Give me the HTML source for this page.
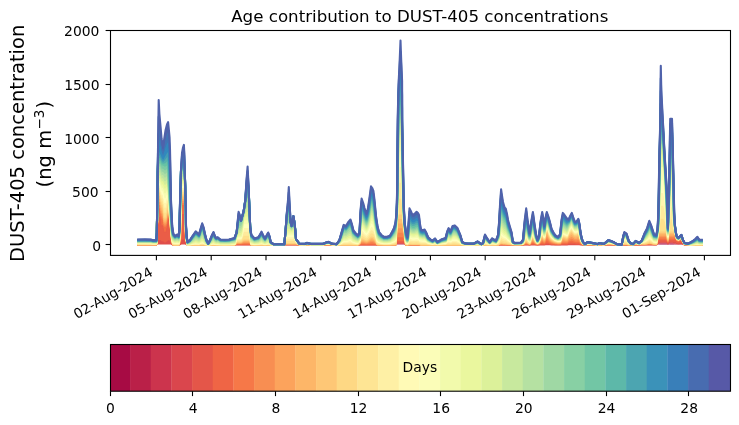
<!DOCTYPE html><html><head><meta charset="utf-8"><title>Age contribution to DUST-405 concentrations</title>
<style>html,body{margin:0;padding:0;background:#fff}svg{display:block}text{font-family:"DejaVu Sans","Liberation Sans",sans-serif;fill:#000}</style></head><body>
<svg width="739" height="425" viewBox="0 0 739 425">
<rect width="739" height="425" fill="#fff"/>
<g id="areas">
<polygon points="137.2,244.5 145,244.5 151,244.5 153,244.5 156.3,244.5 156.8,244.5 157.1,244.5 157.7,244.5 158.3,244.5 158.7,244.5 159.4,244.5 160.6,244.5 161.6,244.5 163.1,244.5 164.4,244.5 165.6,244.5 167,244.5 168.1,244.5 168.9,244.5 169.6,244.5 170,244.5 170.4,244.5 171,244.5 171.6,244.5 172.2,244.5 173.3,244.5 175,244.5 177.4,244.5 178.6,244.5 179.5,244.5 179.8,244.5 180.3,244.5 181,244.5 182,244.5 183,244.5 183.9,244.5 184.3,244.5 184.6,244.5 185.2,244.5 185.8,244.5 186,244.5 186.6,244.5 187.6,244.5 190,244.5 192.5,244.5 195.7,244.5 197.5,244.5 199,244.5 200.5,244.5 202.2,244.5 203.5,244.5 205,244.5 206.5,244.5 208.2,244.5 210,244.5 212,244.5 213.5,244.5 215,244.5 216.3,244.5 217.7,244.5 220.4,244.5 225,244.5 229,244.5 234.5,244.5 236.6,244.5 238.6,244.5 239.8,244.5 241,244.5 243.7,244.5 245.3,244.5 246.5,244.5 247.6,244.5 248.5,244.5 249.1,244.5 250.2,244.5 251.3,244.5 254.5,244.5 258.3,244.5 260,244.5 261.5,244.5 263,244.5 265,244.5 266.8,244.5 268.2,244.5 269.5,244.5 270.7,244.5 273.4,244.5 284.3,244.5 285.4,244.5 287,244.5 288,244.5 288.8,244.5 289.6,244.5 290.6,244.5 291.6,244.5 293.4,244.5 294.4,244.5 295.3,244.5 296,244.5 299.3,244.5 305,244.5 307,244.5 311,244.5 323,244.5 326,244.5 328.5,244.5 331.8,244.5 336.7,244.5 339.4,244.5 341.5,244.5 343.7,244.5 345.9,244.5 348.6,244.5 350.5,244.5 351.8,244.5 353.4,244.5 355.5,244.5 357.8,244.5 359.5,244.5 360.5,244.5 361.6,244.5 363.2,244.5 364.5,244.5 366.5,244.5 368,244.5 369.6,244.5 371,244.5 372.2,244.5 373.4,244.5 374.5,244.5 376,244.5 377.5,244.5 379,244.5 381.5,244.5 384,244.5 387,244.5 390,244.5 392,244.5 394,244.5 395.6,244.5 396.5,244.2 396.9,244.2 397.2,244.2 397.6,244.2 398.7,244.2 399.7,244.2 400.5,244.2 401.2,244.2 402.1,244.2 402.2,244.2 402.8,244.2 403.4,244.2 403.8,244.2 404.6,244.2 406,244.5 407.4,244.5 408.4,244.5 409.5,244.5 410.8,244.5 412,244.5 414,244.5 416.6,244.5 418,244.5 419,244.5 420,244.5 421,244.5 422.6,244.5 424.6,244.5 426,244.5 428.2,244.5 430.5,244.5 432.6,244.5 435,244.5 437.4,244.5 441.2,244.5 445.6,244.5 447.2,244.5 448.6,244.5 450.4,244.5 452.6,244.5 454.8,244.5 457.5,244.5 460.2,244.5 462.3,244.5 465,244.5 468.3,244.5 473.7,244.5 477.5,244.5 481.3,244.5 483,244.5 485,244.5 487.2,244.5 489.7,244.5 492.1,244.5 495.9,244.5 498.1,244.5 499.1,244.5 500,244.5 501.1,244.5 502.2,244.5 503,244.5 504.6,244.5 505.8,244.5 507,244.5 508,244.5 510,244.5 511.5,244.5 512.9,244.5 514.5,244.5 521,244.5 523,244.5 524.5,244.5 526.2,244.5 527.8,244.5 529.6,244.5 531.2,244.5 532.9,244.5 534.5,244.5 536,244.5 537.5,244.5 539,244.5 540.5,244.5 542.2,244.5 543.2,244.5 544.3,244.5 545.5,244.5 546.8,244.5 548.2,244.5 549.9,244.5 551.6,244.5 553.5,244.5 555.5,244.5 558,244.5 560.1,244.5 561.5,244.5 562.8,244.5 564.5,244.5 566.9,244.5 568.6,244.5 570.4,244.5 571.8,244.5 573.4,244.5 575,244.5 576.5,244.5 578.3,244.5 579.5,244.5 580.3,244.5 581.6,244.5 583,244.5 584.9,244.5 587.6,244.5 593,244.5 597.3,244.5 599.5,244.5 603.8,244.5 606,244.5 608.4,244.5 610.5,244.5 613.5,244.5 616.8,244.5 621.7,244.5 623.3,244.5 624.4,244.5 626.5,244.5 628.7,244.5 630.5,244.5 633,244.5 635.7,244.5 639,244.5 641.7,244.5 644.4,244.5 647.1,244.5 649.3,244.5 651.4,244.5 654.1,244.5 656.3,244.5 657.6,244.3 658.2,244.3 658.6,244.2 659.4,244.1 660.2,244 660.5,244 660.8,244 661.3,244 663.1,244 664.4,244 665.6,244 666.9,244 667.4,244.1 667.9,244.3 668.3,244.1 668.9,244 669.3,244.2 669.7,244 670,244 670.2,244 672,244 672.3,244 672.8,244 673.3,244 673.8,244.1 674.2,244.2 675,244.1 676.2,244.3 677,244.3 678.4,244.4 681.4,244.3 683,244.4 684.6,244.5 687.9,244.5 690.5,244.5 693.3,244.5 695.5,244.5 697.4,244.5 699.2,244.5 702.8,244.5 702.8,244.5 699.2,244.5 697.4,244.5 695.5,244.5 693.3,244.5 690.5,244.5 687.9,244.5 684.6,244.5 683,244.5 681.4,244.5 678.4,244.5 677,244.5 676.2,244.5 675,244.5 674.2,244.5 673.8,244.5 673.3,244.5 672.8,244.5 672.3,244.5 672,244.5 670.2,244.5 670,244.5 669.7,244.5 669.3,244.5 668.9,244.5 668.3,244.5 667.9,244.5 667.4,244.5 666.9,244.5 665.6,244.5 664.4,244.5 663.1,244.5 661.3,244.5 660.8,244.5 660.5,244.5 660.2,244.5 659.4,244.5 658.6,244.5 658.2,244.5 657.6,244.5 656.3,244.5 654.1,244.5 651.4,244.5 649.3,244.5 647.1,244.5 644.4,244.5 641.7,244.5 639,244.5 635.7,244.5 633,244.5 630.5,244.5 628.7,244.5 626.5,244.5 624.4,244.5 623.3,244.5 621.7,244.5 616.8,244.5 613.5,244.5 610.5,244.5 608.4,244.5 606,244.5 603.8,244.5 599.5,244.5 597.3,244.5 593,244.5 587.6,244.5 584.9,244.5 583,244.5 581.6,244.5 580.3,244.5 579.5,244.5 578.3,244.5 576.5,244.5 575,244.5 573.4,244.5 571.8,244.5 570.4,244.5 568.6,244.5 566.9,244.5 564.5,244.5 562.8,244.5 561.5,244.5 560.1,244.5 558,244.5 555.5,244.5 553.5,244.5 551.6,244.5 549.9,244.5 548.2,244.5 546.8,244.5 545.5,244.5 544.3,244.5 543.2,244.5 542.2,244.5 540.5,244.5 539,244.5 537.5,244.5 536,244.5 534.5,244.5 532.9,244.5 531.2,244.5 529.6,244.5 527.8,244.5 526.2,244.5 524.5,244.5 523,244.5 521,244.5 514.5,244.5 512.9,244.5 511.5,244.5 510,244.5 508,244.5 507,244.5 505.8,244.5 504.6,244.5 503,244.5 502.2,244.5 501.1,244.5 500,244.5 499.1,244.5 498.1,244.5 495.9,244.5 492.1,244.5 489.7,244.5 487.2,244.5 485,244.5 483,244.5 481.3,244.5 477.5,244.5 473.7,244.5 468.3,244.5 465,244.5 462.3,244.5 460.2,244.5 457.5,244.5 454.8,244.5 452.6,244.5 450.4,244.5 448.6,244.5 447.2,244.5 445.6,244.5 441.2,244.5 437.4,244.5 435,244.5 432.6,244.5 430.5,244.5 428.2,244.5 426,244.5 424.6,244.5 422.6,244.5 421,244.5 420,244.5 419,244.5 418,244.5 416.6,244.5 414,244.5 412,244.5 410.8,244.5 409.5,244.5 408.4,244.5 407.4,244.5 406,244.5 404.6,244.5 403.8,244.5 403.4,244.5 402.8,244.5 402.2,244.5 402.1,244.5 401.2,244.5 400.5,244.5 399.7,244.5 398.7,244.5 397.6,244.5 397.2,244.5 396.9,244.5 396.5,244.5 395.6,244.5 394,244.5 392,244.5 390,244.5 387,244.5 384,244.5 381.5,244.5 379,244.5 377.5,244.5 376,244.5 374.5,244.5 373.4,244.5 372.2,244.5 371,244.5 369.6,244.5 368,244.5 366.5,244.5 364.5,244.5 363.2,244.5 361.6,244.5 360.5,244.5 359.5,244.5 357.8,244.5 355.5,244.5 353.4,244.5 351.8,244.5 350.5,244.5 348.6,244.5 345.9,244.5 343.7,244.5 341.5,244.5 339.4,244.5 336.7,244.5 331.8,244.5 328.5,244.5 326,244.5 323,244.5 311,244.5 307,244.5 305,244.5 299.3,244.5 296,244.5 295.3,244.5 294.4,244.5 293.4,244.5 291.6,244.5 290.6,244.5 289.6,244.5 288.8,244.5 288,244.5 287,244.5 285.4,244.5 284.3,244.5 273.4,244.5 270.7,244.5 269.5,244.5 268.2,244.5 266.8,244.5 265,244.5 263,244.5 261.5,244.5 260,244.5 258.3,244.5 254.5,244.5 251.3,244.5 250.2,244.5 249.1,244.5 248.5,244.5 247.6,244.5 246.5,244.5 245.3,244.5 243.7,244.5 241,244.5 239.8,244.5 238.6,244.5 236.6,244.5 234.5,244.5 229,244.5 225,244.5 220.4,244.5 217.7,244.5 216.3,244.5 215,244.5 213.5,244.5 212,244.5 210,244.5 208.2,244.5 206.5,244.5 205,244.5 203.5,244.5 202.2,244.5 200.5,244.5 199,244.5 197.5,244.5 195.7,244.5 192.5,244.5 190,244.5 187.6,244.5 186.6,244.5 186,244.5 185.8,244.5 185.2,244.5 184.6,244.5 184.3,244.5 183.9,244.5 183,244.5 182,244.5 181,244.5 180.3,244.5 179.8,244.5 179.5,244.5 178.6,244.5 177.4,244.5 175,244.5 173.3,244.5 172.2,244.5 171.6,244.5 171,244.5 170.4,244.5 170,244.5 169.6,244.5 168.9,244.5 168.1,244.5 167,244.5 165.6,244.5 164.4,244.5 163.1,244.5 161.6,244.5 160.6,244.5 159.4,244.5 158.7,244.5 158.3,244.5 157.7,244.5 157.1,244.5 156.8,244.5 156.3,244.5 153,244.5 151,244.5 145,244.5 137.2,244.5" fill="#9e0142"/>
<polygon points="137.2,244.5 145,244.5 151,244.5 153,244.5 156.3,244.5 156.8,244.5 157.1,244.5 157.7,244.5 158.3,244.5 158.7,244.5 159.4,244.5 160.6,244.5 161.6,244.5 163.1,244.5 164.4,244.5 165.6,244.5 167,244.5 168.1,244.5 168.9,244.5 169.6,244.5 170,244.5 170.4,244.5 171,244.5 171.6,244.5 172.2,244.5 173.3,244.5 175,244.5 177.4,244.5 178.6,244.5 179.5,244.5 179.8,244.5 180.3,244.5 181,244.5 182,244.5 183,244.5 183.9,244.5 184.3,244.5 184.6,244.5 185.2,244.5 185.8,244.5 186,244.5 186.6,244.5 187.6,244.5 190,244.5 192.5,244.5 195.7,244.5 197.5,244.5 199,244.5 200.5,244.5 202.2,244.5 203.5,244.5 205,244.5 206.5,244.5 208.2,244.5 210,244.5 212,244.5 213.5,244.5 215,244.5 216.3,244.5 217.7,244.5 220.4,244.5 225,244.5 229,244.5 234.5,244.5 236.6,244.5 238.6,244.5 239.8,244.5 241,244.5 243.7,244.5 245.3,244.5 246.5,244.5 247.6,244.5 248.5,244.5 249.1,244.5 250.2,244.5 251.3,244.5 254.5,244.5 258.3,244.5 260,244.5 261.5,244.5 263,244.5 265,244.5 266.8,244.5 268.2,244.5 269.5,244.5 270.7,244.5 273.4,244.5 284.3,244.5 285.4,244.5 287,244.5 288,244.5 288.8,244.5 289.6,244.5 290.6,244.5 291.6,244.5 293.4,244.5 294.4,244.5 295.3,244.5 296,244.5 299.3,244.5 305,244.5 307,244.5 311,244.5 323,244.5 326,244.5 328.5,244.5 331.8,244.5 336.7,244.5 339.4,244.5 341.5,244.5 343.7,244.5 345.9,244.5 348.6,244.5 350.5,244.5 351.8,244.5 353.4,244.5 355.5,244.5 357.8,244.5 359.5,244.5 360.5,244.5 361.6,244.5 363.2,244.5 364.5,244.5 366.5,244.5 368,244.5 369.6,244.5 371,244.5 372.2,244.5 373.4,244.5 374.5,244.5 376,244.5 377.5,244.5 379,244.5 381.5,244.5 384,244.5 387,244.5 390,244.5 392,244.5 394,244.5 395.6,244.5 396.5,243.9 396.9,243.9 397.2,243.9 397.6,243.9 398.7,243.9 399.7,243.9 400.5,243.9 401.2,243.9 402.1,243.9 402.2,243.9 402.8,243.9 403.4,243.9 403.8,243.9 404.6,243.9 406,244.5 407.4,244.5 408.4,244.5 409.5,244.5 410.8,244.5 412,244.5 414,244.5 416.6,244.5 418,244.5 419,244.5 420,244.5 421,244.5 422.6,244.5 424.6,244.5 426,244.5 428.2,244.5 430.5,244.5 432.6,244.5 435,244.5 437.4,244.5 441.2,244.5 445.6,244.5 447.2,244.5 448.6,244.5 450.4,244.5 452.6,244.5 454.8,244.5 457.5,244.5 460.2,244.5 462.3,244.5 465,244.5 468.3,244.5 473.7,244.5 477.5,244.5 481.3,244.5 483,244.5 485,244.5 487.2,244.5 489.7,244.5 492.1,244.5 495.9,244.5 498.1,244.5 499.1,244.5 500,244.5 501.1,244.5 502.2,244.5 503,244.5 504.6,244.5 505.8,244.5 507,244.5 508,244.5 510,244.5 511.5,244.5 512.9,244.5 514.5,244.5 521,244.5 523,244.5 524.5,244.5 526.2,244.5 527.8,244.5 529.6,244.5 531.2,244.5 532.9,244.5 534.5,244.5 536,244.5 537.5,244.5 539,244.5 540.5,244.5 542.2,244.5 543.2,244.5 544.3,244.5 545.5,244.5 546.8,244.5 548.2,244.5 549.9,244.5 551.6,244.5 553.5,244.5 555.5,244.5 558,244.5 560.1,244.5 561.5,244.5 562.8,244.5 564.5,244.5 566.9,244.5 568.6,244.5 570.4,244.5 571.8,244.5 573.4,244.5 575,244.5 576.5,244.5 578.3,244.5 579.5,244.5 580.3,244.5 581.6,244.5 583,244.5 584.9,244.5 587.6,244.5 593,244.5 597.3,244.5 599.5,244.5 603.8,244.5 606,244.5 608.4,244.5 610.5,244.5 613.5,244.5 616.8,244.5 621.7,244.5 623.3,244.5 624.4,244.5 626.5,244.5 628.7,244.5 630.5,244.5 633,244.5 635.7,244.5 639,244.5 641.7,244.5 644.4,244.5 647.1,244.5 649.3,244.5 651.4,244.5 654.1,244.5 656.3,244.5 657.6,244.1 658.2,244 658.6,244 659.4,243.6 660.2,243.5 660.5,243.5 660.8,243.5 661.3,243.5 663.1,243.5 664.4,243.5 665.6,243.5 666.9,243.5 667.4,243.8 667.9,244.2 668.3,243.8 668.9,243.5 669.3,243.8 669.7,243.5 670,243.5 670.2,243.5 672,243.5 672.3,243.5 672.8,243.5 673.3,243.5 673.8,243.8 674.2,243.9 675,243.7 676.2,244.1 677,244.2 678.4,244.2 681.4,244.1 683,244.3 684.6,244.5 687.9,244.5 690.5,244.5 693.3,244.5 695.5,244.5 697.4,244.5 699.2,244.5 702.8,244.5 702.8,244.5 699.2,244.5 697.4,244.5 695.5,244.5 693.3,244.5 690.5,244.5 687.9,244.5 684.6,244.5 683,244.4 681.4,244.3 678.4,244.4 677,244.3 676.2,244.3 675,244.1 674.2,244.2 673.8,244.1 673.3,244 672.8,244 672.3,244 672,244 670.2,244 670,244 669.7,244 669.3,244.2 668.9,244 668.3,244.1 667.9,244.3 667.4,244.1 666.9,244 665.6,244 664.4,244 663.1,244 661.3,244 660.8,244 660.5,244 660.2,244 659.4,244.1 658.6,244.2 658.2,244.3 657.6,244.3 656.3,244.5 654.1,244.5 651.4,244.5 649.3,244.5 647.1,244.5 644.4,244.5 641.7,244.5 639,244.5 635.7,244.5 633,244.5 630.5,244.5 628.7,244.5 626.5,244.5 624.4,244.5 623.3,244.5 621.7,244.5 616.8,244.5 613.5,244.5 610.5,244.5 608.4,244.5 606,244.5 603.8,244.5 599.5,244.5 597.3,244.5 593,244.5 587.6,244.5 584.9,244.5 583,244.5 581.6,244.5 580.3,244.5 579.5,244.5 578.3,244.5 576.5,244.5 575,244.5 573.4,244.5 571.8,244.5 570.4,244.5 568.6,244.5 566.9,244.5 564.5,244.5 562.8,244.5 561.5,244.5 560.1,244.5 558,244.5 555.5,244.5 553.5,244.5 551.6,244.5 549.9,244.5 548.2,244.5 546.8,244.5 545.5,244.5 544.3,244.5 543.2,244.5 542.2,244.5 540.5,244.5 539,244.5 537.5,244.5 536,244.5 534.5,244.5 532.9,244.5 531.2,244.5 529.6,244.5 527.8,244.5 526.2,244.5 524.5,244.5 523,244.5 521,244.5 514.5,244.5 512.9,244.5 511.5,244.5 510,244.5 508,244.5 507,244.5 505.8,244.5 504.6,244.5 503,244.5 502.2,244.5 501.1,244.5 500,244.5 499.1,244.5 498.1,244.5 495.9,244.5 492.1,244.5 489.7,244.5 487.2,244.5 485,244.5 483,244.5 481.3,244.5 477.5,244.5 473.7,244.5 468.3,244.5 465,244.5 462.3,244.5 460.2,244.5 457.5,244.5 454.8,244.5 452.6,244.5 450.4,244.5 448.6,244.5 447.2,244.5 445.6,244.5 441.2,244.5 437.4,244.5 435,244.5 432.6,244.5 430.5,244.5 428.2,244.5 426,244.5 424.6,244.5 422.6,244.5 421,244.5 420,244.5 419,244.5 418,244.5 416.6,244.5 414,244.5 412,244.5 410.8,244.5 409.5,244.5 408.4,244.5 407.4,244.5 406,244.5 404.6,244.2 403.8,244.2 403.4,244.2 402.8,244.2 402.2,244.2 402.1,244.2 401.2,244.2 400.5,244.2 399.7,244.2 398.7,244.2 397.6,244.2 397.2,244.2 396.9,244.2 396.5,244.2 395.6,244.5 394,244.5 392,244.5 390,244.5 387,244.5 384,244.5 381.5,244.5 379,244.5 377.5,244.5 376,244.5 374.5,244.5 373.4,244.5 372.2,244.5 371,244.5 369.6,244.5 368,244.5 366.5,244.5 364.5,244.5 363.2,244.5 361.6,244.5 360.5,244.5 359.5,244.5 357.8,244.5 355.5,244.5 353.4,244.5 351.8,244.5 350.5,244.5 348.6,244.5 345.9,244.5 343.7,244.5 341.5,244.5 339.4,244.5 336.7,244.5 331.8,244.5 328.5,244.5 326,244.5 323,244.5 311,244.5 307,244.5 305,244.5 299.3,244.5 296,244.5 295.3,244.5 294.4,244.5 293.4,244.5 291.6,244.5 290.6,244.5 289.6,244.5 288.8,244.5 288,244.5 287,244.5 285.4,244.5 284.3,244.5 273.4,244.5 270.7,244.5 269.5,244.5 268.2,244.5 266.8,244.5 265,244.5 263,244.5 261.5,244.5 260,244.5 258.3,244.5 254.5,244.5 251.3,244.5 250.2,244.5 249.1,244.5 248.5,244.5 247.6,244.5 246.5,244.5 245.3,244.5 243.7,244.5 241,244.5 239.8,244.5 238.6,244.5 236.6,244.5 234.5,244.5 229,244.5 225,244.5 220.4,244.5 217.7,244.5 216.3,244.5 215,244.5 213.5,244.5 212,244.5 210,244.5 208.2,244.5 206.5,244.5 205,244.5 203.5,244.5 202.2,244.5 200.5,244.5 199,244.5 197.5,244.5 195.7,244.5 192.5,244.5 190,244.5 187.6,244.5 186.6,244.5 186,244.5 185.8,244.5 185.2,244.5 184.6,244.5 184.3,244.5 183.9,244.5 183,244.5 182,244.5 181,244.5 180.3,244.5 179.8,244.5 179.5,244.5 178.6,244.5 177.4,244.5 175,244.5 173.3,244.5 172.2,244.5 171.6,244.5 171,244.5 170.4,244.5 170,244.5 169.6,244.5 168.9,244.5 168.1,244.5 167,244.5 165.6,244.5 164.4,244.5 163.1,244.5 161.6,244.5 160.6,244.5 159.4,244.5 158.7,244.5 158.3,244.5 157.7,244.5 157.1,244.5 156.8,244.5 156.3,244.5 153,244.5 151,244.5 145,244.5 137.2,244.5" fill="#b01546"/>
<polygon points="137.2,244.5 145,244.5 151,244.5 153,244.5 156.3,244.5 156.8,244.5 157.1,244.5 157.7,244.5 158.3,244.5 158.7,244.5 159.4,244.5 160.6,244.5 161.6,244.5 163.1,244.5 164.4,244.5 165.6,244.5 167,244.5 168.1,244.5 168.9,244.5 169.6,244.5 170,244.5 170.4,244.5 171,244.5 171.6,244.5 172.2,244.5 173.3,244.5 175,244.5 177.4,244.5 178.6,244.5 179.5,244.5 179.8,244.5 180.3,244.5 181,244.5 182,244.5 183,244.5 183.9,244.5 184.3,244.5 184.6,244.5 185.2,244.5 185.8,244.5 186,244.5 186.6,244.5 187.6,244.5 190,244.5 192.5,244.5 195.7,244.5 197.5,244.5 199,244.5 200.5,244.5 202.2,244.5 203.5,244.5 205,244.5 206.5,244.5 208.2,244.5 210,244.5 212,244.5 213.5,244.5 215,244.5 216.3,244.5 217.7,244.5 220.4,244.5 225,244.5 229,244.5 234.5,244.5 236.6,244.5 238.6,244.5 239.8,244.5 241,244.5 243.7,244.5 245.3,244.5 246.5,244.5 247.6,244.5 248.5,244.5 249.1,244.5 250.2,244.5 251.3,244.5 254.5,244.5 258.3,244.5 260,244.5 261.5,244.5 263,244.5 265,244.5 266.8,244.5 268.2,244.5 269.5,244.5 270.7,244.5 273.4,244.5 284.3,244.5 285.4,244.5 287,244.5 288,244.5 288.8,244.5 289.6,244.5 290.6,244.5 291.6,244.5 293.4,244.5 294.4,244.5 295.3,244.5 296,244.5 299.3,244.5 305,244.5 307,244.5 311,244.5 323,244.5 326,244.5 328.5,244.5 331.8,244.5 336.7,244.5 339.4,244.5 341.5,244.5 343.7,244.5 345.9,244.5 348.6,244.5 350.5,244.5 351.8,244.5 353.4,244.5 355.5,244.5 357.8,244.5 359.5,244.5 360.5,244.5 361.6,244.5 363.2,244.5 364.5,244.5 366.5,244.5 368,244.5 369.6,244.5 371,244.5 372.2,244.5 373.4,244.5 374.5,244.5 376,244.5 377.5,244.5 379,244.5 381.5,244.5 384,244.5 387,244.5 390,244.5 392,244.5 394,244.5 395.6,244.5 396.5,243.6 396.9,243.6 397.2,243.6 397.6,243.6 398.7,243.6 399.7,243.6 400.5,243.6 401.2,243.6 402.1,243.6 402.2,243.6 402.8,243.6 403.4,243.6 403.8,243.6 404.6,243.6 406,244.5 407.4,244.5 408.4,244.5 409.5,244.5 410.8,244.5 412,244.5 414,244.5 416.6,244.5 418,244.5 419,244.5 420,244.5 421,244.5 422.6,244.5 424.6,244.5 426,244.5 428.2,244.5 430.5,244.5 432.6,244.5 435,244.5 437.4,244.5 441.2,244.5 445.6,244.5 447.2,244.5 448.6,244.5 450.4,244.5 452.6,244.5 454.8,244.5 457.5,244.5 460.2,244.5 462.3,244.5 465,244.5 468.3,244.5 473.7,244.5 477.5,244.5 481.3,244.5 483,244.5 485,244.5 487.2,244.5 489.7,244.5 492.1,244.5 495.9,244.5 498.1,244.5 499.1,244.5 500,244.5 501.1,244.5 502.2,244.5 503,244.5 504.6,244.5 505.8,244.5 507,244.5 508,244.5 510,244.5 511.5,244.5 512.9,244.5 514.5,244.5 521,244.5 523,244.5 524.5,244.5 526.2,244.5 527.8,244.5 529.6,244.5 531.2,244.5 532.9,244.5 534.5,244.5 536,244.5 537.5,244.5 539,244.5 540.5,244.5 542.2,244.5 543.2,244.5 544.3,244.5 545.5,244.5 546.8,244.5 548.2,244.5 549.9,244.5 551.6,244.5 553.5,244.5 555.5,244.5 558,244.5 560.1,244.5 561.5,244.5 562.8,244.5 564.5,244.5 566.9,244.5 568.6,244.5 570.4,244.5 571.8,244.5 573.4,244.5 575,244.5 576.5,244.5 578.3,244.5 579.5,244.5 580.3,244.5 581.6,244.5 583,244.5 584.9,244.5 587.6,244.5 593,244.5 597.3,244.5 599.5,244.5 603.8,244.5 606,244.5 608.4,244.5 610.5,244.5 613.5,244.5 616.8,244.5 621.7,244.5 623.3,244.5 624.4,244.5 626.5,244.5 628.7,244.5 630.5,244.5 633,244.5 635.7,244.5 639,244.5 641.7,244.5 644.4,244.5 647.1,244.5 649.3,244.5 651.4,244.5 654.1,244.5 656.3,244.5 657.6,243.9 658.2,243.8 658.6,243.7 659.4,243.2 660.2,242.9 660.5,242.9 660.8,242.9 661.3,242.9 663.1,242.9 664.4,242.9 665.6,242.9 666.9,243 667.4,243.4 667.9,244 668.3,243.4 668.9,242.9 669.3,243.5 669.7,242.9 670,242.9 670.2,242.9 672,242.9 672.3,242.9 672.8,242.9 673.3,243 673.8,243.4 674.2,243.6 675,243.3 676.2,243.8 677,244 678.4,244.1 681.4,243.9 683,244.2 684.6,244.5 687.9,244.5 690.5,244.5 693.3,244.5 695.5,244.5 697.4,244.5 699.2,244.5 702.8,244.5 702.8,244.5 699.2,244.5 697.4,244.5 695.5,244.5 693.3,244.5 690.5,244.5 687.9,244.5 684.6,244.5 683,244.3 681.4,244.1 678.4,244.2 677,244.2 676.2,244.1 675,243.7 674.2,243.9 673.8,243.8 673.3,243.5 672.8,243.5 672.3,243.5 672,243.5 670.2,243.5 670,243.5 669.7,243.5 669.3,243.8 668.9,243.5 668.3,243.8 667.9,244.2 667.4,243.8 666.9,243.5 665.6,243.5 664.4,243.5 663.1,243.5 661.3,243.5 660.8,243.5 660.5,243.5 660.2,243.5 659.4,243.6 658.6,244 658.2,244 657.6,244.1 656.3,244.5 654.1,244.5 651.4,244.5 649.3,244.5 647.1,244.5 644.4,244.5 641.7,244.5 639,244.5 635.7,244.5 633,244.5 630.5,244.5 628.7,244.5 626.5,244.5 624.4,244.5 623.3,244.5 621.7,244.5 616.8,244.5 613.5,244.5 610.5,244.5 608.4,244.5 606,244.5 603.8,244.5 599.5,244.5 597.3,244.5 593,244.5 587.6,244.5 584.9,244.5 583,244.5 581.6,244.5 580.3,244.5 579.5,244.5 578.3,244.5 576.5,244.5 575,244.5 573.4,244.5 571.8,244.5 570.4,244.5 568.6,244.5 566.9,244.5 564.5,244.5 562.8,244.5 561.5,244.5 560.1,244.5 558,244.5 555.5,244.5 553.5,244.5 551.6,244.5 549.9,244.5 548.2,244.5 546.8,244.5 545.5,244.5 544.3,244.5 543.2,244.5 542.2,244.5 540.5,244.5 539,244.5 537.5,244.5 536,244.5 534.5,244.5 532.9,244.5 531.2,244.5 529.6,244.5 527.8,244.5 526.2,244.5 524.5,244.5 523,244.5 521,244.5 514.5,244.5 512.9,244.5 511.5,244.5 510,244.5 508,244.5 507,244.5 505.8,244.5 504.6,244.5 503,244.5 502.2,244.5 501.1,244.5 500,244.5 499.1,244.5 498.1,244.5 495.9,244.5 492.1,244.5 489.7,244.5 487.2,244.5 485,244.5 483,244.5 481.3,244.5 477.5,244.5 473.7,244.5 468.3,244.5 465,244.5 462.3,244.5 460.2,244.5 457.5,244.5 454.8,244.5 452.6,244.5 450.4,244.5 448.6,244.5 447.2,244.5 445.6,244.5 441.2,244.5 437.4,244.5 435,244.5 432.6,244.5 430.5,244.5 428.2,244.5 426,244.5 424.6,244.5 422.6,244.5 421,244.5 420,244.5 419,244.5 418,244.5 416.6,244.5 414,244.5 412,244.5 410.8,244.5 409.5,244.5 408.4,244.5 407.4,244.5 406,244.5 404.6,243.9 403.8,243.9 403.4,243.9 402.8,243.9 402.2,243.9 402.1,243.9 401.2,243.9 400.5,243.9 399.7,243.9 398.7,243.9 397.6,243.9 397.2,243.9 396.9,243.9 396.5,243.9 395.6,244.5 394,244.5 392,244.5 390,244.5 387,244.5 384,244.5 381.5,244.5 379,244.5 377.5,244.5 376,244.5 374.5,244.5 373.4,244.5 372.2,244.5 371,244.5 369.6,244.5 368,244.5 366.5,244.5 364.5,244.5 363.2,244.5 361.6,244.5 360.5,244.5 359.5,244.5 357.8,244.5 355.5,244.5 353.4,244.5 351.8,244.5 350.5,244.5 348.6,244.5 345.9,244.5 343.7,244.5 341.5,244.5 339.4,244.5 336.7,244.5 331.8,244.5 328.5,244.5 326,244.5 323,244.5 311,244.5 307,244.5 305,244.5 299.3,244.5 296,244.5 295.3,244.5 294.4,244.5 293.4,244.5 291.6,244.5 290.6,244.5 289.6,244.5 288.8,244.5 288,244.5 287,244.5 285.4,244.5 284.3,244.5 273.4,244.5 270.7,244.5 269.5,244.5 268.2,244.5 266.8,244.5 265,244.5 263,244.5 261.5,244.5 260,244.5 258.3,244.5 254.5,244.5 251.3,244.5 250.2,244.5 249.1,244.5 248.5,244.5 247.6,244.5 246.5,244.5 245.3,244.5 243.7,244.5 241,244.5 239.8,244.5 238.6,244.5 236.6,244.5 234.5,244.5 229,244.5 225,244.5 220.4,244.5 217.7,244.5 216.3,244.5 215,244.5 213.5,244.5 212,244.5 210,244.5 208.2,244.5 206.5,244.5 205,244.5 203.5,244.5 202.2,244.5 200.5,244.5 199,244.5 197.5,244.5 195.7,244.5 192.5,244.5 190,244.5 187.6,244.5 186.6,244.5 186,244.5 185.8,244.5 185.2,244.5 184.6,244.5 184.3,244.5 183.9,244.5 183,244.5 182,244.5 181,244.5 180.3,244.5 179.8,244.5 179.5,244.5 178.6,244.5 177.4,244.5 175,244.5 173.3,244.5 172.2,244.5 171.6,244.5 171,244.5 170.4,244.5 170,244.5 169.6,244.5 168.9,244.5 168.1,244.5 167,244.5 165.6,244.5 164.4,244.5 163.1,244.5 161.6,244.5 160.6,244.5 159.4,244.5 158.7,244.5 158.3,244.5 157.7,244.5 157.1,244.5 156.8,244.5 156.3,244.5 153,244.5 151,244.5 145,244.5 137.2,244.5" fill="#c32a4b"/>
<polygon points="137.2,244.5 145,244.5 151,244.5 153,244.5 156.3,244.5 156.8,244.5 157.1,244.5 157.7,244.5 158.3,244.5 158.7,244.5 159.4,244.5 160.6,244.5 161.6,244.5 163.1,244.5 164.4,244.5 165.6,244.5 167,244.5 168.1,244.5 168.9,244.5 169.6,244.5 170,244.5 170.4,244.5 171,244.5 171.6,244.5 172.2,244.5 173.3,244.5 175,244.5 177.4,244.5 178.6,244.5 179.5,244.5 179.8,244.5 180.3,244.5 181,244.5 182,244.5 183,244.5 183.9,244.5 184.3,244.5 184.6,244.5 185.2,244.5 185.8,244.5 186,244.5 186.6,244.5 187.6,244.5 190,244.5 192.5,244.5 195.7,244.5 197.5,244.5 199,244.5 200.5,244.5 202.2,244.5 203.5,244.5 205,244.5 206.5,244.5 208.2,244.5 210,244.5 212,244.5 213.5,244.5 215,244.5 216.3,244.5 217.7,244.5 220.4,244.5 225,244.5 229,244.5 234.5,244.5 236.6,244.5 238.6,244.5 239.8,244.5 241,244.5 243.7,244.5 245.3,244.5 246.5,244.5 247.6,244.5 248.5,244.5 249.1,244.5 250.2,244.5 251.3,244.5 254.5,244.5 258.3,244.5 260,244.5 261.5,244.5 263,244.5 265,244.5 266.8,244.5 268.2,244.5 269.5,244.5 270.7,244.5 273.4,244.5 284.3,244.5 285.4,244.5 287,244.5 288,244.5 288.8,244.5 289.6,244.5 290.6,244.5 291.6,244.5 293.4,244.5 294.4,244.5 295.3,244.5 296,244.5 299.3,244.5 305,244.5 307,244.5 311,244.5 323,244.5 326,244.5 328.5,244.5 331.8,244.5 336.7,244.5 339.4,244.5 341.5,244.5 343.7,244.5 345.9,244.5 348.6,244.5 350.5,244.5 351.8,244.5 353.4,244.5 355.5,244.5 357.8,244.5 359.5,244.5 360.5,244.5 361.6,244.5 363.2,244.5 364.5,244.5 366.5,244.5 368,244.5 369.6,244.5 371,244.5 372.2,244.5 373.4,244.5 374.5,244.5 376,244.5 377.5,244.5 379,244.5 381.5,244.5 384,244.5 387,244.5 390,244.5 392,244.5 394,244.5 395.6,244.5 396.5,243.2 396.9,243.2 397.2,243.2 397.6,243.2 398.7,243.2 399.7,243.2 400.5,243.2 401.2,243.2 402.1,243.2 402.2,243.2 402.8,243.2 403.4,243.2 403.8,243.2 404.6,243.3 406,244.5 407.4,244.5 408.4,244.5 409.5,244.5 410.8,244.5 412,244.5 414,244.5 416.6,244.5 418,244.5 419,244.5 420,244.5 421,244.5 422.6,244.5 424.6,244.5 426,244.5 428.2,244.5 430.5,244.5 432.6,244.5 435,244.5 437.4,244.5 441.2,244.5 445.6,244.5 447.2,244.5 448.6,244.5 450.4,244.5 452.6,244.5 454.8,244.5 457.5,244.5 460.2,244.5 462.3,244.5 465,244.5 468.3,244.5 473.7,244.5 477.5,244.5 481.3,244.5 483,244.5 485,244.5 487.2,244.5 489.7,244.5 492.1,244.5 495.9,244.5 498.1,244.5 499.1,244.5 500,244.5 501.1,244.5 502.2,244.5 503,244.5 504.6,244.5 505.8,244.5 507,244.5 508,244.5 510,244.5 511.5,244.5 512.9,244.5 514.5,244.5 521,244.5 523,244.5 524.5,244.5 526.2,244.5 527.8,244.5 529.6,244.5 531.2,244.5 532.9,244.5 534.5,244.5 536,244.5 537.5,244.5 539,244.5 540.5,244.5 542.2,244.5 543.2,244.5 544.3,244.5 545.5,244.5 546.8,244.5 548.2,244.5 549.9,244.5 551.6,244.5 553.5,244.5 555.5,244.5 558,244.5 560.1,244.5 561.5,244.5 562.8,244.5 564.5,244.5 566.9,244.5 568.6,244.5 570.4,244.5 571.8,244.5 573.4,244.5 575,244.5 576.5,244.5 578.3,244.5 579.5,244.5 580.3,244.5 581.6,244.5 583,244.5 584.9,244.5 587.6,244.5 593,244.5 597.3,244.5 599.5,244.5 603.8,244.5 606,244.5 608.4,244.5 610.5,244.5 613.5,244.5 616.8,244.5 621.7,244.5 623.3,244.5 624.4,244.5 626.5,244.5 628.7,244.5 630.5,244.5 633,244.5 635.7,244.5 639,244.5 641.7,244.5 644.4,244.5 647.1,244.5 649.3,244.5 651.4,244.5 654.1,244.5 656.3,244.5 657.6,243.7 658.2,243.6 658.6,243.4 659.4,242.8 660.2,242.4 660.5,242.4 660.8,242.4 661.3,242.4 663.1,242.4 664.4,242.4 665.6,242.4 666.9,242.5 667.4,243.1 667.9,243.8 668.3,243.1 668.9,242.4 669.3,243.1 669.7,242.4 670,242.4 670.2,242.4 672,242.4 672.3,242.4 672.8,242.4 673.3,242.5 673.8,243 674.2,243.3 675,242.9 676.2,243.6 677,243.9 678.4,243.9 681.4,243.7 683,244.1 684.6,244.5 687.9,244.5 690.5,244.5 693.3,244.5 695.5,244.5 697.4,244.5 699.2,244.5 702.8,244.5 702.8,244.5 699.2,244.5 697.4,244.5 695.5,244.5 693.3,244.5 690.5,244.5 687.9,244.5 684.6,244.5 683,244.2 681.4,243.9 678.4,244.1 677,244 676.2,243.8 675,243.3 674.2,243.6 673.8,243.4 673.3,243 672.8,242.9 672.3,242.9 672,242.9 670.2,242.9 670,242.9 669.7,242.9 669.3,243.5 668.9,242.9 668.3,243.4 667.9,244 667.4,243.4 666.9,243 665.6,242.9 664.4,242.9 663.1,242.9 661.3,242.9 660.8,242.9 660.5,242.9 660.2,242.9 659.4,243.2 658.6,243.7 658.2,243.8 657.6,243.9 656.3,244.5 654.1,244.5 651.4,244.5 649.3,244.5 647.1,244.5 644.4,244.5 641.7,244.5 639,244.5 635.7,244.5 633,244.5 630.5,244.5 628.7,244.5 626.5,244.5 624.4,244.5 623.3,244.5 621.7,244.5 616.8,244.5 613.5,244.5 610.5,244.5 608.4,244.5 606,244.5 603.8,244.5 599.5,244.5 597.3,244.5 593,244.5 587.6,244.5 584.9,244.5 583,244.5 581.6,244.5 580.3,244.5 579.5,244.5 578.3,244.5 576.5,244.5 575,244.5 573.4,244.5 571.8,244.5 570.4,244.5 568.6,244.5 566.9,244.5 564.5,244.5 562.8,244.5 561.5,244.5 560.1,244.5 558,244.5 555.5,244.5 553.5,244.5 551.6,244.5 549.9,244.5 548.2,244.5 546.8,244.5 545.5,244.5 544.3,244.5 543.2,244.5 542.2,244.5 540.5,244.5 539,244.5 537.5,244.5 536,244.5 534.5,244.5 532.9,244.5 531.2,244.5 529.6,244.5 527.8,244.5 526.2,244.5 524.5,244.5 523,244.5 521,244.5 514.5,244.5 512.9,244.5 511.5,244.5 510,244.5 508,244.5 507,244.5 505.8,244.5 504.6,244.5 503,244.5 502.2,244.5 501.1,244.5 500,244.5 499.1,244.5 498.1,244.5 495.9,244.5 492.1,244.5 489.7,244.5 487.2,244.5 485,244.5 483,244.5 481.3,244.5 477.5,244.5 473.7,244.5 468.3,244.5 465,244.5 462.3,244.5 460.2,244.5 457.5,244.5 454.8,244.5 452.6,244.5 450.4,244.5 448.6,244.5 447.2,244.5 445.6,244.5 441.2,244.5 437.4,244.5 435,244.5 432.6,244.5 430.5,244.5 428.2,244.5 426,244.5 424.6,244.5 422.6,244.5 421,244.5 420,244.5 419,244.5 418,244.5 416.6,244.5 414,244.5 412,244.5 410.8,244.5 409.5,244.5 408.4,244.5 407.4,244.5 406,244.5 404.6,243.6 403.8,243.6 403.4,243.6 402.8,243.6 402.2,243.6 402.1,243.6 401.2,243.6 400.5,243.6 399.7,243.6 398.7,243.6 397.6,243.6 397.2,243.6 396.9,243.6 396.5,243.6 395.6,244.5 394,244.5 392,244.5 390,244.5 387,244.5 384,244.5 381.5,244.5 379,244.5 377.5,244.5 376,244.5 374.5,244.5 373.4,244.5 372.2,244.5 371,244.5 369.6,244.5 368,244.5 366.5,244.5 364.5,244.5 363.2,244.5 361.6,244.5 360.5,244.5 359.5,244.5 357.8,244.5 355.5,244.5 353.4,244.5 351.8,244.5 350.5,244.5 348.6,244.5 345.9,244.5 343.7,244.5 341.5,244.5 339.4,244.5 336.7,244.5 331.8,244.5 328.5,244.5 326,244.5 323,244.5 311,244.5 307,244.5 305,244.5 299.3,244.5 296,244.5 295.3,244.5 294.4,244.5 293.4,244.5 291.6,244.5 290.6,244.5 289.6,244.5 288.8,244.5 288,244.5 287,244.5 285.4,244.5 284.3,244.5 273.4,244.5 270.7,244.5 269.5,244.5 268.2,244.5 266.8,244.5 265,244.5 263,244.5 261.5,244.5 260,244.5 258.3,244.5 254.5,244.5 251.3,244.5 250.2,244.5 249.1,244.5 248.5,244.5 247.6,244.5 246.5,244.5 245.3,244.5 243.7,244.5 241,244.5 239.8,244.5 238.6,244.5 236.6,244.5 234.5,244.5 229,244.5 225,244.5 220.4,244.5 217.7,244.5 216.3,244.5 215,244.5 213.5,244.5 212,244.5 210,244.5 208.2,244.5 206.5,244.5 205,244.5 203.5,244.5 202.2,244.5 200.5,244.5 199,244.5 197.5,244.5 195.7,244.5 192.5,244.5 190,244.5 187.6,244.5 186.6,244.5 186,244.5 185.8,244.5 185.2,244.5 184.6,244.5 184.3,244.5 183.9,244.5 183,244.5 182,244.5 181,244.5 180.3,244.5 179.8,244.5 179.5,244.5 178.6,244.5 177.4,244.5 175,244.5 173.3,244.5 172.2,244.5 171.6,244.5 171,244.5 170.4,244.5 170,244.5 169.6,244.5 168.9,244.5 168.1,244.5 167,244.5 165.6,244.5 164.4,244.5 163.1,244.5 161.6,244.5 160.6,244.5 159.4,244.5 158.7,244.5 158.3,244.5 157.7,244.5 157.1,244.5 156.8,244.5 156.3,244.5 153,244.5 151,244.5 145,244.5 137.2,244.5" fill="#d53e4f"/>
<polygon points="137.2,244.5 145,244.5 151,244.5 153,244.5 156.3,244.5 156.8,243.2 157.1,241.4 157.7,240 158.3,240 158.7,240 159.4,240 160.6,240 161.6,241.3 163.1,241.3 164.4,242.4 165.6,242.4 167,241.3 168.1,240.5 168.9,239.9 169.6,240.8 170,241.3 170.4,241.8 171,242.6 171.6,243.4 172.2,244.2 173.3,244.5 175,244.5 177.4,244.5 178.6,244.5 179.5,244.4 179.8,244.3 180.3,244.1 181,239.4 182,239.4 183,239.4 183.9,239.4 184.3,239.4 184.6,239.4 185.2,239.4 185.8,242.9 186,243.7 186.6,244.2 187.6,244.5 190,244.5 192.5,244.5 195.7,244.5 197.5,244.5 199,244.5 200.5,244.5 202.2,244.5 203.5,244.5 205,244.5 206.5,244.5 208.2,244.5 210,244.5 212,244.5 213.5,244.5 215,244.5 216.3,244.5 217.7,244.5 220.4,244.5 225,244.5 229,244.5 234.5,244.5 236.6,244.4 238.6,244.4 239.8,244.4 241,244.4 243.7,244.5 245.3,244.5 246.5,244.5 247.6,244.5 248.5,244.5 249.1,244.5 250.2,244.5 251.3,244.5 254.5,244.5 258.3,244.5 260,244.5 261.5,244.5 263,244.5 265,244.5 266.8,244.5 268.2,244.5 269.5,244.5 270.7,244.5 273.4,244.5 284.3,244.5 285.4,244.5 287,244.5 288,244.5 288.8,244.5 289.6,244.5 290.6,244.5 291.6,244.5 293.4,244.5 294.4,244.5 295.3,244.5 296,244.5 299.3,244.5 305,244.5 307,244.5 311,244.5 323,244.5 326,244.5 328.5,244.5 331.8,244.5 336.7,244.5 339.4,244.5 341.5,244.5 343.7,244.5 345.9,244.5 348.6,244.5 350.5,244.5 351.8,244.5 353.4,244.5 355.5,244.5 357.8,244.5 359.5,244.5 360.5,244.5 361.6,244.5 363.2,244.5 364.5,244.5 366.5,244.5 368,244.5 369.6,244.5 371,244.5 372.2,244.5 373.4,244.5 374.5,244.5 376,244.5 377.5,244.5 379,244.5 381.5,244.5 384,244.5 387,244.5 390,244.5 392,244.5 394,244.5 395.6,244.5 396.5,242.7 396.9,242.7 397.2,242.7 397.6,242.7 398.7,242.7 399.7,242.7 400.5,242.7 401.2,242.7 402.1,242.7 402.2,242.7 402.8,242.7 403.4,242.7 403.8,242.7 404.6,242.8 406,244.5 407.4,244.5 408.4,244.5 409.5,244.5 410.8,244.5 412,244.5 414,244.5 416.6,244.5 418,244.5 419,244.5 420,244.5 421,244.5 422.6,244.5 424.6,244.5 426,244.5 428.2,244.5 430.5,244.5 432.6,244.5 435,244.5 437.4,244.5 441.2,244.5 445.6,244.5 447.2,244.5 448.6,244.5 450.4,244.5 452.6,244.5 454.8,244.5 457.5,244.5 460.2,244.5 462.3,244.5 465,244.5 468.3,244.5 473.7,244.5 477.5,244.5 481.3,244.5 483,244.5 485,244.5 487.2,244.5 489.7,244.5 492.1,244.5 495.9,244.5 498.1,244.5 499.1,244.5 500,244.5 501.1,244.5 502.2,244.5 503,244.5 504.6,244.5 505.8,244.5 507,244.5 508,244.5 510,244.5 511.5,244.5 512.9,244.5 514.5,244.5 521,244.5 523,244.5 524.5,244.5 526.2,244.5 527.8,244.5 529.6,244.5 531.2,244.4 532.9,244.4 534.5,244.4 536,244.5 537.5,244.5 539,244.5 540.5,244.4 542.2,244.3 543.2,244.4 544.3,244.4 545.5,244.2 546.8,244.2 548.2,244.2 549.9,244.3 551.6,244.4 553.5,244.4 555.5,244.4 558,244.4 560.1,244.5 561.5,244.4 562.8,244.4 564.5,244.4 566.9,244.4 568.6,244.2 570.4,244.2 571.8,244.2 573.4,244.2 575,244.3 576.5,244.3 578.3,244.3 579.5,244.3 580.3,244.4 581.6,244.4 583,244.5 584.9,244.5 587.6,244.5 593,244.5 597.3,244.5 599.5,244.5 603.8,244.5 606,244.5 608.4,244.5 610.5,244.5 613.5,244.5 616.8,244.5 621.7,244.5 623.3,244.5 624.4,244.5 626.5,244.5 628.7,244.5 630.5,244.5 633,244.5 635.7,244.5 639,244.5 641.7,244.5 644.4,244.5 647.1,244.4 649.3,244.4 651.4,244.4 654.1,244.5 656.3,244.5 657.6,243 658.2,242.9 658.6,242.7 659.4,242 660.2,241.7 660.5,241.7 660.8,241.7 661.3,241.7 663.1,241.7 664.4,241.7 665.6,241.7 666.9,241.8 667.4,242.3 667.9,243.5 668.3,242.3 668.9,241.7 669.3,242.4 669.7,241.7 670,241.7 670.2,241.7 672,241.7 672.3,241.7 672.8,241.7 673.3,241.8 673.8,242.3 674.2,242.6 675,241.5 676.2,242.8 677,243.3 678.4,243.4 681.4,242.9 683,243.8 684.6,244.5 687.9,244.5 690.5,244.5 693.3,244.5 695.5,244.5 697.4,244.5 699.2,244.5 702.8,244.5 702.8,244.5 699.2,244.5 697.4,244.5 695.5,244.5 693.3,244.5 690.5,244.5 687.9,244.5 684.6,244.5 683,244.1 681.4,243.7 678.4,243.9 677,243.9 676.2,243.6 675,242.9 674.2,243.3 673.8,243 673.3,242.5 672.8,242.4 672.3,242.4 672,242.4 670.2,242.4 670,242.4 669.7,242.4 669.3,243.1 668.9,242.4 668.3,243.1 667.9,243.8 667.4,243.1 666.9,242.5 665.6,242.4 664.4,242.4 663.1,242.4 661.3,242.4 660.8,242.4 660.5,242.4 660.2,242.4 659.4,242.8 658.6,243.4 658.2,243.6 657.6,243.7 656.3,244.5 654.1,244.5 651.4,244.5 649.3,244.5 647.1,244.5 644.4,244.5 641.7,244.5 639,244.5 635.7,244.5 633,244.5 630.5,244.5 628.7,244.5 626.5,244.5 624.4,244.5 623.3,244.5 621.7,244.5 616.8,244.5 613.5,244.5 610.5,244.5 608.4,244.5 606,244.5 603.8,244.5 599.5,244.5 597.3,244.5 593,244.5 587.6,244.5 584.9,244.5 583,244.5 581.6,244.5 580.3,244.5 579.5,244.5 578.3,244.5 576.5,244.5 575,244.5 573.4,244.5 571.8,244.5 570.4,244.5 568.6,244.5 566.9,244.5 564.5,244.5 562.8,244.5 561.5,244.5 560.1,244.5 558,244.5 555.5,244.5 553.5,244.5 551.6,244.5 549.9,244.5 548.2,244.5 546.8,244.5 545.5,244.5 544.3,244.5 543.2,244.5 542.2,244.5 540.5,244.5 539,244.5 537.5,244.5 536,244.5 534.5,244.5 532.9,244.5 531.2,244.5 529.6,244.5 527.8,244.5 526.2,244.5 524.5,244.5 523,244.5 521,244.5 514.5,244.5 512.9,244.5 511.5,244.5 510,244.5 508,244.5 507,244.5 505.8,244.5 504.6,244.5 503,244.5 502.2,244.5 501.1,244.5 500,244.5 499.1,244.5 498.1,244.5 495.9,244.5 492.1,244.5 489.7,244.5 487.2,244.5 485,244.5 483,244.5 481.3,244.5 477.5,244.5 473.7,244.5 468.3,244.5 465,244.5 462.3,244.5 460.2,244.5 457.5,244.5 454.8,244.5 452.6,244.5 450.4,244.5 448.6,244.5 447.2,244.5 445.6,244.5 441.2,244.5 437.4,244.5 435,244.5 432.6,244.5 430.5,244.5 428.2,244.5 426,244.5 424.6,244.5 422.6,244.5 421,244.5 420,244.5 419,244.5 418,244.5 416.6,244.5 414,244.5 412,244.5 410.8,244.5 409.5,244.5 408.4,244.5 407.4,244.5 406,244.5 404.6,243.3 403.8,243.2 403.4,243.2 402.8,243.2 402.2,243.2 402.1,243.2 401.2,243.2 400.5,243.2 399.7,243.2 398.7,243.2 397.6,243.2 397.2,243.2 396.9,243.2 396.5,243.2 395.6,244.5 394,244.5 392,244.5 390,244.5 387,244.5 384,244.5 381.5,244.5 379,244.5 377.5,244.5 376,244.5 374.5,244.5 373.4,244.5 372.2,244.5 371,244.5 369.6,244.5 368,244.5 366.5,244.5 364.5,244.5 363.2,244.5 361.6,244.5 360.5,244.5 359.5,244.5 357.8,244.5 355.5,244.5 353.4,244.5 351.8,244.5 350.5,244.5 348.6,244.5 345.9,244.5 343.7,244.5 341.5,244.5 339.4,244.5 336.7,244.5 331.8,244.5 328.5,244.5 326,244.5 323,244.5 311,244.5 307,244.5 305,244.5 299.3,244.5 296,244.5 295.3,244.5 294.4,244.5 293.4,244.5 291.6,244.5 290.6,244.5 289.6,244.5 288.8,244.5 288,244.5 287,244.5 285.4,244.5 284.3,244.5 273.4,244.5 270.7,244.5 269.5,244.5 268.2,244.5 266.8,244.5 265,244.5 263,244.5 261.5,244.5 260,244.5 258.3,244.5 254.5,244.5 251.3,244.5 250.2,244.5 249.1,244.5 248.5,244.5 247.6,244.5 246.5,244.5 245.3,244.5 243.7,244.5 241,244.5 239.8,244.5 238.6,244.5 236.6,244.5 234.5,244.5 229,244.5 225,244.5 220.4,244.5 217.7,244.5 216.3,244.5 215,244.5 213.5,244.5 212,244.5 210,244.5 208.2,244.5 206.5,244.5 205,244.5 203.5,244.5 202.2,244.5 200.5,244.5 199,244.5 197.5,244.5 195.7,244.5 192.5,244.5 190,244.5 187.6,244.5 186.6,244.5 186,244.5 185.8,244.5 185.2,244.5 184.6,244.5 184.3,244.5 183.9,244.5 183,244.5 182,244.5 181,244.5 180.3,244.5 179.8,244.5 179.5,244.5 178.6,244.5 177.4,244.5 175,244.5 173.3,244.5 172.2,244.5 171.6,244.5 171,244.5 170.4,244.5 170,244.5 169.6,244.5 168.9,244.5 168.1,244.5 167,244.5 165.6,244.5 164.4,244.5 163.1,244.5 161.6,244.5 160.6,244.5 159.4,244.5 158.7,244.5 158.3,244.5 157.7,244.5 157.1,244.5 156.8,244.5 156.3,244.5 153,244.5 151,244.5 145,244.5 137.2,244.5" fill="#df4e4b"/>
<polyline points="137.2,244.5 145,244.5 151,244.5 153,244.5 156.3,244.5 156.8,243.2 157.1,241.4 157.7,240 158.3,240 158.7,240 159.4,240 160.6,240 161.6,241.3 163.1,241.3 164.4,242.4 165.6,242.4 167,241.3 168.1,240.5 168.9,239.9 169.6,240.8 170,241.3 170.4,241.8 171,242.6 171.6,243.4 172.2,244.2 173.3,244.5 175,244.5 177.4,244.5 178.6,244.5 179.5,244.4 179.8,244.3 180.3,244.1 181,239.4 182,239.4 183,239.4 183.9,239.4 184.3,239.4 184.6,239.4 185.2,239.4 185.8,242.9 186,243.7 186.6,244.2 187.6,244.5 190,244.5 192.5,244.5 195.7,244.5 197.5,244.5 199,244.5 200.5,244.5 202.2,244.5 203.5,244.5 205,244.5 206.5,244.5 208.2,244.5 210,244.5 212,244.5 213.5,244.5 215,244.5 216.3,244.5 217.7,244.5 220.4,244.5 225,244.5 229,244.5 234.5,244.5 236.6,244.4 238.6,244.4 239.8,244.4 241,244.4 243.7,244.5 245.3,244.5 246.5,244.5 247.6,244.5 248.5,244.5 249.1,244.5 250.2,244.5 251.3,244.5 254.5,244.5 258.3,244.5 260,244.5 261.5,244.5 263,244.5 265,244.5 266.8,244.5 268.2,244.5 269.5,244.5 270.7,244.5 273.4,244.5 284.3,244.5 285.4,244.5 287,244.5 288,244.5 288.8,244.5 289.6,244.5 290.6,244.5 291.6,244.5 293.4,244.5 294.4,244.5 295.3,244.5 296,244.5 299.3,244.5 305,244.5 307,244.5 311,244.5 323,244.5 326,244.5 328.5,244.5 331.8,244.5 336.7,244.5 339.4,244.5 341.5,244.5 343.7,244.5 345.9,244.5 348.6,244.5 350.5,244.5 351.8,244.5 353.4,244.5 355.5,244.5 357.8,244.5 359.5,244.5 360.5,244.5 361.6,244.5 363.2,244.5 364.5,244.5 366.5,244.5 368,244.5 369.6,244.5 371,244.5 372.2,244.5 373.4,244.5 374.5,244.5 376,244.5 377.5,244.5 379,244.5 381.5,244.5 384,244.5 387,244.5 390,244.5 392,244.5 394,244.5 395.6,244.5 396.5,242.7 396.9,242.7 397.2,242.7 397.6,242.7 398.7,242.7 399.7,242.7 400.5,242.7 401.2,242.7 402.1,242.7 402.2,242.7 402.8,242.7 403.4,242.7 403.8,242.7 404.6,242.8 406,244.5 407.4,244.5 408.4,244.5 409.5,244.5 410.8,244.5 412,244.5 414,244.5 416.6,244.5 418,244.5 419,244.5 420,244.5 421,244.5 422.6,244.5 424.6,244.5 426,244.5 428.2,244.5 430.5,244.5 432.6,244.5 435,244.5 437.4,244.5 441.2,244.5 445.6,244.5 447.2,244.5 448.6,244.5 450.4,244.5 452.6,244.5 454.8,244.5 457.5,244.5 460.2,244.5 462.3,244.5 465,244.5 468.3,244.5 473.7,244.5 477.5,244.5 481.3,244.5 483,244.5 485,244.5 487.2,244.5 489.7,244.5 492.1,244.5 495.9,244.5 498.1,244.5 499.1,244.5 500,244.5 501.1,244.5 502.2,244.5 503,244.5 504.6,244.5 505.8,244.5 507,244.5 508,244.5 510,244.5 511.5,244.5 512.9,244.5 514.5,244.5 521,244.5 523,244.5 524.5,244.5 526.2,244.5 527.8,244.5 529.6,244.5 531.2,244.4 532.9,244.4 534.5,244.4 536,244.5 537.5,244.5 539,244.5 540.5,244.4 542.2,244.3 543.2,244.4 544.3,244.4 545.5,244.2 546.8,244.2 548.2,244.2 549.9,244.3 551.6,244.4 553.5,244.4 555.5,244.4 558,244.4 560.1,244.5 561.5,244.4 562.8,244.4 564.5,244.4 566.9,244.4 568.6,244.2 570.4,244.2 571.8,244.2 573.4,244.2 575,244.3 576.5,244.3 578.3,244.3 579.5,244.3 580.3,244.4 581.6,244.4 583,244.5 584.9,244.5 587.6,244.5 593,244.5 597.3,244.5 599.5,244.5 603.8,244.5 606,244.5 608.4,244.5 610.5,244.5 613.5,244.5 616.8,244.5 621.7,244.5 623.3,244.5 624.4,244.5 626.5,244.5 628.7,244.5 630.5,244.5 633,244.5 635.7,244.5 639,244.5 641.7,244.5 644.4,244.5 647.1,244.4 649.3,244.4 651.4,244.4 654.1,244.5 656.3,244.5 657.6,243 658.2,242.9 658.6,242.7 659.4,242 660.2,241.7 660.5,241.7 660.8,241.7 661.3,241.7 663.1,241.7 664.4,241.7 665.6,241.7 666.9,241.8 667.4,242.3 667.9,243.5 668.3,242.3 668.9,241.7 669.3,242.4 669.7,241.7 670,241.7 670.2,241.7 672,241.7 672.3,241.7 672.8,241.7 673.3,241.8 673.8,242.3 674.2,242.6 675,241.5 676.2,242.8 677,243.3 678.4,243.4 681.4,242.9 683,243.8 684.6,244.5 687.9,244.5 690.5,244.5 693.3,244.5 695.5,244.5 697.4,244.5 699.2,244.5 702.8,244.5" fill="none" stroke="#df4e4b" stroke-width="2.08" stroke-linejoin="round"/>
<polygon points="137.2,244.5 145,244.5 151,244.5 153,244.5 156.3,244.5 156.8,236.5 157.1,225.6 157.7,217.3 158.3,217.3 158.7,217.3 159.4,217.3 160.6,217.3 161.6,225.3 163.1,225.3 164.4,231.7 165.6,231.7 167,225.3 168.1,220.5 168.9,217 169.6,222.4 170,225.5 170.4,228.6 171,233.3 171.6,237.9 172.2,242.6 173.3,244.5 175,244.5 177.4,244.5 178.6,244.5 179.5,243.8 179.8,243.1 180.3,242.3 181,214.1 182,214.1 183,214.1 183.9,214.1 184.3,214.1 184.6,214.1 185.2,214.1 185.8,235 186,239.8 186.6,242.5 187.6,244.5 190,244.5 192.5,244.5 195.7,244.5 197.5,244.5 199,244.5 200.5,244.5 202.2,244.5 203.5,244.5 205,244.5 206.5,244.5 208.2,244.5 210,244.5 212,244.5 213.5,244.5 215,244.5 216.3,244.5 217.7,244.5 220.4,244.5 225,244.5 229,244.5 234.5,244.5 236.6,244.1 238.6,244.1 239.8,244.1 241,244.1 243.7,244.3 245.3,244.3 246.5,244.3 247.6,244.3 248.5,244.3 249.1,244.3 250.2,244.3 251.3,244.5 254.5,244.5 258.3,244.5 260,244.5 261.5,244.5 263,244.5 265,244.5 266.8,244.5 268.2,244.5 269.5,244.5 270.7,244.5 273.4,244.5 284.3,244.5 285.4,244.3 287,244.3 288,244.3 288.8,244.3 289.6,244.3 290.6,244.3 291.6,244.3 293.4,244.3 294.4,244.3 295.3,244.3 296,244.3 299.3,244.5 305,244.5 307,244.5 311,244.5 323,244.5 326,244.5 328.5,244.5 331.8,244.5 336.7,244.5 339.4,244.5 341.5,244.5 343.7,244.5 345.9,244.5 348.6,244.5 350.5,244.5 351.8,244.5 353.4,244.5 355.5,244.5 357.8,244.5 359.5,244.5 360.5,244.5 361.6,244.5 363.2,244.5 364.5,244.5 366.5,244.5 368,244.5 369.6,244.5 371,244.5 372.2,244.5 373.4,244.5 374.5,244.5 376,244.5 377.5,244.5 379,244.5 381.5,244.5 384,244.5 387,244.5 390,244.5 392,244.5 394,244.5 395.6,244.5 396.5,241 396.9,241 397.2,241 397.6,241 398.7,241 399.7,241 400.5,241 401.2,241 402.1,241 402.2,241 402.8,241 403.4,241 403.8,241 404.6,241 406,244.5 407.4,244.5 408.4,244.5 409.5,244.5 410.8,244.5 412,244.5 414,244.5 416.6,244.5 418,244.5 419,244.5 420,244.5 421,244.5 422.6,244.5 424.6,244.5 426,244.5 428.2,244.5 430.5,244.5 432.6,244.5 435,244.5 437.4,244.5 441.2,244.5 445.6,244.5 447.2,244.5 448.6,244.5 450.4,244.5 452.6,244.5 454.8,244.5 457.5,244.5 460.2,244.5 462.3,244.5 465,244.5 468.3,244.5 473.7,244.5 477.5,244.5 481.3,244.5 483,244.5 485,244.5 487.2,244.5 489.7,244.5 492.1,244.5 495.9,244.5 498.1,244.5 499.1,244.5 500,244.5 501.1,244.5 502.2,244.5 503,244.5 504.6,244.5 505.8,244.5 507,244.5 508,244.5 510,244.5 511.5,244.5 512.9,244.5 514.5,244.5 521,244.5 523,244.5 524.5,244.3 526.2,244.2 527.8,244.3 529.6,244.4 531.2,244 532.9,243.7 534.5,244 536,244.2 537.5,244.4 539,244.2 540.5,243.8 542.2,243.5 543.2,243.7 544.3,243.9 545.5,242.8 546.8,242.4 548.2,242.7 549.9,243.6 551.6,243.9 553.5,244 555.5,244.1 558,244.2 560.1,244.2 561.5,243.9 562.8,243.7 564.5,243.8 566.9,243.9 568.6,242.9 570.4,242.6 571.8,242.5 573.4,242.8 575,243.1 576.5,243.4 578.3,243.3 579.5,243.5 580.3,243.8 581.6,244.2 583,244.4 584.9,244.5 587.6,244.4 593,244.4 597.3,244.5 599.5,244.4 603.8,244.5 606,244.4 608.4,244.3 610.5,244.4 613.5,244.4 616.8,244.5 621.7,244.5 623.3,244.5 624.4,244.5 626.5,244.5 628.7,244.5 630.5,244.4 633,244.5 635.7,244.4 639,244.4 641.7,244.3 644.4,244.2 647.1,244.1 649.3,243.9 651.4,244.1 654.1,244.3 656.3,244.3 657.6,240.3 658.2,240.3 658.6,240.2 659.4,240.1 660.2,240 660.5,240 660.8,240 661.3,240 663.1,240 664.4,240 665.6,240 666.9,240 667.4,240 667.9,242.4 668.3,240 668.9,240 669.3,240.2 669.7,240 670,240 670.2,240 672,240 672.3,240 672.8,240 673.3,240 673.8,240.2 674.2,240.2 675,235.9 676.2,239.7 677,241 678.4,241.5 681.4,240 683,242.4 684.6,244.4 687.9,244.4 690.5,244.5 693.3,244.5 695.5,244.5 697.4,244.5 699.2,244.5 702.8,244.5 702.8,244.5 699.2,244.5 697.4,244.5 695.5,244.5 693.3,244.5 690.5,244.5 687.9,244.5 684.6,244.5 683,243.8 681.4,242.9 678.4,243.4 677,243.3 676.2,242.8 675,241.5 674.2,242.6 673.8,242.3 673.3,241.8 672.8,241.7 672.3,241.7 672,241.7 670.2,241.7 670,241.7 669.7,241.7 669.3,242.4 668.9,241.7 668.3,242.3 667.9,243.5 667.4,242.3 666.9,241.8 665.6,241.7 664.4,241.7 663.1,241.7 661.3,241.7 660.8,241.7 660.5,241.7 660.2,241.7 659.4,242 658.6,242.7 658.2,242.9 657.6,243 656.3,244.5 654.1,244.5 651.4,244.4 649.3,244.4 647.1,244.4 644.4,244.5 641.7,244.5 639,244.5 635.7,244.5 633,244.5 630.5,244.5 628.7,244.5 626.5,244.5 624.4,244.5 623.3,244.5 621.7,244.5 616.8,244.5 613.5,244.5 610.5,244.5 608.4,244.5 606,244.5 603.8,244.5 599.5,244.5 597.3,244.5 593,244.5 587.6,244.5 584.9,244.5 583,244.5 581.6,244.4 580.3,244.4 579.5,244.3 578.3,244.3 576.5,244.3 575,244.3 573.4,244.2 571.8,244.2 570.4,244.2 568.6,244.2 566.9,244.4 564.5,244.4 562.8,244.4 561.5,244.4 560.1,244.5 558,244.4 555.5,244.4 553.5,244.4 551.6,244.4 549.9,244.3 548.2,244.2 546.8,244.2 545.5,244.2 544.3,244.4 543.2,244.4 542.2,244.3 540.5,244.4 539,244.5 537.5,244.5 536,244.5 534.5,244.4 532.9,244.4 531.2,244.4 529.6,244.5 527.8,244.5 526.2,244.5 524.5,244.5 523,244.5 521,244.5 514.5,244.5 512.9,244.5 511.5,244.5 510,244.5 508,244.5 507,244.5 505.8,244.5 504.6,244.5 503,244.5 502.2,244.5 501.1,244.5 500,244.5 499.1,244.5 498.1,244.5 495.9,244.5 492.1,244.5 489.7,244.5 487.2,244.5 485,244.5 483,244.5 481.3,244.5 477.5,244.5 473.7,244.5 468.3,244.5 465,244.5 462.3,244.5 460.2,244.5 457.5,244.5 454.8,244.5 452.6,244.5 450.4,244.5 448.6,244.5 447.2,244.5 445.6,244.5 441.2,244.5 437.4,244.5 435,244.5 432.6,244.5 430.5,244.5 428.2,244.5 426,244.5 424.6,244.5 422.6,244.5 421,244.5 420,244.5 419,244.5 418,244.5 416.6,244.5 414,244.5 412,244.5 410.8,244.5 409.5,244.5 408.4,244.5 407.4,244.5 406,244.5 404.6,242.8 403.8,242.7 403.4,242.7 402.8,242.7 402.2,242.7 402.1,242.7 401.2,242.7 400.5,242.7 399.7,242.7 398.7,242.7 397.6,242.7 397.2,242.7 396.9,242.7 396.5,242.7 395.6,244.5 394,244.5 392,244.5 390,244.5 387,244.5 384,244.5 381.5,244.5 379,244.5 377.5,244.5 376,244.5 374.5,244.5 373.4,244.5 372.2,244.5 371,244.5 369.6,244.5 368,244.5 366.5,244.5 364.5,244.5 363.2,244.5 361.6,244.5 360.5,244.5 359.5,244.5 357.8,244.5 355.5,244.5 353.4,244.5 351.8,244.5 350.5,244.5 348.6,244.5 345.9,244.5 343.7,244.5 341.5,244.5 339.4,244.5 336.7,244.5 331.8,244.5 328.5,244.5 326,244.5 323,244.5 311,244.5 307,244.5 305,244.5 299.3,244.5 296,244.5 295.3,244.5 294.4,244.5 293.4,244.5 291.6,244.5 290.6,244.5 289.6,244.5 288.8,244.5 288,244.5 287,244.5 285.4,244.5 284.3,244.5 273.4,244.5 270.7,244.5 269.5,244.5 268.2,244.5 266.8,244.5 265,244.5 263,244.5 261.5,244.5 260,244.5 258.3,244.5 254.5,244.5 251.3,244.5 250.2,244.5 249.1,244.5 248.5,244.5 247.6,244.5 246.5,244.5 245.3,244.5 243.7,244.5 241,244.4 239.8,244.4 238.6,244.4 236.6,244.4 234.5,244.5 229,244.5 225,244.5 220.4,244.5 217.7,244.5 216.3,244.5 215,244.5 213.5,244.5 212,244.5 210,244.5 208.2,244.5 206.5,244.5 205,244.5 203.5,244.5 202.2,244.5 200.5,244.5 199,244.5 197.5,244.5 195.7,244.5 192.5,244.5 190,244.5 187.6,244.5 186.6,244.2 186,243.7 185.8,242.9 185.2,239.4 184.6,239.4 184.3,239.4 183.9,239.4 183,239.4 182,239.4 181,239.4 180.3,244.1 179.8,244.3 179.5,244.4 178.6,244.5 177.4,244.5 175,244.5 173.3,244.5 172.2,244.2 171.6,243.4 171,242.6 170.4,241.8 170,241.3 169.6,240.8 168.9,239.9 168.1,240.5 167,241.3 165.6,242.4 164.4,242.4 163.1,241.3 161.6,241.3 160.6,240 159.4,240 158.7,240 158.3,240 157.7,240 157.1,241.4 156.8,243.2 156.3,244.5 153,244.5 151,244.5 145,244.5 137.2,244.5" fill="#ea5d47"/>
<polyline points="137.2,244.5 145,244.5 151,244.5 153,244.5 156.3,244.5 156.8,236.5 157.1,225.6 157.7,217.3 158.3,217.3 158.7,217.3 159.4,217.3 160.6,217.3 161.6,225.3 163.1,225.3 164.4,231.7 165.6,231.7 167,225.3 168.1,220.5 168.9,217 169.6,222.4 170,225.5 170.4,228.6 171,233.3 171.6,237.9 172.2,242.6 173.3,244.5 175,244.5 177.4,244.5 178.6,244.5 179.5,243.8 179.8,243.1 180.3,242.3 181,214.1 182,214.1 183,214.1 183.9,214.1 184.3,214.1 184.6,214.1 185.2,214.1 185.8,235 186,239.8 186.6,242.5 187.6,244.5 190,244.5 192.5,244.5 195.7,244.5 197.5,244.5 199,244.5 200.5,244.5 202.2,244.5 203.5,244.5 205,244.5 206.5,244.5 208.2,244.5 210,244.5 212,244.5 213.5,244.5 215,244.5 216.3,244.5 217.7,244.5 220.4,244.5 225,244.5 229,244.5 234.5,244.5 236.6,244.1 238.6,244.1 239.8,244.1 241,244.1 243.7,244.3 245.3,244.3 246.5,244.3 247.6,244.3 248.5,244.3 249.1,244.3 250.2,244.3 251.3,244.5 254.5,244.5 258.3,244.5 260,244.5 261.5,244.5 263,244.5 265,244.5 266.8,244.5 268.2,244.5 269.5,244.5 270.7,244.5 273.4,244.5 284.3,244.5 285.4,244.3 287,244.3 288,244.3 288.8,244.3 289.6,244.3 290.6,244.3 291.6,244.3 293.4,244.3 294.4,244.3 295.3,244.3 296,244.3 299.3,244.5 305,244.5 307,244.5 311,244.5 323,244.5 326,244.5 328.5,244.5 331.8,244.5 336.7,244.5 339.4,244.5 341.5,244.5 343.7,244.5 345.9,244.5 348.6,244.5 350.5,244.5 351.8,244.5 353.4,244.5 355.5,244.5 357.8,244.5 359.5,244.5 360.5,244.5 361.6,244.5 363.2,244.5 364.5,244.5 366.5,244.5 368,244.5 369.6,244.5 371,244.5 372.2,244.5 373.4,244.5 374.5,244.5 376,244.5 377.5,244.5 379,244.5 381.5,244.5 384,244.5 387,244.5 390,244.5 392,244.5 394,244.5 395.6,244.5 396.5,241 396.9,241 397.2,241 397.6,241 398.7,241 399.7,241 400.5,241 401.2,241 402.1,241 402.2,241 402.8,241 403.4,241 403.8,241 404.6,241 406,244.5 407.4,244.5 408.4,244.5 409.5,244.5 410.8,244.5 412,244.5 414,244.5 416.6,244.5 418,244.5 419,244.5 420,244.5 421,244.5 422.6,244.5 424.6,244.5 426,244.5 428.2,244.5 430.5,244.5 432.6,244.5 435,244.5 437.4,244.5 441.2,244.5 445.6,244.5 447.2,244.5 448.6,244.5 450.4,244.5 452.6,244.5 454.8,244.5 457.5,244.5 460.2,244.5 462.3,244.5 465,244.5 468.3,244.5 473.7,244.5 477.5,244.5 481.3,244.5 483,244.5 485,244.5 487.2,244.5 489.7,244.5 492.1,244.5 495.9,244.5 498.1,244.5 499.1,244.5 500,244.5 501.1,244.5 502.2,244.5 503,244.5 504.6,244.5 505.8,244.5 507,244.5 508,244.5 510,244.5 511.5,244.5 512.9,244.5 514.5,244.5 521,244.5 523,244.5 524.5,244.3 526.2,244.2 527.8,244.3 529.6,244.4 531.2,244 532.9,243.7 534.5,244 536,244.2 537.5,244.4 539,244.2 540.5,243.8 542.2,243.5 543.2,243.7 544.3,243.9 545.5,242.8 546.8,242.4 548.2,242.7 549.9,243.6 551.6,243.9 553.5,244 555.5,244.1 558,244.2 560.1,244.2 561.5,243.9 562.8,243.7 564.5,243.8 566.9,243.9 568.6,242.9 570.4,242.6 571.8,242.5 573.4,242.8 575,243.1 576.5,243.4 578.3,243.3 579.5,243.5 580.3,243.8 581.6,244.2 583,244.4 584.9,244.5 587.6,244.4 593,244.4 597.3,244.5 599.5,244.4 603.8,244.5 606,244.4 608.4,244.3 610.5,244.4 613.5,244.4 616.8,244.5 621.7,244.5 623.3,244.5 624.4,244.5 626.5,244.5 628.7,244.5 630.5,244.4 633,244.5 635.7,244.4 639,244.4 641.7,244.3 644.4,244.2 647.1,244.1 649.3,243.9 651.4,244.1 654.1,244.3 656.3,244.3 657.6,240.3 658.2,240.3 658.6,240.2 659.4,240.1 660.2,240 660.5,240 660.8,240 661.3,240 663.1,240 664.4,240 665.6,240 666.9,240 667.4,240 667.9,242.4 668.3,240 668.9,240 669.3,240.2 669.7,240 670,240 670.2,240 672,240 672.3,240 672.8,240 673.3,240 673.8,240.2 674.2,240.2 675,235.9 676.2,239.7 677,241 678.4,241.5 681.4,240 683,242.4 684.6,244.4 687.9,244.4 690.5,244.5 693.3,244.5 695.5,244.5 697.4,244.5 699.2,244.5 702.8,244.5" fill="none" stroke="#ea5d47" stroke-width="2.08" stroke-linejoin="round"/>
<polygon points="137.2,244.5 145,244.4 151,244.5 153,244.5 156.3,244.5 156.8,234.4 157.1,220.6 157.7,208.3 158.3,208.3 158.7,208.3 159.4,208.3 160.6,208.3 161.6,218.5 163.1,218.5 164.4,227.1 165.6,227.1 167,219 168.1,213 168.9,209.6 169.6,216.4 170,220.3 170.4,224.2 171,230.2 171.6,236.1 172.2,242 173.3,244.5 175,244.5 177.4,244.5 178.6,244.5 179.5,243.2 179.8,241.7 180.3,240.1 181,205 182,205 183,205 183.9,205 184.3,205 184.6,205 185.2,205 185.8,231.7 186,238.2 186.6,241.7 187.6,244.5 190,244.5 192.5,244.5 195.7,244.5 197.5,244.5 199,244.5 200.5,244.5 202.2,244.5 203.5,244.5 205,244.5 206.5,244.5 208.2,244.5 210,244.5 212,244.5 213.5,244.5 215,244.5 216.3,244.5 217.7,244.5 220.4,244.5 225,244.5 229,244.5 234.5,244.5 236.6,243.7 238.6,243.7 239.8,243.7 241,243.7 243.7,243.6 245.3,243.6 246.5,243.6 247.6,243.6 248.5,243.6 249.1,243.6 250.2,243.6 251.3,244.5 254.5,244.5 258.3,244.5 260,244.5 261.5,244.5 263,244.5 265,244.5 266.8,244.5 268.2,244.5 269.5,244.5 270.7,244.5 273.4,244.5 284.3,244.5 285.4,244.1 287,244.1 288,244.1 288.8,244.1 289.6,244.1 290.6,244.1 291.6,244.1 293.4,244.1 294.4,244.1 295.3,244.1 296,244.1 299.3,244.5 305,244.5 307,244.4 311,244.5 323,244.5 326,244.4 328.5,244.4 331.8,244.5 336.7,244.5 339.4,244.5 341.5,244.5 343.7,244.5 345.9,244.5 348.6,244.5 350.5,244.5 351.8,244.5 353.4,244.5 355.5,244.5 357.8,244.5 359.5,244.3 360.5,243.9 361.6,243.7 363.2,243.8 364.5,243.9 366.5,244 368,243.9 369.6,243.7 371,243.5 372.2,243.5 373.4,243.6 374.5,243.7 376,244 377.5,244.5 379,244.5 381.5,244.5 384,244.5 387,244.5 390,244.5 392,244.5 394,244.5 395.6,244.4 396.5,238.6 396.9,238.1 397.2,237.7 397.6,237.3 398.7,237.3 399.7,237.3 400.5,237.3 401.2,237.3 402.1,237.3 402.2,237.3 402.8,237.3 403.4,237.9 403.8,238.6 404.6,239.3 406,244.5 407.4,244.5 408.4,244.5 409.5,244.4 410.8,244.4 412,244.4 414,244.4 416.6,244.4 418,244.4 419,244.4 420,244.4 421,244.5 422.6,244.5 424.6,244.5 426,244.5 428.2,244.5 430.5,244.5 432.6,244.5 435,244.5 437.4,244.5 441.2,244.5 445.6,244.5 447.2,244.5 448.6,244.5 450.4,244.5 452.6,244.5 454.8,244.5 457.5,244.5 460.2,244.5 462.3,244.5 465,244.5 468.3,244.5 473.7,244.5 477.5,244.5 481.3,244.5 483,244.5 485,244.5 487.2,244.5 489.7,244.5 492.1,244.5 495.9,244.5 498.1,244.5 499.1,244.4 500,244.3 501.1,244.2 502.2,244.3 503,244.3 504.6,244.3 505.8,244.3 507,244.4 508,244.4 510,244.4 511.5,244.4 512.9,244.4 514.5,244.5 521,244.5 523,244.4 524.5,244 526.2,243.6 527.8,244 529.6,244.2 531.2,243.2 532.9,242.6 534.5,243.3 536,243.9 537.5,244.2 539,243.9 540.5,242.9 542.2,242.1 543.2,242.6 544.3,243.1 545.5,241.1 546.8,240.3 548.2,240.9 549.9,242.5 551.6,243.2 553.5,243.5 555.5,243.7 558,243.8 560.1,243.9 561.5,243.1 562.8,242.7 564.5,242.8 566.9,243 568.6,241.4 570.4,240.9 571.8,240.6 573.4,241.2 575,241.7 576.5,242 578.3,241.8 579.5,242.3 580.3,243 581.6,243.8 583,244.3 584.9,244.5 587.6,244.3 593,244.4 597.3,244.5 599.5,244.4 603.8,244.4 606,244.3 608.4,244.1 610.5,244.2 613.5,244.3 616.8,244.5 621.7,244.5 623.3,244.4 624.4,244.4 626.5,244.4 628.7,244.5 630.5,244.4 633,244.5 635.7,244.2 639,244.4 641.7,244.1 644.4,244.1 647.1,243.9 649.3,243.6 651.4,243.8 654.1,244.1 656.3,244.1 657.6,239 658.2,238.7 658.6,238.5 659.4,238.5 660.2,238.5 660.5,238.5 660.8,238.5 661.3,238.5 663.1,238.5 664.4,238.5 665.6,238.5 666.9,238.5 667.4,238.5 667.9,241.6 668.3,238.5 668.9,238.5 669.3,238.5 669.7,238.5 670,238.5 670.2,238.5 672,238.5 672.3,238.5 672.8,238.5 673.3,238.5 673.8,238.5 674.2,238.5 675,233.7 676.2,238.5 677,240.1 678.4,240.7 681.4,238.9 683,241.9 684.6,244.3 687.9,244.4 690.5,244.5 693.3,244.5 695.5,244.5 697.4,244.5 699.2,244.5 702.8,244.5 702.8,244.5 699.2,244.5 697.4,244.5 695.5,244.5 693.3,244.5 690.5,244.5 687.9,244.4 684.6,244.4 683,242.4 681.4,240 678.4,241.5 677,241 676.2,239.7 675,235.9 674.2,240.2 673.8,240.2 673.3,240 672.8,240 672.3,240 672,240 670.2,240 670,240 669.7,240 669.3,240.2 668.9,240 668.3,240 667.9,242.4 667.4,240 666.9,240 665.6,240 664.4,240 663.1,240 661.3,240 660.8,240 660.5,240 660.2,240 659.4,240.1 658.6,240.2 658.2,240.3 657.6,240.3 656.3,244.3 654.1,244.3 651.4,244.1 649.3,243.9 647.1,244.1 644.4,244.2 641.7,244.3 639,244.4 635.7,244.4 633,244.5 630.5,244.4 628.7,244.5 626.5,244.5 624.4,244.5 623.3,244.5 621.7,244.5 616.8,244.5 613.5,244.4 610.5,244.4 608.4,244.3 606,244.4 603.8,244.5 599.5,244.4 597.3,244.5 593,244.4 587.6,244.4 584.9,244.5 583,244.4 581.6,244.2 580.3,243.8 579.5,243.5 578.3,243.3 576.5,243.4 575,243.1 573.4,242.8 571.8,242.5 570.4,242.6 568.6,242.9 566.9,243.9 564.5,243.8 562.8,243.7 561.5,243.9 560.1,244.2 558,244.2 555.5,244.1 553.5,244 551.6,243.9 549.9,243.6 548.2,242.7 546.8,242.4 545.5,242.8 544.3,243.9 543.2,243.7 542.2,243.5 540.5,243.8 539,244.2 537.5,244.4 536,244.2 534.5,244 532.9,243.7 531.2,244 529.6,244.4 527.8,244.3 526.2,244.2 524.5,244.3 523,244.5 521,244.5 514.5,244.5 512.9,244.5 511.5,244.5 510,244.5 508,244.5 507,244.5 505.8,244.5 504.6,244.5 503,244.5 502.2,244.5 501.1,244.5 500,244.5 499.1,244.5 498.1,244.5 495.9,244.5 492.1,244.5 489.7,244.5 487.2,244.5 485,244.5 483,244.5 481.3,244.5 477.5,244.5 473.7,244.5 468.3,244.5 465,244.5 462.3,244.5 460.2,244.5 457.5,244.5 454.8,244.5 452.6,244.5 450.4,244.5 448.6,244.5 447.2,244.5 445.6,244.5 441.2,244.5 437.4,244.5 435,244.5 432.6,244.5 430.5,244.5 428.2,244.5 426,244.5 424.6,244.5 422.6,244.5 421,244.5 420,244.5 419,244.5 418,244.5 416.6,244.5 414,244.5 412,244.5 410.8,244.5 409.5,244.5 408.4,244.5 407.4,244.5 406,244.5 404.6,241 403.8,241 403.4,241 402.8,241 402.2,241 402.1,241 401.2,241 400.5,241 399.7,241 398.7,241 397.6,241 397.2,241 396.9,241 396.5,241 395.6,244.5 394,244.5 392,244.5 390,244.5 387,244.5 384,244.5 381.5,244.5 379,244.5 377.5,244.5 376,244.5 374.5,244.5 373.4,244.5 372.2,244.5 371,244.5 369.6,244.5 368,244.5 366.5,244.5 364.5,244.5 363.2,244.5 361.6,244.5 360.5,244.5 359.5,244.5 357.8,244.5 355.5,244.5 353.4,244.5 351.8,244.5 350.5,244.5 348.6,244.5 345.9,244.5 343.7,244.5 341.5,244.5 339.4,244.5 336.7,244.5 331.8,244.5 328.5,244.5 326,244.5 323,244.5 311,244.5 307,244.5 305,244.5 299.3,244.5 296,244.3 295.3,244.3 294.4,244.3 293.4,244.3 291.6,244.3 290.6,244.3 289.6,244.3 288.8,244.3 288,244.3 287,244.3 285.4,244.3 284.3,244.5 273.4,244.5 270.7,244.5 269.5,244.5 268.2,244.5 266.8,244.5 265,244.5 263,244.5 261.5,244.5 260,244.5 258.3,244.5 254.5,244.5 251.3,244.5 250.2,244.3 249.1,244.3 248.5,244.3 247.6,244.3 246.5,244.3 245.3,244.3 243.7,244.3 241,244.1 239.8,244.1 238.6,244.1 236.6,244.1 234.5,244.5 229,244.5 225,244.5 220.4,244.5 217.7,244.5 216.3,244.5 215,244.5 213.5,244.5 212,244.5 210,244.5 208.2,244.5 206.5,244.5 205,244.5 203.5,244.5 202.2,244.5 200.5,244.5 199,244.5 197.5,244.5 195.7,244.5 192.5,244.5 190,244.5 187.6,244.5 186.6,242.5 186,239.8 185.8,235 185.2,214.1 184.6,214.1 184.3,214.1 183.9,214.1 183,214.1 182,214.1 181,214.1 180.3,242.3 179.8,243.1 179.5,243.8 178.6,244.5 177.4,244.5 175,244.5 173.3,244.5 172.2,242.6 171.6,237.9 171,233.3 170.4,228.6 170,225.5 169.6,222.4 168.9,217 168.1,220.5 167,225.3 165.6,231.7 164.4,231.7 163.1,225.3 161.6,225.3 160.6,217.3 159.4,217.3 158.7,217.3 158.3,217.3 157.7,217.3 157.1,225.6 156.8,236.5 156.3,244.5 153,244.5 151,244.5 145,244.5 137.2,244.5" fill="#f46d43"/>
<polyline points="137.2,244.5 145,244.4 151,244.5 153,244.5 156.3,244.5 156.8,234.4 157.1,220.6 157.7,208.3 158.3,208.3 158.7,208.3 159.4,208.3 160.6,208.3 161.6,218.5 163.1,218.5 164.4,227.1 165.6,227.1 167,219 168.1,213 168.9,209.6 169.6,216.4 170,220.3 170.4,224.2 171,230.2 171.6,236.1 172.2,242 173.3,244.5 175,244.5 177.4,244.5 178.6,244.5 179.5,243.2 179.8,241.7 180.3,240.1 181,205 182,205 183,205 183.9,205 184.3,205 184.6,205 185.2,205 185.8,231.7 186,238.2 186.6,241.7 187.6,244.5 190,244.5 192.5,244.5 195.7,244.5 197.5,244.5 199,244.5 200.5,244.5 202.2,244.5 203.5,244.5 205,244.5 206.5,244.5 208.2,244.5 210,244.5 212,244.5 213.5,244.5 215,244.5 216.3,244.5 217.7,244.5 220.4,244.5 225,244.5 229,244.5 234.5,244.5 236.6,243.7 238.6,243.7 239.8,243.7 241,243.7 243.7,243.6 245.3,243.6 246.5,243.6 247.6,243.6 248.5,243.6 249.1,243.6 250.2,243.6 251.3,244.5 254.5,244.5 258.3,244.5 260,244.5 261.5,244.5 263,244.5 265,244.5 266.8,244.5 268.2,244.5 269.5,244.5 270.7,244.5 273.4,244.5 284.3,244.5 285.4,244.1 287,244.1 288,244.1 288.8,244.1 289.6,244.1 290.6,244.1 291.6,244.1 293.4,244.1 294.4,244.1 295.3,244.1 296,244.1 299.3,244.5 305,244.5 307,244.4 311,244.5 323,244.5 326,244.4 328.5,244.4 331.8,244.5 336.7,244.5 339.4,244.5 341.5,244.5 343.7,244.5 345.9,244.5 348.6,244.5 350.5,244.5 351.8,244.5 353.4,244.5 355.5,244.5 357.8,244.5 359.5,244.3 360.5,243.9 361.6,243.7 363.2,243.8 364.5,243.9 366.5,244 368,243.9 369.6,243.7 371,243.5 372.2,243.5 373.4,243.6 374.5,243.7 376,244 377.5,244.5 379,244.5 381.5,244.5 384,244.5 387,244.5 390,244.5 392,244.5 394,244.5 395.6,244.4 396.5,238.6 396.9,238.1 397.2,237.7 397.6,237.3 398.7,237.3 399.7,237.3 400.5,237.3 401.2,237.3 402.1,237.3 402.2,237.3 402.8,237.3 403.4,237.9 403.8,238.6 404.6,239.3 406,244.5 407.4,244.5 408.4,244.5 409.5,244.4 410.8,244.4 412,244.4 414,244.4 416.6,244.4 418,244.4 419,244.4 420,244.4 421,244.5 422.6,244.5 424.6,244.5 426,244.5 428.2,244.5 430.5,244.5 432.6,244.5 435,244.5 437.4,244.5 441.2,244.5 445.6,244.5 447.2,244.5 448.6,244.5 450.4,244.5 452.6,244.5 454.8,244.5 457.5,244.5 460.2,244.5 462.3,244.5 465,244.5 468.3,244.5 473.7,244.5 477.5,244.5 481.3,244.5 483,244.5 485,244.5 487.2,244.5 489.7,244.5 492.1,244.5 495.9,244.5 498.1,244.5 499.1,244.4 500,244.3 501.1,244.2 502.2,244.3 503,244.3 504.6,244.3 505.8,244.3 507,244.4 508,244.4 510,244.4 511.5,244.4 512.9,244.4 514.5,244.5 521,244.5 523,244.4 524.5,244 526.2,243.6 527.8,244 529.6,244.2 531.2,243.2 532.9,242.6 534.5,243.3 536,243.9 537.5,244.2 539,243.9 540.5,242.9 542.2,242.1 543.2,242.6 544.3,243.1 545.5,241.1 546.8,240.3 548.2,240.9 549.9,242.5 551.6,243.2 553.5,243.5 555.5,243.7 558,243.8 560.1,243.9 561.5,243.1 562.8,242.7 564.5,242.8 566.9,243 568.6,241.4 570.4,240.9 571.8,240.6 573.4,241.2 575,241.7 576.5,242 578.3,241.8 579.5,242.3 580.3,243 581.6,243.8 583,244.3 584.9,244.5 587.6,244.3 593,244.4 597.3,244.5 599.5,244.4 603.8,244.4 606,244.3 608.4,244.1 610.5,244.2 613.5,244.3 616.8,244.5 621.7,244.5 623.3,244.4 624.4,244.4 626.5,244.4 628.7,244.5 630.5,244.4 633,244.5 635.7,244.2 639,244.4 641.7,244.1 644.4,244.1 647.1,243.9 649.3,243.6 651.4,243.8 654.1,244.1 656.3,244.1 657.6,239 658.2,238.7 658.6,238.5 659.4,238.5 660.2,238.5 660.5,238.5 660.8,238.5 661.3,238.5 663.1,238.5 664.4,238.5 665.6,238.5 666.9,238.5 667.4,238.5 667.9,241.6 668.3,238.5 668.9,238.5 669.3,238.5 669.7,238.5 670,238.5 670.2,238.5 672,238.5 672.3,238.5 672.8,238.5 673.3,238.5 673.8,238.5 674.2,238.5 675,233.7 676.2,238.5 677,240.1 678.4,240.7 681.4,238.9 683,241.9 684.6,244.3 687.9,244.4 690.5,244.5 693.3,244.5 695.5,244.5 697.4,244.5 699.2,244.5 702.8,244.5" fill="none" stroke="#f46d43" stroke-width="2.08" stroke-linejoin="round"/>
<polygon points="137.2,244.4 145,244.4 151,244.4 153,244.4 156.3,244.4 156.8,234.2 157.1,220.2 157.7,205.1 158.3,205.1 158.7,205.1 159.4,205.1 160.6,205.1 161.6,215.7 163.1,215.7 164.4,225.2 165.6,225.2 167,216.9 168.1,210.9 168.9,208.8 169.6,215.8 170,219.7 170.4,223.7 171,229.8 171.6,235.8 172.2,241.7 173.3,244.5 175,244.5 177.4,244.5 178.6,244.5 179.5,242.4 179.8,240.2 180.3,237.7 181,202.9 182,202.9 183,202.9 183.9,202.9 184.3,202.9 184.6,202.9 185.2,202.9 185.8,230.3 186,237.5 186.6,241.4 187.6,244.5 190,244.5 192.5,244.5 195.7,244.5 197.5,244.5 199,244.5 200.5,244.5 202.2,244.5 203.5,244.5 205,244.5 206.5,244.5 208.2,244.5 210,244.5 212,244.5 213.5,244.5 215,244.5 216.3,244.5 217.7,244.5 220.4,244.5 225,244.5 229,244.5 234.5,244.5 236.6,243.3 238.6,243.3 239.8,243.3 241,243.3 243.7,242.8 245.3,242.8 246.5,242.8 247.6,242.8 248.5,242.8 249.1,242.8 250.2,242.8 251.3,244.5 254.5,244.5 258.3,244.5 260,244.5 261.5,244.5 263,244.5 265,244.5 266.8,244.5 268.2,244.5 269.5,244.5 270.7,244.5 273.4,244.5 284.3,244.5 285.4,243.9 287,243.9 288,243.9 288.8,243.9 289.6,243.9 290.6,243.9 291.6,243.9 293.4,243.9 294.4,243.9 295.3,243.9 296,243.9 299.3,244.4 305,244.4 307,244.3 311,244.4 323,244.4 326,244.3 328.5,244.3 331.8,244.4 336.7,244.5 339.4,244.5 341.5,244.5 343.7,244.5 345.9,244.5 348.6,244.5 350.5,244.5 351.8,244.5 353.4,244.5 355.5,244.5 357.8,244.5 359.5,244 360.5,243.1 361.6,242.6 363.2,242.8 364.5,243 366.5,243.2 368,243 369.6,242.5 371,242.1 372.2,242.1 373.4,242.3 374.5,242.6 376,243.3 377.5,244.4 379,244.4 381.5,244.4 384,244.5 387,244.5 390,244.4 392,244.4 394,244.4 395.6,244.4 396.5,235.8 396.9,234.6 397.2,233.7 397.6,232.7 398.7,232.7 399.7,232.7 400.5,232.7 401.2,232.7 402.1,232.7 402.2,232.7 402.8,232.7 403.4,234.1 403.8,236 404.6,237.5 406,244.4 407.4,244.5 408.4,244.4 409.5,244.3 410.8,244.3 412,244.3 414,244.3 416.6,244.3 418,244.3 419,244.3 420,244.4 421,244.5 422.6,244.5 424.6,244.5 426,244.5 428.2,244.5 430.5,244.5 432.6,244.5 435,244.5 437.4,244.5 441.2,244.5 445.6,244.5 447.2,244.5 448.6,244.5 450.4,244.5 452.6,244.5 454.8,244.5 457.5,244.5 460.2,244.5 462.3,244.5 465,244.5 468.3,244.5 473.7,244.5 477.5,244.5 481.3,244.5 483,244.5 485,244.5 487.2,244.5 489.7,244.5 492.1,244.5 495.9,244.5 498.1,244.5 499.1,244.2 500,244 501.1,243.8 502.2,243.9 503,244 504.6,244.1 505.8,244.1 507,244.1 508,244.2 510,244.3 511.5,244.4 512.9,244.3 514.5,244.4 521,244.4 523,244.3 524.5,243.5 526.2,243 527.8,243.5 529.6,244 531.2,242.3 532.9,241.4 534.5,242.5 536,243.5 537.5,244 539,243.5 540.5,241.8 542.2,240.6 543.2,241.3 544.3,242.3 545.5,239.3 546.8,238.1 548.2,238.9 549.9,241.3 551.6,242.3 553.5,242.8 555.5,243.2 558,243.5 560.1,243.5 561.5,242.1 562.8,241.4 564.5,241.6 566.9,241.9 568.6,239.9 570.4,239.2 571.8,238.7 573.4,239.6 575,240.4 576.5,240.5 578.3,240 579.5,240.9 580.3,242.1 581.6,243.4 583,244.1 584.9,244.4 587.6,244.2 593,244.3 597.3,244.4 599.5,244.3 603.8,244.4 606,244.2 608.4,243.9 610.5,244 613.5,244.2 616.8,244.4 621.7,244.5 623.3,244.3 624.4,244.2 626.5,244.3 628.7,244.4 630.5,244.3 633,244.4 635.7,243.9 639,244.3 641.7,243.9 644.4,243.9 647.1,243.7 649.3,243.3 651.4,243.6 654.1,244 656.3,244 657.6,238.4 658.2,237.5 658.6,237.1 659.4,237.1 660.2,237.1 660.5,237.1 660.8,237.1 661.3,237.1 663.1,237.1 664.4,237.1 665.6,237.1 666.9,237.1 667.4,237.3 667.9,241 668.3,237.3 668.9,237.1 669.3,237.1 669.7,237.1 670,237.1 670.2,237.1 672,237.1 672.3,237.1 672.8,237.1 673.3,237.1 673.8,237.1 674.2,237.1 675,233 676.2,238.1 677,239.8 678.4,240.5 681.4,238.6 683,241.8 684.6,244.2 687.9,244.3 690.5,244.5 693.3,244.5 695.5,244.5 697.4,244.5 699.2,244.5 702.8,244.5 702.8,244.5 699.2,244.5 697.4,244.5 695.5,244.5 693.3,244.5 690.5,244.5 687.9,244.4 684.6,244.3 683,241.9 681.4,238.9 678.4,240.7 677,240.1 676.2,238.5 675,233.7 674.2,238.5 673.8,238.5 673.3,238.5 672.8,238.5 672.3,238.5 672,238.5 670.2,238.5 670,238.5 669.7,238.5 669.3,238.5 668.9,238.5 668.3,238.5 667.9,241.6 667.4,238.5 666.9,238.5 665.6,238.5 664.4,238.5 663.1,238.5 661.3,238.5 660.8,238.5 660.5,238.5 660.2,238.5 659.4,238.5 658.6,238.5 658.2,238.7 657.6,239 656.3,244.1 654.1,244.1 651.4,243.8 649.3,243.6 647.1,243.9 644.4,244.1 641.7,244.1 639,244.4 635.7,244.2 633,244.5 630.5,244.4 628.7,244.5 626.5,244.4 624.4,244.4 623.3,244.4 621.7,244.5 616.8,244.5 613.5,244.3 610.5,244.2 608.4,244.1 606,244.3 603.8,244.4 599.5,244.4 597.3,244.5 593,244.4 587.6,244.3 584.9,244.5 583,244.3 581.6,243.8 580.3,243 579.5,242.3 578.3,241.8 576.5,242 575,241.7 573.4,241.2 571.8,240.6 570.4,240.9 568.6,241.4 566.9,243 564.5,242.8 562.8,242.7 561.5,243.1 560.1,243.9 558,243.8 555.5,243.7 553.5,243.5 551.6,243.2 549.9,242.5 548.2,240.9 546.8,240.3 545.5,241.1 544.3,243.1 543.2,242.6 542.2,242.1 540.5,242.9 539,243.9 537.5,244.2 536,243.9 534.5,243.3 532.9,242.6 531.2,243.2 529.6,244.2 527.8,244 526.2,243.6 524.5,244 523,244.4 521,244.5 514.5,244.5 512.9,244.4 511.5,244.4 510,244.4 508,244.4 507,244.4 505.8,244.3 504.6,244.3 503,244.3 502.2,244.3 501.1,244.2 500,244.3 499.1,244.4 498.1,244.5 495.9,244.5 492.1,244.5 489.7,244.5 487.2,244.5 485,244.5 483,244.5 481.3,244.5 477.5,244.5 473.7,244.5 468.3,244.5 465,244.5 462.3,244.5 460.2,244.5 457.5,244.5 454.8,244.5 452.6,244.5 450.4,244.5 448.6,244.5 447.2,244.5 445.6,244.5 441.2,244.5 437.4,244.5 435,244.5 432.6,244.5 430.5,244.5 428.2,244.5 426,244.5 424.6,244.5 422.6,244.5 421,244.5 420,244.4 419,244.4 418,244.4 416.6,244.4 414,244.4 412,244.4 410.8,244.4 409.5,244.4 408.4,244.5 407.4,244.5 406,244.5 404.6,239.3 403.8,238.6 403.4,237.9 402.8,237.3 402.2,237.3 402.1,237.3 401.2,237.3 400.5,237.3 399.7,237.3 398.7,237.3 397.6,237.3 397.2,237.7 396.9,238.1 396.5,238.6 395.6,244.4 394,244.5 392,244.5 390,244.5 387,244.5 384,244.5 381.5,244.5 379,244.5 377.5,244.5 376,244 374.5,243.7 373.4,243.6 372.2,243.5 371,243.5 369.6,243.7 368,243.9 366.5,244 364.5,243.9 363.2,243.8 361.6,243.7 360.5,243.9 359.5,244.3 357.8,244.5 355.5,244.5 353.4,244.5 351.8,244.5 350.5,244.5 348.6,244.5 345.9,244.5 343.7,244.5 341.5,244.5 339.4,244.5 336.7,244.5 331.8,244.5 328.5,244.4 326,244.4 323,244.5 311,244.5 307,244.4 305,244.5 299.3,244.5 296,244.1 295.3,244.1 294.4,244.1 293.4,244.1 291.6,244.1 290.6,244.1 289.6,244.1 288.8,244.1 288,244.1 287,244.1 285.4,244.1 284.3,244.5 273.4,244.5 270.7,244.5 269.5,244.5 268.2,244.5 266.8,244.5 265,244.5 263,244.5 261.5,244.5 260,244.5 258.3,244.5 254.5,244.5 251.3,244.5 250.2,243.6 249.1,243.6 248.5,243.6 247.6,243.6 246.5,243.6 245.3,243.6 243.7,243.6 241,243.7 239.8,243.7 238.6,243.7 236.6,243.7 234.5,244.5 229,244.5 225,244.5 220.4,244.5 217.7,244.5 216.3,244.5 215,244.5 213.5,244.5 212,244.5 210,244.5 208.2,244.5 206.5,244.5 205,244.5 203.5,244.5 202.2,244.5 200.5,244.5 199,244.5 197.5,244.5 195.7,244.5 192.5,244.5 190,244.5 187.6,244.5 186.6,241.7 186,238.2 185.8,231.7 185.2,205 184.6,205 184.3,205 183.9,205 183,205 182,205 181,205 180.3,240.1 179.8,241.7 179.5,243.2 178.6,244.5 177.4,244.5 175,244.5 173.3,244.5 172.2,242 171.6,236.1 171,230.2 170.4,224.2 170,220.3 169.6,216.4 168.9,209.6 168.1,213 167,219 165.6,227.1 164.4,227.1 163.1,218.5 161.6,218.5 160.6,208.3 159.4,208.3 158.7,208.3 158.3,208.3 157.7,208.3 157.1,220.6 156.8,234.4 156.3,244.5 153,244.5 151,244.5 145,244.4 137.2,244.5" fill="#f7834d"/>
<polyline points="137.2,244.4 145,244.4 151,244.4 153,244.4 156.3,244.4 156.8,234.2 157.1,220.2 157.7,205.1 158.3,205.1 158.7,205.1 159.4,205.1 160.6,205.1 161.6,215.7 163.1,215.7 164.4,225.2 165.6,225.2 167,216.9 168.1,210.9 168.9,208.8 169.6,215.8 170,219.7 170.4,223.7 171,229.8 171.6,235.8 172.2,241.7 173.3,244.5 175,244.5 177.4,244.5 178.6,244.5 179.5,242.4 179.8,240.2 180.3,237.7 181,202.9 182,202.9 183,202.9 183.9,202.9 184.3,202.9 184.6,202.9 185.2,202.9 185.8,230.3 186,237.5 186.6,241.4 187.6,244.5 190,244.5 192.5,244.5 195.7,244.5 197.5,244.5 199,244.5 200.5,244.5 202.2,244.5 203.5,244.5 205,244.5 206.5,244.5 208.2,244.5 210,244.5 212,244.5 213.5,244.5 215,244.5 216.3,244.5 217.7,244.5 220.4,244.5 225,244.5 229,244.5 234.5,244.5 236.6,243.3 238.6,243.3 239.8,243.3 241,243.3 243.7,242.8 245.3,242.8 246.5,242.8 247.6,242.8 248.5,242.8 249.1,242.8 250.2,242.8 251.3,244.5 254.5,244.5 258.3,244.5 260,244.5 261.5,244.5 263,244.5 265,244.5 266.8,244.5 268.2,244.5 269.5,244.5 270.7,244.5 273.4,244.5 284.3,244.5 285.4,243.9 287,243.9 288,243.9 288.8,243.9 289.6,243.9 290.6,243.9 291.6,243.9 293.4,243.9 294.4,243.9 295.3,243.9 296,243.9 299.3,244.4 305,244.4 307,244.3 311,244.4 323,244.4 326,244.3 328.5,244.3 331.8,244.4 336.7,244.5 339.4,244.5 341.5,244.5 343.7,244.5 345.9,244.5 348.6,244.5 350.5,244.5 351.8,244.5 353.4,244.5 355.5,244.5 357.8,244.5 359.5,244 360.5,243.1 361.6,242.6 363.2,242.8 364.5,243 366.5,243.2 368,243 369.6,242.5 371,242.1 372.2,242.1 373.4,242.3 374.5,242.6 376,243.3 377.5,244.4 379,244.4 381.5,244.4 384,244.5 387,244.5 390,244.4 392,244.4 394,244.4 395.6,244.4 396.5,235.8 396.9,234.6 397.2,233.7 397.6,232.7 398.7,232.7 399.7,232.7 400.5,232.7 401.2,232.7 402.1,232.7 402.2,232.7 402.8,232.7 403.4,234.1 403.8,236 404.6,237.5 406,244.4 407.4,244.5 408.4,244.4 409.5,244.3 410.8,244.3 412,244.3 414,244.3 416.6,244.3 418,244.3 419,244.3 420,244.4 421,244.5 422.6,244.5 424.6,244.5 426,244.5 428.2,244.5 430.5,244.5 432.6,244.5 435,244.5 437.4,244.5 441.2,244.5 445.6,244.5 447.2,244.5 448.6,244.5 450.4,244.5 452.6,244.5 454.8,244.5 457.5,244.5 460.2,244.5 462.3,244.5 465,244.5 468.3,244.5 473.7,244.5 477.5,244.5 481.3,244.5 483,244.5 485,244.5 487.2,244.5 489.7,244.5 492.1,244.5 495.9,244.5 498.1,244.5 499.1,244.2 500,244 501.1,243.8 502.2,243.9 503,244 504.6,244.1 505.8,244.1 507,244.1 508,244.2 510,244.3 511.5,244.4 512.9,244.3 514.5,244.4 521,244.4 523,244.3 524.5,243.5 526.2,243 527.8,243.5 529.6,244 531.2,242.3 532.9,241.4 534.5,242.5 536,243.5 537.5,244 539,243.5 540.5,241.8 542.2,240.6 543.2,241.3 544.3,242.3 545.5,239.3 546.8,238.1 548.2,238.9 549.9,241.3 551.6,242.3 553.5,242.8 555.5,243.2 558,243.5 560.1,243.5 561.5,242.1 562.8,241.4 564.5,241.6 566.9,241.9 568.6,239.9 570.4,239.2 571.8,238.7 573.4,239.6 575,240.4 576.5,240.5 578.3,240 579.5,240.9 580.3,242.1 581.6,243.4 583,244.1 584.9,244.4 587.6,244.2 593,244.3 597.3,244.4 599.5,244.3 603.8,244.4 606,244.2 608.4,243.9 610.5,244 613.5,244.2 616.8,244.4 621.7,244.5 623.3,244.3 624.4,244.2 626.5,244.3 628.7,244.4 630.5,244.3 633,244.4 635.7,243.9 639,244.3 641.7,243.9 644.4,243.9 647.1,243.7 649.3,243.3 651.4,243.6 654.1,244 656.3,244 657.6,238.4 658.2,237.5 658.6,237.1 659.4,237.1 660.2,237.1 660.5,237.1 660.8,237.1 661.3,237.1 663.1,237.1 664.4,237.1 665.6,237.1 666.9,237.1 667.4,237.3 667.9,241 668.3,237.3 668.9,237.1 669.3,237.1 669.7,237.1 670,237.1 670.2,237.1 672,237.1 672.3,237.1 672.8,237.1 673.3,237.1 673.8,237.1 674.2,237.1 675,233 676.2,238.1 677,239.8 678.4,240.5 681.4,238.6 683,241.8 684.6,244.2 687.9,244.3 690.5,244.5 693.3,244.5 695.5,244.5 697.4,244.5 699.2,244.5 702.8,244.5" fill="none" stroke="#f7834d" stroke-width="2.08" stroke-linejoin="round"/>
<polygon points="137.2,244.3 145,244.3 151,244.3 153,244.3 156.3,244.3 156.8,234 157.1,219.8 157.7,202 158.3,202 158.7,202 159.4,202 160.6,202 161.6,212.9 163.1,212.9 164.4,223.3 165.6,223.3 167,214.8 168.1,208.8 168.9,208 169.6,215.1 170,219.1 170.4,223.2 171,229.4 171.6,235.4 172.2,241.5 173.3,244.5 175,244.5 177.4,244.5 178.6,244.5 179.5,241.7 179.8,238.7 180.3,235.3 181,200.8 182,200.8 183,200.8 183.9,200.8 184.3,200.8 184.6,200.8 185.2,200.8 185.8,228.9 186,236.8 186.6,241.1 187.6,244.5 190,244.5 192.5,244.5 195.7,244.5 197.5,244.5 199,244.5 200.5,244.5 202.2,244.5 203.5,244.5 205,244.5 206.5,244.5 208.2,244.5 210,244.5 212,244.5 213.5,244.5 215,244.5 216.3,244.5 217.7,244.5 220.4,244.5 225,244.5 229,244.5 234.5,244.5 236.6,242.8 238.6,242.8 239.8,242.8 241,242.8 243.7,242 245.3,242 246.5,242 247.6,242 248.5,242 249.1,242 250.2,242 251.3,244.5 254.5,244.5 258.3,244.5 260,244.5 261.5,244.5 263,244.5 265,244.5 266.8,244.5 268.2,244.5 269.5,244.5 270.7,244.5 273.4,244.5 284.3,244.5 285.4,243.7 287,243.7 288,243.7 288.8,243.7 289.6,243.7 290.6,243.7 291.6,243.7 293.4,243.7 294.4,243.7 295.3,243.7 296,243.7 299.3,244.4 305,244.4 307,244.3 311,244.4 323,244.4 326,244.2 328.5,244.1 331.8,244.4 336.7,244.4 339.4,244.5 341.5,244.5 343.7,244.5 345.9,244.5 348.6,244.5 350.5,244.5 351.8,244.5 353.4,244.5 355.5,244.5 357.8,244.5 359.5,243.7 360.5,242.3 361.6,241.4 363.2,241.7 364.5,242.1 366.5,242.5 368,242.1 369.6,241.3 371,240.6 372.2,240.8 373.4,241 374.5,241.5 376,242.6 377.5,244.3 379,244.4 381.5,244.4 384,244.4 387,244.4 390,244.4 392,244.4 394,244.3 395.6,244.3 396.5,233 396.9,231.2 397.2,229.8 397.6,228.2 398.7,228.2 399.7,228.2 400.5,228.2 401.2,228.2 402.1,228.2 402.2,228.2 402.8,228.2 403.4,230.4 403.8,233.3 404.6,235.7 406,244.4 407.4,244.4 408.4,244.3 409.5,244.2 410.8,244.2 412,244.2 414,244.2 416.6,244.2 418,244.2 419,244.2 420,244.3 421,244.5 422.6,244.5 424.6,244.5 426,244.5 428.2,244.5 430.5,244.5 432.6,244.5 435,244.5 437.4,244.5 441.2,244.5 445.6,244.5 447.2,244.5 448.6,244.5 450.4,244.5 452.6,244.5 454.8,244.5 457.5,244.5 460.2,244.5 462.3,244.5 465,244.5 468.3,244.5 473.7,244.5 477.5,244.5 481.3,244.5 483,244.5 485,244.5 487.2,244.5 489.7,244.5 492.1,244.5 495.9,244.5 498.1,244.5 499.1,244.1 500,243.8 501.1,243.5 502.2,243.6 503,243.7 504.6,243.8 505.8,243.8 507,243.9 508,244 510,244.2 511.5,244.3 512.9,244.3 514.5,244.3 521,244.3 523,244.2 524.5,243.1 526.2,242.3 527.8,243.1 529.6,243.8 531.2,241.5 532.9,240.1 534.5,241.7 536,243.1 537.5,243.7 539,243.1 540.5,240.7 542.2,239 543.2,240.1 544.3,241.4 545.5,237.5 546.8,235.9 548.2,237 549.9,240.2 551.6,241.5 553.5,242.2 555.5,242.8 558,243.1 560.1,243 561.5,241.1 562.8,240.1 564.5,240.4 566.9,240.9 568.6,238.4 570.4,237.4 571.8,236.7 573.4,238 575,239 576.5,239 578.3,238.3 579.5,239.6 580.3,241.2 581.6,242.9 583,244 584.9,244.4 587.6,244 593,244.2 597.3,244.4 599.5,244.2 603.8,244.4 606,244 608.4,243.6 610.5,243.8 613.5,244 616.8,244.4 621.7,244.5 623.3,244.2 624.4,244.1 626.5,244.1 628.7,244.4 630.5,244.2 633,244.4 635.7,243.7 639,244.2 641.7,243.7 644.4,243.8 647.1,243.5 649.3,243 651.4,243.3 654.1,243.9 656.3,243.9 657.6,237.8 658.2,236.4 658.6,235.7 659.4,235.7 660.2,235.7 660.5,235.7 660.8,235.7 661.3,235.7 663.1,235.7 664.4,235.7 665.6,235.7 666.9,235.7 667.4,236.1 667.9,240.5 668.3,236.1 668.9,235.7 669.3,235.7 669.7,235.7 670,235.7 670.2,235.7 672,235.7 672.3,235.7 672.8,235.7 673.3,235.7 673.8,235.7 674.2,235.7 675,232.4 676.2,237.7 677,239.5 678.4,240.2 681.4,238.2 683,241.6 684.6,244.1 687.9,244.3 690.5,244.5 693.3,244.5 695.5,244.5 697.4,244.5 699.2,244.5 702.8,244.5 702.8,244.5 699.2,244.5 697.4,244.5 695.5,244.5 693.3,244.5 690.5,244.5 687.9,244.3 684.6,244.2 683,241.8 681.4,238.6 678.4,240.5 677,239.8 676.2,238.1 675,233 674.2,237.1 673.8,237.1 673.3,237.1 672.8,237.1 672.3,237.1 672,237.1 670.2,237.1 670,237.1 669.7,237.1 669.3,237.1 668.9,237.1 668.3,237.3 667.9,241 667.4,237.3 666.9,237.1 665.6,237.1 664.4,237.1 663.1,237.1 661.3,237.1 660.8,237.1 660.5,237.1 660.2,237.1 659.4,237.1 658.6,237.1 658.2,237.5 657.6,238.4 656.3,244 654.1,244 651.4,243.6 649.3,243.3 647.1,243.7 644.4,243.9 641.7,243.9 639,244.3 635.7,243.9 633,244.4 630.5,244.3 628.7,244.4 626.5,244.3 624.4,244.2 623.3,244.3 621.7,244.5 616.8,244.4 613.5,244.2 610.5,244 608.4,243.9 606,244.2 603.8,244.4 599.5,244.3 597.3,244.4 593,244.3 587.6,244.2 584.9,244.4 583,244.1 581.6,243.4 580.3,242.1 579.5,240.9 578.3,240 576.5,240.5 575,240.4 573.4,239.6 571.8,238.7 570.4,239.2 568.6,239.9 566.9,241.9 564.5,241.6 562.8,241.4 561.5,242.1 560.1,243.5 558,243.5 555.5,243.2 553.5,242.8 551.6,242.3 549.9,241.3 548.2,238.9 546.8,238.1 545.5,239.3 544.3,242.3 543.2,241.3 542.2,240.6 540.5,241.8 539,243.5 537.5,244 536,243.5 534.5,242.5 532.9,241.4 531.2,242.3 529.6,244 527.8,243.5 526.2,243 524.5,243.5 523,244.3 521,244.4 514.5,244.4 512.9,244.3 511.5,244.4 510,244.3 508,244.2 507,244.1 505.8,244.1 504.6,244.1 503,244 502.2,243.9 501.1,243.8 500,244 499.1,244.2 498.1,244.5 495.9,244.5 492.1,244.5 489.7,244.5 487.2,244.5 485,244.5 483,244.5 481.3,244.5 477.5,244.5 473.7,244.5 468.3,244.5 465,244.5 462.3,244.5 460.2,244.5 457.5,244.5 454.8,244.5 452.6,244.5 450.4,244.5 448.6,244.5 447.2,244.5 445.6,244.5 441.2,244.5 437.4,244.5 435,244.5 432.6,244.5 430.5,244.5 428.2,244.5 426,244.5 424.6,244.5 422.6,244.5 421,244.5 420,244.4 419,244.3 418,244.3 416.6,244.3 414,244.3 412,244.3 410.8,244.3 409.5,244.3 408.4,244.4 407.4,244.5 406,244.4 404.6,237.5 403.8,236 403.4,234.1 402.8,232.7 402.2,232.7 402.1,232.7 401.2,232.7 400.5,232.7 399.7,232.7 398.7,232.7 397.6,232.7 397.2,233.7 396.9,234.6 396.5,235.8 395.6,244.4 394,244.4 392,244.4 390,244.4 387,244.5 384,244.5 381.5,244.4 379,244.4 377.5,244.4 376,243.3 374.5,242.6 373.4,242.3 372.2,242.1 371,242.1 369.6,242.5 368,243 366.5,243.2 364.5,243 363.2,242.8 361.6,242.6 360.5,243.1 359.5,244 357.8,244.5 355.5,244.5 353.4,244.5 351.8,244.5 350.5,244.5 348.6,244.5 345.9,244.5 343.7,244.5 341.5,244.5 339.4,244.5 336.7,244.5 331.8,244.4 328.5,244.3 326,244.3 323,244.4 311,244.4 307,244.3 305,244.4 299.3,244.4 296,243.9 295.3,243.9 294.4,243.9 293.4,243.9 291.6,243.9 290.6,243.9 289.6,243.9 288.8,243.9 288,243.9 287,243.9 285.4,243.9 284.3,244.5 273.4,244.5 270.7,244.5 269.5,244.5 268.2,244.5 266.8,244.5 265,244.5 263,244.5 261.5,244.5 260,244.5 258.3,244.5 254.5,244.5 251.3,244.5 250.2,242.8 249.1,242.8 248.5,242.8 247.6,242.8 246.5,242.8 245.3,242.8 243.7,242.8 241,243.3 239.8,243.3 238.6,243.3 236.6,243.3 234.5,244.5 229,244.5 225,244.5 220.4,244.5 217.7,244.5 216.3,244.5 215,244.5 213.5,244.5 212,244.5 210,244.5 208.2,244.5 206.5,244.5 205,244.5 203.5,244.5 202.2,244.5 200.5,244.5 199,244.5 197.5,244.5 195.7,244.5 192.5,244.5 190,244.5 187.6,244.5 186.6,241.4 186,237.5 185.8,230.3 185.2,202.9 184.6,202.9 184.3,202.9 183.9,202.9 183,202.9 182,202.9 181,202.9 180.3,237.7 179.8,240.2 179.5,242.4 178.6,244.5 177.4,244.5 175,244.5 173.3,244.5 172.2,241.7 171.6,235.8 171,229.8 170.4,223.7 170,219.7 169.6,215.8 168.9,208.8 168.1,210.9 167,216.9 165.6,225.2 164.4,225.2 163.1,215.7 161.6,215.7 160.6,205.1 159.4,205.1 158.7,205.1 158.3,205.1 157.7,205.1 157.1,220.2 156.8,234.2 156.3,244.4 153,244.4 151,244.4 145,244.4 137.2,244.4" fill="#fa9857"/>
<polyline points="137.2,244.3 145,244.3 151,244.3 153,244.3 156.3,244.3 156.8,234 157.1,219.8 157.7,202 158.3,202 158.7,202 159.4,202 160.6,202 161.6,212.9 163.1,212.9 164.4,223.3 165.6,223.3 167,214.8 168.1,208.8 168.9,208 169.6,215.1 170,219.1 170.4,223.2 171,229.4 171.6,235.4 172.2,241.5 173.3,244.5 175,244.5 177.4,244.5 178.6,244.5 179.5,241.7 179.8,238.7 180.3,235.3 181,200.8 182,200.8 183,200.8 183.9,200.8 184.3,200.8 184.6,200.8 185.2,200.8 185.8,228.9 186,236.8 186.6,241.1 187.6,244.5 190,244.5 192.5,244.5 195.7,244.5 197.5,244.5 199,244.5 200.5,244.5 202.2,244.5 203.5,244.5 205,244.5 206.5,244.5 208.2,244.5 210,244.5 212,244.5 213.5,244.5 215,244.5 216.3,244.5 217.7,244.5 220.4,244.5 225,244.5 229,244.5 234.5,244.5 236.6,242.8 238.6,242.8 239.8,242.8 241,242.8 243.7,242 245.3,242 246.5,242 247.6,242 248.5,242 249.1,242 250.2,242 251.3,244.5 254.5,244.5 258.3,244.5 260,244.5 261.5,244.5 263,244.5 265,244.5 266.8,244.5 268.2,244.5 269.5,244.5 270.7,244.5 273.4,244.5 284.3,244.5 285.4,243.7 287,243.7 288,243.7 288.8,243.7 289.6,243.7 290.6,243.7 291.6,243.7 293.4,243.7 294.4,243.7 295.3,243.7 296,243.7 299.3,244.4 305,244.4 307,244.3 311,244.4 323,244.4 326,244.2 328.5,244.1 331.8,244.4 336.7,244.4 339.4,244.5 341.5,244.5 343.7,244.5 345.9,244.5 348.6,244.5 350.5,244.5 351.8,244.5 353.4,244.5 355.5,244.5 357.8,244.5 359.5,243.7 360.5,242.3 361.6,241.4 363.2,241.7 364.5,242.1 366.5,242.5 368,242.1 369.6,241.3 371,240.6 372.2,240.8 373.4,241 374.5,241.5 376,242.6 377.5,244.3 379,244.4 381.5,244.4 384,244.4 387,244.4 390,244.4 392,244.4 394,244.3 395.6,244.3 396.5,233 396.9,231.2 397.2,229.8 397.6,228.2 398.7,228.2 399.7,228.2 400.5,228.2 401.2,228.2 402.1,228.2 402.2,228.2 402.8,228.2 403.4,230.4 403.8,233.3 404.6,235.7 406,244.4 407.4,244.4 408.4,244.3 409.5,244.2 410.8,244.2 412,244.2 414,244.2 416.6,244.2 418,244.2 419,244.2 420,244.3 421,244.5 422.6,244.5 424.6,244.5 426,244.5 428.2,244.5 430.5,244.5 432.6,244.5 435,244.5 437.4,244.5 441.2,244.5 445.6,244.5 447.2,244.5 448.6,244.5 450.4,244.5 452.6,244.5 454.8,244.5 457.5,244.5 460.2,244.5 462.3,244.5 465,244.5 468.3,244.5 473.7,244.5 477.5,244.5 481.3,244.5 483,244.5 485,244.5 487.2,244.5 489.7,244.5 492.1,244.5 495.9,244.5 498.1,244.5 499.1,244.1 500,243.8 501.1,243.5 502.2,243.6 503,243.7 504.6,243.8 505.8,243.8 507,243.9 508,244 510,244.2 511.5,244.3 512.9,244.3 514.5,244.3 521,244.3 523,244.2 524.5,243.1 526.2,242.3 527.8,243.1 529.6,243.8 531.2,241.5 532.9,240.1 534.5,241.7 536,243.1 537.5,243.7 539,243.1 540.5,240.7 542.2,239 543.2,240.1 544.3,241.4 545.5,237.5 546.8,235.9 548.2,237 549.9,240.2 551.6,241.5 553.5,242.2 555.5,242.8 558,243.1 560.1,243 561.5,241.1 562.8,240.1 564.5,240.4 566.9,240.9 568.6,238.4 570.4,237.4 571.8,236.7 573.4,238 575,239 576.5,239 578.3,238.3 579.5,239.6 580.3,241.2 581.6,242.9 583,244 584.9,244.4 587.6,244 593,244.2 597.3,244.4 599.5,244.2 603.8,244.4 606,244 608.4,243.6 610.5,243.8 613.5,244 616.8,244.4 621.7,244.5 623.3,244.2 624.4,244.1 626.5,244.1 628.7,244.4 630.5,244.2 633,244.4 635.7,243.7 639,244.2 641.7,243.7 644.4,243.8 647.1,243.5 649.3,243 651.4,243.3 654.1,243.9 656.3,243.9 657.6,237.8 658.2,236.4 658.6,235.7 659.4,235.7 660.2,235.7 660.5,235.7 660.8,235.7 661.3,235.7 663.1,235.7 664.4,235.7 665.6,235.7 666.9,235.7 667.4,236.1 667.9,240.5 668.3,236.1 668.9,235.7 669.3,235.7 669.7,235.7 670,235.7 670.2,235.7 672,235.7 672.3,235.7 672.8,235.7 673.3,235.7 673.8,235.7 674.2,235.7 675,232.4 676.2,237.7 677,239.5 678.4,240.2 681.4,238.2 683,241.6 684.6,244.1 687.9,244.3 690.5,244.5 693.3,244.5 695.5,244.5 697.4,244.5 699.2,244.5 702.8,244.5" fill="none" stroke="#fa9857" stroke-width="2.08" stroke-linejoin="round"/>
<polygon points="137.2,244.2 145,244.2 151,244.2 153,244.3 156.3,244.3 156.8,233.9 157.1,219.4 157.7,198.8 158.3,198.8 158.7,198.8 159.4,198.8 160.6,198.8 161.6,210.1 163.1,210.1 164.4,221.4 165.6,221.4 167,212.7 168.1,206.7 168.9,207.2 169.6,214.5 170,218.6 170.4,222.7 171,228.9 171.6,235.1 172.2,241.3 173.3,244.5 175,244.5 177.4,244.5 178.6,244.5 179.5,241 179.8,237.2 180.3,232.9 181,198.7 182,198.7 183,198.7 183.9,198.7 184.3,198.7 184.6,198.7 185.2,198.7 185.8,227.5 186,236.1 186.6,240.8 187.6,244.5 190,244.5 192.5,244.5 195.7,244.5 197.5,244.5 199,244.5 200.5,244.5 202.2,244.5 203.5,244.5 205,244.5 206.5,244.5 208.2,244.5 210,244.5 212,244.5 213.5,244.5 215,244.5 216.3,244.5 217.7,244.5 220.4,244.5 225,244.5 229,244.5 234.5,244.5 236.6,242.4 238.6,242.4 239.8,242.4 241,242.4 243.7,241.1 245.3,241.1 246.5,241.1 247.6,241.1 248.5,241.1 249.1,241.1 250.2,241.1 251.3,244.5 254.5,244.5 258.3,244.5 260,244.5 261.5,244.5 263,244.5 265,244.5 266.8,244.5 268.2,244.5 269.5,244.5 270.7,244.5 273.4,244.4 284.3,244.5 285.4,243.5 287,243.5 288,243.5 288.8,243.5 289.6,243.5 290.6,243.5 291.6,243.5 293.4,243.5 294.4,243.5 295.3,243.5 296,243.5 299.3,244.3 305,244.4 307,244.2 311,244.4 323,244.4 326,244.1 328.5,244 331.8,244.3 336.7,244.4 339.4,244.5 341.5,244.5 343.7,244.5 345.9,244.5 348.6,244.5 350.5,244.5 351.8,244.5 353.4,244.5 355.5,244.5 357.8,244.5 359.5,243.4 360.5,241.4 361.6,240.3 363.2,240.7 364.5,241.2 366.5,241.7 368,241.2 369.6,240.2 371,239.2 372.2,239.4 373.4,239.6 374.5,240.5 376,241.9 377.5,244.3 379,244.3 381.5,244.4 384,244.4 387,244.4 390,244.4 392,244.3 394,244.3 395.6,244.2 396.5,230.2 396.9,227.7 397.2,225.8 397.6,223.6 398.7,223.6 399.7,223.6 400.5,223.6 401.2,223.6 402.1,223.6 402.2,223.6 402.8,223.6 403.4,226.6 403.8,230.7 404.6,233.9 406,244.3 407.4,244.4 408.4,244.2 409.5,244 410.8,244.1 412,244.1 414,244.1 416.6,244.1 418,244.1 419,244.1 420,244.2 421,244.5 422.6,244.5 424.6,244.5 426,244.5 428.2,244.5 430.5,244.5 432.6,244.5 435,244.5 437.4,244.5 441.2,244.5 445.6,244.5 447.2,244.5 448.6,244.5 450.4,244.5 452.6,244.5 454.8,244.5 457.5,244.5 460.2,244.5 462.3,244.5 465,244.5 468.3,244.5 473.7,244.5 477.5,244.5 481.3,244.5 483,244.5 485,244.5 487.2,244.5 489.7,244.5 492.1,244.5 495.9,244.5 498.1,244.5 499.1,243.9 500,243.5 501.1,243.1 502.2,243.3 503,243.4 504.6,243.5 505.8,243.6 507,243.7 508,243.9 510,244 511.5,244.2 512.9,244.2 514.5,244.3 521,244.3 523,244.1 524.5,242.7 526.2,241.6 527.8,242.7 529.6,243.6 531.2,240.6 532.9,238.9 534.5,241 536,242.7 537.5,243.5 539,242.7 540.5,239.7 542.2,237.5 543.2,238.8 544.3,240.5 545.5,235.7 546.8,233.7 548.2,235 549.9,239 551.6,240.7 553.5,241.6 555.5,242.3 558,242.7 560.1,242.6 561.5,240.1 562.8,238.8 564.5,239.2 566.9,239.8 568.6,236.8 570.4,235.6 571.8,234.8 573.4,236.4 575,237.6 576.5,237.4 578.3,236.6 579.5,238.2 580.3,240.3 581.6,242.5 583,243.8 584.9,244.4 587.6,243.9 593,244.1 597.3,244.4 599.5,244.1 603.8,244.4 606,243.9 608.4,243.4 610.5,243.6 613.5,243.9 616.8,244.4 621.7,244.5 623.3,244.1 624.4,243.9 626.5,244 628.7,244.3 630.5,244.1 633,244.4 635.7,243.5 639,244.1 641.7,243.4 644.4,243.7 647.1,243.3 649.3,242.7 651.4,243.1 654.1,243.8 656.3,243.8 657.6,237.1 658.2,235.2 658.6,234.3 659.4,234.3 660.2,234.3 660.5,234.3 660.8,234.3 661.3,234.3 663.1,234.3 664.4,234.3 665.6,234.3 666.9,234.3 667.4,234.8 667.9,239.9 668.3,234.8 668.9,234.3 669.3,234.3 669.7,234.3 670,234.3 670.2,234.3 672,234.3 672.3,234.3 672.8,234.3 673.3,234.3 673.8,234.3 674.2,234.3 675,231.7 676.2,237.4 677,239.3 678.4,240 681.4,237.9 683,241.4 684.6,244.1 687.9,244.2 690.5,244.5 693.3,244.5 695.5,244.5 697.4,244.5 699.2,244.5 702.8,244.5 702.8,244.5 699.2,244.5 697.4,244.5 695.5,244.5 693.3,244.5 690.5,244.5 687.9,244.3 684.6,244.1 683,241.6 681.4,238.2 678.4,240.2 677,239.5 676.2,237.7 675,232.4 674.2,235.7 673.8,235.7 673.3,235.7 672.8,235.7 672.3,235.7 672,235.7 670.2,235.7 670,235.7 669.7,235.7 669.3,235.7 668.9,235.7 668.3,236.1 667.9,240.5 667.4,236.1 666.9,235.7 665.6,235.7 664.4,235.7 663.1,235.7 661.3,235.7 660.8,235.7 660.5,235.7 660.2,235.7 659.4,235.7 658.6,235.7 658.2,236.4 657.6,237.8 656.3,243.9 654.1,243.9 651.4,243.3 649.3,243 647.1,243.5 644.4,243.8 641.7,243.7 639,244.2 635.7,243.7 633,244.4 630.5,244.2 628.7,244.4 626.5,244.1 624.4,244.1 623.3,244.2 621.7,244.5 616.8,244.4 613.5,244 610.5,243.8 608.4,243.6 606,244 603.8,244.4 599.5,244.2 597.3,244.4 593,244.2 587.6,244 584.9,244.4 583,244 581.6,242.9 580.3,241.2 579.5,239.6 578.3,238.3 576.5,239 575,239 573.4,238 571.8,236.7 570.4,237.4 568.6,238.4 566.9,240.9 564.5,240.4 562.8,240.1 561.5,241.1 560.1,243 558,243.1 555.5,242.8 553.5,242.2 551.6,241.5 549.9,240.2 548.2,237 546.8,235.9 545.5,237.5 544.3,241.4 543.2,240.1 542.2,239 540.5,240.7 539,243.1 537.5,243.7 536,243.1 534.5,241.7 532.9,240.1 531.2,241.5 529.6,243.8 527.8,243.1 526.2,242.3 524.5,243.1 523,244.2 521,244.3 514.5,244.3 512.9,244.3 511.5,244.3 510,244.2 508,244 507,243.9 505.8,243.8 504.6,243.8 503,243.7 502.2,243.6 501.1,243.5 500,243.8 499.1,244.1 498.1,244.5 495.9,244.5 492.1,244.5 489.7,244.5 487.2,244.5 485,244.5 483,244.5 481.3,244.5 477.5,244.5 473.7,244.5 468.3,244.5 465,244.5 462.3,244.5 460.2,244.5 457.5,244.5 454.8,244.5 452.6,244.5 450.4,244.5 448.6,244.5 447.2,244.5 445.6,244.5 441.2,244.5 437.4,244.5 435,244.5 432.6,244.5 430.5,244.5 428.2,244.5 426,244.5 424.6,244.5 422.6,244.5 421,244.5 420,244.3 419,244.2 418,244.2 416.6,244.2 414,244.2 412,244.2 410.8,244.2 409.5,244.2 408.4,244.3 407.4,244.4 406,244.4 404.6,235.7 403.8,233.3 403.4,230.4 402.8,228.2 402.2,228.2 402.1,228.2 401.2,228.2 400.5,228.2 399.7,228.2 398.7,228.2 397.6,228.2 397.2,229.8 396.9,231.2 396.5,233 395.6,244.3 394,244.3 392,244.4 390,244.4 387,244.4 384,244.4 381.5,244.4 379,244.4 377.5,244.3 376,242.6 374.5,241.5 373.4,241 372.2,240.8 371,240.6 369.6,241.3 368,242.1 366.5,242.5 364.5,242.1 363.2,241.7 361.6,241.4 360.5,242.3 359.5,243.7 357.8,244.5 355.5,244.5 353.4,244.5 351.8,244.5 350.5,244.5 348.6,244.5 345.9,244.5 343.7,244.5 341.5,244.5 339.4,244.5 336.7,244.4 331.8,244.4 328.5,244.1 326,244.2 323,244.4 311,244.4 307,244.3 305,244.4 299.3,244.4 296,243.7 295.3,243.7 294.4,243.7 293.4,243.7 291.6,243.7 290.6,243.7 289.6,243.7 288.8,243.7 288,243.7 287,243.7 285.4,243.7 284.3,244.5 273.4,244.5 270.7,244.5 269.5,244.5 268.2,244.5 266.8,244.5 265,244.5 263,244.5 261.5,244.5 260,244.5 258.3,244.5 254.5,244.5 251.3,244.5 250.2,242 249.1,242 248.5,242 247.6,242 246.5,242 245.3,242 243.7,242 241,242.8 239.8,242.8 238.6,242.8 236.6,242.8 234.5,244.5 229,244.5 225,244.5 220.4,244.5 217.7,244.5 216.3,244.5 215,244.5 213.5,244.5 212,244.5 210,244.5 208.2,244.5 206.5,244.5 205,244.5 203.5,244.5 202.2,244.5 200.5,244.5 199,244.5 197.5,244.5 195.7,244.5 192.5,244.5 190,244.5 187.6,244.5 186.6,241.1 186,236.8 185.8,228.9 185.2,200.8 184.6,200.8 184.3,200.8 183.9,200.8 183,200.8 182,200.8 181,200.8 180.3,235.3 179.8,238.7 179.5,241.7 178.6,244.5 177.4,244.5 175,244.5 173.3,244.5 172.2,241.5 171.6,235.4 171,229.4 170.4,223.2 170,219.1 169.6,215.1 168.9,208 168.1,208.8 167,214.8 165.6,223.3 164.4,223.3 163.1,212.9 161.6,212.9 160.6,202 159.4,202 158.7,202 158.3,202 157.7,202 157.1,219.8 156.8,234 156.3,244.3 153,244.3 151,244.3 145,244.3 137.2,244.3" fill="#fdae61"/>
<polyline points="137.2,244.2 145,244.2 151,244.2 153,244.3 156.3,244.3 156.8,233.9 157.1,219.4 157.7,198.8 158.3,198.8 158.7,198.8 159.4,198.8 160.6,198.8 161.6,210.1 163.1,210.1 164.4,221.4 165.6,221.4 167,212.7 168.1,206.7 168.9,207.2 169.6,214.5 170,218.6 170.4,222.7 171,228.9 171.6,235.1 172.2,241.3 173.3,244.5 175,244.5 177.4,244.5 178.6,244.5 179.5,241 179.8,237.2 180.3,232.9 181,198.7 182,198.7 183,198.7 183.9,198.7 184.3,198.7 184.6,198.7 185.2,198.7 185.8,227.5 186,236.1 186.6,240.8 187.6,244.5 190,244.5 192.5,244.5 195.7,244.5 197.5,244.5 199,244.5 200.5,244.5 202.2,244.5 203.5,244.5 205,244.5 206.5,244.5 208.2,244.5 210,244.5 212,244.5 213.5,244.5 215,244.5 216.3,244.5 217.7,244.5 220.4,244.5 225,244.5 229,244.5 234.5,244.5 236.6,242.4 238.6,242.4 239.8,242.4 241,242.4 243.7,241.1 245.3,241.1 246.5,241.1 247.6,241.1 248.5,241.1 249.1,241.1 250.2,241.1 251.3,244.5 254.5,244.5 258.3,244.5 260,244.5 261.5,244.5 263,244.5 265,244.5 266.8,244.5 268.2,244.5 269.5,244.5 270.7,244.5 273.4,244.4 284.3,244.5 285.4,243.5 287,243.5 288,243.5 288.8,243.5 289.6,243.5 290.6,243.5 291.6,243.5 293.4,243.5 294.4,243.5 295.3,243.5 296,243.5 299.3,244.3 305,244.4 307,244.2 311,244.4 323,244.4 326,244.1 328.5,244 331.8,244.3 336.7,244.4 339.4,244.5 341.5,244.5 343.7,244.5 345.9,244.5 348.6,244.5 350.5,244.5 351.8,244.5 353.4,244.5 355.5,244.5 357.8,244.5 359.5,243.4 360.5,241.4 361.6,240.3 363.2,240.7 364.5,241.2 366.5,241.7 368,241.2 369.6,240.2 371,239.2 372.2,239.4 373.4,239.6 374.5,240.5 376,241.9 377.5,244.3 379,244.3 381.5,244.4 384,244.4 387,244.4 390,244.4 392,244.3 394,244.3 395.6,244.2 396.5,230.2 396.9,227.7 397.2,225.8 397.6,223.6 398.7,223.6 399.7,223.6 400.5,223.6 401.2,223.6 402.1,223.6 402.2,223.6 402.8,223.6 403.4,226.6 403.8,230.7 404.6,233.9 406,244.3 407.4,244.4 408.4,244.2 409.5,244 410.8,244.1 412,244.1 414,244.1 416.6,244.1 418,244.1 419,244.1 420,244.2 421,244.5 422.6,244.5 424.6,244.5 426,244.5 428.2,244.5 430.5,244.5 432.6,244.5 435,244.5 437.4,244.5 441.2,244.5 445.6,244.5 447.2,244.5 448.6,244.5 450.4,244.5 452.6,244.5 454.8,244.5 457.5,244.5 460.2,244.5 462.3,244.5 465,244.5 468.3,244.5 473.7,244.5 477.5,244.5 481.3,244.5 483,244.5 485,244.5 487.2,244.5 489.7,244.5 492.1,244.5 495.9,244.5 498.1,244.5 499.1,243.9 500,243.5 501.1,243.1 502.2,243.3 503,243.4 504.6,243.5 505.8,243.6 507,243.7 508,243.9 510,244 511.5,244.2 512.9,244.2 514.5,244.3 521,244.3 523,244.1 524.5,242.7 526.2,241.6 527.8,242.7 529.6,243.6 531.2,240.6 532.9,238.9 534.5,241 536,242.7 537.5,243.5 539,242.7 540.5,239.7 542.2,237.5 543.2,238.8 544.3,240.5 545.5,235.7 546.8,233.7 548.2,235 549.9,239 551.6,240.7 553.5,241.6 555.5,242.3 558,242.7 560.1,242.6 561.5,240.1 562.8,238.8 564.5,239.2 566.9,239.8 568.6,236.8 570.4,235.6 571.8,234.8 573.4,236.4 575,237.6 576.5,237.4 578.3,236.6 579.5,238.2 580.3,240.3 581.6,242.5 583,243.8 584.9,244.4 587.6,243.9 593,244.1 597.3,244.4 599.5,244.1 603.8,244.4 606,243.9 608.4,243.4 610.5,243.6 613.5,243.9 616.8,244.4 621.7,244.5 623.3,244.1 624.4,243.9 626.5,244 628.7,244.3 630.5,244.1 633,244.4 635.7,243.5 639,244.1 641.7,243.4 644.4,243.7 647.1,243.3 649.3,242.7 651.4,243.1 654.1,243.8 656.3,243.8 657.6,237.1 658.2,235.2 658.6,234.3 659.4,234.3 660.2,234.3 660.5,234.3 660.8,234.3 661.3,234.3 663.1,234.3 664.4,234.3 665.6,234.3 666.9,234.3 667.4,234.8 667.9,239.9 668.3,234.8 668.9,234.3 669.3,234.3 669.7,234.3 670,234.3 670.2,234.3 672,234.3 672.3,234.3 672.8,234.3 673.3,234.3 673.8,234.3 674.2,234.3 675,231.7 676.2,237.4 677,239.3 678.4,240 681.4,237.9 683,241.4 684.6,244.1 687.9,244.2 690.5,244.5 693.3,244.5 695.5,244.5 697.4,244.5 699.2,244.5 702.8,244.5" fill="none" stroke="#fdae61" stroke-width="2.08" stroke-linejoin="round"/>
<polygon points="137.2,244.2 145,244.2 151,244.2 153,244.2 156.3,244.2 156.8,233.7 157.1,219 157.7,195.7 158.3,195.7 158.7,195.7 159.4,195.7 160.6,195.7 161.6,207.3 163.1,207.3 164.4,219.4 165.6,219.4 167,210.6 168.1,204.6 168.9,206.5 169.6,213.8 170,218 170.4,222.2 171,228.5 171.6,234.8 172.2,241.1 173.3,244.5 175,244.5 177.4,244.5 178.6,244.5 179.5,240.3 179.8,235.7 180.3,230.5 181,196.6 182,196.6 183,196.6 183.9,196.6 184.3,196.6 184.6,196.6 185.2,196.6 185.8,226.1 186,235.4 186.6,240.5 187.6,244.5 190,244.5 192.5,244.5 195.7,244.5 197.5,244.5 199,244.5 200.5,244.5 202.2,244.5 203.5,244.5 205,244.5 206.5,244.5 208.2,244.5 210,244.5 212,244.5 213.5,244.5 215,244.5 216.3,244.5 217.7,244.5 220.4,244.5 225,244.5 229,244.5 234.5,244.5 236.6,241.9 238.6,241.9 239.8,241.9 241,241.9 243.7,240.3 245.3,240.3 246.5,240.3 247.6,240.3 248.5,240.3 249.1,240.3 250.2,240.3 251.3,244.5 254.5,244.5 258.3,244.5 260,244.5 261.5,244.5 263,244.5 265,244.5 266.8,244.5 268.2,244.5 269.5,244.5 270.7,244.5 273.4,244.4 284.3,244.5 285.4,243.2 287,243.2 288,243.2 288.8,243.2 289.6,243.2 290.6,243.2 291.6,243.2 293.4,243.2 294.4,243.2 295.3,243.2 296,243.2 299.3,244.3 305,244.4 307,244.1 311,244.4 323,244.4 326,244 328.5,243.8 331.8,244.3 336.7,244.4 339.4,244.5 341.5,244.5 343.7,244.5 345.9,244.5 348.6,244.5 350.5,244.5 351.8,244.5 353.4,244.5 355.5,244.5 357.8,244.5 359.5,243.1 360.5,240.6 361.6,239.2 363.2,239.7 364.5,240.3 366.5,241 368,240.3 369.6,239 371,237.8 372.2,238 373.4,238.3 374.5,239.4 376,241.2 377.5,244.2 379,244.3 381.5,244.3 384,244.4 387,244.4 390,244.4 392,244.3 394,244.2 395.6,244.1 396.5,227.5 396.9,224.2 397.2,221.8 397.6,219.1 398.7,219.1 399.7,219.1 400.5,219.1 401.2,219.1 402.1,219.1 402.2,219.1 402.8,219.1 403.4,222.8 403.8,228 404.6,232.1 406,244.3 407.4,244.4 408.4,244.2 409.5,243.9 410.8,243.9 412,244 414,244 416.6,244 418,244 419,244 420,244.2 421,244.5 422.6,244.5 424.6,244.5 426,244.5 428.2,244.5 430.5,244.5 432.6,244.5 435,244.5 437.4,244.5 441.2,244.5 445.6,244.5 447.2,244.5 448.6,244.5 450.4,244.5 452.6,244.5 454.8,244.5 457.5,244.5 460.2,244.5 462.3,244.5 465,244.5 468.3,244.5 473.7,244.5 477.5,244.5 481.3,244.5 483,244.5 485,244.5 487.2,244.5 489.7,244.5 492.1,244.5 495.9,244.5 498.1,244.5 499.1,243.7 500,243.2 501.1,242.7 502.2,242.9 503,243.1 504.6,243.3 505.8,243.3 507,243.5 508,243.7 510,243.9 511.5,244.1 512.9,244.1 514.5,244.2 521,244.2 523,244 524.5,242.2 526.2,240.9 527.8,242.2 529.6,243.3 531.2,239.7 532.9,237.6 534.5,240.2 536,242.3 537.5,243.3 539,242.3 540.5,238.6 542.2,236 543.2,237.5 544.3,239.6 545.5,233.9 546.8,231.4 548.2,233.1 549.9,237.8 551.6,239.9 553.5,241 555.5,241.8 558,242.3 560.1,242.2 561.5,239.1 562.8,237.6 564.5,238 566.9,238.7 568.6,235.3 570.4,233.8 571.8,232.9 573.4,234.7 575,236.2 576.5,235.9 578.3,234.9 579.5,236.8 580.3,239.4 581.6,242 583,243.7 584.9,244.4 587.6,243.8 593,244.1 597.3,244.4 599.5,244.1 603.8,244.3 606,243.8 608.4,243.2 610.5,243.4 613.5,243.8 616.8,244.4 621.7,244.5 623.3,244 624.4,243.8 626.5,243.9 628.7,244.3 630.5,244 633,244.4 635.7,243.3 639,244 641.7,243.2 644.4,243.5 647.1,243.1 649.3,242.4 651.4,242.9 654.1,243.6 656.3,243.7 657.6,236.5 658.2,234.1 658.6,232.9 659.4,232.9 660.2,232.9 660.5,232.9 660.8,232.9 661.3,232.9 663.1,232.9 664.4,232.9 665.6,232.9 666.9,232.9 667.4,233.6 667.9,239.3 668.3,233.6 668.9,232.9 669.3,232.9 669.7,232.9 670,232.9 670.2,232.9 672,232.9 672.3,232.9 672.8,232.9 673.3,232.9 673.8,232.9 674.2,232.9 675,231.1 676.2,237 677,239 678.4,239.8 681.4,237.6 683,241.3 684.6,244 687.9,244.2 690.5,244.5 693.3,244.5 695.5,244.5 697.4,244.5 699.2,244.5 702.8,244.5 702.8,244.5 699.2,244.5 697.4,244.5 695.5,244.5 693.3,244.5 690.5,244.5 687.9,244.2 684.6,244.1 683,241.4 681.4,237.9 678.4,240 677,239.3 676.2,237.4 675,231.7 674.2,234.3 673.8,234.3 673.3,234.3 672.8,234.3 672.3,234.3 672,234.3 670.2,234.3 670,234.3 669.7,234.3 669.3,234.3 668.9,234.3 668.3,234.8 667.9,239.9 667.4,234.8 666.9,234.3 665.6,234.3 664.4,234.3 663.1,234.3 661.3,234.3 660.8,234.3 660.5,234.3 660.2,234.3 659.4,234.3 658.6,234.3 658.2,235.2 657.6,237.1 656.3,243.8 654.1,243.8 651.4,243.1 649.3,242.7 647.1,243.3 644.4,243.7 641.7,243.4 639,244.1 635.7,243.5 633,244.4 630.5,244.1 628.7,244.3 626.5,244 624.4,243.9 623.3,244.1 621.7,244.5 616.8,244.4 613.5,243.9 610.5,243.6 608.4,243.4 606,243.9 603.8,244.4 599.5,244.1 597.3,244.4 593,244.1 587.6,243.9 584.9,244.4 583,243.8 581.6,242.5 580.3,240.3 579.5,238.2 578.3,236.6 576.5,237.4 575,237.6 573.4,236.4 571.8,234.8 570.4,235.6 568.6,236.8 566.9,239.8 564.5,239.2 562.8,238.8 561.5,240.1 560.1,242.6 558,242.7 555.5,242.3 553.5,241.6 551.6,240.7 549.9,239 548.2,235 546.8,233.7 545.5,235.7 544.3,240.5 543.2,238.8 542.2,237.5 540.5,239.7 539,242.7 537.5,243.5 536,242.7 534.5,241 532.9,238.9 531.2,240.6 529.6,243.6 527.8,242.7 526.2,241.6 524.5,242.7 523,244.1 521,244.3 514.5,244.3 512.9,244.2 511.5,244.2 510,244 508,243.9 507,243.7 505.8,243.6 504.6,243.5 503,243.4 502.2,243.3 501.1,243.1 500,243.5 499.1,243.9 498.1,244.5 495.9,244.5 492.1,244.5 489.7,244.5 487.2,244.5 485,244.5 483,244.5 481.3,244.5 477.5,244.5 473.7,244.5 468.3,244.5 465,244.5 462.3,244.5 460.2,244.5 457.5,244.5 454.8,244.5 452.6,244.5 450.4,244.5 448.6,244.5 447.2,244.5 445.6,244.5 441.2,244.5 437.4,244.5 435,244.5 432.6,244.5 430.5,244.5 428.2,244.5 426,244.5 424.6,244.5 422.6,244.5 421,244.5 420,244.2 419,244.1 418,244.1 416.6,244.1 414,244.1 412,244.1 410.8,244.1 409.5,244 408.4,244.2 407.4,244.4 406,244.3 404.6,233.9 403.8,230.7 403.4,226.6 402.8,223.6 402.2,223.6 402.1,223.6 401.2,223.6 400.5,223.6 399.7,223.6 398.7,223.6 397.6,223.6 397.2,225.8 396.9,227.7 396.5,230.2 395.6,244.2 394,244.3 392,244.3 390,244.4 387,244.4 384,244.4 381.5,244.4 379,244.3 377.5,244.3 376,241.9 374.5,240.5 373.4,239.6 372.2,239.4 371,239.2 369.6,240.2 368,241.2 366.5,241.7 364.5,241.2 363.2,240.7 361.6,240.3 360.5,241.4 359.5,243.4 357.8,244.5 355.5,244.5 353.4,244.5 351.8,244.5 350.5,244.5 348.6,244.5 345.9,244.5 343.7,244.5 341.5,244.5 339.4,244.5 336.7,244.4 331.8,244.3 328.5,244 326,244.1 323,244.4 311,244.4 307,244.2 305,244.4 299.3,244.3 296,243.5 295.3,243.5 294.4,243.5 293.4,243.5 291.6,243.5 290.6,243.5 289.6,243.5 288.8,243.5 288,243.5 287,243.5 285.4,243.5 284.3,244.5 273.4,244.4 270.7,244.5 269.5,244.5 268.2,244.5 266.8,244.5 265,244.5 263,244.5 261.5,244.5 260,244.5 258.3,244.5 254.5,244.5 251.3,244.5 250.2,241.1 249.1,241.1 248.5,241.1 247.6,241.1 246.5,241.1 245.3,241.1 243.7,241.1 241,242.4 239.8,242.4 238.6,242.4 236.6,242.4 234.5,244.5 229,244.5 225,244.5 220.4,244.5 217.7,244.5 216.3,244.5 215,244.5 213.5,244.5 212,244.5 210,244.5 208.2,244.5 206.5,244.5 205,244.5 203.5,244.5 202.2,244.5 200.5,244.5 199,244.5 197.5,244.5 195.7,244.5 192.5,244.5 190,244.5 187.6,244.5 186.6,240.8 186,236.1 185.8,227.5 185.2,198.7 184.6,198.7 184.3,198.7 183.9,198.7 183,198.7 182,198.7 181,198.7 180.3,232.9 179.8,237.2 179.5,241 178.6,244.5 177.4,244.5 175,244.5 173.3,244.5 172.2,241.3 171.6,235.1 171,228.9 170.4,222.7 170,218.6 169.6,214.5 168.9,207.2 168.1,206.7 167,212.7 165.6,221.4 164.4,221.4 163.1,210.1 161.6,210.1 160.6,198.8 159.4,198.8 158.7,198.8 158.3,198.8 157.7,198.8 157.1,219.4 156.8,233.9 156.3,244.3 153,244.3 151,244.2 145,244.2 137.2,244.2" fill="#fdbf6f"/>
<polyline points="137.2,244.2 145,244.2 151,244.2 153,244.2 156.3,244.2 156.8,233.7 157.1,219 157.7,195.7 158.3,195.7 158.7,195.7 159.4,195.7 160.6,195.7 161.6,207.3 163.1,207.3 164.4,219.4 165.6,219.4 167,210.6 168.1,204.6 168.9,206.5 169.6,213.8 170,218 170.4,222.2 171,228.5 171.6,234.8 172.2,241.1 173.3,244.5 175,244.5 177.4,244.5 178.6,244.5 179.5,240.3 179.8,235.7 180.3,230.5 181,196.6 182,196.6 183,196.6 183.9,196.6 184.3,196.6 184.6,196.6 185.2,196.6 185.8,226.1 186,235.4 186.6,240.5 187.6,244.5 190,244.5 192.5,244.5 195.7,244.5 197.5,244.5 199,244.5 200.5,244.5 202.2,244.5 203.5,244.5 205,244.5 206.5,244.5 208.2,244.5 210,244.5 212,244.5 213.5,244.5 215,244.5 216.3,244.5 217.7,244.5 220.4,244.5 225,244.5 229,244.5 234.5,244.5 236.6,241.9 238.6,241.9 239.8,241.9 241,241.9 243.7,240.3 245.3,240.3 246.5,240.3 247.6,240.3 248.5,240.3 249.1,240.3 250.2,240.3 251.3,244.5 254.5,244.5 258.3,244.5 260,244.5 261.5,244.5 263,244.5 265,244.5 266.8,244.5 268.2,244.5 269.5,244.5 270.7,244.5 273.4,244.4 284.3,244.5 285.4,243.2 287,243.2 288,243.2 288.8,243.2 289.6,243.2 290.6,243.2 291.6,243.2 293.4,243.2 294.4,243.2 295.3,243.2 296,243.2 299.3,244.3 305,244.4 307,244.1 311,244.4 323,244.4 326,244 328.5,243.8 331.8,244.3 336.7,244.4 339.4,244.5 341.5,244.5 343.7,244.5 345.9,244.5 348.6,244.5 350.5,244.5 351.8,244.5 353.4,244.5 355.5,244.5 357.8,244.5 359.5,243.1 360.5,240.6 361.6,239.2 363.2,239.7 364.5,240.3 366.5,241 368,240.3 369.6,239 371,237.8 372.2,238 373.4,238.3 374.5,239.4 376,241.2 377.5,244.2 379,244.3 381.5,244.3 384,244.4 387,244.4 390,244.4 392,244.3 394,244.2 395.6,244.1 396.5,227.5 396.9,224.2 397.2,221.8 397.6,219.1 398.7,219.1 399.7,219.1 400.5,219.1 401.2,219.1 402.1,219.1 402.2,219.1 402.8,219.1 403.4,222.8 403.8,228 404.6,232.1 406,244.3 407.4,244.4 408.4,244.2 409.5,243.9 410.8,243.9 412,244 414,244 416.6,244 418,244 419,244 420,244.2 421,244.5 422.6,244.5 424.6,244.5 426,244.5 428.2,244.5 430.5,244.5 432.6,244.5 435,244.5 437.4,244.5 441.2,244.5 445.6,244.5 447.2,244.5 448.6,244.5 450.4,244.5 452.6,244.5 454.8,244.5 457.5,244.5 460.2,244.5 462.3,244.5 465,244.5 468.3,244.5 473.7,244.5 477.5,244.5 481.3,244.5 483,244.5 485,244.5 487.2,244.5 489.7,244.5 492.1,244.5 495.9,244.5 498.1,244.5 499.1,243.7 500,243.2 501.1,242.7 502.2,242.9 503,243.1 504.6,243.3 505.8,243.3 507,243.5 508,243.7 510,243.9 511.5,244.1 512.9,244.1 514.5,244.2 521,244.2 523,244 524.5,242.2 526.2,240.9 527.8,242.2 529.6,243.3 531.2,239.7 532.9,237.6 534.5,240.2 536,242.3 537.5,243.3 539,242.3 540.5,238.6 542.2,236 543.2,237.5 544.3,239.6 545.5,233.9 546.8,231.4 548.2,233.1 549.9,237.8 551.6,239.9 553.5,241 555.5,241.8 558,242.3 560.1,242.2 561.5,239.1 562.8,237.6 564.5,238 566.9,238.7 568.6,235.3 570.4,233.8 571.8,232.9 573.4,234.7 575,236.2 576.5,235.9 578.3,234.9 579.5,236.8 580.3,239.4 581.6,242 583,243.7 584.9,244.4 587.6,243.8 593,244.1 597.3,244.4 599.5,244.1 603.8,244.3 606,243.8 608.4,243.2 610.5,243.4 613.5,243.8 616.8,244.4 621.7,244.5 623.3,244 624.4,243.8 626.5,243.9 628.7,244.3 630.5,244 633,244.4 635.7,243.3 639,244 641.7,243.2 644.4,243.5 647.1,243.1 649.3,242.4 651.4,242.9 654.1,243.6 656.3,243.7 657.6,236.5 658.2,234.1 658.6,232.9 659.4,232.9 660.2,232.9 660.5,232.9 660.8,232.9 661.3,232.9 663.1,232.9 664.4,232.9 665.6,232.9 666.9,232.9 667.4,233.6 667.9,239.3 668.3,233.6 668.9,232.9 669.3,232.9 669.7,232.9 670,232.9 670.2,232.9 672,232.9 672.3,232.9 672.8,232.9 673.3,232.9 673.8,232.9 674.2,232.9 675,231.1 676.2,237 677,239 678.4,239.8 681.4,237.6 683,241.3 684.6,244 687.9,244.2 690.5,244.5 693.3,244.5 695.5,244.5 697.4,244.5 699.2,244.5 702.8,244.5" fill="none" stroke="#fdbf6f" stroke-width="2.08" stroke-linejoin="round"/>
<polygon points="137.2,244.1 145,244.1 151,244.1 153,244.2 156.3,244.2 156.8,233.5 157.1,218.5 157.7,192.5 158.3,192.5 158.7,192.5 159.4,192.5 160.6,192.5 161.6,204.5 163.1,204.5 164.4,217.5 165.6,217.5 167,208.5 168.1,202.5 168.9,205.7 169.6,213.2 170,217.4 170.4,221.7 171,228.1 171.6,234.5 172.2,240.9 173.3,244.5 175,244.5 177.4,244.5 178.6,244.5 179.5,239.6 179.8,234.2 180.3,228.2 181,194.5 182,194.5 183,194.5 183.9,194.5 184.3,194.5 184.6,194.5 185.2,194.5 185.8,224.8 186,234.8 186.6,240.2 187.6,244.5 190,244.5 192.5,244.5 195.7,244.5 197.5,244.5 199,244.5 200.5,244.5 202.2,244.5 203.5,244.5 205,244.5 206.5,244.5 208.2,244.5 210,244.5 212,244.5 213.5,244.5 215,244.5 216.3,244.5 217.7,244.5 220.4,244.5 225,244.5 229,244.5 234.5,244.5 236.6,241.5 238.6,241.5 239.8,241.5 241,241.5 243.7,239.5 245.3,239.5 246.5,239.5 247.6,239.5 248.5,239.5 249.1,239.5 250.2,239.5 251.3,244.5 254.5,244.5 258.3,244.5 260,244.5 261.5,244.5 263,244.5 265,244.5 266.8,244.5 268.2,244.5 269.5,244.5 270.7,244.5 273.4,244.4 284.3,244.5 285.4,243 287,243 288,243 288.8,243 289.6,243 290.6,243 291.6,243 293.4,243 294.4,243 295.3,243 296,243 299.3,244.2 305,244.3 307,244 311,244.3 323,244.3 326,243.9 328.5,243.7 331.8,244.2 336.7,244.4 339.4,244.5 341.5,244.5 343.7,244.5 345.9,244.5 348.6,244.5 350.5,244.5 351.8,244.5 353.4,244.5 355.5,244.5 357.8,244.5 359.5,242.8 360.5,239.8 361.6,238.1 363.2,238.7 364.5,239.4 366.5,240.2 368,239.4 369.6,237.8 371,236.4 372.2,236.6 373.4,237 374.5,238.3 376,240.5 377.5,244.1 379,244.2 381.5,244.3 384,244.3 387,244.3 390,244.3 392,244.2 394,244.2 395.6,244.1 396.5,224.7 396.9,220.8 397.2,217.9 397.6,214.5 398.7,214.5 399.7,214.5 400.5,214.5 401.2,214.5 402.1,214.5 402.2,214.5 402.8,214.5 403.4,219.1 403.8,225.3 404.6,230.4 406,244.2 407.4,244.3 408.4,244.1 409.5,243.8 410.8,243.8 412,243.9 414,243.9 416.6,243.8 418,243.9 419,243.9 420,244.1 421,244.5 422.6,244.5 424.6,244.5 426,244.5 428.2,244.5 430.5,244.5 432.6,244.5 435,244.5 437.4,244.5 441.2,244.5 445.6,244.5 447.2,244.5 448.6,244.5 450.4,244.5 452.6,244.5 454.8,244.5 457.5,244.5 460.2,244.5 462.3,244.5 465,244.5 468.3,244.5 473.7,244.5 477.5,244.5 481.3,244.5 483,244.5 485,244.5 487.2,244.5 489.7,244.5 492.1,244.5 495.9,244.5 498.1,244.5 499.1,243.6 500,242.9 501.1,242.3 502.2,242.6 503,242.8 504.6,243 505.8,243.1 507,243.3 508,243.5 510,243.8 511.5,244 512.9,244 514.5,244.2 521,244.1 523,243.9 524.5,241.8 526.2,240.2 527.8,241.8 529.6,243.1 531.2,238.9 532.9,236.4 534.5,239.4 536,241.9 537.5,243.1 539,241.9 540.5,237.5 542.2,234.4 543.2,236.3 544.3,238.8 545.5,232 546.8,229.2 548.2,231.1 549.9,236.6 551.6,239.1 553.5,240.3 555.5,241.3 558,241.9 560.1,241.8 561.5,238.1 562.8,236.3 564.5,236.8 566.9,237.7 568.6,233.8 570.4,232 571.8,230.9 573.4,233.1 575,234.8 576.5,234.4 578.3,233.2 579.5,235.5 580.3,238.5 581.6,241.6 583,243.6 584.9,244.4 587.6,243.6 593,244 597.3,244.4 599.5,244 603.8,244.3 606,243.7 608.4,242.9 610.5,243.2 613.5,243.6 616.8,244.4 621.7,244.5 623.3,243.9 624.4,243.6 626.5,243.7 628.7,244.2 630.5,243.9 633,244.3 635.7,243.1 639,243.9 641.7,242.9 644.4,243.4 647.1,242.9 649.3,242.1 651.4,242.7 654.1,243.5 656.3,243.6 657.6,235.8 658.2,232.9 658.6,231.5 659.4,231.5 660.2,231.5 660.5,231.5 660.8,231.5 661.3,231.5 663.1,231.5 664.4,231.5 665.6,231.5 666.9,231.5 667.4,232.4 667.9,238.7 668.3,232.4 668.9,231.5 669.3,231.5 669.7,231.5 670,231.5 670.2,231.5 672,231.5 672.3,231.5 672.8,231.5 673.3,231.5 673.8,231.5 674.2,231.5 675,230.4 676.2,236.6 677,238.7 678.4,239.6 681.4,237.2 683,241.1 684.6,243.9 687.9,244.1 690.5,244.5 693.3,244.5 695.5,244.5 697.4,244.5 699.2,244.5 702.8,244.5 702.8,244.5 699.2,244.5 697.4,244.5 695.5,244.5 693.3,244.5 690.5,244.5 687.9,244.2 684.6,244 683,241.3 681.4,237.6 678.4,239.8 677,239 676.2,237 675,231.1 674.2,232.9 673.8,232.9 673.3,232.9 672.8,232.9 672.3,232.9 672,232.9 670.2,232.9 670,232.9 669.7,232.9 669.3,232.9 668.9,232.9 668.3,233.6 667.9,239.3 667.4,233.6 666.9,232.9 665.6,232.9 664.4,232.9 663.1,232.9 661.3,232.9 660.8,232.9 660.5,232.9 660.2,232.9 659.4,232.9 658.6,232.9 658.2,234.1 657.6,236.5 656.3,243.7 654.1,243.6 651.4,242.9 649.3,242.4 647.1,243.1 644.4,243.5 641.7,243.2 639,244 635.7,243.3 633,244.4 630.5,244 628.7,244.3 626.5,243.9 624.4,243.8 623.3,244 621.7,244.5 616.8,244.4 613.5,243.8 610.5,243.4 608.4,243.2 606,243.8 603.8,244.3 599.5,244.1 597.3,244.4 593,244.1 587.6,243.8 584.9,244.4 583,243.7 581.6,242 580.3,239.4 579.5,236.8 578.3,234.9 576.5,235.9 575,236.2 573.4,234.7 571.8,232.9 570.4,233.8 568.6,235.3 566.9,238.7 564.5,238 562.8,237.6 561.5,239.1 560.1,242.2 558,242.3 555.5,241.8 553.5,241 551.6,239.9 549.9,237.8 548.2,233.1 546.8,231.4 545.5,233.9 544.3,239.6 543.2,237.5 542.2,236 540.5,238.6 539,242.3 537.5,243.3 536,242.3 534.5,240.2 532.9,237.6 531.2,239.7 529.6,243.3 527.8,242.2 526.2,240.9 524.5,242.2 523,244 521,244.2 514.5,244.2 512.9,244.1 511.5,244.1 510,243.9 508,243.7 507,243.5 505.8,243.3 504.6,243.3 503,243.1 502.2,242.9 501.1,242.7 500,243.2 499.1,243.7 498.1,244.5 495.9,244.5 492.1,244.5 489.7,244.5 487.2,244.5 485,244.5 483,244.5 481.3,244.5 477.5,244.5 473.7,244.5 468.3,244.5 465,244.5 462.3,244.5 460.2,244.5 457.5,244.5 454.8,244.5 452.6,244.5 450.4,244.5 448.6,244.5 447.2,244.5 445.6,244.5 441.2,244.5 437.4,244.5 435,244.5 432.6,244.5 430.5,244.5 428.2,244.5 426,244.5 424.6,244.5 422.6,244.5 421,244.5 420,244.2 419,244 418,244 416.6,244 414,244 412,244 410.8,243.9 409.5,243.9 408.4,244.2 407.4,244.4 406,244.3 404.6,232.1 403.8,228 403.4,222.8 402.8,219.1 402.2,219.1 402.1,219.1 401.2,219.1 400.5,219.1 399.7,219.1 398.7,219.1 397.6,219.1 397.2,221.8 396.9,224.2 396.5,227.5 395.6,244.1 394,244.2 392,244.3 390,244.4 387,244.4 384,244.4 381.5,244.3 379,244.3 377.5,244.2 376,241.2 374.5,239.4 373.4,238.3 372.2,238 371,237.8 369.6,239 368,240.3 366.5,241 364.5,240.3 363.2,239.7 361.6,239.2 360.5,240.6 359.5,243.1 357.8,244.5 355.5,244.5 353.4,244.5 351.8,244.5 350.5,244.5 348.6,244.5 345.9,244.5 343.7,244.5 341.5,244.5 339.4,244.5 336.7,244.4 331.8,244.3 328.5,243.8 326,244 323,244.4 311,244.4 307,244.1 305,244.4 299.3,244.3 296,243.2 295.3,243.2 294.4,243.2 293.4,243.2 291.6,243.2 290.6,243.2 289.6,243.2 288.8,243.2 288,243.2 287,243.2 285.4,243.2 284.3,244.5 273.4,244.4 270.7,244.5 269.5,244.5 268.2,244.5 266.8,244.5 265,244.5 263,244.5 261.5,244.5 260,244.5 258.3,244.5 254.5,244.5 251.3,244.5 250.2,240.3 249.1,240.3 248.5,240.3 247.6,240.3 246.5,240.3 245.3,240.3 243.7,240.3 241,241.9 239.8,241.9 238.6,241.9 236.6,241.9 234.5,244.5 229,244.5 225,244.5 220.4,244.5 217.7,244.5 216.3,244.5 215,244.5 213.5,244.5 212,244.5 210,244.5 208.2,244.5 206.5,244.5 205,244.5 203.5,244.5 202.2,244.5 200.5,244.5 199,244.5 197.5,244.5 195.7,244.5 192.5,244.5 190,244.5 187.6,244.5 186.6,240.5 186,235.4 185.8,226.1 185.2,196.6 184.6,196.6 184.3,196.6 183.9,196.6 183,196.6 182,196.6 181,196.6 180.3,230.5 179.8,235.7 179.5,240.3 178.6,244.5 177.4,244.5 175,244.5 173.3,244.5 172.2,241.1 171.6,234.8 171,228.5 170.4,222.2 170,218 169.6,213.8 168.9,206.5 168.1,204.6 167,210.6 165.6,219.4 164.4,219.4 163.1,207.3 161.6,207.3 160.6,195.7 159.4,195.7 158.7,195.7 158.3,195.7 157.7,195.7 157.1,219 156.8,233.7 156.3,244.2 153,244.2 151,244.2 145,244.2 137.2,244.2" fill="#fecf7d"/>
<polyline points="137.2,244.1 145,244.1 151,244.1 153,244.2 156.3,244.2 156.8,233.5 157.1,218.5 157.7,192.5 158.3,192.5 158.7,192.5 159.4,192.5 160.6,192.5 161.6,204.5 163.1,204.5 164.4,217.5 165.6,217.5 167,208.5 168.1,202.5 168.9,205.7 169.6,213.2 170,217.4 170.4,221.7 171,228.1 171.6,234.5 172.2,240.9 173.3,244.5 175,244.5 177.4,244.5 178.6,244.5 179.5,239.6 179.8,234.2 180.3,228.2 181,194.5 182,194.5 183,194.5 183.9,194.5 184.3,194.5 184.6,194.5 185.2,194.5 185.8,224.8 186,234.8 186.6,240.2 187.6,244.5 190,244.5 192.5,244.5 195.7,244.5 197.5,244.5 199,244.5 200.5,244.5 202.2,244.5 203.5,244.5 205,244.5 206.5,244.5 208.2,244.5 210,244.5 212,244.5 213.5,244.5 215,244.5 216.3,244.5 217.7,244.5 220.4,244.5 225,244.5 229,244.5 234.5,244.5 236.6,241.5 238.6,241.5 239.8,241.5 241,241.5 243.7,239.5 245.3,239.5 246.5,239.5 247.6,239.5 248.5,239.5 249.1,239.5 250.2,239.5 251.3,244.5 254.5,244.5 258.3,244.5 260,244.5 261.5,244.5 263,244.5 265,244.5 266.8,244.5 268.2,244.5 269.5,244.5 270.7,244.5 273.4,244.4 284.3,244.5 285.4,243 287,243 288,243 288.8,243 289.6,243 290.6,243 291.6,243 293.4,243 294.4,243 295.3,243 296,243 299.3,244.2 305,244.3 307,244 311,244.3 323,244.3 326,243.9 328.5,243.7 331.8,244.2 336.7,244.4 339.4,244.5 341.5,244.5 343.7,244.5 345.9,244.5 348.6,244.5 350.5,244.5 351.8,244.5 353.4,244.5 355.5,244.5 357.8,244.5 359.5,242.8 360.5,239.8 361.6,238.1 363.2,238.7 364.5,239.4 366.5,240.2 368,239.4 369.6,237.8 371,236.4 372.2,236.6 373.4,237 374.5,238.3 376,240.5 377.5,244.1 379,244.2 381.5,244.3 384,244.3 387,244.3 390,244.3 392,244.2 394,244.2 395.6,244.1 396.5,224.7 396.9,220.8 397.2,217.9 397.6,214.5 398.7,214.5 399.7,214.5 400.5,214.5 401.2,214.5 402.1,214.5 402.2,214.5 402.8,214.5 403.4,219.1 403.8,225.3 404.6,230.4 406,244.2 407.4,244.3 408.4,244.1 409.5,243.8 410.8,243.8 412,243.9 414,243.9 416.6,243.8 418,243.9 419,243.9 420,244.1 421,244.5 422.6,244.5 424.6,244.5 426,244.5 428.2,244.5 430.5,244.5 432.6,244.5 435,244.5 437.4,244.5 441.2,244.5 445.6,244.5 447.2,244.5 448.6,244.5 450.4,244.5 452.6,244.5 454.8,244.5 457.5,244.5 460.2,244.5 462.3,244.5 465,244.5 468.3,244.5 473.7,244.5 477.5,244.5 481.3,244.5 483,244.5 485,244.5 487.2,244.5 489.7,244.5 492.1,244.5 495.9,244.5 498.1,244.5 499.1,243.6 500,242.9 501.1,242.3 502.2,242.6 503,242.8 504.6,243 505.8,243.1 507,243.3 508,243.5 510,243.8 511.5,244 512.9,244 514.5,244.2 521,244.1 523,243.9 524.5,241.8 526.2,240.2 527.8,241.8 529.6,243.1 531.2,238.9 532.9,236.4 534.5,239.4 536,241.9 537.5,243.1 539,241.9 540.5,237.5 542.2,234.4 543.2,236.3 544.3,238.8 545.5,232 546.8,229.2 548.2,231.1 549.9,236.6 551.6,239.1 553.5,240.3 555.5,241.3 558,241.9 560.1,241.8 561.5,238.1 562.8,236.3 564.5,236.8 566.9,237.7 568.6,233.8 570.4,232 571.8,230.9 573.4,233.1 575,234.8 576.5,234.4 578.3,233.2 579.5,235.5 580.3,238.5 581.6,241.6 583,243.6 584.9,244.4 587.6,243.6 593,244 597.3,244.4 599.5,244 603.8,244.3 606,243.7 608.4,242.9 610.5,243.2 613.5,243.6 616.8,244.4 621.7,244.5 623.3,243.9 624.4,243.6 626.5,243.7 628.7,244.2 630.5,243.9 633,244.3 635.7,243.1 639,243.9 641.7,242.9 644.4,243.4 647.1,242.9 649.3,242.1 651.4,242.7 654.1,243.5 656.3,243.6 657.6,235.8 658.2,232.9 658.6,231.5 659.4,231.5 660.2,231.5 660.5,231.5 660.8,231.5 661.3,231.5 663.1,231.5 664.4,231.5 665.6,231.5 666.9,231.5 667.4,232.4 667.9,238.7 668.3,232.4 668.9,231.5 669.3,231.5 669.7,231.5 670,231.5 670.2,231.5 672,231.5 672.3,231.5 672.8,231.5 673.3,231.5 673.8,231.5 674.2,231.5 675,230.4 676.2,236.6 677,238.7 678.4,239.6 681.4,237.2 683,241.1 684.6,243.9 687.9,244.1 690.5,244.5 693.3,244.5 695.5,244.5 697.4,244.5 699.2,244.5 702.8,244.5" fill="none" stroke="#fecf7d" stroke-width="2.08" stroke-linejoin="round"/>
<polygon points="137.2,243.8 145,243.8 151,243.8 153,243.9 156.3,243.9 156.8,233.4 157.1,218.2 157.7,190.2 158.3,190.2 158.7,190.2 159.4,190.2 160.6,190.2 161.6,201.2 163.1,201.2 164.4,212.7 165.6,212.7 167,204.8 168.1,199.5 168.9,204.3 169.6,212 170,216.4 170.4,220.8 171,227.4 171.6,233.9 172.2,240.5 173.3,243.9 175,244.1 177.4,244 178.6,244.1 179.5,238.7 179.8,232.4 180.3,225.4 181,192.3 182,192.3 183,192.3 183.9,192.3 184.3,192.3 184.6,192.3 185.2,193.5 185.8,223.8 186,234.3 186.6,240 187.6,244.4 190,244.4 192.5,244.2 195.7,244.1 197.5,244.2 199,244.2 200.5,244 202.2,243.9 203.5,244 205,244.2 206.5,244.4 208.2,244.5 210,244.4 212,244.2 213.5,244.1 215,244.3 216.3,244.3 217.7,244.3 220.4,244.3 225,244.4 229,244.3 234.5,244.3 236.6,240.5 238.6,240.5 239.8,240.5 241,240.5 243.7,235.7 245.3,235.7 246.5,235.7 247.6,235.7 248.5,235.7 249.1,235.7 250.2,237.6 251.3,244.2 254.5,244.3 258.3,244.3 260,244.2 261.5,244.1 263,244.2 265,244.3 266.8,244.2 268.2,244.1 269.5,244.2 270.7,244.4 273.4,244.4 284.3,244.4 285.4,241.4 287,241.1 288,241.1 288.8,241.1 289.6,241.1 290.6,241.1 291.6,241.1 293.4,241.1 294.4,241.1 295.3,241.1 296,242.4 299.3,244.2 305,244.3 307,243.9 311,244.3 323,244.3 326,243.8 328.5,243.6 331.8,244.2 336.7,244.4 339.4,244.3 341.5,243.9 343.7,243.6 345.9,243.6 348.6,243.4 350.5,243.3 351.8,243.5 353.4,243.8 355.5,244 357.8,244.1 359.5,242.2 360.5,237.9 361.6,235.5 363.2,236.4 364.5,237.4 366.5,238.6 368,237.4 369.6,235.2 371,233.2 372.2,233.5 373.4,234.1 374.5,235.8 376,238.9 377.5,243.3 379,243.7 381.5,243.9 384,244 387,244 390,243.9 392,243.7 394,243.4 395.6,243 396.5,224 396.9,220 397.2,216.7 397.6,211.7 398.7,198.7 399.7,198.7 400.5,198.7 401.2,198.7 402.1,203.9 402.2,204.7 402.8,210.2 403.4,217.8 403.8,224.3 404.6,229.9 406,243.7 407.4,244 408.4,243.2 409.5,242.1 410.8,242.3 412,242.5 414,242.5 416.6,242.3 418,242.4 419,242.5 420,243.1 421,243.4 422.6,243.5 424.6,243.5 426,243.6 428.2,244 430.5,244.1 432.6,244.2 435,244.1 437.4,244.3 441.2,244.2 445.6,244 447.2,243.6 448.6,243.4 450.4,243.6 452.6,243.3 454.8,243.2 457.5,243.4 460.2,243.8 462.3,244.3 465,244.4 468.3,244.4 473.7,244.4 477.5,244.3 481.3,244.5 483,244.4 485,243.8 487.2,244.1 489.7,244.3 492.1,244.1 495.9,244.2 498.1,243.8 499.1,242.6 500,241.2 501.1,239.9 502.2,240.5 503,241 504.6,241.4 505.8,241.5 507,242 508,242.5 510,243 511.5,243.5 512.9,243.8 514.5,244.1 521,244.1 523,243.7 524.5,240.9 526.2,238.7 527.8,240.9 529.6,242.7 531.2,238.2 532.9,235.3 534.5,238.7 536,241.5 537.5,243 539,241.6 540.5,236.8 542.2,233.4 543.2,235.4 544.3,238.2 545.5,231.4 546.8,228.4 548.2,230.4 549.9,235.6 551.6,238.4 553.5,239.8 555.5,241 558,241.6 560.1,241.5 561.5,237.4 562.8,235.4 564.5,236 566.9,236.9 568.6,232.8 570.4,230.9 571.8,229.7 573.4,232.1 575,234 576.5,233.6 578.3,232.3 579.5,234.8 580.3,238 581.6,241.4 583,243.4 584.9,244.3 587.6,243.5 593,243.9 597.3,244.3 599.5,243.9 603.8,244.3 606,243.5 608.4,242.7 610.5,243 613.5,243.5 616.8,244.3 621.7,244.5 623.3,243 624.4,242.4 626.5,242.7 628.7,243.8 630.5,243.9 633,244.3 635.7,242.9 639,243.8 641.7,242.7 644.4,242.8 647.1,242 649.3,240.9 651.4,241.7 654.1,243 656.3,243.1 657.6,235.4 658.2,232.4 658.6,230.4 659.4,226.7 660.2,218.9 660.5,218.7 660.8,218.7 661.3,218.7 663.1,218.7 664.4,221 665.6,223.9 666.9,230 667.4,231 667.9,238 668.3,231 668.9,229 669.3,226.7 669.7,224.3 670,222 670.2,220.4 672,219 672.3,220.1 672.8,223.2 673.3,226.9 673.8,229.4 674.2,230.5 675,230.1 676.2,236.4 677,238.6 678.4,239.4 681.4,237.1 683,241.1 684.6,243.8 687.9,244.1 690.5,244.4 693.3,244.4 695.5,244.3 697.4,244.2 699.2,244.3 702.8,244.3 702.8,244.5 699.2,244.5 697.4,244.5 695.5,244.5 693.3,244.5 690.5,244.5 687.9,244.1 684.6,243.9 683,241.1 681.4,237.2 678.4,239.6 677,238.7 676.2,236.6 675,230.4 674.2,231.5 673.8,231.5 673.3,231.5 672.8,231.5 672.3,231.5 672,231.5 670.2,231.5 670,231.5 669.7,231.5 669.3,231.5 668.9,231.5 668.3,232.4 667.9,238.7 667.4,232.4 666.9,231.5 665.6,231.5 664.4,231.5 663.1,231.5 661.3,231.5 660.8,231.5 660.5,231.5 660.2,231.5 659.4,231.5 658.6,231.5 658.2,232.9 657.6,235.8 656.3,243.6 654.1,243.5 651.4,242.7 649.3,242.1 647.1,242.9 644.4,243.4 641.7,242.9 639,243.9 635.7,243.1 633,244.3 630.5,243.9 628.7,244.2 626.5,243.7 624.4,243.6 623.3,243.9 621.7,244.5 616.8,244.4 613.5,243.6 610.5,243.2 608.4,242.9 606,243.7 603.8,244.3 599.5,244 597.3,244.4 593,244 587.6,243.6 584.9,244.4 583,243.6 581.6,241.6 580.3,238.5 579.5,235.5 578.3,233.2 576.5,234.4 575,234.8 573.4,233.1 571.8,230.9 570.4,232 568.6,233.8 566.9,237.7 564.5,236.8 562.8,236.3 561.5,238.1 560.1,241.8 558,241.9 555.5,241.3 553.5,240.3 551.6,239.1 549.9,236.6 548.2,231.1 546.8,229.2 545.5,232 544.3,238.8 543.2,236.3 542.2,234.4 540.5,237.5 539,241.9 537.5,243.1 536,241.9 534.5,239.4 532.9,236.4 531.2,238.9 529.6,243.1 527.8,241.8 526.2,240.2 524.5,241.8 523,243.9 521,244.1 514.5,244.2 512.9,244 511.5,244 510,243.8 508,243.5 507,243.3 505.8,243.1 504.6,243 503,242.8 502.2,242.6 501.1,242.3 500,242.9 499.1,243.6 498.1,244.5 495.9,244.5 492.1,244.5 489.7,244.5 487.2,244.5 485,244.5 483,244.5 481.3,244.5 477.5,244.5 473.7,244.5 468.3,244.5 465,244.5 462.3,244.5 460.2,244.5 457.5,244.5 454.8,244.5 452.6,244.5 450.4,244.5 448.6,244.5 447.2,244.5 445.6,244.5 441.2,244.5 437.4,244.5 435,244.5 432.6,244.5 430.5,244.5 428.2,244.5 426,244.5 424.6,244.5 422.6,244.5 421,244.5 420,244.1 419,243.9 418,243.9 416.6,243.8 414,243.9 412,243.9 410.8,243.8 409.5,243.8 408.4,244.1 407.4,244.3 406,244.2 404.6,230.4 403.8,225.3 403.4,219.1 402.8,214.5 402.2,214.5 402.1,214.5 401.2,214.5 400.5,214.5 399.7,214.5 398.7,214.5 397.6,214.5 397.2,217.9 396.9,220.8 396.5,224.7 395.6,244.1 394,244.2 392,244.2 390,244.3 387,244.3 384,244.3 381.5,244.3 379,244.2 377.5,244.1 376,240.5 374.5,238.3 373.4,237 372.2,236.6 371,236.4 369.6,237.8 368,239.4 366.5,240.2 364.5,239.4 363.2,238.7 361.6,238.1 360.5,239.8 359.5,242.8 357.8,244.5 355.5,244.5 353.4,244.5 351.8,244.5 350.5,244.5 348.6,244.5 345.9,244.5 343.7,244.5 341.5,244.5 339.4,244.5 336.7,244.4 331.8,244.2 328.5,243.7 326,243.9 323,244.3 311,244.3 307,244 305,244.3 299.3,244.2 296,243 295.3,243 294.4,243 293.4,243 291.6,243 290.6,243 289.6,243 288.8,243 288,243 287,243 285.4,243 284.3,244.5 273.4,244.4 270.7,244.5 269.5,244.5 268.2,244.5 266.8,244.5 265,244.5 263,244.5 261.5,244.5 260,244.5 258.3,244.5 254.5,244.5 251.3,244.5 250.2,239.5 249.1,239.5 248.5,239.5 247.6,239.5 246.5,239.5 245.3,239.5 243.7,239.5 241,241.5 239.8,241.5 238.6,241.5 236.6,241.5 234.5,244.5 229,244.5 225,244.5 220.4,244.5 217.7,244.5 216.3,244.5 215,244.5 213.5,244.5 212,244.5 210,244.5 208.2,244.5 206.5,244.5 205,244.5 203.5,244.5 202.2,244.5 200.5,244.5 199,244.5 197.5,244.5 195.7,244.5 192.5,244.5 190,244.5 187.6,244.5 186.6,240.2 186,234.8 185.8,224.8 185.2,194.5 184.6,194.5 184.3,194.5 183.9,194.5 183,194.5 182,194.5 181,194.5 180.3,228.2 179.8,234.2 179.5,239.6 178.6,244.5 177.4,244.5 175,244.5 173.3,244.5 172.2,240.9 171.6,234.5 171,228.1 170.4,221.7 170,217.4 169.6,213.2 168.9,205.7 168.1,202.5 167,208.5 165.6,217.5 164.4,217.5 163.1,204.5 161.6,204.5 160.6,192.5 159.4,192.5 158.7,192.5 158.3,192.5 157.7,192.5 157.1,218.5 156.8,233.5 156.3,244.2 153,244.2 151,244.1 145,244.1 137.2,244.1" fill="#fee08b"/>
<polyline points="137.2,243.8 145,243.8 151,243.8 153,243.9 156.3,243.9 156.8,233.4 157.1,218.2 157.7,190.2 158.3,190.2 158.7,190.2 159.4,190.2 160.6,190.2 161.6,201.2 163.1,201.2 164.4,212.7 165.6,212.7 167,204.8 168.1,199.5 168.9,204.3 169.6,212 170,216.4 170.4,220.8 171,227.4 171.6,233.9 172.2,240.5 173.3,243.9 175,244.1 177.4,244 178.6,244.1 179.5,238.7 179.8,232.4 180.3,225.4 181,192.3 182,192.3 183,192.3 183.9,192.3 184.3,192.3 184.6,192.3 185.2,193.5 185.8,223.8 186,234.3 186.6,240 187.6,244.4 190,244.4 192.5,244.2 195.7,244.1 197.5,244.2 199,244.2 200.5,244 202.2,243.9 203.5,244 205,244.2 206.5,244.4 208.2,244.5 210,244.4 212,244.2 213.5,244.1 215,244.3 216.3,244.3 217.7,244.3 220.4,244.3 225,244.4 229,244.3 234.5,244.3 236.6,240.5 238.6,240.5 239.8,240.5 241,240.5 243.7,235.7 245.3,235.7 246.5,235.7 247.6,235.7 248.5,235.7 249.1,235.7 250.2,237.6 251.3,244.2 254.5,244.3 258.3,244.3 260,244.2 261.5,244.1 263,244.2 265,244.3 266.8,244.2 268.2,244.1 269.5,244.2 270.7,244.4 273.4,244.4 284.3,244.4 285.4,241.4 287,241.1 288,241.1 288.8,241.1 289.6,241.1 290.6,241.1 291.6,241.1 293.4,241.1 294.4,241.1 295.3,241.1 296,242.4 299.3,244.2 305,244.3 307,243.9 311,244.3 323,244.3 326,243.8 328.5,243.6 331.8,244.2 336.7,244.4 339.4,244.3 341.5,243.9 343.7,243.6 345.9,243.6 348.6,243.4 350.5,243.3 351.8,243.5 353.4,243.8 355.5,244 357.8,244.1 359.5,242.2 360.5,237.9 361.6,235.5 363.2,236.4 364.5,237.4 366.5,238.6 368,237.4 369.6,235.2 371,233.2 372.2,233.5 373.4,234.1 374.5,235.8 376,238.9 377.5,243.3 379,243.7 381.5,243.9 384,244 387,244 390,243.9 392,243.7 394,243.4 395.6,243 396.5,224 396.9,220 397.2,216.7 397.6,211.7 398.7,198.7 399.7,198.7 400.5,198.7 401.2,198.7 402.1,203.9 402.2,204.7 402.8,210.2 403.4,217.8 403.8,224.3 404.6,229.9 406,243.7 407.4,244 408.4,243.2 409.5,242.1 410.8,242.3 412,242.5 414,242.5 416.6,242.3 418,242.4 419,242.5 420,243.1 421,243.4 422.6,243.5 424.6,243.5 426,243.6 428.2,244 430.5,244.1 432.6,244.2 435,244.1 437.4,244.3 441.2,244.2 445.6,244 447.2,243.6 448.6,243.4 450.4,243.6 452.6,243.3 454.8,243.2 457.5,243.4 460.2,243.8 462.3,244.3 465,244.4 468.3,244.4 473.7,244.4 477.5,244.3 481.3,244.5 483,244.4 485,243.8 487.2,244.1 489.7,244.3 492.1,244.1 495.9,244.2 498.1,243.8 499.1,242.6 500,241.2 501.1,239.9 502.2,240.5 503,241 504.6,241.4 505.8,241.5 507,242 508,242.5 510,243 511.5,243.5 512.9,243.8 514.5,244.1 521,244.1 523,243.7 524.5,240.9 526.2,238.7 527.8,240.9 529.6,242.7 531.2,238.2 532.9,235.3 534.5,238.7 536,241.5 537.5,243 539,241.6 540.5,236.8 542.2,233.4 543.2,235.4 544.3,238.2 545.5,231.4 546.8,228.4 548.2,230.4 549.9,235.6 551.6,238.4 553.5,239.8 555.5,241 558,241.6 560.1,241.5 561.5,237.4 562.8,235.4 564.5,236 566.9,236.9 568.6,232.8 570.4,230.9 571.8,229.7 573.4,232.1 575,234 576.5,233.6 578.3,232.3 579.5,234.8 580.3,238 581.6,241.4 583,243.4 584.9,244.3 587.6,243.5 593,243.9 597.3,244.3 599.5,243.9 603.8,244.3 606,243.5 608.4,242.7 610.5,243 613.5,243.5 616.8,244.3 621.7,244.5 623.3,243 624.4,242.4 626.5,242.7 628.7,243.8 630.5,243.9 633,244.3 635.7,242.9 639,243.8 641.7,242.7 644.4,242.8 647.1,242 649.3,240.9 651.4,241.7 654.1,243 656.3,243.1 657.6,235.4 658.2,232.4 658.6,230.4 659.4,226.7 660.2,218.9 660.5,218.7 660.8,218.7 661.3,218.7 663.1,218.7 664.4,221 665.6,223.9 666.9,230 667.4,231 667.9,238 668.3,231 668.9,229 669.3,226.7 669.7,224.3 670,222 670.2,220.4 672,219 672.3,220.1 672.8,223.2 673.3,226.9 673.8,229.4 674.2,230.5 675,230.1 676.2,236.4 677,238.6 678.4,239.4 681.4,237.1 683,241.1 684.6,243.8 687.9,244.1 690.5,244.4 693.3,244.4 695.5,244.3 697.4,244.2 699.2,244.3 702.8,244.3" fill="none" stroke="#fee08b" stroke-width="2.08" stroke-linejoin="round"/>
<polygon points="137.2,243.5 145,243.5 151,243.6 153,243.7 156.3,243.7 156.8,233.2 157.1,217.9 157.7,187.8 158.3,187.8 158.7,187.8 159.4,187.8 160.6,187.8 161.6,197.8 163.1,197.8 164.4,207.8 165.6,207.8 167,201.2 168.1,196.5 168.9,203 169.6,210.9 170,215.3 170.4,219.9 171,226.6 171.6,233.4 172.2,240.2 173.3,243.4 175,243.7 177.4,243.5 178.6,243.7 179.5,237.9 179.8,230.7 180.3,222.7 181,190.2 182,190.2 183,190.2 183.9,190.2 184.3,190.2 184.6,190.2 185.2,192.5 185.8,222.8 186,233.8 186.6,239.8 187.6,244.3 190,244.2 192.5,244 195.7,243.7 197.5,243.8 199,243.9 200.5,243.6 202.2,243.2 203.5,243.4 205,243.9 206.5,244.2 208.2,244.4 210,244.2 212,243.9 213.5,243.8 215,244 216.3,244.1 217.7,244.1 220.4,244.2 225,244.2 229,244.2 234.5,244.1 236.6,239.5 238.6,239.5 239.8,239.5 241,239.5 243.7,231.8 245.3,231.8 246.5,231.8 247.6,231.8 248.5,231.8 249.1,231.8 250.2,235.7 251.3,243.8 254.5,244.1 258.3,244 260,243.8 261.5,243.6 263,243.9 265,244.1 266.8,243.9 268.2,243.7 269.5,243.9 270.7,244.3 273.4,244.4 284.3,244.4 285.4,239.7 287,239.2 288,239.2 288.8,239.2 289.6,239.2 290.6,239.2 291.6,239.2 293.4,239.2 294.4,239.2 295.3,239.2 296,241.8 299.3,244.1 305,244.3 307,243.8 311,244.3 323,244.3 326,243.7 328.5,243.4 331.8,244.1 336.7,244.3 339.4,244.1 341.5,243.4 343.7,242.7 345.9,242.8 348.6,242.4 350.5,242.2 351.8,242.6 353.4,243.2 355.5,243.4 357.8,243.6 359.5,241.5 360.5,236.1 361.6,233 363.2,234.1 364.5,235.4 366.5,236.9 368,235.4 369.6,232.6 371,230 372.2,230.4 373.4,231.1 374.5,233.4 376,237.4 377.5,242.4 379,243.1 381.5,243.4 384,243.6 387,243.6 390,243.5 392,243.1 394,242.6 395.6,241.9 396.5,223.2 396.9,219.2 397.2,215.6 397.6,209 398.7,182.8 399.7,182.8 400.5,182.8 401.2,182.8 402.1,193.3 402.2,194.9 402.8,205.9 403.4,216.5 403.8,223.3 404.6,229.4 406,243.1 407.4,243.7 408.4,242.3 409.5,240.4 410.8,240.7 412,241 414,241.1 416.6,240.8 418,240.9 419,241.2 420,242.2 421,242.4 422.6,242.5 424.6,242.4 426,242.8 428.2,243.5 430.5,243.8 432.6,244 435,243.6 437.4,244.2 441.2,243.8 445.6,243.6 447.2,242.8 448.6,242.3 450.4,242.8 452.6,242 454.8,242 457.5,242.3 460.2,243.2 462.3,244.2 465,244.3 468.3,244.4 473.7,244.4 477.5,244.1 481.3,244.4 483,244.3 485,243.1 487.2,243.6 489.7,244.2 492.1,243.6 495.9,244 498.1,243.1 499.1,241.6 500,239.5 501.1,237.5 502.2,238.5 503,239.1 504.6,239.8 505.8,240 507,240.6 508,241.4 510,242.3 511.5,242.9 512.9,243.7 514.5,244 521,244 523,243.5 524.5,240 526.2,237.3 527.8,240 529.6,242.2 531.2,237.4 532.9,234.3 534.5,238.1 536,241.2 537.5,242.8 539,241.3 540.5,236.1 542.2,232.4 543.2,234.6 544.3,237.6 545.5,230.7 546.8,227.6 548.2,229.7 549.9,234.7 551.6,237.8 553.5,239.3 555.5,240.6 558,241.2 560.1,241.2 561.5,236.7 562.8,234.5 564.5,235.2 566.9,236.2 568.6,231.8 570.4,229.8 571.8,228.5 573.4,231.1 575,233.1 576.5,232.8 578.3,231.5 579.5,234.1 580.3,237.6 581.6,241.2 583,243.3 584.9,244.3 587.6,243.4 593,243.8 597.3,244.3 599.5,243.8 603.8,244.2 606,243.4 608.4,242.5 610.5,242.8 613.5,243.4 616.8,244.3 621.7,244.5 623.3,242.2 624.4,241.2 626.5,241.6 628.7,243.5 630.5,243.8 633,244.3 635.7,242.7 639,243.8 641.7,242.6 644.4,242.2 647.1,241.1 649.3,239.6 651.4,240.7 654.1,242.5 656.3,242.6 657.6,234.9 658.2,231.9 658.6,229.3 659.4,221.9 660.2,206.2 660.5,205.8 660.8,205.8 661.3,205.8 663.1,205.8 664.4,210.4 665.6,216.3 666.9,228.4 667.4,229.6 667.9,237.3 668.3,229.6 668.9,226.4 669.3,221.9 669.7,217.2 670,212.5 670.2,209.4 672,206.5 672.3,208.7 672.8,215 673.3,222.2 673.8,227.3 674.2,229.4 675,229.8 676.2,236.3 677,238.5 678.4,239.3 681.4,236.9 683,241 684.6,243.8 687.9,244.1 690.5,244.4 693.3,244.2 695.5,244.1 697.4,244 699.2,244.2 702.8,244.2 702.8,244.3 699.2,244.3 697.4,244.2 695.5,244.3 693.3,244.4 690.5,244.4 687.9,244.1 684.6,243.8 683,241.1 681.4,237.1 678.4,239.4 677,238.6 676.2,236.4 675,230.1 674.2,230.5 673.8,229.4 673.3,226.9 672.8,223.2 672.3,220.1 672,219 670.2,220.4 670,222 669.7,224.3 669.3,226.7 668.9,229 668.3,231 667.9,238 667.4,231 666.9,230 665.6,223.9 664.4,221 663.1,218.7 661.3,218.7 660.8,218.7 660.5,218.7 660.2,218.9 659.4,226.7 658.6,230.4 658.2,232.4 657.6,235.4 656.3,243.1 654.1,243 651.4,241.7 649.3,240.9 647.1,242 644.4,242.8 641.7,242.7 639,243.8 635.7,242.9 633,244.3 630.5,243.9 628.7,243.8 626.5,242.7 624.4,242.4 623.3,243 621.7,244.5 616.8,244.3 613.5,243.5 610.5,243 608.4,242.7 606,243.5 603.8,244.3 599.5,243.9 597.3,244.3 593,243.9 587.6,243.5 584.9,244.3 583,243.4 581.6,241.4 580.3,238 579.5,234.8 578.3,232.3 576.5,233.6 575,234 573.4,232.1 571.8,229.7 570.4,230.9 568.6,232.8 566.9,236.9 564.5,236 562.8,235.4 561.5,237.4 560.1,241.5 558,241.6 555.5,241 553.5,239.8 551.6,238.4 549.9,235.6 548.2,230.4 546.8,228.4 545.5,231.4 544.3,238.2 543.2,235.4 542.2,233.4 540.5,236.8 539,241.6 537.5,243 536,241.5 534.5,238.7 532.9,235.3 531.2,238.2 529.6,242.7 527.8,240.9 526.2,238.7 524.5,240.9 523,243.7 521,244.1 514.5,244.1 512.9,243.8 511.5,243.5 510,243 508,242.5 507,242 505.8,241.5 504.6,241.4 503,241 502.2,240.5 501.1,239.9 500,241.2 499.1,242.6 498.1,243.8 495.9,244.2 492.1,244.1 489.7,244.3 487.2,244.1 485,243.8 483,244.4 481.3,244.5 477.5,244.3 473.7,244.4 468.3,244.4 465,244.4 462.3,244.3 460.2,243.8 457.5,243.4 454.8,243.2 452.6,243.3 450.4,243.6 448.6,243.4 447.2,243.6 445.6,244 441.2,244.2 437.4,244.3 435,244.1 432.6,244.2 430.5,244.1 428.2,244 426,243.6 424.6,243.5 422.6,243.5 421,243.4 420,243.1 419,242.5 418,242.4 416.6,242.3 414,242.5 412,242.5 410.8,242.3 409.5,242.1 408.4,243.2 407.4,244 406,243.7 404.6,229.9 403.8,224.3 403.4,217.8 402.8,210.2 402.2,204.7 402.1,203.9 401.2,198.7 400.5,198.7 399.7,198.7 398.7,198.7 397.6,211.7 397.2,216.7 396.9,220 396.5,224 395.6,243 394,243.4 392,243.7 390,243.9 387,244 384,244 381.5,243.9 379,243.7 377.5,243.3 376,238.9 374.5,235.8 373.4,234.1 372.2,233.5 371,233.2 369.6,235.2 368,237.4 366.5,238.6 364.5,237.4 363.2,236.4 361.6,235.5 360.5,237.9 359.5,242.2 357.8,244.1 355.5,244 353.4,243.8 351.8,243.5 350.5,243.3 348.6,243.4 345.9,243.6 343.7,243.6 341.5,243.9 339.4,244.3 336.7,244.4 331.8,244.2 328.5,243.6 326,243.8 323,244.3 311,244.3 307,243.9 305,244.3 299.3,244.2 296,242.4 295.3,241.1 294.4,241.1 293.4,241.1 291.6,241.1 290.6,241.1 289.6,241.1 288.8,241.1 288,241.1 287,241.1 285.4,241.4 284.3,244.4 273.4,244.4 270.7,244.4 269.5,244.2 268.2,244.1 266.8,244.2 265,244.3 263,244.2 261.5,244.1 260,244.2 258.3,244.3 254.5,244.3 251.3,244.2 250.2,237.6 249.1,235.7 248.5,235.7 247.6,235.7 246.5,235.7 245.3,235.7 243.7,235.7 241,240.5 239.8,240.5 238.6,240.5 236.6,240.5 234.5,244.3 229,244.3 225,244.4 220.4,244.3 217.7,244.3 216.3,244.3 215,244.3 213.5,244.1 212,244.2 210,244.4 208.2,244.5 206.5,244.4 205,244.2 203.5,244 202.2,243.9 200.5,244 199,244.2 197.5,244.2 195.7,244.1 192.5,244.2 190,244.4 187.6,244.4 186.6,240 186,234.3 185.8,223.8 185.2,193.5 184.6,192.3 184.3,192.3 183.9,192.3 183,192.3 182,192.3 181,192.3 180.3,225.4 179.8,232.4 179.5,238.7 178.6,244.1 177.4,244 175,244.1 173.3,243.9 172.2,240.5 171.6,233.9 171,227.4 170.4,220.8 170,216.4 169.6,212 168.9,204.3 168.1,199.5 167,204.8 165.6,212.7 164.4,212.7 163.1,201.2 161.6,201.2 160.6,190.2 159.4,190.2 158.7,190.2 158.3,190.2 157.7,190.2 157.1,218.2 156.8,233.4 156.3,243.9 153,243.9 151,243.8 145,243.8 137.2,243.8" fill="#feea9c"/>
<polyline points="137.2,243.5 145,243.5 151,243.6 153,243.7 156.3,243.7 156.8,233.2 157.1,217.9 157.7,187.8 158.3,187.8 158.7,187.8 159.4,187.8 160.6,187.8 161.6,197.8 163.1,197.8 164.4,207.8 165.6,207.8 167,201.2 168.1,196.5 168.9,203 169.6,210.9 170,215.3 170.4,219.9 171,226.6 171.6,233.4 172.2,240.2 173.3,243.4 175,243.7 177.4,243.5 178.6,243.7 179.5,237.9 179.8,230.7 180.3,222.7 181,190.2 182,190.2 183,190.2 183.9,190.2 184.3,190.2 184.6,190.2 185.2,192.5 185.8,222.8 186,233.8 186.6,239.8 187.6,244.3 190,244.2 192.5,244 195.7,243.7 197.5,243.8 199,243.9 200.5,243.6 202.2,243.2 203.5,243.4 205,243.9 206.5,244.2 208.2,244.4 210,244.2 212,243.9 213.5,243.8 215,244 216.3,244.1 217.7,244.1 220.4,244.2 225,244.2 229,244.2 234.5,244.1 236.6,239.5 238.6,239.5 239.8,239.5 241,239.5 243.7,231.8 245.3,231.8 246.5,231.8 247.6,231.8 248.5,231.8 249.1,231.8 250.2,235.7 251.3,243.8 254.5,244.1 258.3,244 260,243.8 261.5,243.6 263,243.9 265,244.1 266.8,243.9 268.2,243.7 269.5,243.9 270.7,244.3 273.4,244.4 284.3,244.4 285.4,239.7 287,239.2 288,239.2 288.8,239.2 289.6,239.2 290.6,239.2 291.6,239.2 293.4,239.2 294.4,239.2 295.3,239.2 296,241.8 299.3,244.1 305,244.3 307,243.8 311,244.3 323,244.3 326,243.7 328.5,243.4 331.8,244.1 336.7,244.3 339.4,244.1 341.5,243.4 343.7,242.7 345.9,242.8 348.6,242.4 350.5,242.2 351.8,242.6 353.4,243.2 355.5,243.4 357.8,243.6 359.5,241.5 360.5,236.1 361.6,233 363.2,234.1 364.5,235.4 366.5,236.9 368,235.4 369.6,232.6 371,230 372.2,230.4 373.4,231.1 374.5,233.4 376,237.4 377.5,242.4 379,243.1 381.5,243.4 384,243.6 387,243.6 390,243.5 392,243.1 394,242.6 395.6,241.9 396.5,223.2 396.9,219.2 397.2,215.6 397.6,209 398.7,182.8 399.7,182.8 400.5,182.8 401.2,182.8 402.1,193.3 402.2,194.9 402.8,205.9 403.4,216.5 403.8,223.3 404.6,229.4 406,243.1 407.4,243.7 408.4,242.3 409.5,240.4 410.8,240.7 412,241 414,241.1 416.6,240.8 418,240.9 419,241.2 420,242.2 421,242.4 422.6,242.5 424.6,242.4 426,242.8 428.2,243.5 430.5,243.8 432.6,244 435,243.6 437.4,244.2 441.2,243.8 445.6,243.6 447.2,242.8 448.6,242.3 450.4,242.8 452.6,242 454.8,242 457.5,242.3 460.2,243.2 462.3,244.2 465,244.3 468.3,244.4 473.7,244.4 477.5,244.1 481.3,244.4 483,244.3 485,243.1 487.2,243.6 489.7,244.2 492.1,243.6 495.9,244 498.1,243.1 499.1,241.6 500,239.5 501.1,237.5 502.2,238.5 503,239.1 504.6,239.8 505.8,240 507,240.6 508,241.4 510,242.3 511.5,242.9 512.9,243.7 514.5,244 521,244 523,243.5 524.5,240 526.2,237.3 527.8,240 529.6,242.2 531.2,237.4 532.9,234.3 534.5,238.1 536,241.2 537.5,242.8 539,241.3 540.5,236.1 542.2,232.4 543.2,234.6 544.3,237.6 545.5,230.7 546.8,227.6 548.2,229.7 549.9,234.7 551.6,237.8 553.5,239.3 555.5,240.6 558,241.2 560.1,241.2 561.5,236.7 562.8,234.5 564.5,235.2 566.9,236.2 568.6,231.8 570.4,229.8 571.8,228.5 573.4,231.1 575,233.1 576.5,232.8 578.3,231.5 579.5,234.1 580.3,237.6 581.6,241.2 583,243.3 584.9,244.3 587.6,243.4 593,243.8 597.3,244.3 599.5,243.8 603.8,244.2 606,243.4 608.4,242.5 610.5,242.8 613.5,243.4 616.8,244.3 621.7,244.5 623.3,242.2 624.4,241.2 626.5,241.6 628.7,243.5 630.5,243.8 633,244.3 635.7,242.7 639,243.8 641.7,242.6 644.4,242.2 647.1,241.1 649.3,239.6 651.4,240.7 654.1,242.5 656.3,242.6 657.6,234.9 658.2,231.9 658.6,229.3 659.4,221.9 660.2,206.2 660.5,205.8 660.8,205.8 661.3,205.8 663.1,205.8 664.4,210.4 665.6,216.3 666.9,228.4 667.4,229.6 667.9,237.3 668.3,229.6 668.9,226.4 669.3,221.9 669.7,217.2 670,212.5 670.2,209.4 672,206.5 672.3,208.7 672.8,215 673.3,222.2 673.8,227.3 674.2,229.4 675,229.8 676.2,236.3 677,238.5 678.4,239.3 681.4,236.9 683,241 684.6,243.8 687.9,244.1 690.5,244.4 693.3,244.2 695.5,244.1 697.4,244 699.2,244.2 702.8,244.2" fill="none" stroke="#feea9c" stroke-width="2.08" stroke-linejoin="round"/>
<polygon points="137.2,243.2 145,243.2 151,243.3 153,243.4 156.3,243.4 156.8,233.1 157.1,217.7 157.7,185.5 158.3,185.5 158.7,185.5 159.4,185.5 160.6,185.5 161.6,194.5 163.1,194.5 164.4,203 165.6,203 167,197.5 168.1,193.5 168.9,201.6 169.6,209.7 170,214.3 170.4,218.9 171,225.9 171.6,232.8 172.2,239.8 173.3,242.8 175,243.2 177.4,243 178.6,243.2 179.5,237.1 179.8,229 180.3,220 181,188 182,188 183,188 183.9,188 184.3,188 184.6,188 185.2,191.5 185.8,221.8 186,233.3 186.6,239.6 187.6,244.3 190,244.1 192.5,243.7 195.7,243.3 197.5,243.5 199,243.6 200.5,243.1 202.2,242.6 203.5,242.9 205,243.6 206.5,244.1 208.2,244.4 210,244.1 212,243.6 213.5,243.4 215,243.8 216.3,243.9 217.7,243.9 220.4,244.1 225,244.1 229,244.1 234.5,243.9 236.6,238.5 238.6,238.5 239.8,238.5 241,238.5 243.7,228 245.3,228 246.5,228 247.6,228 248.5,228 249.1,228 250.2,233.8 251.3,243.5 254.5,243.9 258.3,243.8 260,243.5 261.5,243.2 263,243.6 265,243.9 266.8,243.6 268.2,243.3 269.5,243.7 270.7,244.2 273.4,244.4 284.3,244.4 285.4,238.1 287,237.2 288,237.2 288.8,237.2 289.6,237.2 290.6,237.2 291.6,237.2 293.4,237.2 294.4,237.2 295.3,237.2 296,241.2 299.3,244.1 305,244.2 307,243.7 311,244.2 323,244.2 326,243.6 328.5,243.3 331.8,244.1 336.7,244.3 339.4,243.9 341.5,242.8 343.7,241.8 345.9,241.9 348.6,241.3 350.5,241 351.8,241.6 353.4,242.5 355.5,242.9 357.8,243.2 359.5,240.8 360.5,234.2 361.6,230.5 363.2,231.8 364.5,233.4 366.5,235.2 368,233.4 369.6,230 371,226.8 372.2,227.3 373.4,228.2 374.5,230.9 376,235.8 377.5,241.5 379,242.5 381.5,243 384,243.3 387,243.3 390,243.1 392,242.5 394,241.9 395.6,240.9 396.5,222.5 396.9,218.4 397.2,214.5 397.6,206.2 398.7,167 399.7,167 400.5,167 401.2,167 402.1,182.7 402.2,185.1 402.8,201.5 403.4,215.2 403.8,222.3 404.6,228.9 406,242.5 407.4,243.3 408.4,241.4 409.5,238.7 410.8,239.1 412,239.6 414,239.7 416.6,239.3 418,239.5 419,239.8 420,241.2 421,241.3 422.6,241.5 424.6,241.4 426,241.9 428.2,243 430.5,243.4 432.6,243.7 435,243.2 437.4,244 441.2,243.4 445.6,243.1 447.2,241.9 448.6,241.2 450.4,241.9 452.6,240.8 454.8,240.7 457.5,241.2 460.2,242.5 462.3,244 465,244.2 468.3,244.3 473.7,244.3 477.5,243.8 481.3,244.4 483,244.2 485,242.4 487.2,243.2 489.7,244 492.1,243.2 495.9,243.7 498.1,242.4 499.1,240.6 500,237.8 501.1,235.1 502.2,236.4 503,237.3 504.6,238.2 505.8,238.4 507,239.3 508,240.3 510,241.5 511.5,242.4 512.9,243.6 514.5,243.9 521,243.9 523,243.3 524.5,239.1 526.2,235.8 527.8,239.1 529.6,241.7 531.2,236.7 532.9,233.3 534.5,237.4 536,240.9 537.5,242.7 539,241.1 540.5,235.4 542.2,231.3 543.2,233.8 544.3,237 545.5,230.1 546.8,226.8 548.2,229 549.9,233.8 551.6,237.1 553.5,238.8 555.5,240.2 558,240.9 560.1,240.9 561.5,236 562.8,233.6 564.5,234.3 566.9,235.5 568.6,230.9 570.4,228.7 571.8,227.3 573.4,230.1 575,232.2 576.5,232.1 578.3,230.6 579.5,233.4 580.3,237.1 581.6,240.9 583,243.2 584.9,244.3 587.6,243.2 593,243.8 597.3,244.3 599.5,243.8 603.8,244.2 606,243.3 608.4,242.2 610.5,242.7 613.5,243.2 616.8,244.3 621.7,244.5 623.3,241.3 624.4,240 626.5,240.5 628.7,243.1 630.5,243.7 633,244.3 635.7,242.5 639,243.7 641.7,242.4 644.4,241.6 647.1,240.2 649.3,238.3 651.4,239.7 654.1,241.9 656.3,242.1 657.6,234.5 658.2,231.5 658.6,228.2 659.4,217.1 660.2,193.6 660.5,193 660.8,193 661.3,193 663.1,193 664.4,199.9 665.6,208.8 666.9,226.9 667.4,228.1 667.9,236.7 668.3,228.1 668.9,223.9 669.3,217.1 669.7,210 670,203 670.2,198.3 672,194 672.3,197.3 672.8,206.7 673.3,217.6 673.8,225.1 674.2,228.4 675,229.5 676.2,236.1 677,238.3 678.4,239.2 681.4,236.7 683,240.9 684.6,243.7 687.9,244 690.5,244.3 693.3,244.1 695.5,243.9 697.4,243.7 699.2,244 702.8,244 702.8,244.2 699.2,244.2 697.4,244 695.5,244.1 693.3,244.2 690.5,244.4 687.9,244.1 684.6,243.8 683,241 681.4,236.9 678.4,239.3 677,238.5 676.2,236.3 675,229.8 674.2,229.4 673.8,227.3 673.3,222.2 672.8,215 672.3,208.7 672,206.5 670.2,209.4 670,212.5 669.7,217.2 669.3,221.9 668.9,226.4 668.3,229.6 667.9,237.3 667.4,229.6 666.9,228.4 665.6,216.3 664.4,210.4 663.1,205.8 661.3,205.8 660.8,205.8 660.5,205.8 660.2,206.2 659.4,221.9 658.6,229.3 658.2,231.9 657.6,234.9 656.3,242.6 654.1,242.5 651.4,240.7 649.3,239.6 647.1,241.1 644.4,242.2 641.7,242.6 639,243.8 635.7,242.7 633,244.3 630.5,243.8 628.7,243.5 626.5,241.6 624.4,241.2 623.3,242.2 621.7,244.5 616.8,244.3 613.5,243.4 610.5,242.8 608.4,242.5 606,243.4 603.8,244.2 599.5,243.8 597.3,244.3 593,243.8 587.6,243.4 584.9,244.3 583,243.3 581.6,241.2 580.3,237.6 579.5,234.1 578.3,231.5 576.5,232.8 575,233.1 573.4,231.1 571.8,228.5 570.4,229.8 568.6,231.8 566.9,236.2 564.5,235.2 562.8,234.5 561.5,236.7 560.1,241.2 558,241.2 555.5,240.6 553.5,239.3 551.6,237.8 549.9,234.7 548.2,229.7 546.8,227.6 545.5,230.7 544.3,237.6 543.2,234.6 542.2,232.4 540.5,236.1 539,241.3 537.5,242.8 536,241.2 534.5,238.1 532.9,234.3 531.2,237.4 529.6,242.2 527.8,240 526.2,237.3 524.5,240 523,243.5 521,244 514.5,244 512.9,243.7 511.5,242.9 510,242.3 508,241.4 507,240.6 505.8,240 504.6,239.8 503,239.1 502.2,238.5 501.1,237.5 500,239.5 499.1,241.6 498.1,243.1 495.9,244 492.1,243.6 489.7,244.2 487.2,243.6 485,243.1 483,244.3 481.3,244.4 477.5,244.1 473.7,244.4 468.3,244.4 465,244.3 462.3,244.2 460.2,243.2 457.5,242.3 454.8,242 452.6,242 450.4,242.8 448.6,242.3 447.2,242.8 445.6,243.6 441.2,243.8 437.4,244.2 435,243.6 432.6,244 430.5,243.8 428.2,243.5 426,242.8 424.6,242.4 422.6,242.5 421,242.4 420,242.2 419,241.2 418,240.9 416.6,240.8 414,241.1 412,241 410.8,240.7 409.5,240.4 408.4,242.3 407.4,243.7 406,243.1 404.6,229.4 403.8,223.3 403.4,216.5 402.8,205.9 402.2,194.9 402.1,193.3 401.2,182.8 400.5,182.8 399.7,182.8 398.7,182.8 397.6,209 397.2,215.6 396.9,219.2 396.5,223.2 395.6,241.9 394,242.6 392,243.1 390,243.5 387,243.6 384,243.6 381.5,243.4 379,243.1 377.5,242.4 376,237.4 374.5,233.4 373.4,231.1 372.2,230.4 371,230 369.6,232.6 368,235.4 366.5,236.9 364.5,235.4 363.2,234.1 361.6,233 360.5,236.1 359.5,241.5 357.8,243.6 355.5,243.4 353.4,243.2 351.8,242.6 350.5,242.2 348.6,242.4 345.9,242.8 343.7,242.7 341.5,243.4 339.4,244.1 336.7,244.3 331.8,244.1 328.5,243.4 326,243.7 323,244.3 311,244.3 307,243.8 305,244.3 299.3,244.1 296,241.8 295.3,239.2 294.4,239.2 293.4,239.2 291.6,239.2 290.6,239.2 289.6,239.2 288.8,239.2 288,239.2 287,239.2 285.4,239.7 284.3,244.4 273.4,244.4 270.7,244.3 269.5,243.9 268.2,243.7 266.8,243.9 265,244.1 263,243.9 261.5,243.6 260,243.8 258.3,244 254.5,244.1 251.3,243.8 250.2,235.7 249.1,231.8 248.5,231.8 247.6,231.8 246.5,231.8 245.3,231.8 243.7,231.8 241,239.5 239.8,239.5 238.6,239.5 236.6,239.5 234.5,244.1 229,244.2 225,244.2 220.4,244.2 217.7,244.1 216.3,244.1 215,244 213.5,243.8 212,243.9 210,244.2 208.2,244.4 206.5,244.2 205,243.9 203.5,243.4 202.2,243.2 200.5,243.6 199,243.9 197.5,243.8 195.7,243.7 192.5,244 190,244.2 187.6,244.3 186.6,239.8 186,233.8 185.8,222.8 185.2,192.5 184.6,190.2 184.3,190.2 183.9,190.2 183,190.2 182,190.2 181,190.2 180.3,222.7 179.8,230.7 179.5,237.9 178.6,243.7 177.4,243.5 175,243.7 173.3,243.4 172.2,240.2 171.6,233.4 171,226.6 170.4,219.9 170,215.3 169.6,210.9 168.9,203 168.1,196.5 167,201.2 165.6,207.8 164.4,207.8 163.1,197.8 161.6,197.8 160.6,187.8 159.4,187.8 158.7,187.8 158.3,187.8 157.7,187.8 157.1,217.9 156.8,233.2 156.3,243.7 153,243.7 151,243.6 145,243.5 137.2,243.5" fill="#fff5ae"/>
<polyline points="137.2,243.2 145,243.2 151,243.3 153,243.4 156.3,243.4 156.8,233.1 157.1,217.7 157.7,185.5 158.3,185.5 158.7,185.5 159.4,185.5 160.6,185.5 161.6,194.5 163.1,194.5 164.4,203 165.6,203 167,197.5 168.1,193.5 168.9,201.6 169.6,209.7 170,214.3 170.4,218.9 171,225.9 171.6,232.8 172.2,239.8 173.3,242.8 175,243.2 177.4,243 178.6,243.2 179.5,237.1 179.8,229 180.3,220 181,188 182,188 183,188 183.9,188 184.3,188 184.6,188 185.2,191.5 185.8,221.8 186,233.3 186.6,239.6 187.6,244.3 190,244.1 192.5,243.7 195.7,243.3 197.5,243.5 199,243.6 200.5,243.1 202.2,242.6 203.5,242.9 205,243.6 206.5,244.1 208.2,244.4 210,244.1 212,243.6 213.5,243.4 215,243.8 216.3,243.9 217.7,243.9 220.4,244.1 225,244.1 229,244.1 234.5,243.9 236.6,238.5 238.6,238.5 239.8,238.5 241,238.5 243.7,228 245.3,228 246.5,228 247.6,228 248.5,228 249.1,228 250.2,233.8 251.3,243.5 254.5,243.9 258.3,243.8 260,243.5 261.5,243.2 263,243.6 265,243.9 266.8,243.6 268.2,243.3 269.5,243.7 270.7,244.2 273.4,244.4 284.3,244.4 285.4,238.1 287,237.2 288,237.2 288.8,237.2 289.6,237.2 290.6,237.2 291.6,237.2 293.4,237.2 294.4,237.2 295.3,237.2 296,241.2 299.3,244.1 305,244.2 307,243.7 311,244.2 323,244.2 326,243.6 328.5,243.3 331.8,244.1 336.7,244.3 339.4,243.9 341.5,242.8 343.7,241.8 345.9,241.9 348.6,241.3 350.5,241 351.8,241.6 353.4,242.5 355.5,242.9 357.8,243.2 359.5,240.8 360.5,234.2 361.6,230.5 363.2,231.8 364.5,233.4 366.5,235.2 368,233.4 369.6,230 371,226.8 372.2,227.3 373.4,228.2 374.5,230.9 376,235.8 377.5,241.5 379,242.5 381.5,243 384,243.3 387,243.3 390,243.1 392,242.5 394,241.9 395.6,240.9 396.5,222.5 396.9,218.4 397.2,214.5 397.6,206.2 398.7,167 399.7,167 400.5,167 401.2,167 402.1,182.7 402.2,185.1 402.8,201.5 403.4,215.2 403.8,222.3 404.6,228.9 406,242.5 407.4,243.3 408.4,241.4 409.5,238.7 410.8,239.1 412,239.6 414,239.7 416.6,239.3 418,239.5 419,239.8 420,241.2 421,241.3 422.6,241.5 424.6,241.4 426,241.9 428.2,243 430.5,243.4 432.6,243.7 435,243.2 437.4,244 441.2,243.4 445.6,243.1 447.2,241.9 448.6,241.2 450.4,241.9 452.6,240.8 454.8,240.7 457.5,241.2 460.2,242.5 462.3,244 465,244.2 468.3,244.3 473.7,244.3 477.5,243.8 481.3,244.4 483,244.2 485,242.4 487.2,243.2 489.7,244 492.1,243.2 495.9,243.7 498.1,242.4 499.1,240.6 500,237.8 501.1,235.1 502.2,236.4 503,237.3 504.6,238.2 505.8,238.4 507,239.3 508,240.3 510,241.5 511.5,242.4 512.9,243.6 514.5,243.9 521,243.9 523,243.3 524.5,239.1 526.2,235.8 527.8,239.1 529.6,241.7 531.2,236.7 532.9,233.3 534.5,237.4 536,240.9 537.5,242.7 539,241.1 540.5,235.4 542.2,231.3 543.2,233.8 544.3,237 545.5,230.1 546.8,226.8 548.2,229 549.9,233.8 551.6,237.1 553.5,238.8 555.5,240.2 558,240.9 560.1,240.9 561.5,236 562.8,233.6 564.5,234.3 566.9,235.5 568.6,230.9 570.4,228.7 571.8,227.3 573.4,230.1 575,232.2 576.5,232.1 578.3,230.6 579.5,233.4 580.3,237.1 581.6,240.9 583,243.2 584.9,244.3 587.6,243.2 593,243.8 597.3,244.3 599.5,243.8 603.8,244.2 606,243.3 608.4,242.2 610.5,242.7 613.5,243.2 616.8,244.3 621.7,244.5 623.3,241.3 624.4,240 626.5,240.5 628.7,243.1 630.5,243.7 633,244.3 635.7,242.5 639,243.7 641.7,242.4 644.4,241.6 647.1,240.2 649.3,238.3 651.4,239.7 654.1,241.9 656.3,242.1 657.6,234.5 658.2,231.5 658.6,228.2 659.4,217.1 660.2,193.6 660.5,193 660.8,193 661.3,193 663.1,193 664.4,199.9 665.6,208.8 666.9,226.9 667.4,228.1 667.9,236.7 668.3,228.1 668.9,223.9 669.3,217.1 669.7,210 670,203 670.2,198.3 672,194 672.3,197.3 672.8,206.7 673.3,217.6 673.8,225.1 674.2,228.4 675,229.5 676.2,236.1 677,238.3 678.4,239.2 681.4,236.7 683,240.9 684.6,243.7 687.9,244 690.5,244.3 693.3,244.1 695.5,243.9 697.4,243.7 699.2,244 702.8,244" fill="none" stroke="#fff5ae" stroke-width="2.08" stroke-linejoin="round"/>
<polygon points="137.2,243 145,242.9 151,243 153,243.2 156.3,243.2 156.8,233 157.1,217.4 157.7,183.2 158.3,183.2 158.7,183.2 159.4,183.2 160.6,183.2 161.6,191.2 163.1,191.2 164.4,198.2 165.6,198.2 167,193.8 168.1,190.5 168.9,200.2 169.6,208.5 170,213.3 170.4,218 171,225.2 171.6,232.3 172.2,239.4 173.3,242.3 175,242.8 177.4,242.5 178.6,242.8 179.5,236.2 179.8,227.2 180.3,217.2 181,185.8 182,185.8 183,185.8 183.9,185.8 184.3,185.8 184.6,185.8 185.2,190.5 185.8,220.8 186,232.8 186.6,239.4 187.6,244.2 190,244 192.5,243.5 195.7,242.9 197.5,243.1 199,243.3 200.5,242.6 202.2,242 203.5,242.4 205,243.2 206.5,244 208.2,244.4 210,244 212,243.4 213.5,243 215,243.5 216.3,243.7 217.7,243.6 220.4,243.9 225,243.9 229,243.9 234.5,243.7 236.6,237.5 238.6,237.5 239.8,237.5 241,237.5 243.7,224.2 245.3,224.2 246.5,224.2 247.6,224.2 248.5,224.2 249.1,224.2 250.2,231.9 251.3,243.2 254.5,243.7 258.3,243.5 260,243.2 261.5,242.8 263,243.2 265,243.7 266.8,243.2 268.2,242.9 269.5,243.4 270.7,244.2 273.4,244.3 284.3,244.4 285.4,236.5 287,235.3 288,235.3 288.8,235.3 289.6,235.3 290.6,235.3 291.6,235.3 293.4,235.3 294.4,235.3 295.3,235.3 296,240.6 299.3,244.1 305,244.2 307,243.7 311,244.2 323,244.2 326,243.5 328.5,243.2 331.8,244.1 336.7,244.3 339.4,243.7 341.5,242.3 343.7,240.8 345.9,241 348.6,240.2 350.5,239.8 351.8,240.6 353.4,241.8 355.5,242.4 357.8,242.8 359.5,240.2 360.5,232.4 361.6,227.9 363.2,229.6 364.5,231.4 366.5,233.5 368,231.4 369.6,227.4 371,223.6 372.2,224.2 373.4,225.2 374.5,228.5 376,234.2 377.5,240.7 379,241.9 381.5,242.5 384,242.9 387,242.9 390,242.7 392,241.9 394,241.1 395.6,239.8 396.5,221.7 396.9,217.6 397.2,213.4 397.6,203.5 398.7,151.2 399.7,151.2 400.5,151.2 401.2,151.2 402.1,172.1 402.2,175.3 402.8,197.2 403.4,213.9 403.8,221.3 404.6,228.4 406,241.9 407.4,242.9 408.4,240.5 409.5,237 410.8,237.6 412,238.2 414,238.3 416.6,237.7 418,238 419,238.4 420,240.3 421,240.3 422.6,240.5 424.6,240.3 426,241 428.2,242.5 430.5,243 432.6,243.4 435,242.8 437.4,243.8 441.2,243.1 445.6,242.7 447.2,241 448.6,240.1 450.4,241 452.6,239.6 454.8,239.4 457.5,240.1 460.2,241.9 462.3,243.8 465,244.2 468.3,244.2 473.7,244.2 477.5,243.6 481.3,244.4 483,244.1 485,241.7 487.2,242.8 489.7,243.8 492.1,242.8 495.9,243.4 498.1,241.7 499.1,239.6 500,236.1 501.1,232.7 502.2,234.4 503,235.4 504.6,236.6 505.8,236.9 507,238 508,239.3 510,240.8 511.5,241.8 512.9,243.5 514.5,243.9 521,243.8 523,243.1 524.5,238.2 526.2,234.4 527.8,238.2 529.6,241.3 531.2,236 532.9,232.3 534.5,236.8 536,240.5 537.5,242.5 539,240.8 540.5,234.7 542.2,230.3 543.2,232.9 544.3,236.4 545.5,229.4 546.8,226 548.2,228.3 549.9,232.8 551.6,236.5 553.5,238.4 555.5,239.8 558,240.6 560.1,240.6 561.5,235.4 562.8,232.7 564.5,233.5 566.9,234.7 568.6,229.9 570.4,227.6 571.8,226.1 573.4,229 575,231.4 576.5,231.3 578.3,229.8 579.5,232.7 580.3,236.6 581.6,240.7 583,243 584.9,244.3 587.6,243.1 593,243.7 597.3,244.3 599.5,243.7 603.8,244.2 606,243.2 608.4,242 610.5,242.5 613.5,243.1 616.8,244.3 621.7,244.5 623.3,240.5 624.4,238.8 626.5,239.5 628.7,242.7 630.5,243.7 633,244.3 635.7,242.3 639,243.6 641.7,242.2 644.4,241.1 647.1,239.4 649.3,237.1 651.4,238.7 654.1,241.4 656.3,241.6 657.6,234 658.2,231 658.6,227.1 659.4,212.3 660.2,180.9 660.5,180.2 660.8,180.2 661.3,180.2 663.1,180.2 664.4,189.3 665.6,201.2 666.9,225.3 667.4,226.7 667.9,236 668.3,226.7 668.9,221.4 669.3,212.3 669.7,202.9 670,193.5 670.2,187.2 672,181.5 672.3,186 672.8,198.5 673.3,212.9 673.8,223 674.2,227.3 675,229.1 676.2,235.9 677,238.2 678.4,239.1 681.4,236.6 683,240.8 684.6,243.6 687.9,244 690.5,244.2 693.3,244 695.5,243.7 697.4,243.5 699.2,243.8 702.8,243.9 702.8,244 699.2,244 697.4,243.7 695.5,243.9 693.3,244.1 690.5,244.3 687.9,244 684.6,243.7 683,240.9 681.4,236.7 678.4,239.2 677,238.3 676.2,236.1 675,229.5 674.2,228.4 673.8,225.1 673.3,217.6 672.8,206.7 672.3,197.3 672,194 670.2,198.3 670,203 669.7,210 669.3,217.1 668.9,223.9 668.3,228.1 667.9,236.7 667.4,228.1 666.9,226.9 665.6,208.8 664.4,199.9 663.1,193 661.3,193 660.8,193 660.5,193 660.2,193.6 659.4,217.1 658.6,228.2 658.2,231.5 657.6,234.5 656.3,242.1 654.1,241.9 651.4,239.7 649.3,238.3 647.1,240.2 644.4,241.6 641.7,242.4 639,243.7 635.7,242.5 633,244.3 630.5,243.7 628.7,243.1 626.5,240.5 624.4,240 623.3,241.3 621.7,244.5 616.8,244.3 613.5,243.2 610.5,242.7 608.4,242.2 606,243.3 603.8,244.2 599.5,243.8 597.3,244.3 593,243.8 587.6,243.2 584.9,244.3 583,243.2 581.6,240.9 580.3,237.1 579.5,233.4 578.3,230.6 576.5,232.1 575,232.2 573.4,230.1 571.8,227.3 570.4,228.7 568.6,230.9 566.9,235.5 564.5,234.3 562.8,233.6 561.5,236 560.1,240.9 558,240.9 555.5,240.2 553.5,238.8 551.6,237.1 549.9,233.8 548.2,229 546.8,226.8 545.5,230.1 544.3,237 543.2,233.8 542.2,231.3 540.5,235.4 539,241.1 537.5,242.7 536,240.9 534.5,237.4 532.9,233.3 531.2,236.7 529.6,241.7 527.8,239.1 526.2,235.8 524.5,239.1 523,243.3 521,243.9 514.5,243.9 512.9,243.6 511.5,242.4 510,241.5 508,240.3 507,239.3 505.8,238.4 504.6,238.2 503,237.3 502.2,236.4 501.1,235.1 500,237.8 499.1,240.6 498.1,242.4 495.9,243.7 492.1,243.2 489.7,244 487.2,243.2 485,242.4 483,244.2 481.3,244.4 477.5,243.8 473.7,244.3 468.3,244.3 465,244.2 462.3,244 460.2,242.5 457.5,241.2 454.8,240.7 452.6,240.8 450.4,241.9 448.6,241.2 447.2,241.9 445.6,243.1 441.2,243.4 437.4,244 435,243.2 432.6,243.7 430.5,243.4 428.2,243 426,241.9 424.6,241.4 422.6,241.5 421,241.3 420,241.2 419,239.8 418,239.5 416.6,239.3 414,239.7 412,239.6 410.8,239.1 409.5,238.7 408.4,241.4 407.4,243.3 406,242.5 404.6,228.9 403.8,222.3 403.4,215.2 402.8,201.5 402.2,185.1 402.1,182.7 401.2,167 400.5,167 399.7,167 398.7,167 397.6,206.2 397.2,214.5 396.9,218.4 396.5,222.5 395.6,240.9 394,241.9 392,242.5 390,243.1 387,243.3 384,243.3 381.5,243 379,242.5 377.5,241.5 376,235.8 374.5,230.9 373.4,228.2 372.2,227.3 371,226.8 369.6,230 368,233.4 366.5,235.2 364.5,233.4 363.2,231.8 361.6,230.5 360.5,234.2 359.5,240.8 357.8,243.2 355.5,242.9 353.4,242.5 351.8,241.6 350.5,241 348.6,241.3 345.9,241.9 343.7,241.8 341.5,242.8 339.4,243.9 336.7,244.3 331.8,244.1 328.5,243.3 326,243.6 323,244.2 311,244.2 307,243.7 305,244.2 299.3,244.1 296,241.2 295.3,237.2 294.4,237.2 293.4,237.2 291.6,237.2 290.6,237.2 289.6,237.2 288.8,237.2 288,237.2 287,237.2 285.4,238.1 284.3,244.4 273.4,244.4 270.7,244.2 269.5,243.7 268.2,243.3 266.8,243.6 265,243.9 263,243.6 261.5,243.2 260,243.5 258.3,243.8 254.5,243.9 251.3,243.5 250.2,233.8 249.1,228 248.5,228 247.6,228 246.5,228 245.3,228 243.7,228 241,238.5 239.8,238.5 238.6,238.5 236.6,238.5 234.5,243.9 229,244.1 225,244.1 220.4,244.1 217.7,243.9 216.3,243.9 215,243.8 213.5,243.4 212,243.6 210,244.1 208.2,244.4 206.5,244.1 205,243.6 203.5,242.9 202.2,242.6 200.5,243.1 199,243.6 197.5,243.5 195.7,243.3 192.5,243.7 190,244.1 187.6,244.3 186.6,239.6 186,233.3 185.8,221.8 185.2,191.5 184.6,188 184.3,188 183.9,188 183,188 182,188 181,188 180.3,220 179.8,229 179.5,237.1 178.6,243.2 177.4,243 175,243.2 173.3,242.8 172.2,239.8 171.6,232.8 171,225.9 170.4,218.9 170,214.3 169.6,209.7 168.9,201.6 168.1,193.5 167,197.5 165.6,203 164.4,203 163.1,194.5 161.6,194.5 160.6,185.5 159.4,185.5 158.7,185.5 158.3,185.5 157.7,185.5 157.1,217.7 156.8,233.1 156.3,243.4 153,243.4 151,243.3 145,243.2 137.2,243.2" fill="#ffffbf"/>
<polyline points="137.2,243 145,242.9 151,243 153,243.2 156.3,243.2 156.8,233 157.1,217.4 157.7,183.2 158.3,183.2 158.7,183.2 159.4,183.2 160.6,183.2 161.6,191.2 163.1,191.2 164.4,198.2 165.6,198.2 167,193.8 168.1,190.5 168.9,200.2 169.6,208.5 170,213.3 170.4,218 171,225.2 171.6,232.3 172.2,239.4 173.3,242.3 175,242.8 177.4,242.5 178.6,242.8 179.5,236.2 179.8,227.2 180.3,217.2 181,185.8 182,185.8 183,185.8 183.9,185.8 184.3,185.8 184.6,185.8 185.2,190.5 185.8,220.8 186,232.8 186.6,239.4 187.6,244.2 190,244 192.5,243.5 195.7,242.9 197.5,243.1 199,243.3 200.5,242.6 202.2,242 203.5,242.4 205,243.2 206.5,244 208.2,244.4 210,244 212,243.4 213.5,243 215,243.5 216.3,243.7 217.7,243.6 220.4,243.9 225,243.9 229,243.9 234.5,243.7 236.6,237.5 238.6,237.5 239.8,237.5 241,237.5 243.7,224.2 245.3,224.2 246.5,224.2 247.6,224.2 248.5,224.2 249.1,224.2 250.2,231.9 251.3,243.2 254.5,243.7 258.3,243.5 260,243.2 261.5,242.8 263,243.2 265,243.7 266.8,243.2 268.2,242.9 269.5,243.4 270.7,244.2 273.4,244.3 284.3,244.4 285.4,236.5 287,235.3 288,235.3 288.8,235.3 289.6,235.3 290.6,235.3 291.6,235.3 293.4,235.3 294.4,235.3 295.3,235.3 296,240.6 299.3,244.1 305,244.2 307,243.7 311,244.2 323,244.2 326,243.5 328.5,243.2 331.8,244.1 336.7,244.3 339.4,243.7 341.5,242.3 343.7,240.8 345.9,241 348.6,240.2 350.5,239.8 351.8,240.6 353.4,241.8 355.5,242.4 357.8,242.8 359.5,240.2 360.5,232.4 361.6,227.9 363.2,229.6 364.5,231.4 366.5,233.5 368,231.4 369.6,227.4 371,223.6 372.2,224.2 373.4,225.2 374.5,228.5 376,234.2 377.5,240.7 379,241.9 381.5,242.5 384,242.9 387,242.9 390,242.7 392,241.9 394,241.1 395.6,239.8 396.5,221.7 396.9,217.6 397.2,213.4 397.6,203.5 398.7,151.2 399.7,151.2 400.5,151.2 401.2,151.2 402.1,172.1 402.2,175.3 402.8,197.2 403.4,213.9 403.8,221.3 404.6,228.4 406,241.9 407.4,242.9 408.4,240.5 409.5,237 410.8,237.6 412,238.2 414,238.3 416.6,237.7 418,238 419,238.4 420,240.3 421,240.3 422.6,240.5 424.6,240.3 426,241 428.2,242.5 430.5,243 432.6,243.4 435,242.8 437.4,243.8 441.2,243.1 445.6,242.7 447.2,241 448.6,240.1 450.4,241 452.6,239.6 454.8,239.4 457.5,240.1 460.2,241.9 462.3,243.8 465,244.2 468.3,244.2 473.7,244.2 477.5,243.6 481.3,244.4 483,244.1 485,241.7 487.2,242.8 489.7,243.8 492.1,242.8 495.9,243.4 498.1,241.7 499.1,239.6 500,236.1 501.1,232.7 502.2,234.4 503,235.4 504.6,236.6 505.8,236.9 507,238 508,239.3 510,240.8 511.5,241.8 512.9,243.5 514.5,243.9 521,243.8 523,243.1 524.5,238.2 526.2,234.4 527.8,238.2 529.6,241.3 531.2,236 532.9,232.3 534.5,236.8 536,240.5 537.5,242.5 539,240.8 540.5,234.7 542.2,230.3 543.2,232.9 544.3,236.4 545.5,229.4 546.8,226 548.2,228.3 549.9,232.8 551.6,236.5 553.5,238.4 555.5,239.8 558,240.6 560.1,240.6 561.5,235.4 562.8,232.7 564.5,233.5 566.9,234.7 568.6,229.9 570.4,227.6 571.8,226.1 573.4,229 575,231.4 576.5,231.3 578.3,229.8 579.5,232.7 580.3,236.6 581.6,240.7 583,243 584.9,244.3 587.6,243.1 593,243.7 597.3,244.3 599.5,243.7 603.8,244.2 606,243.2 608.4,242 610.5,242.5 613.5,243.1 616.8,244.3 621.7,244.5 623.3,240.5 624.4,238.8 626.5,239.5 628.7,242.7 630.5,243.7 633,244.3 635.7,242.3 639,243.6 641.7,242.2 644.4,241.1 647.1,239.4 649.3,237.1 651.4,238.7 654.1,241.4 656.3,241.6 657.6,234 658.2,231 658.6,227.1 659.4,212.3 660.2,180.9 660.5,180.2 660.8,180.2 661.3,180.2 663.1,180.2 664.4,189.3 665.6,201.2 666.9,225.3 667.4,226.7 667.9,236 668.3,226.7 668.9,221.4 669.3,212.3 669.7,202.9 670,193.5 670.2,187.2 672,181.5 672.3,186 672.8,198.5 673.3,212.9 673.8,223 674.2,227.3 675,229.1 676.2,235.9 677,238.2 678.4,239.1 681.4,236.6 683,240.8 684.6,243.6 687.9,244 690.5,244.2 693.3,244 695.5,243.7 697.4,243.5 699.2,243.8 702.8,243.9" fill="none" stroke="#ffffbf" stroke-width="2.08" stroke-linejoin="round"/>
<polygon points="137.2,242.7 145,242.6 151,242.7 153,242.9 156.3,242.9 156.8,232.9 157.1,217.1 157.7,180.8 158.3,180.8 158.7,180.8 159.4,180.8 160.6,180.8 161.6,187.8 163.1,187.8 164.4,193.3 165.6,193.3 167,190.2 168.1,187.5 168.9,198.9 169.6,207.4 170,212.2 170.4,217.1 171,224.4 171.6,231.8 172.2,239.1 173.3,241.8 175,242.4 177.4,242 178.6,242.4 179.5,235.4 179.8,225.5 180.3,214.5 181,183.7 182,183.7 183,183.7 183.9,183.7 184.3,183.7 184.6,183.7 185.2,189.6 185.8,219.8 186,232.3 186.6,239.2 187.6,244.1 190,243.8 192.5,243.2 195.7,242.5 197.5,242.8 199,243 200.5,242.2 202.2,241.3 203.5,241.9 205,242.9 206.5,243.8 208.2,244.4 210,243.8 212,243.1 213.5,242.6 215,243.3 216.3,243.5 217.7,243.4 220.4,243.8 225,243.8 229,243.8 234.5,243.5 236.6,236.5 238.6,236.5 239.8,236.5 241,236.5 243.7,220.3 245.3,220.3 246.5,220.3 247.6,220.3 248.5,220.3 249.1,220.3 250.2,230 251.3,242.8 254.5,243.5 258.3,243.3 260,242.8 261.5,242.4 263,242.9 265,243.5 266.8,242.9 268.2,242.5 269.5,243.1 270.7,244.1 273.4,244.3 284.3,244.4 285.4,234.8 287,233.4 288,233.4 288.8,233.4 289.6,233.4 290.6,233.4 291.6,233.4 293.4,233.4 294.4,233.4 295.3,233.4 296,239.9 299.3,244 305,244.2 307,243.6 311,244.2 323,244.2 326,243.4 328.5,243 331.8,244 336.7,244.3 339.4,243.4 341.5,241.7 343.7,239.9 345.9,240.2 348.6,239.2 350.5,238.7 351.8,239.7 353.4,241.2 355.5,241.8 357.8,242.3 359.5,239.5 360.5,230.5 361.6,225.4 363.2,227.3 364.5,229.4 366.5,231.8 368,229.4 369.6,224.8 371,220.4 372.2,221.1 373.4,222.3 374.5,226 376,232.7 377.5,239.8 379,241.3 381.5,242.1 384,242.5 387,242.5 390,242.2 392,241.3 394,240.3 395.6,238.8 396.5,221 396.9,216.8 397.2,212.3 397.6,200.7 398.7,135.3 399.7,135.3 400.5,135.3 401.2,135.3 402.1,161.6 402.2,165.5 402.8,192.9 403.4,212.7 403.8,220.4 404.6,227.9 406,241.3 407.4,242.6 408.4,239.6 409.5,235.4 410.8,236 412,236.8 414,236.9 416.6,236.2 418,236.5 419,237 420,239.3 421,239.2 422.6,239.5 424.6,239.3 426,240.1 428.2,242 430.5,242.7 432.6,243.1 435,242.4 437.4,243.6 441.2,242.8 445.6,242.2 447.2,240.1 448.6,239 450.4,240.1 452.6,238.3 454.8,238.1 457.5,239 460.2,241.2 462.3,243.6 465,244.1 468.3,244.2 473.7,244.2 477.5,243.4 481.3,244.4 483,244 485,241 487.2,242.4 489.7,243.6 492.1,242.4 495.9,243.1 498.1,241 499.1,238.6 500,234.4 501.1,230.4 502.2,232.3 503,233.6 504.6,235 505.8,235.3 507,236.7 508,238.2 510,240 511.5,241.3 512.9,243.3 514.5,243.8 521,243.7 523,242.9 524.5,237.3 526.2,232.9 527.8,237.3 529.6,240.8 531.2,235.3 532.9,231.2 534.5,236.1 536,240.2 537.5,242.4 539,240.5 540.5,234 542.2,229.3 543.2,232.1 544.3,235.8 545.5,228.7 546.8,225.2 548.2,227.5 549.9,231.9 551.6,235.8 553.5,237.9 555.5,239.5 558,240.3 560.1,240.3 561.5,234.7 562.8,231.8 564.5,232.7 566.9,234 568.6,229 570.4,226.5 571.8,224.9 573.4,228 575,230.5 576.5,230.5 578.3,228.9 579.5,232.1 580.3,236.2 581.6,240.5 583,242.9 584.9,244.3 587.6,243 593,243.6 597.3,244.3 599.5,243.6 603.8,244.1 606,243.1 608.4,241.8 610.5,242.3 613.5,243 616.8,244.3 621.7,244.5 623.3,239.6 624.4,237.6 626.5,238.4 628.7,242.3 630.5,243.6 633,244.2 635.7,242.2 639,243.5 641.7,242 644.4,240.5 647.1,238.5 649.3,235.8 651.4,237.7 654.1,240.9 656.3,241.1 657.6,233.6 658.2,230.5 658.6,226 659.4,207.5 660.2,168.3 660.5,167.3 660.8,167.3 661.3,167.3 663.1,167.3 664.4,178.8 665.6,193.6 666.9,223.8 667.4,225.2 667.9,235.3 668.3,225.2 668.9,218.8 669.3,207.5 669.7,195.7 670,184 670.2,176.1 672,169 672.3,174.6 672.8,190.2 673.3,208.3 673.8,220.9 674.2,226.3 675,228.8 676.2,235.8 677,238.1 678.4,239 681.4,236.4 683,240.8 684.6,243.5 687.9,243.9 690.5,244.1 693.3,243.8 695.5,243.6 697.4,243.2 699.2,243.7 702.8,243.7 702.8,243.9 699.2,243.8 697.4,243.5 695.5,243.7 693.3,244 690.5,244.2 687.9,244 684.6,243.6 683,240.8 681.4,236.6 678.4,239.1 677,238.2 676.2,235.9 675,229.1 674.2,227.3 673.8,223 673.3,212.9 672.8,198.5 672.3,186 672,181.5 670.2,187.2 670,193.5 669.7,202.9 669.3,212.3 668.9,221.4 668.3,226.7 667.9,236 667.4,226.7 666.9,225.3 665.6,201.2 664.4,189.3 663.1,180.2 661.3,180.2 660.8,180.2 660.5,180.2 660.2,180.9 659.4,212.3 658.6,227.1 658.2,231 657.6,234 656.3,241.6 654.1,241.4 651.4,238.7 649.3,237.1 647.1,239.4 644.4,241.1 641.7,242.2 639,243.6 635.7,242.3 633,244.3 630.5,243.7 628.7,242.7 626.5,239.5 624.4,238.8 623.3,240.5 621.7,244.5 616.8,244.3 613.5,243.1 610.5,242.5 608.4,242 606,243.2 603.8,244.2 599.5,243.7 597.3,244.3 593,243.7 587.6,243.1 584.9,244.3 583,243 581.6,240.7 580.3,236.6 579.5,232.7 578.3,229.8 576.5,231.3 575,231.4 573.4,229 571.8,226.1 570.4,227.6 568.6,229.9 566.9,234.7 564.5,233.5 562.8,232.7 561.5,235.4 560.1,240.6 558,240.6 555.5,239.8 553.5,238.4 551.6,236.5 549.9,232.8 548.2,228.3 546.8,226 545.5,229.4 544.3,236.4 543.2,232.9 542.2,230.3 540.5,234.7 539,240.8 537.5,242.5 536,240.5 534.5,236.8 532.9,232.3 531.2,236 529.6,241.3 527.8,238.2 526.2,234.4 524.5,238.2 523,243.1 521,243.8 514.5,243.9 512.9,243.5 511.5,241.8 510,240.8 508,239.3 507,238 505.8,236.9 504.6,236.6 503,235.4 502.2,234.4 501.1,232.7 500,236.1 499.1,239.6 498.1,241.7 495.9,243.4 492.1,242.8 489.7,243.8 487.2,242.8 485,241.7 483,244.1 481.3,244.4 477.5,243.6 473.7,244.2 468.3,244.2 465,244.2 462.3,243.8 460.2,241.9 457.5,240.1 454.8,239.4 452.6,239.6 450.4,241 448.6,240.1 447.2,241 445.6,242.7 441.2,243.1 437.4,243.8 435,242.8 432.6,243.4 430.5,243 428.2,242.5 426,241 424.6,240.3 422.6,240.5 421,240.3 420,240.3 419,238.4 418,238 416.6,237.7 414,238.3 412,238.2 410.8,237.6 409.5,237 408.4,240.5 407.4,242.9 406,241.9 404.6,228.4 403.8,221.3 403.4,213.9 402.8,197.2 402.2,175.3 402.1,172.1 401.2,151.2 400.5,151.2 399.7,151.2 398.7,151.2 397.6,203.5 397.2,213.4 396.9,217.6 396.5,221.7 395.6,239.8 394,241.1 392,241.9 390,242.7 387,242.9 384,242.9 381.5,242.5 379,241.9 377.5,240.7 376,234.2 374.5,228.5 373.4,225.2 372.2,224.2 371,223.6 369.6,227.4 368,231.4 366.5,233.5 364.5,231.4 363.2,229.6 361.6,227.9 360.5,232.4 359.5,240.2 357.8,242.8 355.5,242.4 353.4,241.8 351.8,240.6 350.5,239.8 348.6,240.2 345.9,241 343.7,240.8 341.5,242.3 339.4,243.7 336.7,244.3 331.8,244.1 328.5,243.2 326,243.5 323,244.2 311,244.2 307,243.7 305,244.2 299.3,244.1 296,240.6 295.3,235.3 294.4,235.3 293.4,235.3 291.6,235.3 290.6,235.3 289.6,235.3 288.8,235.3 288,235.3 287,235.3 285.4,236.5 284.3,244.4 273.4,244.3 270.7,244.2 269.5,243.4 268.2,242.9 266.8,243.2 265,243.7 263,243.2 261.5,242.8 260,243.2 258.3,243.5 254.5,243.7 251.3,243.2 250.2,231.9 249.1,224.2 248.5,224.2 247.6,224.2 246.5,224.2 245.3,224.2 243.7,224.2 241,237.5 239.8,237.5 238.6,237.5 236.6,237.5 234.5,243.7 229,243.9 225,243.9 220.4,243.9 217.7,243.6 216.3,243.7 215,243.5 213.5,243 212,243.4 210,244 208.2,244.4 206.5,244 205,243.2 203.5,242.4 202.2,242 200.5,242.6 199,243.3 197.5,243.1 195.7,242.9 192.5,243.5 190,244 187.6,244.2 186.6,239.4 186,232.8 185.8,220.8 185.2,190.5 184.6,185.8 184.3,185.8 183.9,185.8 183,185.8 182,185.8 181,185.8 180.3,217.2 179.8,227.2 179.5,236.2 178.6,242.8 177.4,242.5 175,242.8 173.3,242.3 172.2,239.4 171.6,232.3 171,225.2 170.4,218 170,213.3 169.6,208.5 168.9,200.2 168.1,190.5 167,193.8 165.6,198.2 164.4,198.2 163.1,191.2 161.6,191.2 160.6,183.2 159.4,183.2 158.7,183.2 158.3,183.2 157.7,183.2 157.1,217.4 156.8,233 156.3,243.2 153,243.2 151,243 145,242.9 137.2,243" fill="#f7fcb2"/>
<polyline points="137.2,242.7 145,242.6 151,242.7 153,242.9 156.3,242.9 156.8,232.9 157.1,217.1 157.7,180.8 158.3,180.8 158.7,180.8 159.4,180.8 160.6,180.8 161.6,187.8 163.1,187.8 164.4,193.3 165.6,193.3 167,190.2 168.1,187.5 168.9,198.9 169.6,207.4 170,212.2 170.4,217.1 171,224.4 171.6,231.8 172.2,239.1 173.3,241.8 175,242.4 177.4,242 178.6,242.4 179.5,235.4 179.8,225.5 180.3,214.5 181,183.7 182,183.7 183,183.7 183.9,183.7 184.3,183.7 184.6,183.7 185.2,189.6 185.8,219.8 186,232.3 186.6,239.2 187.6,244.1 190,243.8 192.5,243.2 195.7,242.5 197.5,242.8 199,243 200.5,242.2 202.2,241.3 203.5,241.9 205,242.9 206.5,243.8 208.2,244.4 210,243.8 212,243.1 213.5,242.6 215,243.3 216.3,243.5 217.7,243.4 220.4,243.8 225,243.8 229,243.8 234.5,243.5 236.6,236.5 238.6,236.5 239.8,236.5 241,236.5 243.7,220.3 245.3,220.3 246.5,220.3 247.6,220.3 248.5,220.3 249.1,220.3 250.2,230 251.3,242.8 254.5,243.5 258.3,243.3 260,242.8 261.5,242.4 263,242.9 265,243.5 266.8,242.9 268.2,242.5 269.5,243.1 270.7,244.1 273.4,244.3 284.3,244.4 285.4,234.8 287,233.4 288,233.4 288.8,233.4 289.6,233.4 290.6,233.4 291.6,233.4 293.4,233.4 294.4,233.4 295.3,233.4 296,239.9 299.3,244 305,244.2 307,243.6 311,244.2 323,244.2 326,243.4 328.5,243 331.8,244 336.7,244.3 339.4,243.4 341.5,241.7 343.7,239.9 345.9,240.2 348.6,239.2 350.5,238.7 351.8,239.7 353.4,241.2 355.5,241.8 357.8,242.3 359.5,239.5 360.5,230.5 361.6,225.4 363.2,227.3 364.5,229.4 366.5,231.8 368,229.4 369.6,224.8 371,220.4 372.2,221.1 373.4,222.3 374.5,226 376,232.7 377.5,239.8 379,241.3 381.5,242.1 384,242.5 387,242.5 390,242.2 392,241.3 394,240.3 395.6,238.8 396.5,221 396.9,216.8 397.2,212.3 397.6,200.7 398.7,135.3 399.7,135.3 400.5,135.3 401.2,135.3 402.1,161.6 402.2,165.5 402.8,192.9 403.4,212.7 403.8,220.4 404.6,227.9 406,241.3 407.4,242.6 408.4,239.6 409.5,235.4 410.8,236 412,236.8 414,236.9 416.6,236.2 418,236.5 419,237 420,239.3 421,239.2 422.6,239.5 424.6,239.3 426,240.1 428.2,242 430.5,242.7 432.6,243.1 435,242.4 437.4,243.6 441.2,242.8 445.6,242.2 447.2,240.1 448.6,239 450.4,240.1 452.6,238.3 454.8,238.1 457.5,239 460.2,241.2 462.3,243.6 465,244.1 468.3,244.2 473.7,244.2 477.5,243.4 481.3,244.4 483,244 485,241 487.2,242.4 489.7,243.6 492.1,242.4 495.9,243.1 498.1,241 499.1,238.6 500,234.4 501.1,230.4 502.2,232.3 503,233.6 504.6,235 505.8,235.3 507,236.7 508,238.2 510,240 511.5,241.3 512.9,243.3 514.5,243.8 521,243.7 523,242.9 524.5,237.3 526.2,232.9 527.8,237.3 529.6,240.8 531.2,235.3 532.9,231.2 534.5,236.1 536,240.2 537.5,242.4 539,240.5 540.5,234 542.2,229.3 543.2,232.1 544.3,235.8 545.5,228.7 546.8,225.2 548.2,227.5 549.9,231.9 551.6,235.8 553.5,237.9 555.5,239.5 558,240.3 560.1,240.3 561.5,234.7 562.8,231.8 564.5,232.7 566.9,234 568.6,229 570.4,226.5 571.8,224.9 573.4,228 575,230.5 576.5,230.5 578.3,228.9 579.5,232.1 580.3,236.2 581.6,240.5 583,242.9 584.9,244.3 587.6,243 593,243.6 597.3,244.3 599.5,243.6 603.8,244.1 606,243.1 608.4,241.8 610.5,242.3 613.5,243 616.8,244.3 621.7,244.5 623.3,239.6 624.4,237.6 626.5,238.4 628.7,242.3 630.5,243.6 633,244.2 635.7,242.2 639,243.5 641.7,242 644.4,240.5 647.1,238.5 649.3,235.8 651.4,237.7 654.1,240.9 656.3,241.1 657.6,233.6 658.2,230.5 658.6,226 659.4,207.5 660.2,168.3 660.5,167.3 660.8,167.3 661.3,167.3 663.1,167.3 664.4,178.8 665.6,193.6 666.9,223.8 667.4,225.2 667.9,235.3 668.3,225.2 668.9,218.8 669.3,207.5 669.7,195.7 670,184 670.2,176.1 672,169 672.3,174.6 672.8,190.2 673.3,208.3 673.8,220.9 674.2,226.3 675,228.8 676.2,235.8 677,238.1 678.4,239 681.4,236.4 683,240.8 684.6,243.5 687.9,243.9 690.5,244.1 693.3,243.8 695.5,243.6 697.4,243.2 699.2,243.7 702.8,243.7" fill="none" stroke="#f7fcb2" stroke-width="2.08" stroke-linejoin="round"/>
<polygon points="137.2,242.4 145,242.4 151,242.4 153,242.7 156.3,242.7 156.8,232.8 157.1,216.8 157.7,178.5 158.3,178.5 158.7,178.5 159.4,178.5 160.6,178.5 161.6,184.5 163.1,184.5 164.4,188.5 165.6,188.5 167,186.5 168.1,184.5 168.9,197.5 169.6,206.2 170,211.2 170.4,216.2 171,223.7 171.6,231.2 172.2,238.7 173.3,241.2 175,241.9 177.4,241.5 178.6,241.9 179.5,234.6 179.8,223.8 180.3,211.8 181,181.5 182,181.5 183,181.5 183.9,181.5 184.3,181.5 184.6,181.5 185.2,188.6 185.8,218.8 186,231.8 186.6,239 187.6,244.1 190,243.7 192.5,243 195.7,242.1 197.5,242.4 199,242.7 200.5,241.7 202.2,240.7 203.5,241.3 205,242.6 206.5,243.7 208.2,244.3 210,243.7 212,242.8 213.5,242.2 215,243 216.3,243.3 217.7,243.2 220.4,243.6 225,243.7 229,243.6 234.5,243.3 236.6,235.5 238.6,235.5 239.8,235.5 241,235.5 243.7,216.5 245.3,216.5 246.5,216.5 247.6,216.5 248.5,216.5 249.1,216.5 250.2,228.1 251.3,242.5 254.5,243.3 258.3,243.1 260,242.5 261.5,241.9 263,242.6 265,243.3 266.8,242.6 268.2,242.1 269.5,242.8 270.7,244 273.4,244.3 284.3,244.4 285.4,233.2 287,231.5 288,231.5 288.8,231.5 289.6,231.5 290.6,231.5 291.6,231.5 293.4,231.5 294.4,231.5 295.3,231.5 296,239.3 299.3,244 305,244.1 307,243.5 311,244.1 323,244.1 326,243.3 328.5,242.9 331.8,244 336.7,244.3 339.4,243.2 341.5,241.1 343.7,239 345.9,239.3 348.6,238.1 350.5,237.5 351.8,238.7 353.4,240.5 355.5,241.3 357.8,241.9 359.5,238.9 360.5,228.7 361.6,222.9 363.2,225 364.5,227.3 366.5,230.2 368,227.3 369.6,222.2 371,217.2 372.2,217.9 373.4,219.4 374.5,223.6 376,231.1 377.5,238.9 379,240.8 381.5,241.7 384,242.2 387,242.2 390,241.8 392,240.8 394,239.6 395.6,237.8 396.5,220.2 396.9,216 397.2,211.1 397.6,198 398.7,119.5 399.7,119.5 400.5,119.5 401.2,119.5 402.1,151 402.2,155.7 402.8,188.6 403.4,211.4 403.8,219.4 404.6,227.4 406,240.8 407.4,242.2 408.4,238.7 409.5,233.7 410.8,234.4 412,235.3 414,235.5 416.6,234.7 418,235.1 419,235.7 420,238.3 421,238.2 422.6,238.5 424.6,238.2 426,239.2 428.2,241.5 430.5,242.3 432.6,242.9 435,241.9 437.4,243.4 441.2,242.4 445.6,241.7 447.2,239.3 448.6,237.9 450.4,239.3 452.6,237.1 454.8,236.9 457.5,237.9 460.2,240.5 462.3,243.4 465,244 468.3,244.1 473.7,244.1 477.5,243.2 481.3,244.3 483,243.9 485,240.3 487.2,241.9 489.7,243.4 492.1,241.9 495.9,242.9 498.1,240.3 499.1,237.6 500,232.7 501.1,228 502.2,230.2 503,231.8 504.6,233.4 505.8,233.8 507,235.3 508,237.2 510,239.2 511.5,240.8 512.9,243.2 514.5,243.7 521,243.6 523,242.7 524.5,236.4 526.2,231.5 527.8,236.4 529.6,240.4 531.2,234.6 532.9,230.2 534.5,235.5 536,239.9 537.5,242.2 539,240.2 540.5,233.2 542.2,228.2 543.2,231.2 544.3,235.2 545.5,228.1 546.8,224.3 548.2,226.8 549.9,230.9 551.6,235.2 553.5,237.4 555.5,239.1 558,240 560.1,240 561.5,234 562.8,230.9 564.5,231.8 566.9,233.2 568.6,228 570.4,225.4 571.8,223.6 573.4,227 575,229.7 576.5,229.8 578.3,228.1 579.5,231.4 580.3,235.7 581.6,240.3 583,242.7 584.9,244.2 587.6,242.9 593,243.5 597.3,244.2 599.5,243.5 603.8,244.1 606,242.9 608.4,241.6 610.5,242.1 613.5,242.9 616.8,244.2 621.7,244.5 623.3,238.8 624.4,236.4 626.5,237.3 628.7,242 630.5,243.5 633,244.2 635.7,242 639,243.4 641.7,241.8 644.4,239.9 647.1,237.6 649.3,234.5 651.4,236.7 654.1,240.3 656.3,240.6 657.6,233.2 658.2,230 658.6,224.9 659.4,202.7 660.2,155.7 660.5,154.5 660.8,154.5 661.3,154.5 663.1,154.5 664.4,168.2 665.6,186 666.9,222.2 667.4,223.8 667.9,234.6 668.3,223.8 668.9,216.3 669.3,202.7 669.7,188.6 670,174.5 670.2,165.1 672,156.5 672.3,163.2 672.8,182 673.3,203.6 673.8,218.8 674.2,225.2 675,228.5 676.2,235.6 677,238 678.4,238.9 681.4,236.3 683,240.7 684.6,243.4 687.9,243.9 690.5,244.1 693.3,243.7 695.5,243.4 697.4,243 699.2,243.5 702.8,243.6 702.8,243.7 699.2,243.7 697.4,243.2 695.5,243.6 693.3,243.8 690.5,244.1 687.9,243.9 684.6,243.5 683,240.8 681.4,236.4 678.4,239 677,238.1 676.2,235.8 675,228.8 674.2,226.3 673.8,220.9 673.3,208.3 672.8,190.2 672.3,174.6 672,169 670.2,176.1 670,184 669.7,195.7 669.3,207.5 668.9,218.8 668.3,225.2 667.9,235.3 667.4,225.2 666.9,223.8 665.6,193.6 664.4,178.8 663.1,167.3 661.3,167.3 660.8,167.3 660.5,167.3 660.2,168.3 659.4,207.5 658.6,226 658.2,230.5 657.6,233.6 656.3,241.1 654.1,240.9 651.4,237.7 649.3,235.8 647.1,238.5 644.4,240.5 641.7,242 639,243.5 635.7,242.2 633,244.2 630.5,243.6 628.7,242.3 626.5,238.4 624.4,237.6 623.3,239.6 621.7,244.5 616.8,244.3 613.5,243 610.5,242.3 608.4,241.8 606,243.1 603.8,244.1 599.5,243.6 597.3,244.3 593,243.6 587.6,243 584.9,244.3 583,242.9 581.6,240.5 580.3,236.2 579.5,232.1 578.3,228.9 576.5,230.5 575,230.5 573.4,228 571.8,224.9 570.4,226.5 568.6,229 566.9,234 564.5,232.7 562.8,231.8 561.5,234.7 560.1,240.3 558,240.3 555.5,239.5 553.5,237.9 551.6,235.8 549.9,231.9 548.2,227.5 546.8,225.2 545.5,228.7 544.3,235.8 543.2,232.1 542.2,229.3 540.5,234 539,240.5 537.5,242.4 536,240.2 534.5,236.1 532.9,231.2 531.2,235.3 529.6,240.8 527.8,237.3 526.2,232.9 524.5,237.3 523,242.9 521,243.7 514.5,243.8 512.9,243.3 511.5,241.3 510,240 508,238.2 507,236.7 505.8,235.3 504.6,235 503,233.6 502.2,232.3 501.1,230.4 500,234.4 499.1,238.6 498.1,241 495.9,243.1 492.1,242.4 489.7,243.6 487.2,242.4 485,241 483,244 481.3,244.4 477.5,243.4 473.7,244.2 468.3,244.2 465,244.1 462.3,243.6 460.2,241.2 457.5,239 454.8,238.1 452.6,238.3 450.4,240.1 448.6,239 447.2,240.1 445.6,242.2 441.2,242.8 437.4,243.6 435,242.4 432.6,243.1 430.5,242.7 428.2,242 426,240.1 424.6,239.3 422.6,239.5 421,239.2 420,239.3 419,237 418,236.5 416.6,236.2 414,236.9 412,236.8 410.8,236 409.5,235.4 408.4,239.6 407.4,242.6 406,241.3 404.6,227.9 403.8,220.4 403.4,212.7 402.8,192.9 402.2,165.5 402.1,161.6 401.2,135.3 400.5,135.3 399.7,135.3 398.7,135.3 397.6,200.7 397.2,212.3 396.9,216.8 396.5,221 395.6,238.8 394,240.3 392,241.3 390,242.2 387,242.5 384,242.5 381.5,242.1 379,241.3 377.5,239.8 376,232.7 374.5,226 373.4,222.3 372.2,221.1 371,220.4 369.6,224.8 368,229.4 366.5,231.8 364.5,229.4 363.2,227.3 361.6,225.4 360.5,230.5 359.5,239.5 357.8,242.3 355.5,241.8 353.4,241.2 351.8,239.7 350.5,238.7 348.6,239.2 345.9,240.2 343.7,239.9 341.5,241.7 339.4,243.4 336.7,244.3 331.8,244 328.5,243 326,243.4 323,244.2 311,244.2 307,243.6 305,244.2 299.3,244 296,239.9 295.3,233.4 294.4,233.4 293.4,233.4 291.6,233.4 290.6,233.4 289.6,233.4 288.8,233.4 288,233.4 287,233.4 285.4,234.8 284.3,244.4 273.4,244.3 270.7,244.1 269.5,243.1 268.2,242.5 266.8,242.9 265,243.5 263,242.9 261.5,242.4 260,242.8 258.3,243.3 254.5,243.5 251.3,242.8 250.2,230 249.1,220.3 248.5,220.3 247.6,220.3 246.5,220.3 245.3,220.3 243.7,220.3 241,236.5 239.8,236.5 238.6,236.5 236.6,236.5 234.5,243.5 229,243.8 225,243.8 220.4,243.8 217.7,243.4 216.3,243.5 215,243.3 213.5,242.6 212,243.1 210,243.8 208.2,244.4 206.5,243.8 205,242.9 203.5,241.9 202.2,241.3 200.5,242.2 199,243 197.5,242.8 195.7,242.5 192.5,243.2 190,243.8 187.6,244.1 186.6,239.2 186,232.3 185.8,219.8 185.2,189.6 184.6,183.7 184.3,183.7 183.9,183.7 183,183.7 182,183.7 181,183.7 180.3,214.5 179.8,225.5 179.5,235.4 178.6,242.4 177.4,242 175,242.4 173.3,241.8 172.2,239.1 171.6,231.8 171,224.4 170.4,217.1 170,212.2 169.6,207.4 168.9,198.9 168.1,187.5 167,190.2 165.6,193.3 164.4,193.3 163.1,187.8 161.6,187.8 160.6,180.8 159.4,180.8 158.7,180.8 158.3,180.8 157.7,180.8 157.1,217.1 156.8,232.9 156.3,242.9 153,242.9 151,242.7 145,242.6 137.2,242.7" fill="#eef8a5"/>
<polyline points="137.2,242.4 145,242.4 151,242.4 153,242.7 156.3,242.7 156.8,232.8 157.1,216.8 157.7,178.5 158.3,178.5 158.7,178.5 159.4,178.5 160.6,178.5 161.6,184.5 163.1,184.5 164.4,188.5 165.6,188.5 167,186.5 168.1,184.5 168.9,197.5 169.6,206.2 170,211.2 170.4,216.2 171,223.7 171.6,231.2 172.2,238.7 173.3,241.2 175,241.9 177.4,241.5 178.6,241.9 179.5,234.6 179.8,223.8 180.3,211.8 181,181.5 182,181.5 183,181.5 183.9,181.5 184.3,181.5 184.6,181.5 185.2,188.6 185.8,218.8 186,231.8 186.6,239 187.6,244.1 190,243.7 192.5,243 195.7,242.1 197.5,242.4 199,242.7 200.5,241.7 202.2,240.7 203.5,241.3 205,242.6 206.5,243.7 208.2,244.3 210,243.7 212,242.8 213.5,242.2 215,243 216.3,243.3 217.7,243.2 220.4,243.6 225,243.7 229,243.6 234.5,243.3 236.6,235.5 238.6,235.5 239.8,235.5 241,235.5 243.7,216.5 245.3,216.5 246.5,216.5 247.6,216.5 248.5,216.5 249.1,216.5 250.2,228.1 251.3,242.5 254.5,243.3 258.3,243.1 260,242.5 261.5,241.9 263,242.6 265,243.3 266.8,242.6 268.2,242.1 269.5,242.8 270.7,244 273.4,244.3 284.3,244.4 285.4,233.2 287,231.5 288,231.5 288.8,231.5 289.6,231.5 290.6,231.5 291.6,231.5 293.4,231.5 294.4,231.5 295.3,231.5 296,239.3 299.3,244 305,244.1 307,243.5 311,244.1 323,244.1 326,243.3 328.5,242.9 331.8,244 336.7,244.3 339.4,243.2 341.5,241.1 343.7,239 345.9,239.3 348.6,238.1 350.5,237.5 351.8,238.7 353.4,240.5 355.5,241.3 357.8,241.9 359.5,238.9 360.5,228.7 361.6,222.9 363.2,225 364.5,227.3 366.5,230.2 368,227.3 369.6,222.2 371,217.2 372.2,217.9 373.4,219.4 374.5,223.6 376,231.1 377.5,238.9 379,240.8 381.5,241.7 384,242.2 387,242.2 390,241.8 392,240.8 394,239.6 395.6,237.8 396.5,220.2 396.9,216 397.2,211.1 397.6,198 398.7,119.5 399.7,119.5 400.5,119.5 401.2,119.5 402.1,151 402.2,155.7 402.8,188.6 403.4,211.4 403.8,219.4 404.6,227.4 406,240.8 407.4,242.2 408.4,238.7 409.5,233.7 410.8,234.4 412,235.3 414,235.5 416.6,234.7 418,235.1 419,235.7 420,238.3 421,238.2 422.6,238.5 424.6,238.2 426,239.2 428.2,241.5 430.5,242.3 432.6,242.9 435,241.9 437.4,243.4 441.2,242.4 445.6,241.7 447.2,239.3 448.6,237.9 450.4,239.3 452.6,237.1 454.8,236.9 457.5,237.9 460.2,240.5 462.3,243.4 465,244 468.3,244.1 473.7,244.1 477.5,243.2 481.3,244.3 483,243.9 485,240.3 487.2,241.9 489.7,243.4 492.1,241.9 495.9,242.9 498.1,240.3 499.1,237.6 500,232.7 501.1,228 502.2,230.2 503,231.8 504.6,233.4 505.8,233.8 507,235.3 508,237.2 510,239.2 511.5,240.8 512.9,243.2 514.5,243.7 521,243.6 523,242.7 524.5,236.4 526.2,231.5 527.8,236.4 529.6,240.4 531.2,234.6 532.9,230.2 534.5,235.5 536,239.9 537.5,242.2 539,240.2 540.5,233.2 542.2,228.2 543.2,231.2 544.3,235.2 545.5,228.1 546.8,224.3 548.2,226.8 549.9,230.9 551.6,235.2 553.5,237.4 555.5,239.1 558,240 560.1,240 561.5,234 562.8,230.9 564.5,231.8 566.9,233.2 568.6,228 570.4,225.4 571.8,223.6 573.4,227 575,229.7 576.5,229.8 578.3,228.1 579.5,231.4 580.3,235.7 581.6,240.3 583,242.7 584.9,244.2 587.6,242.9 593,243.5 597.3,244.2 599.5,243.5 603.8,244.1 606,242.9 608.4,241.6 610.5,242.1 613.5,242.9 616.8,244.2 621.7,244.5 623.3,238.8 624.4,236.4 626.5,237.3 628.7,242 630.5,243.5 633,244.2 635.7,242 639,243.4 641.7,241.8 644.4,239.9 647.1,237.6 649.3,234.5 651.4,236.7 654.1,240.3 656.3,240.6 657.6,233.2 658.2,230 658.6,224.9 659.4,202.7 660.2,155.7 660.5,154.5 660.8,154.5 661.3,154.5 663.1,154.5 664.4,168.2 665.6,186 666.9,222.2 667.4,223.8 667.9,234.6 668.3,223.8 668.9,216.3 669.3,202.7 669.7,188.6 670,174.5 670.2,165.1 672,156.5 672.3,163.2 672.8,182 673.3,203.6 673.8,218.8 674.2,225.2 675,228.5 676.2,235.6 677,238 678.4,238.9 681.4,236.3 683,240.7 684.6,243.4 687.9,243.9 690.5,244.1 693.3,243.7 695.5,243.4 697.4,243 699.2,243.5 702.8,243.6" fill="none" stroke="#eef8a5" stroke-width="2.08" stroke-linejoin="round"/>
<polygon points="137.2,242.2 145,242.1 151,242.2 153,242.5 156.3,242.5 156.8,232.7 157.1,216.6 157.7,177.3 158.3,175.5 158.7,175.5 159.4,175.5 160.6,175.5 161.6,181.3 163.1,181.3 164.4,184.8 165.6,184.8 167,183 168.1,181.2 168.9,195.4 169.6,204.4 170,209.5 170.4,214.7 171,222.4 171.6,230.1 172.2,237.8 173.3,240.3 175,241.3 177.4,240.7 178.6,241.3 179.5,234.1 179.8,222.7 180.3,210 181,179.8 182,179 183,179 183.9,179 184.3,179 184.6,179.3 185.2,188.2 185.8,217.8 186,231.3 186.6,238.8 187.6,243.8 190,243.3 192.5,242.1 195.7,240.9 197.5,241.3 199,241.8 200.5,240.2 202.2,238.6 203.5,239.7 205,241.6 206.5,243.3 208.2,244.3 210,243.3 212,241.9 213.5,241 215,242.2 216.3,242.7 217.7,242.5 220.4,243.1 225,243.2 229,243.1 234.5,242.7 236.6,235 238.6,233 239.8,233 241,233.1 243.7,215.7 245.3,213.9 246.5,211.8 247.6,211.8 248.5,211.8 249.1,213.9 250.2,227.9 251.3,241.6 254.5,242.7 258.3,242.4 260,241.6 261.5,240.7 263,241.7 265,242.7 266.8,241.7 268.2,241 269.5,242 270.7,243.8 273.4,244.3 284.3,244.4 285.4,233.1 287,228.7 288,228.7 288.8,228.7 289.6,228.7 290.6,230 291.6,230.6 293.4,229 294.4,230 295.3,231.3 296,239.3 299.3,243.9 305,244.1 307,243.4 311,244.1 323,244.1 326,243.2 328.5,242.8 331.8,243.9 336.7,244.2 339.4,242.9 341.5,240.2 343.7,237.4 345.9,237.8 348.6,236.2 350.5,235.5 351.8,237 353.4,239.4 355.5,240.3 357.8,241.1 359.5,238.3 360.5,227.2 361.6,220.9 363.2,223.2 364.5,225.8 366.5,228.8 368,225.8 369.6,220.1 371,214.7 372.2,215.5 373.4,217 374.5,221.7 376,229.9 377.5,237.6 379,239.8 381.5,240.9 384,241.6 387,241.6 390,241.2 392,239.8 394,238.3 395.6,236.1 396.5,219.5 396.9,215 397.2,209.4 397.6,193.4 398.7,115.4 399.7,114.5 400.5,114.5 401.2,114.5 402.1,147.9 402.2,152.6 402.8,185.3 403.4,209.6 403.8,218.1 404.6,226.9 406,240.2 407.4,241.9 408.4,237.8 409.5,232.2 410.8,233.1 412,234.1 414,234.2 416.6,233.3 418,233.7 419,234.4 420,237.5 421,237.5 422.6,237.9 424.6,237.5 426,238.7 428.2,241.1 430.5,242.1 432.6,242.7 435,241.7 437.4,243.3 441.2,242.2 445.6,241.4 447.2,238.5 448.6,236.9 450.4,238.5 452.6,236 454.8,235.7 457.5,236.9 460.2,239.9 462.3,243.3 465,243.9 468.3,244.1 473.7,244.1 477.5,243 481.3,244.3 483,243.8 485,239.8 487.2,241.6 489.7,243.3 492.1,241.6 495.9,242.7 498.1,239.8 499.1,236.3 500,230.3 501.1,224.7 502.2,227.4 503,229.2 504.6,231.2 505.8,231.6 507,233.5 508,235.7 510,238.2 511.5,240 512.9,243.1 514.5,243.6 521,243.5 523,242.5 524.5,235.4 526.2,229.9 527.8,235.4 529.6,239.9 531.2,233.6 532.9,228.8 534.5,234.6 536,239.4 537.5,242.1 539,239.9 540.5,232.4 542.2,227 543.2,230.2 544.3,234.5 545.5,227.3 546.8,223.4 548.2,226 549.9,230.2 551.6,234.7 553.5,237 555.5,238.8 558,239.8 560.1,239.5 561.5,232.8 562.8,229.4 564.5,230.4 566.9,232 568.6,227.2 570.4,224.4 571.8,222.6 573.4,226.2 575,228.9 576.5,229 578.3,227.2 579.5,230.7 580.3,235.3 581.6,240 583,242.7 584.9,244.2 587.6,242.8 593,243.5 597.3,244.2 599.5,243.5 603.8,244.1 606,242.9 608.4,241.4 610.5,242 613.5,242.8 616.8,244.2 621.7,244.5 623.3,238.6 624.4,236.1 626.5,237.1 628.7,241.9 630.5,243.5 633,244.2 635.7,241.9 639,243.4 641.7,241.7 644.4,239.3 647.1,236.7 649.3,233.2 651.4,235.7 654.1,239.8 656.3,240.1 657.6,232.7 658.2,229 658.6,223.4 659.4,198.3 660.2,153 660.5,150.5 660.8,148.7 661.3,148.7 663.1,151.2 664.4,166.6 665.6,184.6 666.9,219.6 667.4,222.7 667.9,234.1 668.3,222.7 668.9,214 669.3,200.3 669.7,185.3 670,171.1 670.2,161.2 672,153.2 672.3,160.3 672.8,179.3 673.3,200.5 673.8,217.3 674.2,224.1 675,228.3 676.2,235.5 677,237.9 678.4,238.8 681.4,236.1 683,240.6 684.6,243.4 687.9,243.8 690.5,243.9 693.3,243.4 695.5,243 697.4,242.4 699.2,243.1 702.8,243.2 702.8,243.6 699.2,243.5 697.4,243 695.5,243.4 693.3,243.7 690.5,244.1 687.9,243.9 684.6,243.4 683,240.7 681.4,236.3 678.4,238.9 677,238 676.2,235.6 675,228.5 674.2,225.2 673.8,218.8 673.3,203.6 672.8,182 672.3,163.2 672,156.5 670.2,165.1 670,174.5 669.7,188.6 669.3,202.7 668.9,216.3 668.3,223.8 667.9,234.6 667.4,223.8 666.9,222.2 665.6,186 664.4,168.2 663.1,154.5 661.3,154.5 660.8,154.5 660.5,154.5 660.2,155.7 659.4,202.7 658.6,224.9 658.2,230 657.6,233.2 656.3,240.6 654.1,240.3 651.4,236.7 649.3,234.5 647.1,237.6 644.4,239.9 641.7,241.8 639,243.4 635.7,242 633,244.2 630.5,243.5 628.7,242 626.5,237.3 624.4,236.4 623.3,238.8 621.7,244.5 616.8,244.2 613.5,242.9 610.5,242.1 608.4,241.6 606,242.9 603.8,244.1 599.5,243.5 597.3,244.2 593,243.5 587.6,242.9 584.9,244.2 583,242.7 581.6,240.3 580.3,235.7 579.5,231.4 578.3,228.1 576.5,229.8 575,229.7 573.4,227 571.8,223.6 570.4,225.4 568.6,228 566.9,233.2 564.5,231.8 562.8,230.9 561.5,234 560.1,240 558,240 555.5,239.1 553.5,237.4 551.6,235.2 549.9,230.9 548.2,226.8 546.8,224.3 545.5,228.1 544.3,235.2 543.2,231.2 542.2,228.2 540.5,233.2 539,240.2 537.5,242.2 536,239.9 534.5,235.5 532.9,230.2 531.2,234.6 529.6,240.4 527.8,236.4 526.2,231.5 524.5,236.4 523,242.7 521,243.6 514.5,243.7 512.9,243.2 511.5,240.8 510,239.2 508,237.2 507,235.3 505.8,233.8 504.6,233.4 503,231.8 502.2,230.2 501.1,228 500,232.7 499.1,237.6 498.1,240.3 495.9,242.9 492.1,241.9 489.7,243.4 487.2,241.9 485,240.3 483,243.9 481.3,244.3 477.5,243.2 473.7,244.1 468.3,244.1 465,244 462.3,243.4 460.2,240.5 457.5,237.9 454.8,236.9 452.6,237.1 450.4,239.3 448.6,237.9 447.2,239.3 445.6,241.7 441.2,242.4 437.4,243.4 435,241.9 432.6,242.9 430.5,242.3 428.2,241.5 426,239.2 424.6,238.2 422.6,238.5 421,238.2 420,238.3 419,235.7 418,235.1 416.6,234.7 414,235.5 412,235.3 410.8,234.4 409.5,233.7 408.4,238.7 407.4,242.2 406,240.8 404.6,227.4 403.8,219.4 403.4,211.4 402.8,188.6 402.2,155.7 402.1,151 401.2,119.5 400.5,119.5 399.7,119.5 398.7,119.5 397.6,198 397.2,211.1 396.9,216 396.5,220.2 395.6,237.8 394,239.6 392,240.8 390,241.8 387,242.2 384,242.2 381.5,241.7 379,240.8 377.5,238.9 376,231.1 374.5,223.6 373.4,219.4 372.2,217.9 371,217.2 369.6,222.2 368,227.3 366.5,230.2 364.5,227.3 363.2,225 361.6,222.9 360.5,228.7 359.5,238.9 357.8,241.9 355.5,241.3 353.4,240.5 351.8,238.7 350.5,237.5 348.6,238.1 345.9,239.3 343.7,239 341.5,241.1 339.4,243.2 336.7,244.3 331.8,244 328.5,242.9 326,243.3 323,244.1 311,244.1 307,243.5 305,244.1 299.3,244 296,239.3 295.3,231.5 294.4,231.5 293.4,231.5 291.6,231.5 290.6,231.5 289.6,231.5 288.8,231.5 288,231.5 287,231.5 285.4,233.2 284.3,244.4 273.4,244.3 270.7,244 269.5,242.8 268.2,242.1 266.8,242.6 265,243.3 263,242.6 261.5,241.9 260,242.5 258.3,243.1 254.5,243.3 251.3,242.5 250.2,228.1 249.1,216.5 248.5,216.5 247.6,216.5 246.5,216.5 245.3,216.5 243.7,216.5 241,235.5 239.8,235.5 238.6,235.5 236.6,235.5 234.5,243.3 229,243.6 225,243.7 220.4,243.6 217.7,243.2 216.3,243.3 215,243 213.5,242.2 212,242.8 210,243.7 208.2,244.3 206.5,243.7 205,242.6 203.5,241.3 202.2,240.7 200.5,241.7 199,242.7 197.5,242.4 195.7,242.1 192.5,243 190,243.7 187.6,244.1 186.6,239 186,231.8 185.8,218.8 185.2,188.6 184.6,181.5 184.3,181.5 183.9,181.5 183,181.5 182,181.5 181,181.5 180.3,211.8 179.8,223.8 179.5,234.6 178.6,241.9 177.4,241.5 175,241.9 173.3,241.2 172.2,238.7 171.6,231.2 171,223.7 170.4,216.2 170,211.2 169.6,206.2 168.9,197.5 168.1,184.5 167,186.5 165.6,188.5 164.4,188.5 163.1,184.5 161.6,184.5 160.6,178.5 159.4,178.5 158.7,178.5 158.3,178.5 157.7,178.5 157.1,216.8 156.8,232.8 156.3,242.7 153,242.7 151,242.4 145,242.4 137.2,242.4" fill="#e6f598"/>
<polyline points="137.2,242.2 145,242.1 151,242.2 153,242.5 156.3,242.5 156.8,232.7 157.1,216.6 157.7,177.3 158.3,175.5 158.7,175.5 159.4,175.5 160.6,175.5 161.6,181.3 163.1,181.3 164.4,184.8 165.6,184.8 167,183 168.1,181.2 168.9,195.4 169.6,204.4 170,209.5 170.4,214.7 171,222.4 171.6,230.1 172.2,237.8 173.3,240.3 175,241.3 177.4,240.7 178.6,241.3 179.5,234.1 179.8,222.7 180.3,210 181,179.8 182,179 183,179 183.9,179 184.3,179 184.6,179.3 185.2,188.2 185.8,217.8 186,231.3 186.6,238.8 187.6,243.8 190,243.3 192.5,242.1 195.7,240.9 197.5,241.3 199,241.8 200.5,240.2 202.2,238.6 203.5,239.7 205,241.6 206.5,243.3 208.2,244.3 210,243.3 212,241.9 213.5,241 215,242.2 216.3,242.7 217.7,242.5 220.4,243.1 225,243.2 229,243.1 234.5,242.7 236.6,235 238.6,233 239.8,233 241,233.1 243.7,215.7 245.3,213.9 246.5,211.8 247.6,211.8 248.5,211.8 249.1,213.9 250.2,227.9 251.3,241.6 254.5,242.7 258.3,242.4 260,241.6 261.5,240.7 263,241.7 265,242.7 266.8,241.7 268.2,241 269.5,242 270.7,243.8 273.4,244.3 284.3,244.4 285.4,233.1 287,228.7 288,228.7 288.8,228.7 289.6,228.7 290.6,230 291.6,230.6 293.4,229 294.4,230 295.3,231.3 296,239.3 299.3,243.9 305,244.1 307,243.4 311,244.1 323,244.1 326,243.2 328.5,242.8 331.8,243.9 336.7,244.2 339.4,242.9 341.5,240.2 343.7,237.4 345.9,237.8 348.6,236.2 350.5,235.5 351.8,237 353.4,239.4 355.5,240.3 357.8,241.1 359.5,238.3 360.5,227.2 361.6,220.9 363.2,223.2 364.5,225.8 366.5,228.8 368,225.8 369.6,220.1 371,214.7 372.2,215.5 373.4,217 374.5,221.7 376,229.9 377.5,237.6 379,239.8 381.5,240.9 384,241.6 387,241.6 390,241.2 392,239.8 394,238.3 395.6,236.1 396.5,219.5 396.9,215 397.2,209.4 397.6,193.4 398.7,115.4 399.7,114.5 400.5,114.5 401.2,114.5 402.1,147.9 402.2,152.6 402.8,185.3 403.4,209.6 403.8,218.1 404.6,226.9 406,240.2 407.4,241.9 408.4,237.8 409.5,232.2 410.8,233.1 412,234.1 414,234.2 416.6,233.3 418,233.7 419,234.4 420,237.5 421,237.5 422.6,237.9 424.6,237.5 426,238.7 428.2,241.1 430.5,242.1 432.6,242.7 435,241.7 437.4,243.3 441.2,242.2 445.6,241.4 447.2,238.5 448.6,236.9 450.4,238.5 452.6,236 454.8,235.7 457.5,236.9 460.2,239.9 462.3,243.3 465,243.9 468.3,244.1 473.7,244.1 477.5,243 481.3,244.3 483,243.8 485,239.8 487.2,241.6 489.7,243.3 492.1,241.6 495.9,242.7 498.1,239.8 499.1,236.3 500,230.3 501.1,224.7 502.2,227.4 503,229.2 504.6,231.2 505.8,231.6 507,233.5 508,235.7 510,238.2 511.5,240 512.9,243.1 514.5,243.6 521,243.5 523,242.5 524.5,235.4 526.2,229.9 527.8,235.4 529.6,239.9 531.2,233.6 532.9,228.8 534.5,234.6 536,239.4 537.5,242.1 539,239.9 540.5,232.4 542.2,227 543.2,230.2 544.3,234.5 545.5,227.3 546.8,223.4 548.2,226 549.9,230.2 551.6,234.7 553.5,237 555.5,238.8 558,239.8 560.1,239.5 561.5,232.8 562.8,229.4 564.5,230.4 566.9,232 568.6,227.2 570.4,224.4 571.8,222.6 573.4,226.2 575,228.9 576.5,229 578.3,227.2 579.5,230.7 580.3,235.3 581.6,240 583,242.7 584.9,244.2 587.6,242.8 593,243.5 597.3,244.2 599.5,243.5 603.8,244.1 606,242.9 608.4,241.4 610.5,242 613.5,242.8 616.8,244.2 621.7,244.5 623.3,238.6 624.4,236.1 626.5,237.1 628.7,241.9 630.5,243.5 633,244.2 635.7,241.9 639,243.4 641.7,241.7 644.4,239.3 647.1,236.7 649.3,233.2 651.4,235.7 654.1,239.8 656.3,240.1 657.6,232.7 658.2,229 658.6,223.4 659.4,198.3 660.2,153 660.5,150.5 660.8,148.7 661.3,148.7 663.1,151.2 664.4,166.6 665.6,184.6 666.9,219.6 667.4,222.7 667.9,234.1 668.3,222.7 668.9,214 669.3,200.3 669.7,185.3 670,171.1 670.2,161.2 672,153.2 672.3,160.3 672.8,179.3 673.3,200.5 673.8,217.3 674.2,224.1 675,228.3 676.2,235.5 677,237.9 678.4,238.8 681.4,236.1 683,240.6 684.6,243.4 687.9,243.8 690.5,243.9 693.3,243.4 695.5,243 697.4,242.4 699.2,243.1 702.8,243.2" fill="none" stroke="#e6f598" stroke-width="2.08" stroke-linejoin="round"/>
<polygon points="137.2,241.9 145,241.8 151,242 153,242.3 156.3,242.3 156.8,232.6 157.1,216.4 157.7,176.2 158.3,172.5 158.7,172.5 159.4,172.5 160.6,172.5 161.6,178.2 163.1,178.2 164.4,181.2 165.6,181.2 167,179.5 168.1,177.8 168.9,193.4 169.6,202.6 170,207.9 170.4,213.2 171,221.1 171.6,229 172.2,236.9 173.3,239.5 175,240.6 177.4,239.9 178.6,240.6 179.5,233.5 179.8,221.5 180.3,208.2 181,178.2 182,176.5 183,176.5 183.9,176.5 184.3,176.5 184.6,177.2 185.2,187.8 185.8,216.8 186,230.8 186.6,238.6 187.6,243.6 190,242.8 192.5,241.3 195.7,239.6 197.5,240.2 199,240.8 200.5,238.7 202.2,236.6 203.5,238 205,240.6 206.5,242.8 208.2,244.2 210,242.8 212,241 213.5,239.8 215,241.4 216.3,242.1 217.7,241.8 220.4,242.6 225,242.7 229,242.6 234.5,242 236.6,234.6 238.6,230.5 239.8,230.5 241,230.7 243.7,214.8 245.3,211.3 246.5,207.2 247.6,207.2 248.5,207.2 249.1,211.3 250.2,227.8 251.3,240.7 254.5,242.1 258.3,241.7 260,240.6 261.5,239.6 263,240.8 265,242.1 266.8,240.8 268.2,239.9 269.5,241.2 270.7,243.5 273.4,244.3 284.3,244.4 285.4,233.1 287,225.8 288,225.8 288.8,225.8 289.6,225.8 290.6,228.5 291.6,229.8 293.4,226.5 294.4,228.5 295.3,231.1 296,239.3 299.3,243.9 305,244.1 307,243.4 311,244.1 323,244.1 326,243.2 328.5,242.7 331.8,243.9 336.7,244.2 339.4,242.5 341.5,239.2 343.7,235.8 345.9,236.3 348.6,234.3 350.5,233.4 351.8,235.3 353.4,238.2 355.5,239.4 357.8,240.4 359.5,237.8 360.5,225.7 361.6,218.9 363.2,221.4 364.5,224.2 366.5,227.5 368,224.2 369.6,218.1 371,212.2 372.2,213 373.4,214.7 374.5,219.7 376,228.6 377.5,236.2 379,238.9 381.5,240.2 384,241 387,241 390,240.5 392,238.9 394,237.1 395.6,234.4 396.5,218.8 396.9,213.9 397.2,207.7 397.6,188.7 398.7,111.2 399.7,109.5 400.5,109.5 401.2,109.5 402.1,144.7 402.2,149.5 402.8,182.1 403.4,207.9 403.8,216.9 404.6,226.4 406,239.7 407.4,241.6 408.4,237 409.5,230.7 410.8,231.7 412,232.8 414,233 416.6,232 418,232.4 419,233.2 420,236.6 421,236.8 422.6,237.2 424.6,236.9 426,238.1 428.2,240.8 430.5,241.8 432.6,242.5 435,241.4 437.4,243.2 441.2,241.9 445.6,241.1 447.2,237.6 448.6,235.9 450.4,237.6 452.6,234.8 454.8,234.5 457.5,235.9 460.2,239.3 462.3,243.2 465,243.9 468.3,244 473.7,244 477.5,242.9 481.3,244.3 483,243.7 485,239.4 487.2,241.3 489.7,243.2 492.1,241.3 495.9,242.5 498.1,239.4 499.1,234.9 500,227.9 501.1,221.4 502.2,224.6 503,226.7 504.6,229 505.8,229.5 507,231.7 508,234.2 510,237.2 511.5,239.2 512.9,242.9 514.5,243.5 521,243.4 523,242.3 524.5,234.4 526.2,228.3 527.8,234.4 529.6,239.4 531.2,232.7 532.9,227.4 534.5,233.7 536,239 537.5,241.9 539,239.6 540.5,231.5 542.2,225.8 543.2,229.2 544.3,233.8 545.5,226.5 546.8,222.4 548.2,225.1 549.9,229.4 551.6,234.2 553.5,236.6 555.5,238.5 558,239.5 560.1,239 561.5,231.6 562.8,227.9 564.5,229 566.9,230.7 568.6,226.4 570.4,223.5 571.8,221.6 573.4,225.3 575,228.2 576.5,228.2 578.3,226.3 579.5,229.9 580.3,234.8 581.6,239.8 583,242.6 584.9,244.2 587.6,242.7 593,243.4 597.3,244.2 599.5,243.4 603.8,244.1 606,242.8 608.4,241.3 610.5,241.8 613.5,242.7 616.8,244.2 621.7,244.5 623.3,238.3 624.4,235.8 626.5,236.8 628.7,241.8 630.5,243.5 633,244.2 635.7,241.8 639,243.4 641.7,241.6 644.4,238.7 647.1,235.8 649.3,231.9 651.4,234.7 654.1,239.3 656.3,239.6 657.6,232.3 658.2,228 658.6,221.8 659.4,193.9 660.2,150.3 660.5,146.4 660.8,142.8 661.3,142.8 663.1,147.9 664.4,164.9 665.6,183.2 666.9,217.1 667.4,221.5 667.9,233.5 668.3,221.5 668.9,211.7 669.3,198 669.7,182.1 670,167.8 670.2,157.4 672,149.8 672.3,157.5 672.8,176.5 673.3,197.5 673.8,215.8 674.2,223 675,228.1 676.2,235.3 677,237.8 678.4,238.7 681.4,236 683,240.6 684.6,243.4 687.9,243.8 690.5,243.7 693.3,243.2 695.5,242.5 697.4,241.9 699.2,242.8 702.8,242.9 702.8,243.2 699.2,243.1 697.4,242.4 695.5,243 693.3,243.4 690.5,243.9 687.9,243.8 684.6,243.4 683,240.6 681.4,236.1 678.4,238.8 677,237.9 676.2,235.5 675,228.3 674.2,224.1 673.8,217.3 673.3,200.5 672.8,179.3 672.3,160.3 672,153.2 670.2,161.2 670,171.1 669.7,185.3 669.3,200.3 668.9,214 668.3,222.7 667.9,234.1 667.4,222.7 666.9,219.6 665.6,184.6 664.4,166.6 663.1,151.2 661.3,148.7 660.8,148.7 660.5,150.5 660.2,153 659.4,198.3 658.6,223.4 658.2,229 657.6,232.7 656.3,240.1 654.1,239.8 651.4,235.7 649.3,233.2 647.1,236.7 644.4,239.3 641.7,241.7 639,243.4 635.7,241.9 633,244.2 630.5,243.5 628.7,241.9 626.5,237.1 624.4,236.1 623.3,238.6 621.7,244.5 616.8,244.2 613.5,242.8 610.5,242 608.4,241.4 606,242.9 603.8,244.1 599.5,243.5 597.3,244.2 593,243.5 587.6,242.8 584.9,244.2 583,242.7 581.6,240 580.3,235.3 579.5,230.7 578.3,227.2 576.5,229 575,228.9 573.4,226.2 571.8,222.6 570.4,224.4 568.6,227.2 566.9,232 564.5,230.4 562.8,229.4 561.5,232.8 560.1,239.5 558,239.8 555.5,238.8 553.5,237 551.6,234.7 549.9,230.2 548.2,226 546.8,223.4 545.5,227.3 544.3,234.5 543.2,230.2 542.2,227 540.5,232.4 539,239.9 537.5,242.1 536,239.4 534.5,234.6 532.9,228.8 531.2,233.6 529.6,239.9 527.8,235.4 526.2,229.9 524.5,235.4 523,242.5 521,243.5 514.5,243.6 512.9,243.1 511.5,240 510,238.2 508,235.7 507,233.5 505.8,231.6 504.6,231.2 503,229.2 502.2,227.4 501.1,224.7 500,230.3 499.1,236.3 498.1,239.8 495.9,242.7 492.1,241.6 489.7,243.3 487.2,241.6 485,239.8 483,243.8 481.3,244.3 477.5,243 473.7,244.1 468.3,244.1 465,243.9 462.3,243.3 460.2,239.9 457.5,236.9 454.8,235.7 452.6,236 450.4,238.5 448.6,236.9 447.2,238.5 445.6,241.4 441.2,242.2 437.4,243.3 435,241.7 432.6,242.7 430.5,242.1 428.2,241.1 426,238.7 424.6,237.5 422.6,237.9 421,237.5 420,237.5 419,234.4 418,233.7 416.6,233.3 414,234.2 412,234.1 410.8,233.1 409.5,232.2 408.4,237.8 407.4,241.9 406,240.2 404.6,226.9 403.8,218.1 403.4,209.6 402.8,185.3 402.2,152.6 402.1,147.9 401.2,114.5 400.5,114.5 399.7,114.5 398.7,115.4 397.6,193.4 397.2,209.4 396.9,215 396.5,219.5 395.6,236.1 394,238.3 392,239.8 390,241.2 387,241.6 384,241.6 381.5,240.9 379,239.8 377.5,237.6 376,229.9 374.5,221.7 373.4,217 372.2,215.5 371,214.7 369.6,220.1 368,225.8 366.5,228.8 364.5,225.8 363.2,223.2 361.6,220.9 360.5,227.2 359.5,238.3 357.8,241.1 355.5,240.3 353.4,239.4 351.8,237 350.5,235.5 348.6,236.2 345.9,237.8 343.7,237.4 341.5,240.2 339.4,242.9 336.7,244.2 331.8,243.9 328.5,242.8 326,243.2 323,244.1 311,244.1 307,243.4 305,244.1 299.3,243.9 296,239.3 295.3,231.3 294.4,230 293.4,229 291.6,230.6 290.6,230 289.6,228.7 288.8,228.7 288,228.7 287,228.7 285.4,233.1 284.3,244.4 273.4,244.3 270.7,243.8 269.5,242 268.2,241 266.8,241.7 265,242.7 263,241.7 261.5,240.7 260,241.6 258.3,242.4 254.5,242.7 251.3,241.6 250.2,227.9 249.1,213.9 248.5,211.8 247.6,211.8 246.5,211.8 245.3,213.9 243.7,215.7 241,233.1 239.8,233 238.6,233 236.6,235 234.5,242.7 229,243.1 225,243.2 220.4,243.1 217.7,242.5 216.3,242.7 215,242.2 213.5,241 212,241.9 210,243.3 208.2,244.3 206.5,243.3 205,241.6 203.5,239.7 202.2,238.6 200.5,240.2 199,241.8 197.5,241.3 195.7,240.9 192.5,242.1 190,243.3 187.6,243.8 186.6,238.8 186,231.3 185.8,217.8 185.2,188.2 184.6,179.3 184.3,179 183.9,179 183,179 182,179 181,179.8 180.3,210 179.8,222.7 179.5,234.1 178.6,241.3 177.4,240.7 175,241.3 173.3,240.3 172.2,237.8 171.6,230.1 171,222.4 170.4,214.7 170,209.5 169.6,204.4 168.9,195.4 168.1,181.2 167,183 165.6,184.8 164.4,184.8 163.1,181.3 161.6,181.3 160.6,175.5 159.4,175.5 158.7,175.5 158.3,175.5 157.7,177.3 157.1,216.6 156.8,232.7 156.3,242.5 153,242.5 151,242.2 145,242.1 137.2,242.2" fill="#d2ed9c"/>
<polyline points="137.2,241.9 145,241.8 151,242 153,242.3 156.3,242.3 156.8,232.6 157.1,216.4 157.7,176.2 158.3,172.5 158.7,172.5 159.4,172.5 160.6,172.5 161.6,178.2 163.1,178.2 164.4,181.2 165.6,181.2 167,179.5 168.1,177.8 168.9,193.4 169.6,202.6 170,207.9 170.4,213.2 171,221.1 171.6,229 172.2,236.9 173.3,239.5 175,240.6 177.4,239.9 178.6,240.6 179.5,233.5 179.8,221.5 180.3,208.2 181,178.2 182,176.5 183,176.5 183.9,176.5 184.3,176.5 184.6,177.2 185.2,187.8 185.8,216.8 186,230.8 186.6,238.6 187.6,243.6 190,242.8 192.5,241.3 195.7,239.6 197.5,240.2 199,240.8 200.5,238.7 202.2,236.6 203.5,238 205,240.6 206.5,242.8 208.2,244.2 210,242.8 212,241 213.5,239.8 215,241.4 216.3,242.1 217.7,241.8 220.4,242.6 225,242.7 229,242.6 234.5,242 236.6,234.6 238.6,230.5 239.8,230.5 241,230.7 243.7,214.8 245.3,211.3 246.5,207.2 247.6,207.2 248.5,207.2 249.1,211.3 250.2,227.8 251.3,240.7 254.5,242.1 258.3,241.7 260,240.6 261.5,239.6 263,240.8 265,242.1 266.8,240.8 268.2,239.9 269.5,241.2 270.7,243.5 273.4,244.3 284.3,244.4 285.4,233.1 287,225.8 288,225.8 288.8,225.8 289.6,225.8 290.6,228.5 291.6,229.8 293.4,226.5 294.4,228.5 295.3,231.1 296,239.3 299.3,243.9 305,244.1 307,243.4 311,244.1 323,244.1 326,243.2 328.5,242.7 331.8,243.9 336.7,244.2 339.4,242.5 341.5,239.2 343.7,235.8 345.9,236.3 348.6,234.3 350.5,233.4 351.8,235.3 353.4,238.2 355.5,239.4 357.8,240.4 359.5,237.8 360.5,225.7 361.6,218.9 363.2,221.4 364.5,224.2 366.5,227.5 368,224.2 369.6,218.1 371,212.2 372.2,213 373.4,214.7 374.5,219.7 376,228.6 377.5,236.2 379,238.9 381.5,240.2 384,241 387,241 390,240.5 392,238.9 394,237.1 395.6,234.4 396.5,218.8 396.9,213.9 397.2,207.7 397.6,188.7 398.7,111.2 399.7,109.5 400.5,109.5 401.2,109.5 402.1,144.7 402.2,149.5 402.8,182.1 403.4,207.9 403.8,216.9 404.6,226.4 406,239.7 407.4,241.6 408.4,237 409.5,230.7 410.8,231.7 412,232.8 414,233 416.6,232 418,232.4 419,233.2 420,236.6 421,236.8 422.6,237.2 424.6,236.9 426,238.1 428.2,240.8 430.5,241.8 432.6,242.5 435,241.4 437.4,243.2 441.2,241.9 445.6,241.1 447.2,237.6 448.6,235.9 450.4,237.6 452.6,234.8 454.8,234.5 457.5,235.9 460.2,239.3 462.3,243.2 465,243.9 468.3,244 473.7,244 477.5,242.9 481.3,244.3 483,243.7 485,239.4 487.2,241.3 489.7,243.2 492.1,241.3 495.9,242.5 498.1,239.4 499.1,234.9 500,227.9 501.1,221.4 502.2,224.6 503,226.7 504.6,229 505.8,229.5 507,231.7 508,234.2 510,237.2 511.5,239.2 512.9,242.9 514.5,243.5 521,243.4 523,242.3 524.5,234.4 526.2,228.3 527.8,234.4 529.6,239.4 531.2,232.7 532.9,227.4 534.5,233.7 536,239 537.5,241.9 539,239.6 540.5,231.5 542.2,225.8 543.2,229.2 544.3,233.8 545.5,226.5 546.8,222.4 548.2,225.1 549.9,229.4 551.6,234.2 553.5,236.6 555.5,238.5 558,239.5 560.1,239 561.5,231.6 562.8,227.9 564.5,229 566.9,230.7 568.6,226.4 570.4,223.5 571.8,221.6 573.4,225.3 575,228.2 576.5,228.2 578.3,226.3 579.5,229.9 580.3,234.8 581.6,239.8 583,242.6 584.9,244.2 587.6,242.7 593,243.4 597.3,244.2 599.5,243.4 603.8,244.1 606,242.8 608.4,241.3 610.5,241.8 613.5,242.7 616.8,244.2 621.7,244.5 623.3,238.3 624.4,235.8 626.5,236.8 628.7,241.8 630.5,243.5 633,244.2 635.7,241.8 639,243.4 641.7,241.6 644.4,238.7 647.1,235.8 649.3,231.9 651.4,234.7 654.1,239.3 656.3,239.6 657.6,232.3 658.2,228 658.6,221.8 659.4,193.9 660.2,150.3 660.5,146.4 660.8,142.8 661.3,142.8 663.1,147.9 664.4,164.9 665.6,183.2 666.9,217.1 667.4,221.5 667.9,233.5 668.3,221.5 668.9,211.7 669.3,198 669.7,182.1 670,167.8 670.2,157.4 672,149.8 672.3,157.5 672.8,176.5 673.3,197.5 673.8,215.8 674.2,223 675,228.1 676.2,235.3 677,237.8 678.4,238.7 681.4,236 683,240.6 684.6,243.4 687.9,243.8 690.5,243.7 693.3,243.2 695.5,242.5 697.4,241.9 699.2,242.8 702.8,242.9" fill="none" stroke="#d2ed9c" stroke-width="2.08" stroke-linejoin="round"/>
<polygon points="137.2,241.7 145,241.6 151,241.7 153,242 156.3,242 156.8,232.5 157.1,216.2 157.7,175 158.3,169.5 158.7,169.5 159.4,169.5 160.6,169.5 161.6,175 163.1,175 164.4,177.5 165.6,177.5 167,176 168.1,174.5 168.9,191.3 169.6,200.8 170,206.2 170.4,211.7 171,219.8 171.6,227.9 172.2,236.1 173.3,238.6 175,240 177.4,239.2 178.6,240 179.5,232.9 179.8,220.3 180.3,206.4 181,176.5 182,174 183,174 183.9,174 184.3,174 184.6,175 185.2,187.4 185.8,215.9 186,230.4 186.6,238.3 187.6,243.3 190,242.4 192.5,240.5 195.7,238.3 197.5,239.1 199,239.8 200.5,237.2 202.2,234.5 203.5,236.3 205,239.6 206.5,242.4 208.2,244.1 210,242.4 212,240 213.5,238.6 215,240.6 216.3,241.4 217.7,241.1 220.4,242.2 225,242.3 229,242.2 234.5,241.4 236.6,234.1 238.6,228 239.8,228 241,228.3 243.7,214 245.3,208.7 246.5,202.5 247.6,202.5 248.5,202.5 249.1,208.7 250.2,227.7 251.3,239.7 254.5,241.6 258.3,241 260,239.7 261.5,238.4 263,239.9 265,241.6 266.8,239.9 268.2,238.7 269.5,240.4 270.7,243.3 273.4,244.2 284.3,244.4 285.4,233 287,223 288,223 288.8,223 289.6,223 290.6,227 291.6,228.9 293.4,224 294.4,227 295.3,230.9 296,239.2 299.3,243.9 305,244.1 307,243.3 311,244.1 323,244.1 326,243.1 328.5,242.6 331.8,243.9 336.7,244.2 339.4,242.1 341.5,238.2 343.7,234.2 345.9,234.8 348.6,232.5 350.5,231.4 351.8,233.6 353.4,237 355.5,238.5 357.8,239.6 359.5,237.3 360.5,224.3 361.6,216.9 363.2,219.6 364.5,222.6 366.5,226.2 368,222.6 369.6,216 371,209.6 372.2,210.6 373.4,212.4 374.5,217.8 376,227.4 377.5,234.8 379,237.9 381.5,239.5 384,240.5 387,240.5 390,239.8 392,237.9 394,235.8 395.6,232.7 396.5,218.1 396.9,212.9 397.2,206 397.6,184.1 398.7,107.1 399.7,104.5 400.5,104.5 401.2,104.5 402.1,141.6 402.2,146.4 402.8,178.8 403.4,206.1 403.8,215.7 404.6,226 406,239.2 407.4,241.3 408.4,236.2 409.5,229.2 410.8,230.3 412,231.5 414,231.7 416.6,230.6 418,231.1 419,232 420,235.8 421,236.1 422.6,236.5 424.6,236.2 426,237.5 428.2,240.5 430.5,241.6 432.6,242.3 435,241.1 437.4,243.1 441.2,241.7 445.6,240.8 447.2,236.8 448.6,234.9 450.4,236.8 452.6,233.7 454.8,233.3 457.5,234.9 460.2,238.7 462.3,243.1 465,243.8 468.3,244 473.7,244 477.5,242.7 481.3,244.3 483,243.6 485,238.9 487.2,241 489.7,243.1 492.1,241 495.9,242.3 498.1,238.9 499.1,233.5 500,225.5 501.1,218.1 502.2,221.7 503,224.1 504.6,226.7 505.8,227.4 507,229.9 508,232.7 510,236.1 511.5,238.5 512.9,242.8 514.5,243.5 521,243.3 523,242.1 524.5,233.5 526.2,226.8 527.8,233.5 529.6,238.9 531.2,231.7 532.9,226 534.5,232.8 536,238.5 537.5,241.7 539,239.3 540.5,230.7 542.2,224.5 543.2,228.2 544.3,233.1 545.5,225.7 546.8,221.4 548.2,224.3 549.9,228.7 551.6,233.7 553.5,236.2 555.5,238.2 558,239.2 560.1,238.5 561.5,230.4 562.8,226.3 564.5,227.5 566.9,229.4 568.6,225.6 570.4,222.6 571.8,220.6 573.4,224.5 575,227.5 576.5,227.4 578.3,225.4 579.5,229.2 580.3,234.3 581.6,239.6 583,242.5 584.9,244.2 587.6,242.6 593,243.4 597.3,244.2 599.5,243.4 603.8,244.1 606,242.7 608.4,241.1 610.5,241.7 613.5,242.6 616.8,244.2 621.7,244.5 623.3,238.1 624.4,235.5 626.5,236.5 628.7,241.7 630.5,243.4 633,244.2 635.7,241.7 639,243.3 641.7,241.5 644.4,238.1 647.1,234.9 649.3,230.6 651.4,233.7 654.1,238.7 656.3,239.1 657.6,231.8 658.2,227.1 658.6,220.3 659.4,189.5 660.2,147.6 660.5,142.4 660.8,137 661.3,137 663.1,144.6 664.4,163.3 665.6,181.8 666.9,214.5 667.4,220.3 667.9,232.9 668.3,220.3 668.9,209.4 669.3,195.7 669.7,178.8 670,164.4 670.2,153.6 672,146.5 672.3,154.6 672.8,173.8 673.3,194.4 673.8,214.4 674.2,221.9 675,227.9 676.2,235.2 677,237.7 678.4,238.7 681.4,235.9 683,240.5 684.6,243.3 687.9,243.8 690.5,243.6 693.3,242.9 695.5,242.1 697.4,241.3 699.2,242.4 702.8,242.5 702.8,242.9 699.2,242.8 697.4,241.9 695.5,242.5 693.3,243.2 690.5,243.7 687.9,243.8 684.6,243.4 683,240.6 681.4,236 678.4,238.7 677,237.8 676.2,235.3 675,228.1 674.2,223 673.8,215.8 673.3,197.5 672.8,176.5 672.3,157.5 672,149.8 670.2,157.4 670,167.8 669.7,182.1 669.3,198 668.9,211.7 668.3,221.5 667.9,233.5 667.4,221.5 666.9,217.1 665.6,183.2 664.4,164.9 663.1,147.9 661.3,142.8 660.8,142.8 660.5,146.4 660.2,150.3 659.4,193.9 658.6,221.8 658.2,228 657.6,232.3 656.3,239.6 654.1,239.3 651.4,234.7 649.3,231.9 647.1,235.8 644.4,238.7 641.7,241.6 639,243.4 635.7,241.8 633,244.2 630.5,243.5 628.7,241.8 626.5,236.8 624.4,235.8 623.3,238.3 621.7,244.5 616.8,244.2 613.5,242.7 610.5,241.8 608.4,241.3 606,242.8 603.8,244.1 599.5,243.4 597.3,244.2 593,243.4 587.6,242.7 584.9,244.2 583,242.6 581.6,239.8 580.3,234.8 579.5,229.9 578.3,226.3 576.5,228.2 575,228.2 573.4,225.3 571.8,221.6 570.4,223.5 568.6,226.4 566.9,230.7 564.5,229 562.8,227.9 561.5,231.6 560.1,239 558,239.5 555.5,238.5 553.5,236.6 551.6,234.2 549.9,229.4 548.2,225.1 546.8,222.4 545.5,226.5 544.3,233.8 543.2,229.2 542.2,225.8 540.5,231.5 539,239.6 537.5,241.9 536,239 534.5,233.7 532.9,227.4 531.2,232.7 529.6,239.4 527.8,234.4 526.2,228.3 524.5,234.4 523,242.3 521,243.4 514.5,243.5 512.9,242.9 511.5,239.2 510,237.2 508,234.2 507,231.7 505.8,229.5 504.6,229 503,226.7 502.2,224.6 501.1,221.4 500,227.9 499.1,234.9 498.1,239.4 495.9,242.5 492.1,241.3 489.7,243.2 487.2,241.3 485,239.4 483,243.7 481.3,244.3 477.5,242.9 473.7,244 468.3,244 465,243.9 462.3,243.2 460.2,239.3 457.5,235.9 454.8,234.5 452.6,234.8 450.4,237.6 448.6,235.9 447.2,237.6 445.6,241.1 441.2,241.9 437.4,243.2 435,241.4 432.6,242.5 430.5,241.8 428.2,240.8 426,238.1 424.6,236.9 422.6,237.2 421,236.8 420,236.6 419,233.2 418,232.4 416.6,232 414,233 412,232.8 410.8,231.7 409.5,230.7 408.4,237 407.4,241.6 406,239.7 404.6,226.4 403.8,216.9 403.4,207.9 402.8,182.1 402.2,149.5 402.1,144.7 401.2,109.5 400.5,109.5 399.7,109.5 398.7,111.2 397.6,188.7 397.2,207.7 396.9,213.9 396.5,218.8 395.6,234.4 394,237.1 392,238.9 390,240.5 387,241 384,241 381.5,240.2 379,238.9 377.5,236.2 376,228.6 374.5,219.7 373.4,214.7 372.2,213 371,212.2 369.6,218.1 368,224.2 366.5,227.5 364.5,224.2 363.2,221.4 361.6,218.9 360.5,225.7 359.5,237.8 357.8,240.4 355.5,239.4 353.4,238.2 351.8,235.3 350.5,233.4 348.6,234.3 345.9,236.3 343.7,235.8 341.5,239.2 339.4,242.5 336.7,244.2 331.8,243.9 328.5,242.7 326,243.2 323,244.1 311,244.1 307,243.4 305,244.1 299.3,243.9 296,239.3 295.3,231.1 294.4,228.5 293.4,226.5 291.6,229.8 290.6,228.5 289.6,225.8 288.8,225.8 288,225.8 287,225.8 285.4,233.1 284.3,244.4 273.4,244.3 270.7,243.5 269.5,241.2 268.2,239.9 266.8,240.8 265,242.1 263,240.8 261.5,239.6 260,240.6 258.3,241.7 254.5,242.1 251.3,240.7 250.2,227.8 249.1,211.3 248.5,207.2 247.6,207.2 246.5,207.2 245.3,211.3 243.7,214.8 241,230.7 239.8,230.5 238.6,230.5 236.6,234.6 234.5,242 229,242.6 225,242.7 220.4,242.6 217.7,241.8 216.3,242.1 215,241.4 213.5,239.8 212,241 210,242.8 208.2,244.2 206.5,242.8 205,240.6 203.5,238 202.2,236.6 200.5,238.7 199,240.8 197.5,240.2 195.7,239.6 192.5,241.3 190,242.8 187.6,243.6 186.6,238.6 186,230.8 185.8,216.8 185.2,187.8 184.6,177.2 184.3,176.5 183.9,176.5 183,176.5 182,176.5 181,178.2 180.3,208.2 179.8,221.5 179.5,233.5 178.6,240.6 177.4,239.9 175,240.6 173.3,239.5 172.2,236.9 171.6,229 171,221.1 170.4,213.2 170,207.9 169.6,202.6 168.9,193.4 168.1,177.8 167,179.5 165.6,181.2 164.4,181.2 163.1,178.2 161.6,178.2 160.6,172.5 159.4,172.5 158.7,172.5 158.3,172.5 157.7,176.2 157.1,216.4 156.8,232.6 156.3,242.3 153,242.3 151,242 145,241.8 137.2,241.9" fill="#bfe5a0"/>
<polyline points="137.2,241.7 145,241.6 151,241.7 153,242 156.3,242 156.8,232.5 157.1,216.2 157.7,175 158.3,169.5 158.7,169.5 159.4,169.5 160.6,169.5 161.6,175 163.1,175 164.4,177.5 165.6,177.5 167,176 168.1,174.5 168.9,191.3 169.6,200.8 170,206.2 170.4,211.7 171,219.8 171.6,227.9 172.2,236.1 173.3,238.6 175,240 177.4,239.2 178.6,240 179.5,232.9 179.8,220.3 180.3,206.4 181,176.5 182,174 183,174 183.9,174 184.3,174 184.6,175 185.2,187.4 185.8,215.9 186,230.4 186.6,238.3 187.6,243.3 190,242.4 192.5,240.5 195.7,238.3 197.5,239.1 199,239.8 200.5,237.2 202.2,234.5 203.5,236.3 205,239.6 206.5,242.4 208.2,244.1 210,242.4 212,240 213.5,238.6 215,240.6 216.3,241.4 217.7,241.1 220.4,242.2 225,242.3 229,242.2 234.5,241.4 236.6,234.1 238.6,228 239.8,228 241,228.3 243.7,214 245.3,208.7 246.5,202.5 247.6,202.5 248.5,202.5 249.1,208.7 250.2,227.7 251.3,239.7 254.5,241.6 258.3,241 260,239.7 261.5,238.4 263,239.9 265,241.6 266.8,239.9 268.2,238.7 269.5,240.4 270.7,243.3 273.4,244.2 284.3,244.4 285.4,233 287,223 288,223 288.8,223 289.6,223 290.6,227 291.6,228.9 293.4,224 294.4,227 295.3,230.9 296,239.2 299.3,243.9 305,244.1 307,243.3 311,244.1 323,244.1 326,243.1 328.5,242.6 331.8,243.9 336.7,244.2 339.4,242.1 341.5,238.2 343.7,234.2 345.9,234.8 348.6,232.5 350.5,231.4 351.8,233.6 353.4,237 355.5,238.5 357.8,239.6 359.5,237.3 360.5,224.3 361.6,216.9 363.2,219.6 364.5,222.6 366.5,226.2 368,222.6 369.6,216 371,209.6 372.2,210.6 373.4,212.4 374.5,217.8 376,227.4 377.5,234.8 379,237.9 381.5,239.5 384,240.5 387,240.5 390,239.8 392,237.9 394,235.8 395.6,232.7 396.5,218.1 396.9,212.9 397.2,206 397.6,184.1 398.7,107.1 399.7,104.5 400.5,104.5 401.2,104.5 402.1,141.6 402.2,146.4 402.8,178.8 403.4,206.1 403.8,215.7 404.6,226 406,239.2 407.4,241.3 408.4,236.2 409.5,229.2 410.8,230.3 412,231.5 414,231.7 416.6,230.6 418,231.1 419,232 420,235.8 421,236.1 422.6,236.5 424.6,236.2 426,237.5 428.2,240.5 430.5,241.6 432.6,242.3 435,241.1 437.4,243.1 441.2,241.7 445.6,240.8 447.2,236.8 448.6,234.9 450.4,236.8 452.6,233.7 454.8,233.3 457.5,234.9 460.2,238.7 462.3,243.1 465,243.8 468.3,244 473.7,244 477.5,242.7 481.3,244.3 483,243.6 485,238.9 487.2,241 489.7,243.1 492.1,241 495.9,242.3 498.1,238.9 499.1,233.5 500,225.5 501.1,218.1 502.2,221.7 503,224.1 504.6,226.7 505.8,227.4 507,229.9 508,232.7 510,236.1 511.5,238.5 512.9,242.8 514.5,243.5 521,243.3 523,242.1 524.5,233.5 526.2,226.8 527.8,233.5 529.6,238.9 531.2,231.7 532.9,226 534.5,232.8 536,238.5 537.5,241.7 539,239.3 540.5,230.7 542.2,224.5 543.2,228.2 544.3,233.1 545.5,225.7 546.8,221.4 548.2,224.3 549.9,228.7 551.6,233.7 553.5,236.2 555.5,238.2 558,239.2 560.1,238.5 561.5,230.4 562.8,226.3 564.5,227.5 566.9,229.4 568.6,225.6 570.4,222.6 571.8,220.6 573.4,224.5 575,227.5 576.5,227.4 578.3,225.4 579.5,229.2 580.3,234.3 581.6,239.6 583,242.5 584.9,244.2 587.6,242.6 593,243.4 597.3,244.2 599.5,243.4 603.8,244.1 606,242.7 608.4,241.1 610.5,241.7 613.5,242.6 616.8,244.2 621.7,244.5 623.3,238.1 624.4,235.5 626.5,236.5 628.7,241.7 630.5,243.4 633,244.2 635.7,241.7 639,243.3 641.7,241.5 644.4,238.1 647.1,234.9 649.3,230.6 651.4,233.7 654.1,238.7 656.3,239.1 657.6,231.8 658.2,227.1 658.6,220.3 659.4,189.5 660.2,147.6 660.5,142.4 660.8,137 661.3,137 663.1,144.6 664.4,163.3 665.6,181.8 666.9,214.5 667.4,220.3 667.9,232.9 668.3,220.3 668.9,209.4 669.3,195.7 669.7,178.8 670,164.4 670.2,153.6 672,146.5 672.3,154.6 672.8,173.8 673.3,194.4 673.8,214.4 674.2,221.9 675,227.9 676.2,235.2 677,237.7 678.4,238.7 681.4,235.9 683,240.5 684.6,243.3 687.9,243.8 690.5,243.6 693.3,242.9 695.5,242.1 697.4,241.3 699.2,242.4 702.8,242.5" fill="none" stroke="#bfe5a0" stroke-width="2.08" stroke-linejoin="round"/>
<polygon points="137.2,241.4 145,241.3 151,241.5 153,241.8 156.3,241.8 156.8,232.4 157.1,216 157.7,173.8 158.3,166.5 158.7,166.5 159.4,166.5 160.6,166.5 161.6,171.8 163.1,171.8 164.4,173.8 165.6,173.8 167,172.5 168.1,171.2 168.9,189.3 169.6,199 170,204.5 170.4,210.1 171,218.4 171.6,226.8 172.2,235.2 173.3,237.8 175,239.3 177.4,238.4 178.6,239.3 179.5,232.4 179.8,219.2 180.3,204.5 181,174.8 182,171.5 183,171.5 183.9,171.5 184.3,171.5 184.6,172.9 185.2,187 185.8,214.9 186,229.9 186.6,238.1 187.6,243.1 190,241.9 192.5,239.7 195.7,237.1 197.5,238 199,238.9 200.5,235.7 202.2,232.5 203.5,234.6 205,238.6 206.5,241.9 208.2,244 210,241.9 212,239.1 213.5,237.4 215,239.9 216.3,240.8 217.7,240.4 220.4,241.7 225,241.8 229,241.7 234.5,240.8 236.6,233.7 238.6,225.5 239.8,225.5 241,225.9 243.7,213.1 245.3,206.1 246.5,197.8 247.6,197.8 248.5,197.8 249.1,206.1 250.2,227.6 251.3,238.8 254.5,241 258.3,240.4 260,238.8 261.5,237.2 263,239.1 265,241 266.8,239.1 268.2,237.6 269.5,239.6 270.7,243.1 273.4,244.2 284.3,244.4 285.4,232.9 287,220.2 288,220.2 288.8,220.2 289.6,220.2 290.6,225.5 291.6,228.1 293.4,221.5 294.4,225.5 295.3,230.7 296,239.2 299.3,243.8 305,244.1 307,243.3 311,244.1 323,244.1 326,243 328.5,242.5 331.8,243.8 336.7,244.2 339.4,241.8 341.5,237.2 343.7,232.6 345.9,233.3 348.6,230.6 350.5,229.3 351.8,231.9 353.4,235.9 355.5,237.5 357.8,238.9 359.5,236.8 360.5,222.8 361.6,214.9 363.2,217.8 364.5,221 366.5,224.9 368,221 369.6,213.9 371,207.1 372.2,208.2 373.4,210.1 374.5,215.9 376,226.2 377.5,233.4 379,237 381.5,238.8 384,239.9 387,239.9 390,239.2 392,237 394,234.6 395.6,231 396.5,217.4 396.9,211.8 397.2,204.3 397.6,179.5 398.7,103 399.7,99.5 400.5,99.5 401.2,99.5 402.1,138.5 402.2,143.4 402.8,175.6 403.4,204.4 403.8,214.5 404.6,225.5 406,238.7 407.4,241 408.4,235.4 409.5,227.7 410.8,228.9 412,230.3 414,230.5 416.6,229.2 418,229.8 419,230.7 420,234.9 421,235.4 422.6,235.9 424.6,235.5 426,236.9 428.2,240.1 430.5,241.3 432.6,242.1 435,240.8 437.4,243 441.2,241.5 445.6,240.5 447.2,236 448.6,233.9 450.4,236 452.6,232.5 454.8,232.1 457.5,233.9 460.2,238.1 462.3,242.9 465,243.8 468.3,243.9 473.7,243.9 477.5,242.6 481.3,244.3 483,243.6 485,238.4 487.2,240.7 489.7,242.9 492.1,240.7 495.9,242.1 498.1,238.4 499.1,232.1 500,223.2 501.1,214.7 502.2,218.9 503,221.6 504.6,224.5 505.8,225.2 507,228 508,231.3 510,235.1 511.5,237.8 512.9,242.7 514.5,243.4 521,243.2 523,241.8 524.5,232.5 526.2,225.2 527.8,232.5 529.6,238.4 531.2,230.7 532.9,224.6 534.5,231.9 536,238.1 537.5,241.6 539,238.9 540.5,229.8 542.2,223.3 543.2,227.2 544.3,232.4 545.5,224.9 546.8,220.4 548.2,223.4 549.9,227.9 551.6,233.1 553.5,235.8 555.5,237.9 558,239 560.1,238 561.5,229.2 562.8,224.8 564.5,226.1 566.9,228.2 568.6,224.8 570.4,221.7 571.8,219.6 573.4,223.7 575,226.8 576.5,226.6 578.3,224.5 579.5,228.5 580.3,233.8 581.6,239.4 583,242.4 584.9,244.2 587.6,242.5 593,243.3 597.3,244.2 599.5,243.3 603.8,244 606,242.6 608.4,241 610.5,241.6 613.5,242.5 616.8,244.2 621.7,244.5 623.3,237.9 624.4,235.2 626.5,236.2 628.7,241.6 630.5,243.4 633,244.2 635.7,241.6 639,243.3 641.7,241.4 644.4,237.5 647.1,234 649.3,229.3 651.4,232.7 654.1,238.2 656.3,238.5 657.6,231.4 658.2,226.1 658.6,218.7 659.4,185.2 660.2,144.9 660.5,138.4 660.8,131.2 661.3,131.2 663.1,141.4 664.4,161.7 665.6,180.4 666.9,211.9 667.4,219.2 667.9,232.4 668.3,219.2 668.9,207.1 669.3,193.3 669.7,175.5 670,161.1 670.2,149.8 672,143.2 672.3,151.7 672.8,171.1 673.3,191.3 673.8,212.9 674.2,220.8 675,227.6 676.2,235.1 677,237.6 678.4,238.6 681.4,235.8 683,240.5 684.6,243.3 687.9,243.8 690.5,243.4 693.3,242.6 695.5,241.7 697.4,240.8 699.2,242.1 702.8,242.2 702.8,242.5 699.2,242.4 697.4,241.3 695.5,242.1 693.3,242.9 690.5,243.6 687.9,243.8 684.6,243.3 683,240.5 681.4,235.9 678.4,238.7 677,237.7 676.2,235.2 675,227.9 674.2,221.9 673.8,214.4 673.3,194.4 672.8,173.8 672.3,154.6 672,146.5 670.2,153.6 670,164.4 669.7,178.8 669.3,195.7 668.9,209.4 668.3,220.3 667.9,232.9 667.4,220.3 666.9,214.5 665.6,181.8 664.4,163.3 663.1,144.6 661.3,137 660.8,137 660.5,142.4 660.2,147.6 659.4,189.5 658.6,220.3 658.2,227.1 657.6,231.8 656.3,239.1 654.1,238.7 651.4,233.7 649.3,230.6 647.1,234.9 644.4,238.1 641.7,241.5 639,243.3 635.7,241.7 633,244.2 630.5,243.4 628.7,241.7 626.5,236.5 624.4,235.5 623.3,238.1 621.7,244.5 616.8,244.2 613.5,242.6 610.5,241.7 608.4,241.1 606,242.7 603.8,244.1 599.5,243.4 597.3,244.2 593,243.4 587.6,242.6 584.9,244.2 583,242.5 581.6,239.6 580.3,234.3 579.5,229.2 578.3,225.4 576.5,227.4 575,227.5 573.4,224.5 571.8,220.6 570.4,222.6 568.6,225.6 566.9,229.4 564.5,227.5 562.8,226.3 561.5,230.4 560.1,238.5 558,239.2 555.5,238.2 553.5,236.2 551.6,233.7 549.9,228.7 548.2,224.3 546.8,221.4 545.5,225.7 544.3,233.1 543.2,228.2 542.2,224.5 540.5,230.7 539,239.3 537.5,241.7 536,238.5 534.5,232.8 532.9,226 531.2,231.7 529.6,238.9 527.8,233.5 526.2,226.8 524.5,233.5 523,242.1 521,243.3 514.5,243.5 512.9,242.8 511.5,238.5 510,236.1 508,232.7 507,229.9 505.8,227.4 504.6,226.7 503,224.1 502.2,221.7 501.1,218.1 500,225.5 499.1,233.5 498.1,238.9 495.9,242.3 492.1,241 489.7,243.1 487.2,241 485,238.9 483,243.6 481.3,244.3 477.5,242.7 473.7,244 468.3,244 465,243.8 462.3,243.1 460.2,238.7 457.5,234.9 454.8,233.3 452.6,233.7 450.4,236.8 448.6,234.9 447.2,236.8 445.6,240.8 441.2,241.7 437.4,243.1 435,241.1 432.6,242.3 430.5,241.6 428.2,240.5 426,237.5 424.6,236.2 422.6,236.5 421,236.1 420,235.8 419,232 418,231.1 416.6,230.6 414,231.7 412,231.5 410.8,230.3 409.5,229.2 408.4,236.2 407.4,241.3 406,239.2 404.6,226 403.8,215.7 403.4,206.1 402.8,178.8 402.2,146.4 402.1,141.6 401.2,104.5 400.5,104.5 399.7,104.5 398.7,107.1 397.6,184.1 397.2,206 396.9,212.9 396.5,218.1 395.6,232.7 394,235.8 392,237.9 390,239.8 387,240.5 384,240.5 381.5,239.5 379,237.9 377.5,234.8 376,227.4 374.5,217.8 373.4,212.4 372.2,210.6 371,209.6 369.6,216 368,222.6 366.5,226.2 364.5,222.6 363.2,219.6 361.6,216.9 360.5,224.3 359.5,237.3 357.8,239.6 355.5,238.5 353.4,237 351.8,233.6 350.5,231.4 348.6,232.5 345.9,234.8 343.7,234.2 341.5,238.2 339.4,242.1 336.7,244.2 331.8,243.9 328.5,242.6 326,243.1 323,244.1 311,244.1 307,243.3 305,244.1 299.3,243.9 296,239.2 295.3,230.9 294.4,227 293.4,224 291.6,228.9 290.6,227 289.6,223 288.8,223 288,223 287,223 285.4,233 284.3,244.4 273.4,244.2 270.7,243.3 269.5,240.4 268.2,238.7 266.8,239.9 265,241.6 263,239.9 261.5,238.4 260,239.7 258.3,241 254.5,241.6 251.3,239.7 250.2,227.7 249.1,208.7 248.5,202.5 247.6,202.5 246.5,202.5 245.3,208.7 243.7,214 241,228.3 239.8,228 238.6,228 236.6,234.1 234.5,241.4 229,242.2 225,242.3 220.4,242.2 217.7,241.1 216.3,241.4 215,240.6 213.5,238.6 212,240 210,242.4 208.2,244.1 206.5,242.4 205,239.6 203.5,236.3 202.2,234.5 200.5,237.2 199,239.8 197.5,239.1 195.7,238.3 192.5,240.5 190,242.4 187.6,243.3 186.6,238.3 186,230.4 185.8,215.9 185.2,187.4 184.6,175 184.3,174 183.9,174 183,174 182,174 181,176.5 180.3,206.4 179.8,220.3 179.5,232.9 178.6,240 177.4,239.2 175,240 173.3,238.6 172.2,236.1 171.6,227.9 171,219.8 170.4,211.7 170,206.2 169.6,200.8 168.9,191.3 168.1,174.5 167,176 165.6,177.5 164.4,177.5 163.1,175 161.6,175 160.6,169.5 159.4,169.5 158.7,169.5 158.3,169.5 157.7,175 157.1,216.2 156.8,232.5 156.3,242 153,242 151,241.7 145,241.6 137.2,241.7" fill="#abdda4"/>
<polyline points="137.2,241.4 145,241.3 151,241.5 153,241.8 156.3,241.8 156.8,232.4 157.1,216 157.7,173.8 158.3,166.5 158.7,166.5 159.4,166.5 160.6,166.5 161.6,171.8 163.1,171.8 164.4,173.8 165.6,173.8 167,172.5 168.1,171.2 168.9,189.3 169.6,199 170,204.5 170.4,210.1 171,218.4 171.6,226.8 172.2,235.2 173.3,237.8 175,239.3 177.4,238.4 178.6,239.3 179.5,232.4 179.8,219.2 180.3,204.5 181,174.8 182,171.5 183,171.5 183.9,171.5 184.3,171.5 184.6,172.9 185.2,187 185.8,214.9 186,229.9 186.6,238.1 187.6,243.1 190,241.9 192.5,239.7 195.7,237.1 197.5,238 199,238.9 200.5,235.7 202.2,232.5 203.5,234.6 205,238.6 206.5,241.9 208.2,244 210,241.9 212,239.1 213.5,237.4 215,239.9 216.3,240.8 217.7,240.4 220.4,241.7 225,241.8 229,241.7 234.5,240.8 236.6,233.7 238.6,225.5 239.8,225.5 241,225.9 243.7,213.1 245.3,206.1 246.5,197.8 247.6,197.8 248.5,197.8 249.1,206.1 250.2,227.6 251.3,238.8 254.5,241 258.3,240.4 260,238.8 261.5,237.2 263,239.1 265,241 266.8,239.1 268.2,237.6 269.5,239.6 270.7,243.1 273.4,244.2 284.3,244.4 285.4,232.9 287,220.2 288,220.2 288.8,220.2 289.6,220.2 290.6,225.5 291.6,228.1 293.4,221.5 294.4,225.5 295.3,230.7 296,239.2 299.3,243.8 305,244.1 307,243.3 311,244.1 323,244.1 326,243 328.5,242.5 331.8,243.8 336.7,244.2 339.4,241.8 341.5,237.2 343.7,232.6 345.9,233.3 348.6,230.6 350.5,229.3 351.8,231.9 353.4,235.9 355.5,237.5 357.8,238.9 359.5,236.8 360.5,222.8 361.6,214.9 363.2,217.8 364.5,221 366.5,224.9 368,221 369.6,213.9 371,207.1 372.2,208.2 373.4,210.1 374.5,215.9 376,226.2 377.5,233.4 379,237 381.5,238.8 384,239.9 387,239.9 390,239.2 392,237 394,234.6 395.6,231 396.5,217.4 396.9,211.8 397.2,204.3 397.6,179.5 398.7,103 399.7,99.5 400.5,99.5 401.2,99.5 402.1,138.5 402.2,143.4 402.8,175.6 403.4,204.4 403.8,214.5 404.6,225.5 406,238.7 407.4,241 408.4,235.4 409.5,227.7 410.8,228.9 412,230.3 414,230.5 416.6,229.2 418,229.8 419,230.7 420,234.9 421,235.4 422.6,235.9 424.6,235.5 426,236.9 428.2,240.1 430.5,241.3 432.6,242.1 435,240.8 437.4,243 441.2,241.5 445.6,240.5 447.2,236 448.6,233.9 450.4,236 452.6,232.5 454.8,232.1 457.5,233.9 460.2,238.1 462.3,242.9 465,243.8 468.3,243.9 473.7,243.9 477.5,242.6 481.3,244.3 483,243.6 485,238.4 487.2,240.7 489.7,242.9 492.1,240.7 495.9,242.1 498.1,238.4 499.1,232.1 500,223.2 501.1,214.7 502.2,218.9 503,221.6 504.6,224.5 505.8,225.2 507,228 508,231.3 510,235.1 511.5,237.8 512.9,242.7 514.5,243.4 521,243.2 523,241.8 524.5,232.5 526.2,225.2 527.8,232.5 529.6,238.4 531.2,230.7 532.9,224.6 534.5,231.9 536,238.1 537.5,241.6 539,238.9 540.5,229.8 542.2,223.3 543.2,227.2 544.3,232.4 545.5,224.9 546.8,220.4 548.2,223.4 549.9,227.9 551.6,233.1 553.5,235.8 555.5,237.9 558,239 560.1,238 561.5,229.2 562.8,224.8 564.5,226.1 566.9,228.2 568.6,224.8 570.4,221.7 571.8,219.6 573.4,223.7 575,226.8 576.5,226.6 578.3,224.5 579.5,228.5 580.3,233.8 581.6,239.4 583,242.4 584.9,244.2 587.6,242.5 593,243.3 597.3,244.2 599.5,243.3 603.8,244 606,242.6 608.4,241 610.5,241.6 613.5,242.5 616.8,244.2 621.7,244.5 623.3,237.9 624.4,235.2 626.5,236.2 628.7,241.6 630.5,243.4 633,244.2 635.7,241.6 639,243.3 641.7,241.4 644.4,237.5 647.1,234 649.3,229.3 651.4,232.7 654.1,238.2 656.3,238.5 657.6,231.4 658.2,226.1 658.6,218.7 659.4,185.2 660.2,144.9 660.5,138.4 660.8,131.2 661.3,131.2 663.1,141.4 664.4,161.7 665.6,180.4 666.9,211.9 667.4,219.2 667.9,232.4 668.3,219.2 668.9,207.1 669.3,193.3 669.7,175.5 670,161.1 670.2,149.8 672,143.2 672.3,151.7 672.8,171.1 673.3,191.3 673.8,212.9 674.2,220.8 675,227.6 676.2,235.1 677,237.6 678.4,238.6 681.4,235.8 683,240.5 684.6,243.3 687.9,243.8 690.5,243.4 693.3,242.6 695.5,241.7 697.4,240.8 699.2,242.1 702.8,242.2" fill="none" stroke="#abdda4" stroke-width="2.08" stroke-linejoin="round"/>
<polygon points="137.2,241.2 145,241.1 151,241.2 153,241.6 156.3,241.6 156.8,232.3 157.1,215.8 157.7,172.7 158.3,163.5 158.7,163.5 159.4,163.5 160.6,163.5 161.6,168.7 163.1,168.7 164.4,170.2 165.6,170.2 167,169 168.1,167.8 168.9,187.2 169.6,197.2 170,202.9 170.4,208.6 171,217.1 171.6,225.7 172.2,234.3 173.3,236.9 175,238.6 177.4,237.6 178.6,238.6 179.5,231.8 179.8,218.1 180.3,202.7 181,173.2 182,169 183,169 183.9,169 184.3,169 184.6,170.7 185.2,186.6 185.8,213.9 186,229.4 186.6,237.9 187.6,242.8 190,241.5 192.5,238.9 195.7,235.8 197.5,236.9 199,237.9 200.5,234.2 202.2,230.4 203.5,232.9 205,237.5 206.5,241.5 208.2,243.9 210,241.5 212,238.2 213.5,236.2 215,239.1 216.3,240.2 217.7,239.7 220.4,241.2 225,241.4 229,241.2 234.5,240.1 236.6,233.2 238.6,223 239.8,223 241,223.5 243.7,212.3 245.3,203.5 246.5,193.2 247.6,193.2 248.5,193.2 249.1,203.5 250.2,227.5 251.3,237.9 254.5,240.4 258.3,239.7 260,237.8 261.5,236 263,238.2 265,240.4 266.8,238.2 268.2,236.5 269.5,238.8 270.7,242.8 273.4,244.2 284.3,244.3 285.4,232.8 287,217.3 288,217.3 288.8,217.3 289.6,217.3 290.6,224 291.6,227.2 293.4,219.1 294.4,224 295.3,230.5 296,239.1 299.3,243.8 305,244 307,243.2 311,244 323,244 326,243 328.5,242.4 331.8,243.8 336.7,244.2 339.4,241.4 341.5,236.2 343.7,231 345.9,231.8 348.6,228.7 350.5,227.3 351.8,230.3 353.4,234.7 355.5,236.6 357.8,238.1 359.5,236.3 360.5,221.4 361.6,212.9 363.2,216 364.5,219.4 366.5,223.6 368,219.4 369.6,211.9 371,204.6 372.2,205.7 373.4,207.8 374.5,213.9 376,224.9 377.5,232 379,236.1 381.5,238.1 384,239.3 387,239.3 390,238.5 392,236.1 394,233.4 395.6,229.3 396.5,216.6 396.9,210.8 397.2,202.6 397.6,174.9 398.7,98.8 399.7,94.5 400.5,94.5 401.2,94.5 402.1,135.4 402.2,140.3 402.8,172.3 403.4,202.6 403.8,213.3 404.6,225 406,238.1 407.4,240.7 408.4,234.6 409.5,226.1 410.8,227.5 412,229 414,229.2 416.6,227.9 418,228.5 419,229.5 420,234.1 421,234.7 422.6,235.2 424.6,234.8 426,236.3 428.2,239.8 430.5,241.1 432.6,242 435,240.5 437.4,242.9 441.2,241.2 445.6,240.2 447.2,235.2 448.6,232.9 450.4,235.2 452.6,231.4 454.8,231 457.5,232.9 460.2,237.5 462.3,242.8 465,243.7 468.3,243.9 473.7,243.9 477.5,242.4 481.3,244.2 483,243.5 485,237.9 487.2,240.4 489.7,242.8 492.1,240.4 495.9,241.9 498.1,237.9 499.1,230.8 500,220.8 501.1,211.4 502.2,216 503,219 504.6,222.3 505.8,223.1 507,226.2 508,229.8 510,234 511.5,237 512.9,242.6 514.5,243.3 521,243.2 523,241.6 524.5,231.5 526.2,223.6 527.8,231.5 529.6,237.9 531.2,229.7 532.9,223.2 534.5,231 536,237.6 537.5,241.4 539,238.6 540.5,228.9 542.2,222 543.2,226.2 544.3,231.7 545.5,224.1 546.8,219.5 548.2,222.6 549.9,227.2 551.6,232.6 553.5,235.4 555.5,237.6 558,238.8 560.1,237.4 561.5,228 562.8,223.3 564.5,224.7 566.9,226.9 568.6,224 570.4,220.8 571.8,218.6 573.4,222.8 575,226.1 576.5,225.8 578.3,223.6 579.5,227.8 580.3,233.3 581.6,239.1 583,242.3 584.9,244.2 587.6,242.5 593,243.3 597.3,244.2 599.5,243.3 603.8,244 606,242.5 608.4,240.8 610.5,241.5 613.5,242.5 616.8,244.2 621.7,244.5 623.3,237.7 624.4,234.9 626.5,236 628.7,241.5 630.5,243.3 633,244.2 635.7,241.5 639,243.3 641.7,241.3 644.4,236.9 647.1,233.1 649.3,228 651.4,231.6 654.1,237.6 656.3,238 657.6,230.9 658.2,225.1 658.6,217.1 659.4,180.8 660.2,142.2 660.5,134.3 660.8,125.3 661.3,125.3 663.1,138.1 664.4,160.1 665.6,178.9 666.9,209.3 667.4,218.1 667.9,231.8 668.3,218.1 668.9,204.8 669.3,191 669.7,172.3 670,157.7 670.2,145.9 672,139.8 672.3,148.9 672.8,168.3 673.3,188.3 673.8,211.4 674.2,219.6 675,227.4 676.2,235 677,237.5 678.4,238.5 681.4,235.7 683,240.4 684.6,243.3 687.9,243.8 690.5,243.3 693.3,242.3 695.5,241.3 697.4,240.2 699.2,241.7 702.8,241.9 702.8,242.2 699.2,242.1 697.4,240.8 695.5,241.7 693.3,242.6 690.5,243.4 687.9,243.8 684.6,243.3 683,240.5 681.4,235.8 678.4,238.6 677,237.6 676.2,235.1 675,227.6 674.2,220.8 673.8,212.9 673.3,191.3 672.8,171.1 672.3,151.7 672,143.2 670.2,149.8 670,161.1 669.7,175.5 669.3,193.3 668.9,207.1 668.3,219.2 667.9,232.4 667.4,219.2 666.9,211.9 665.6,180.4 664.4,161.7 663.1,141.4 661.3,131.2 660.8,131.2 660.5,138.4 660.2,144.9 659.4,185.2 658.6,218.7 658.2,226.1 657.6,231.4 656.3,238.5 654.1,238.2 651.4,232.7 649.3,229.3 647.1,234 644.4,237.5 641.7,241.4 639,243.3 635.7,241.6 633,244.2 630.5,243.4 628.7,241.6 626.5,236.2 624.4,235.2 623.3,237.9 621.7,244.5 616.8,244.2 613.5,242.5 610.5,241.6 608.4,241 606,242.6 603.8,244 599.5,243.3 597.3,244.2 593,243.3 587.6,242.5 584.9,244.2 583,242.4 581.6,239.4 580.3,233.8 579.5,228.5 578.3,224.5 576.5,226.6 575,226.8 573.4,223.7 571.8,219.6 570.4,221.7 568.6,224.8 566.9,228.2 564.5,226.1 562.8,224.8 561.5,229.2 560.1,238 558,239 555.5,237.9 553.5,235.8 551.6,233.1 549.9,227.9 548.2,223.4 546.8,220.4 545.5,224.9 544.3,232.4 543.2,227.2 542.2,223.3 540.5,229.8 539,238.9 537.5,241.6 536,238.1 534.5,231.9 532.9,224.6 531.2,230.7 529.6,238.4 527.8,232.5 526.2,225.2 524.5,232.5 523,241.8 521,243.2 514.5,243.4 512.9,242.7 511.5,237.8 510,235.1 508,231.3 507,228 505.8,225.2 504.6,224.5 503,221.6 502.2,218.9 501.1,214.7 500,223.2 499.1,232.1 498.1,238.4 495.9,242.1 492.1,240.7 489.7,242.9 487.2,240.7 485,238.4 483,243.6 481.3,244.3 477.5,242.6 473.7,243.9 468.3,243.9 465,243.8 462.3,242.9 460.2,238.1 457.5,233.9 454.8,232.1 452.6,232.5 450.4,236 448.6,233.9 447.2,236 445.6,240.5 441.2,241.5 437.4,243 435,240.8 432.6,242.1 430.5,241.3 428.2,240.1 426,236.9 424.6,235.5 422.6,235.9 421,235.4 420,234.9 419,230.7 418,229.8 416.6,229.2 414,230.5 412,230.3 410.8,228.9 409.5,227.7 408.4,235.4 407.4,241 406,238.7 404.6,225.5 403.8,214.5 403.4,204.4 402.8,175.6 402.2,143.4 402.1,138.5 401.2,99.5 400.5,99.5 399.7,99.5 398.7,103 397.6,179.5 397.2,204.3 396.9,211.8 396.5,217.4 395.6,231 394,234.6 392,237 390,239.2 387,239.9 384,239.9 381.5,238.8 379,237 377.5,233.4 376,226.2 374.5,215.9 373.4,210.1 372.2,208.2 371,207.1 369.6,213.9 368,221 366.5,224.9 364.5,221 363.2,217.8 361.6,214.9 360.5,222.8 359.5,236.8 357.8,238.9 355.5,237.5 353.4,235.9 351.8,231.9 350.5,229.3 348.6,230.6 345.9,233.3 343.7,232.6 341.5,237.2 339.4,241.8 336.7,244.2 331.8,243.8 328.5,242.5 326,243 323,244.1 311,244.1 307,243.3 305,244.1 299.3,243.8 296,239.2 295.3,230.7 294.4,225.5 293.4,221.5 291.6,228.1 290.6,225.5 289.6,220.2 288.8,220.2 288,220.2 287,220.2 285.4,232.9 284.3,244.4 273.4,244.2 270.7,243.1 269.5,239.6 268.2,237.6 266.8,239.1 265,241 263,239.1 261.5,237.2 260,238.8 258.3,240.4 254.5,241 251.3,238.8 250.2,227.6 249.1,206.1 248.5,197.8 247.6,197.8 246.5,197.8 245.3,206.1 243.7,213.1 241,225.9 239.8,225.5 238.6,225.5 236.6,233.7 234.5,240.8 229,241.7 225,241.8 220.4,241.7 217.7,240.4 216.3,240.8 215,239.9 213.5,237.4 212,239.1 210,241.9 208.2,244 206.5,241.9 205,238.6 203.5,234.6 202.2,232.5 200.5,235.7 199,238.9 197.5,238 195.7,237.1 192.5,239.7 190,241.9 187.6,243.1 186.6,238.1 186,229.9 185.8,214.9 185.2,187 184.6,172.9 184.3,171.5 183.9,171.5 183,171.5 182,171.5 181,174.8 180.3,204.5 179.8,219.2 179.5,232.4 178.6,239.3 177.4,238.4 175,239.3 173.3,237.8 172.2,235.2 171.6,226.8 171,218.4 170.4,210.1 170,204.5 169.6,199 168.9,189.3 168.1,171.2 167,172.5 165.6,173.8 164.4,173.8 163.1,171.8 161.6,171.8 160.6,166.5 159.4,166.5 158.7,166.5 158.3,166.5 157.7,173.8 157.1,216 156.8,232.4 156.3,241.8 153,241.8 151,241.5 145,241.3 137.2,241.4" fill="#94d4a4"/>
<polyline points="137.2,241.2 145,241.1 151,241.2 153,241.6 156.3,241.6 156.8,232.3 157.1,215.8 157.7,172.7 158.3,163.5 158.7,163.5 159.4,163.5 160.6,163.5 161.6,168.7 163.1,168.7 164.4,170.2 165.6,170.2 167,169 168.1,167.8 168.9,187.2 169.6,197.2 170,202.9 170.4,208.6 171,217.1 171.6,225.7 172.2,234.3 173.3,236.9 175,238.6 177.4,237.6 178.6,238.6 179.5,231.8 179.8,218.1 180.3,202.7 181,173.2 182,169 183,169 183.9,169 184.3,169 184.6,170.7 185.2,186.6 185.8,213.9 186,229.4 186.6,237.9 187.6,242.8 190,241.5 192.5,238.9 195.7,235.8 197.5,236.9 199,237.9 200.5,234.2 202.2,230.4 203.5,232.9 205,237.5 206.5,241.5 208.2,243.9 210,241.5 212,238.2 213.5,236.2 215,239.1 216.3,240.2 217.7,239.7 220.4,241.2 225,241.4 229,241.2 234.5,240.1 236.6,233.2 238.6,223 239.8,223 241,223.5 243.7,212.3 245.3,203.5 246.5,193.2 247.6,193.2 248.5,193.2 249.1,203.5 250.2,227.5 251.3,237.9 254.5,240.4 258.3,239.7 260,237.8 261.5,236 263,238.2 265,240.4 266.8,238.2 268.2,236.5 269.5,238.8 270.7,242.8 273.4,244.2 284.3,244.3 285.4,232.8 287,217.3 288,217.3 288.8,217.3 289.6,217.3 290.6,224 291.6,227.2 293.4,219.1 294.4,224 295.3,230.5 296,239.1 299.3,243.8 305,244 307,243.2 311,244 323,244 326,243 328.5,242.4 331.8,243.8 336.7,244.2 339.4,241.4 341.5,236.2 343.7,231 345.9,231.8 348.6,228.7 350.5,227.3 351.8,230.3 353.4,234.7 355.5,236.6 357.8,238.1 359.5,236.3 360.5,221.4 361.6,212.9 363.2,216 364.5,219.4 366.5,223.6 368,219.4 369.6,211.9 371,204.6 372.2,205.7 373.4,207.8 374.5,213.9 376,224.9 377.5,232 379,236.1 381.5,238.1 384,239.3 387,239.3 390,238.5 392,236.1 394,233.4 395.6,229.3 396.5,216.6 396.9,210.8 397.2,202.6 397.6,174.9 398.7,98.8 399.7,94.5 400.5,94.5 401.2,94.5 402.1,135.4 402.2,140.3 402.8,172.3 403.4,202.6 403.8,213.3 404.6,225 406,238.1 407.4,240.7 408.4,234.6 409.5,226.1 410.8,227.5 412,229 414,229.2 416.6,227.9 418,228.5 419,229.5 420,234.1 421,234.7 422.6,235.2 424.6,234.8 426,236.3 428.2,239.8 430.5,241.1 432.6,242 435,240.5 437.4,242.9 441.2,241.2 445.6,240.2 447.2,235.2 448.6,232.9 450.4,235.2 452.6,231.4 454.8,231 457.5,232.9 460.2,237.5 462.3,242.8 465,243.7 468.3,243.9 473.7,243.9 477.5,242.4 481.3,244.2 483,243.5 485,237.9 487.2,240.4 489.7,242.8 492.1,240.4 495.9,241.9 498.1,237.9 499.1,230.8 500,220.8 501.1,211.4 502.2,216 503,219 504.6,222.3 505.8,223.1 507,226.2 508,229.8 510,234 511.5,237 512.9,242.6 514.5,243.3 521,243.2 523,241.6 524.5,231.5 526.2,223.6 527.8,231.5 529.6,237.9 531.2,229.7 532.9,223.2 534.5,231 536,237.6 537.5,241.4 539,238.6 540.5,228.9 542.2,222 543.2,226.2 544.3,231.7 545.5,224.1 546.8,219.5 548.2,222.6 549.9,227.2 551.6,232.6 553.5,235.4 555.5,237.6 558,238.8 560.1,237.4 561.5,228 562.8,223.3 564.5,224.7 566.9,226.9 568.6,224 570.4,220.8 571.8,218.6 573.4,222.8 575,226.1 576.5,225.8 578.3,223.6 579.5,227.8 580.3,233.3 581.6,239.1 583,242.3 584.9,244.2 587.6,242.5 593,243.3 597.3,244.2 599.5,243.3 603.8,244 606,242.5 608.4,240.8 610.5,241.5 613.5,242.5 616.8,244.2 621.7,244.5 623.3,237.7 624.4,234.9 626.5,236 628.7,241.5 630.5,243.3 633,244.2 635.7,241.5 639,243.3 641.7,241.3 644.4,236.9 647.1,233.1 649.3,228 651.4,231.6 654.1,237.6 656.3,238 657.6,230.9 658.2,225.1 658.6,217.1 659.4,180.8 660.2,142.2 660.5,134.3 660.8,125.3 661.3,125.3 663.1,138.1 664.4,160.1 665.6,178.9 666.9,209.3 667.4,218.1 667.9,231.8 668.3,218.1 668.9,204.8 669.3,191 669.7,172.3 670,157.7 670.2,145.9 672,139.8 672.3,148.9 672.8,168.3 673.3,188.3 673.8,211.4 674.2,219.6 675,227.4 676.2,235 677,237.5 678.4,238.5 681.4,235.7 683,240.4 684.6,243.3 687.9,243.8 690.5,243.3 693.3,242.3 695.5,241.3 697.4,240.2 699.2,241.7 702.8,241.9" fill="none" stroke="#94d4a4" stroke-width="2.08" stroke-linejoin="round"/>
<polygon points="137.2,240.9 145,240.8 151,241 153,241.4 156.3,241.4 156.8,232.2 157.1,215.6 157.7,171.5 158.3,160.5 158.7,160.5 159.4,160.5 160.6,160.5 161.6,165.5 163.1,165.5 164.4,166.5 165.6,166.5 167,165.5 168.1,164.5 168.9,185.2 169.6,195.4 170,201.2 170.4,207.1 171,215.8 171.6,224.6 172.2,233.4 173.3,236 175,238 177.4,236.8 178.6,238 179.5,231.3 179.8,216.9 180.3,200.9 181,171.5 182,166.5 183,166.5 183.9,166.5 184.3,166.5 184.6,168.6 185.2,186.2 185.8,212.9 186,228.9 186.6,237.7 187.6,242.6 190,241.1 192.5,238 195.7,234.5 197.5,235.8 199,237 200.5,232.7 202.2,228.4 203.5,231.2 205,236.5 206.5,241.1 208.2,243.8 210,241.1 212,237.3 213.5,235 215,238.3 216.3,239.6 217.7,239 220.4,240.7 225,240.9 229,240.7 234.5,239.5 236.6,232.7 238.6,220.5 239.8,220.5 241,221.1 243.7,211.5 245.3,200.9 246.5,188.5 247.6,188.5 248.5,188.5 249.1,200.9 250.2,227.3 251.3,237 254.5,239.9 258.3,239 260,236.9 261.5,234.8 263,237.3 265,239.9 266.8,237.3 268.2,235.4 269.5,238 270.7,242.6 273.4,244.2 284.3,244.3 285.4,232.7 287,214.5 288,214.5 288.8,214.5 289.6,214.5 290.6,222.4 291.6,226.4 293.4,216.6 294.4,222.4 295.3,230.3 296,239.1 299.3,243.8 305,244 307,243.1 311,244 323,244 326,242.9 328.5,242.3 331.8,243.8 336.7,244.2 339.4,241 341.5,235.3 343.7,229.4 345.9,230.3 348.6,226.9 350.5,225.2 351.8,228.6 353.4,233.6 355.5,235.6 357.8,237.3 359.5,235.7 360.5,219.9 361.6,210.9 363.2,214.2 364.5,217.9 366.5,222.2 368,217.9 369.6,209.8 371,202.1 372.2,203.3 373.4,205.4 374.5,212 376,223.7 377.5,230.6 379,235.1 381.5,237.4 384,238.7 387,238.7 390,237.8 392,235.1 394,232.1 395.6,227.6 396.5,215.9 396.9,209.7 397.2,200.9 397.6,170.3 398.7,94.7 399.7,89.5 400.5,89.5 401.2,89.5 402.1,132.3 402.2,137.2 402.8,169 403.4,200.9 403.8,212 404.6,224.6 406,237.6 407.4,240.4 408.4,233.8 409.5,224.6 410.8,226.1 412,227.7 414,227.9 416.6,226.5 418,227.2 419,228.3 420,233.2 421,234 422.6,234.6 424.6,234.1 426,235.8 428.2,239.5 430.5,240.9 432.6,241.8 435,240.2 437.4,242.8 441.2,241 445.6,239.9 447.2,234.4 448.6,231.9 450.4,234.4 452.6,230.3 454.8,229.8 457.5,231.9 460.2,236.9 462.3,242.7 465,243.6 468.3,243.9 473.7,243.9 477.5,242.3 481.3,244.2 483,243.4 485,237.4 487.2,240.1 489.7,242.7 492.1,240.1 495.9,241.7 498.1,237.4 499.1,229.4 500,218.4 501.1,208.1 502.2,213.2 503,216.4 504.6,220.1 505.8,220.9 507,224.4 508,228.3 510,232.9 511.5,236.2 512.9,242.4 514.5,243.2 521,243.1 523,241.4 524.5,230.6 526.2,222.1 527.8,230.6 529.6,237.4 531.2,228.8 532.9,221.8 534.5,230.2 536,237.2 537.5,241.2 539,238.3 540.5,228.1 542.2,220.8 543.2,225.2 544.3,231 545.5,223.3 546.8,218.5 548.2,221.7 549.9,226.4 551.6,232.1 553.5,235 555.5,237.3 558,238.5 560.1,236.9 561.5,226.9 562.8,221.7 564.5,223.3 566.9,225.6 568.6,223.2 570.4,219.8 571.8,217.6 573.4,222 575,225.4 576.5,224.9 578.3,222.7 579.5,227.1 580.3,232.9 581.6,238.9 583,242.2 584.9,244.2 587.6,242.4 593,243.2 597.3,244.2 599.5,243.2 603.8,244 606,242.5 608.4,240.7 610.5,241.4 613.5,242.4 616.8,244.2 621.7,244.5 623.3,237.5 624.4,234.6 626.5,235.7 628.7,241.4 630.5,243.3 633,244.2 635.7,241.4 639,243.2 641.7,241.2 644.4,236.2 647.1,232.2 649.3,226.7 651.4,230.6 654.1,237.1 656.3,237.5 657.6,230.5 658.2,224.1 658.6,215.6 659.4,176.4 660.2,139.5 660.5,130.3 660.8,119.5 661.3,119.5 663.1,134.8 664.4,158.4 665.6,177.5 666.9,206.8 667.4,216.9 667.9,231.3 668.3,216.9 668.9,202.5 669.3,188.6 669.7,169 670,154.3 670.2,142.1 672,136.5 672.3,146 672.8,165.6 673.3,185.2 673.8,210 674.2,218.5 675,227.2 676.2,234.8 677,237.4 678.4,238.4 681.4,235.6 683,240.4 684.6,243.2 687.9,243.7 690.5,243.1 693.3,242 695.5,240.9 697.4,239.6 699.2,241.3 702.8,241.5 702.8,241.9 699.2,241.7 697.4,240.2 695.5,241.3 693.3,242.3 690.5,243.3 687.9,243.8 684.6,243.3 683,240.4 681.4,235.7 678.4,238.5 677,237.5 676.2,235 675,227.4 674.2,219.6 673.8,211.4 673.3,188.3 672.8,168.3 672.3,148.9 672,139.8 670.2,145.9 670,157.7 669.7,172.3 669.3,191 668.9,204.8 668.3,218.1 667.9,231.8 667.4,218.1 666.9,209.3 665.6,178.9 664.4,160.1 663.1,138.1 661.3,125.3 660.8,125.3 660.5,134.3 660.2,142.2 659.4,180.8 658.6,217.1 658.2,225.1 657.6,230.9 656.3,238 654.1,237.6 651.4,231.6 649.3,228 647.1,233.1 644.4,236.9 641.7,241.3 639,243.3 635.7,241.5 633,244.2 630.5,243.3 628.7,241.5 626.5,236 624.4,234.9 623.3,237.7 621.7,244.5 616.8,244.2 613.5,242.5 610.5,241.5 608.4,240.8 606,242.5 603.8,244 599.5,243.3 597.3,244.2 593,243.3 587.6,242.5 584.9,244.2 583,242.3 581.6,239.1 580.3,233.3 579.5,227.8 578.3,223.6 576.5,225.8 575,226.1 573.4,222.8 571.8,218.6 570.4,220.8 568.6,224 566.9,226.9 564.5,224.7 562.8,223.3 561.5,228 560.1,237.4 558,238.8 555.5,237.6 553.5,235.4 551.6,232.6 549.9,227.2 548.2,222.6 546.8,219.5 545.5,224.1 544.3,231.7 543.2,226.2 542.2,222 540.5,228.9 539,238.6 537.5,241.4 536,237.6 534.5,231 532.9,223.2 531.2,229.7 529.6,237.9 527.8,231.5 526.2,223.6 524.5,231.5 523,241.6 521,243.2 514.5,243.3 512.9,242.6 511.5,237 510,234 508,229.8 507,226.2 505.8,223.1 504.6,222.3 503,219 502.2,216 501.1,211.4 500,220.8 499.1,230.8 498.1,237.9 495.9,241.9 492.1,240.4 489.7,242.8 487.2,240.4 485,237.9 483,243.5 481.3,244.2 477.5,242.4 473.7,243.9 468.3,243.9 465,243.7 462.3,242.8 460.2,237.5 457.5,232.9 454.8,231 452.6,231.4 450.4,235.2 448.6,232.9 447.2,235.2 445.6,240.2 441.2,241.2 437.4,242.9 435,240.5 432.6,242 430.5,241.1 428.2,239.8 426,236.3 424.6,234.8 422.6,235.2 421,234.7 420,234.1 419,229.5 418,228.5 416.6,227.9 414,229.2 412,229 410.8,227.5 409.5,226.1 408.4,234.6 407.4,240.7 406,238.1 404.6,225 403.8,213.3 403.4,202.6 402.8,172.3 402.2,140.3 402.1,135.4 401.2,94.5 400.5,94.5 399.7,94.5 398.7,98.8 397.6,174.9 397.2,202.6 396.9,210.8 396.5,216.6 395.6,229.3 394,233.4 392,236.1 390,238.5 387,239.3 384,239.3 381.5,238.1 379,236.1 377.5,232 376,224.9 374.5,213.9 373.4,207.8 372.2,205.7 371,204.6 369.6,211.9 368,219.4 366.5,223.6 364.5,219.4 363.2,216 361.6,212.9 360.5,221.4 359.5,236.3 357.8,238.1 355.5,236.6 353.4,234.7 351.8,230.3 350.5,227.3 348.6,228.7 345.9,231.8 343.7,231 341.5,236.2 339.4,241.4 336.7,244.2 331.8,243.8 328.5,242.4 326,243 323,244 311,244 307,243.2 305,244 299.3,243.8 296,239.1 295.3,230.5 294.4,224 293.4,219.1 291.6,227.2 290.6,224 289.6,217.3 288.8,217.3 288,217.3 287,217.3 285.4,232.8 284.3,244.3 273.4,244.2 270.7,242.8 269.5,238.8 268.2,236.5 266.8,238.2 265,240.4 263,238.2 261.5,236 260,237.8 258.3,239.7 254.5,240.4 251.3,237.9 250.2,227.5 249.1,203.5 248.5,193.2 247.6,193.2 246.5,193.2 245.3,203.5 243.7,212.3 241,223.5 239.8,223 238.6,223 236.6,233.2 234.5,240.1 229,241.2 225,241.4 220.4,241.2 217.7,239.7 216.3,240.2 215,239.1 213.5,236.2 212,238.2 210,241.5 208.2,243.9 206.5,241.5 205,237.5 203.5,232.9 202.2,230.4 200.5,234.2 199,237.9 197.5,236.9 195.7,235.8 192.5,238.9 190,241.5 187.6,242.8 186.6,237.9 186,229.4 185.8,213.9 185.2,186.6 184.6,170.7 184.3,169 183.9,169 183,169 182,169 181,173.2 180.3,202.7 179.8,218.1 179.5,231.8 178.6,238.6 177.4,237.6 175,238.6 173.3,236.9 172.2,234.3 171.6,225.7 171,217.1 170.4,208.6 170,202.9 169.6,197.2 168.9,187.2 168.1,167.8 167,169 165.6,170.2 164.4,170.2 163.1,168.7 161.6,168.7 160.6,163.5 159.4,163.5 158.7,163.5 158.3,163.5 157.7,172.7 157.1,215.8 156.8,232.3 156.3,241.6 153,241.6 151,241.2 145,241.1 137.2,241.2" fill="#7dcba5"/>
<polyline points="137.2,240.9 145,240.8 151,241 153,241.4 156.3,241.4 156.8,232.2 157.1,215.6 157.7,171.5 158.3,160.5 158.7,160.5 159.4,160.5 160.6,160.5 161.6,165.5 163.1,165.5 164.4,166.5 165.6,166.5 167,165.5 168.1,164.5 168.9,185.2 169.6,195.4 170,201.2 170.4,207.1 171,215.8 171.6,224.6 172.2,233.4 173.3,236 175,238 177.4,236.8 178.6,238 179.5,231.3 179.8,216.9 180.3,200.9 181,171.5 182,166.5 183,166.5 183.9,166.5 184.3,166.5 184.6,168.6 185.2,186.2 185.8,212.9 186,228.9 186.6,237.7 187.6,242.6 190,241.1 192.5,238 195.7,234.5 197.5,235.8 199,237 200.5,232.7 202.2,228.4 203.5,231.2 205,236.5 206.5,241.1 208.2,243.8 210,241.1 212,237.3 213.5,235 215,238.3 216.3,239.6 217.7,239 220.4,240.7 225,240.9 229,240.7 234.5,239.5 236.6,232.7 238.6,220.5 239.8,220.5 241,221.1 243.7,211.5 245.3,200.9 246.5,188.5 247.6,188.5 248.5,188.5 249.1,200.9 250.2,227.3 251.3,237 254.5,239.9 258.3,239 260,236.9 261.5,234.8 263,237.3 265,239.9 266.8,237.3 268.2,235.4 269.5,238 270.7,242.6 273.4,244.2 284.3,244.3 285.4,232.7 287,214.5 288,214.5 288.8,214.5 289.6,214.5 290.6,222.4 291.6,226.4 293.4,216.6 294.4,222.4 295.3,230.3 296,239.1 299.3,243.8 305,244 307,243.1 311,244 323,244 326,242.9 328.5,242.3 331.8,243.8 336.7,244.2 339.4,241 341.5,235.3 343.7,229.4 345.9,230.3 348.6,226.9 350.5,225.2 351.8,228.6 353.4,233.6 355.5,235.6 357.8,237.3 359.5,235.7 360.5,219.9 361.6,210.9 363.2,214.2 364.5,217.9 366.5,222.2 368,217.9 369.6,209.8 371,202.1 372.2,203.3 373.4,205.4 374.5,212 376,223.7 377.5,230.6 379,235.1 381.5,237.4 384,238.7 387,238.7 390,237.8 392,235.1 394,232.1 395.6,227.6 396.5,215.9 396.9,209.7 397.2,200.9 397.6,170.3 398.7,94.7 399.7,89.5 400.5,89.5 401.2,89.5 402.1,132.3 402.2,137.2 402.8,169 403.4,200.9 403.8,212 404.6,224.6 406,237.6 407.4,240.4 408.4,233.8 409.5,224.6 410.8,226.1 412,227.7 414,227.9 416.6,226.5 418,227.2 419,228.3 420,233.2 421,234 422.6,234.6 424.6,234.1 426,235.8 428.2,239.5 430.5,240.9 432.6,241.8 435,240.2 437.4,242.8 441.2,241 445.6,239.9 447.2,234.4 448.6,231.9 450.4,234.4 452.6,230.3 454.8,229.8 457.5,231.9 460.2,236.9 462.3,242.7 465,243.6 468.3,243.9 473.7,243.9 477.5,242.3 481.3,244.2 483,243.4 485,237.4 487.2,240.1 489.7,242.7 492.1,240.1 495.9,241.7 498.1,237.4 499.1,229.4 500,218.4 501.1,208.1 502.2,213.2 503,216.4 504.6,220.1 505.8,220.9 507,224.4 508,228.3 510,232.9 511.5,236.2 512.9,242.4 514.5,243.2 521,243.1 523,241.4 524.5,230.6 526.2,222.1 527.8,230.6 529.6,237.4 531.2,228.8 532.9,221.8 534.5,230.2 536,237.2 537.5,241.2 539,238.3 540.5,228.1 542.2,220.8 543.2,225.2 544.3,231 545.5,223.3 546.8,218.5 548.2,221.7 549.9,226.4 551.6,232.1 553.5,235 555.5,237.3 558,238.5 560.1,236.9 561.5,226.9 562.8,221.7 564.5,223.3 566.9,225.6 568.6,223.2 570.4,219.8 571.8,217.6 573.4,222 575,225.4 576.5,224.9 578.3,222.7 579.5,227.1 580.3,232.9 581.6,238.9 583,242.2 584.9,244.2 587.6,242.4 593,243.2 597.3,244.2 599.5,243.2 603.8,244 606,242.5 608.4,240.7 610.5,241.4 613.5,242.4 616.8,244.2 621.7,244.5 623.3,237.5 624.4,234.6 626.5,235.7 628.7,241.4 630.5,243.3 633,244.2 635.7,241.4 639,243.2 641.7,241.2 644.4,236.2 647.1,232.2 649.3,226.7 651.4,230.6 654.1,237.1 656.3,237.5 657.6,230.5 658.2,224.1 658.6,215.6 659.4,176.4 660.2,139.5 660.5,130.3 660.8,119.5 661.3,119.5 663.1,134.8 664.4,158.4 665.6,177.5 666.9,206.8 667.4,216.9 667.9,231.3 668.3,216.9 668.9,202.5 669.3,188.6 669.7,169 670,154.3 670.2,142.1 672,136.5 672.3,146 672.8,165.6 673.3,185.2 673.8,210 674.2,218.5 675,227.2 676.2,234.8 677,237.4 678.4,238.4 681.4,235.6 683,240.4 684.6,243.2 687.9,243.7 690.5,243.1 693.3,242 695.5,240.9 697.4,239.6 699.2,241.3 702.8,241.5" fill="none" stroke="#7dcba5" stroke-width="2.08" stroke-linejoin="round"/>
<polygon points="137.2,240.7 145,240.6 151,240.8 153,241.2 156.3,241.2 156.8,232.2 157.1,215.6 157.7,171.4 158.3,158.6 158.7,157.1 159.4,157.9 160.6,158.6 161.6,162.9 163.1,163.7 164.4,163.6 165.6,162.9 167,161.4 168.1,160.3 168.9,177.8 169.6,187.7 170,194.3 170.4,201.8 171,213.7 171.6,223.1 172.2,232.4 173.3,235.7 175,237.7 177.4,236.5 178.6,237.7 179.5,230.9 179.8,216 180.3,199.4 181,171.3 182,164.7 183,164 183.9,163.6 184.3,164.7 184.6,168.3 185.2,186 185.8,211.8 186,228.4 186.6,237.5 187.6,242.5 190,240.9 192.5,237.8 195.7,234.1 197.5,235.4 199,236.7 200.5,232.2 202.2,227.7 203.5,230.6 205,236.2 206.5,240.9 208.2,243.8 210,240.9 212,237 213.5,234.6 215,238 216.3,239.4 217.7,238.8 220.4,240.5 225,240.8 229,240.5 234.5,239.3 236.6,232.7 238.6,219.4 239.8,219.8 241,221 243.7,211.4 245.3,200.8 246.5,187.4 247.6,185.6 248.5,188 249.1,200.8 250.2,227.3 251.3,236.7 254.5,239.7 258.3,238.8 260,236.6 261.5,234.4 263,237 265,239.7 266.8,237 268.2,235 269.5,237.8 270.7,242.5 273.4,244.2 284.3,244.3 285.4,232.7 287,214 288,212.6 288.8,210.8 289.6,213 290.6,222.4 291.6,226.3 293.4,216.5 294.4,222.4 295.3,230.3 296,239.1 299.3,243.8 305,244 307,243.1 311,244 323,244 326,242.8 328.5,242.3 331.8,243.8 336.7,244.2 339.4,240.9 341.5,234.9 343.7,228.8 345.9,229.7 348.6,226.2 350.5,224.5 351.8,227.9 353.4,233.1 355.5,235.3 357.8,237.1 359.5,235.3 360.5,218.7 361.6,209.3 363.2,212.7 364.5,216.5 366.5,221.1 368,216.5 369.6,208.1 371,200 372.2,201.2 373.4,203.5 374.5,210.4 376,222.7 377.5,230 379,234.7 381.5,237.1 384,238.5 387,238.5 390,237.5 392,234.7 394,231.6 395.6,226.9 396.5,215.5 396.9,208.7 397.2,199.3 397.6,165.2 398.7,93.3 399.7,86.6 400.5,84.6 401.2,86.6 402.1,129.2 402.2,135.5 402.8,167.1 403.4,199.3 403.8,211.3 404.6,224.3 406,236.9 407.4,239.9 408.4,232.6 409.5,222.5 410.8,224.1 412,225.9 414,226.1 416.6,224.6 418,225.3 419,226.5 420,232 421,233.4 422.6,234 424.6,233.5 426,235.2 428.2,239.2 430.5,240.7 432.6,241.6 435,240 437.4,242.7 441.2,240.8 445.6,239.6 447.2,234 448.6,231.4 450.4,234 452.6,229.7 454.8,229.2 457.5,231.4 460.2,236.6 462.3,242.6 465,243.6 468.3,243.8 473.7,243.8 477.5,242.2 481.3,244.2 483,243.4 485,237 487.2,239.9 489.7,242.6 492.1,239.9 495.9,241.5 498.1,237 499.1,228.3 500,216.6 501.1,205.6 502.2,211 503,214.5 504.6,218.4 505.8,219.3 507,223 508,227.2 510,232.2 511.5,235.7 512.9,242.4 514.5,243.2 521,243 523,241.1 524.5,229.4 526.2,220.2 527.8,229.4 529.6,236.8 531.2,227.8 532.9,220.4 534.5,229.3 536,236.7 537.5,241.1 539,238 540.5,227.3 542.2,219.6 543.2,224.2 544.3,230.3 545.5,222.6 546.8,217.6 548.2,220.9 549.9,225.8 551.6,231.7 553.5,234.7 555.5,237.1 558,238.3 560.1,236.5 561.5,225.9 562.8,220.6 564.5,222.2 566.9,224.7 568.6,222.8 570.4,219.3 571.8,217 573.4,221.4 575,224.9 576.5,224.5 578.3,222.1 579.5,226.7 580.3,232.6 581.6,238.8 583,242.2 584.9,244.2 587.6,242.3 593,243.2 597.3,244.2 599.5,243.2 603.8,244 606,242.4 608.4,240.6 610.5,241.3 613.5,242.3 616.8,244.2 621.7,244.5 623.3,237.2 624.4,234.2 626.5,235.4 628.7,241.3 630.5,243.3 633,244.2 635.7,241.4 639,243.2 641.7,241.1 644.4,235.9 647.1,231.7 649.3,225.9 651.4,230 654.1,236.7 656.3,237.2 657.6,230.3 658.2,223.2 658.6,214 659.4,173.8 660.2,138.1 660.5,126.3 660.8,114.1 661.3,116.5 663.1,133.8 664.4,157.6 665.6,176.8 666.9,205.1 667.4,216 667.9,230.9 668.3,216 668.9,201.3 669.3,186.8 669.7,167.1 670,151.9 670.2,139.8 672,134.7 672.3,144.4 672.8,164 673.3,183.7 673.8,208 674.2,217.9 675,227 676.2,234.7 677,237.3 678.4,238.4 681.4,235.5 683,240.3 684.6,243.2 687.9,243.7 690.5,243 693.3,241.9 695.5,240.6 697.4,239.3 699.2,241.1 702.8,241.3 702.8,241.5 699.2,241.3 697.4,239.6 695.5,240.9 693.3,242 690.5,243.1 687.9,243.7 684.6,243.2 683,240.4 681.4,235.6 678.4,238.4 677,237.4 676.2,234.8 675,227.2 674.2,218.5 673.8,210 673.3,185.2 672.8,165.6 672.3,146 672,136.5 670.2,142.1 670,154.3 669.7,169 669.3,188.6 668.9,202.5 668.3,216.9 667.9,231.3 667.4,216.9 666.9,206.8 665.6,177.5 664.4,158.4 663.1,134.8 661.3,119.5 660.8,119.5 660.5,130.3 660.2,139.5 659.4,176.4 658.6,215.6 658.2,224.1 657.6,230.5 656.3,237.5 654.1,237.1 651.4,230.6 649.3,226.7 647.1,232.2 644.4,236.2 641.7,241.2 639,243.2 635.7,241.4 633,244.2 630.5,243.3 628.7,241.4 626.5,235.7 624.4,234.6 623.3,237.5 621.7,244.5 616.8,244.2 613.5,242.4 610.5,241.4 608.4,240.7 606,242.5 603.8,244 599.5,243.2 597.3,244.2 593,243.2 587.6,242.4 584.9,244.2 583,242.2 581.6,238.9 580.3,232.9 579.5,227.1 578.3,222.7 576.5,224.9 575,225.4 573.4,222 571.8,217.6 570.4,219.8 568.6,223.2 566.9,225.6 564.5,223.3 562.8,221.7 561.5,226.9 560.1,236.9 558,238.5 555.5,237.3 553.5,235 551.6,232.1 549.9,226.4 548.2,221.7 546.8,218.5 545.5,223.3 544.3,231 543.2,225.2 542.2,220.8 540.5,228.1 539,238.3 537.5,241.2 536,237.2 534.5,230.2 532.9,221.8 531.2,228.8 529.6,237.4 527.8,230.6 526.2,222.1 524.5,230.6 523,241.4 521,243.1 514.5,243.2 512.9,242.4 511.5,236.2 510,232.9 508,228.3 507,224.4 505.8,220.9 504.6,220.1 503,216.4 502.2,213.2 501.1,208.1 500,218.4 499.1,229.4 498.1,237.4 495.9,241.7 492.1,240.1 489.7,242.7 487.2,240.1 485,237.4 483,243.4 481.3,244.2 477.5,242.3 473.7,243.9 468.3,243.9 465,243.6 462.3,242.7 460.2,236.9 457.5,231.9 454.8,229.8 452.6,230.3 450.4,234.4 448.6,231.9 447.2,234.4 445.6,239.9 441.2,241 437.4,242.8 435,240.2 432.6,241.8 430.5,240.9 428.2,239.5 426,235.8 424.6,234.1 422.6,234.6 421,234 420,233.2 419,228.3 418,227.2 416.6,226.5 414,227.9 412,227.7 410.8,226.1 409.5,224.6 408.4,233.8 407.4,240.4 406,237.6 404.6,224.6 403.8,212 403.4,200.9 402.8,169 402.2,137.2 402.1,132.3 401.2,89.5 400.5,89.5 399.7,89.5 398.7,94.7 397.6,170.3 397.2,200.9 396.9,209.7 396.5,215.9 395.6,227.6 394,232.1 392,235.1 390,237.8 387,238.7 384,238.7 381.5,237.4 379,235.1 377.5,230.6 376,223.7 374.5,212 373.4,205.4 372.2,203.3 371,202.1 369.6,209.8 368,217.9 366.5,222.2 364.5,217.9 363.2,214.2 361.6,210.9 360.5,219.9 359.5,235.7 357.8,237.3 355.5,235.6 353.4,233.6 351.8,228.6 350.5,225.2 348.6,226.9 345.9,230.3 343.7,229.4 341.5,235.3 339.4,241 336.7,244.2 331.8,243.8 328.5,242.3 326,242.9 323,244 311,244 307,243.1 305,244 299.3,243.8 296,239.1 295.3,230.3 294.4,222.4 293.4,216.6 291.6,226.4 290.6,222.4 289.6,214.5 288.8,214.5 288,214.5 287,214.5 285.4,232.7 284.3,244.3 273.4,244.2 270.7,242.6 269.5,238 268.2,235.4 266.8,237.3 265,239.9 263,237.3 261.5,234.8 260,236.9 258.3,239 254.5,239.9 251.3,237 250.2,227.3 249.1,200.9 248.5,188.5 247.6,188.5 246.5,188.5 245.3,200.9 243.7,211.5 241,221.1 239.8,220.5 238.6,220.5 236.6,232.7 234.5,239.5 229,240.7 225,240.9 220.4,240.7 217.7,239 216.3,239.6 215,238.3 213.5,235 212,237.3 210,241.1 208.2,243.8 206.5,241.1 205,236.5 203.5,231.2 202.2,228.4 200.5,232.7 199,237 197.5,235.8 195.7,234.5 192.5,238 190,241.1 187.6,242.6 186.6,237.7 186,228.9 185.8,212.9 185.2,186.2 184.6,168.6 184.3,166.5 183.9,166.5 183,166.5 182,166.5 181,171.5 180.3,200.9 179.8,216.9 179.5,231.3 178.6,238 177.4,236.8 175,238 173.3,236 172.2,233.4 171.6,224.6 171,215.8 170.4,207.1 170,201.2 169.6,195.4 168.9,185.2 168.1,164.5 167,165.5 165.6,166.5 164.4,166.5 163.1,165.5 161.6,165.5 160.6,160.5 159.4,160.5 158.7,160.5 158.3,160.5 157.7,171.5 157.1,215.6 156.8,232.2 156.3,241.4 153,241.4 151,241 145,240.8 137.2,240.9" fill="#66c2a5"/>
<polyline points="137.2,240.7 145,240.6 151,240.8 153,241.2 156.3,241.2 156.8,232.2 157.1,215.6 157.7,171.4 158.3,158.6 158.7,157.1 159.4,157.9 160.6,158.6 161.6,162.9 163.1,163.7 164.4,163.6 165.6,162.9 167,161.4 168.1,160.3 168.9,177.8 169.6,187.7 170,194.3 170.4,201.8 171,213.7 171.6,223.1 172.2,232.4 173.3,235.7 175,237.7 177.4,236.5 178.6,237.7 179.5,230.9 179.8,216 180.3,199.4 181,171.3 182,164.7 183,164 183.9,163.6 184.3,164.7 184.6,168.3 185.2,186 185.8,211.8 186,228.4 186.6,237.5 187.6,242.5 190,240.9 192.5,237.8 195.7,234.1 197.5,235.4 199,236.7 200.5,232.2 202.2,227.7 203.5,230.6 205,236.2 206.5,240.9 208.2,243.8 210,240.9 212,237 213.5,234.6 215,238 216.3,239.4 217.7,238.8 220.4,240.5 225,240.8 229,240.5 234.5,239.3 236.6,232.7 238.6,219.4 239.8,219.8 241,221 243.7,211.4 245.3,200.8 246.5,187.4 247.6,185.6 248.5,188 249.1,200.8 250.2,227.3 251.3,236.7 254.5,239.7 258.3,238.8 260,236.6 261.5,234.4 263,237 265,239.7 266.8,237 268.2,235 269.5,237.8 270.7,242.5 273.4,244.2 284.3,244.3 285.4,232.7 287,214 288,212.6 288.8,210.8 289.6,213 290.6,222.4 291.6,226.3 293.4,216.5 294.4,222.4 295.3,230.3 296,239.1 299.3,243.8 305,244 307,243.1 311,244 323,244 326,242.8 328.5,242.3 331.8,243.8 336.7,244.2 339.4,240.9 341.5,234.9 343.7,228.8 345.9,229.7 348.6,226.2 350.5,224.5 351.8,227.9 353.4,233.1 355.5,235.3 357.8,237.1 359.5,235.3 360.5,218.7 361.6,209.3 363.2,212.7 364.5,216.5 366.5,221.1 368,216.5 369.6,208.1 371,200 372.2,201.2 373.4,203.5 374.5,210.4 376,222.7 377.5,230 379,234.7 381.5,237.1 384,238.5 387,238.5 390,237.5 392,234.7 394,231.6 395.6,226.9 396.5,215.5 396.9,208.7 397.2,199.3 397.6,165.2 398.7,93.3 399.7,86.6 400.5,84.6 401.2,86.6 402.1,129.2 402.2,135.5 402.8,167.1 403.4,199.3 403.8,211.3 404.6,224.3 406,236.9 407.4,239.9 408.4,232.6 409.5,222.5 410.8,224.1 412,225.9 414,226.1 416.6,224.6 418,225.3 419,226.5 420,232 421,233.4 422.6,234 424.6,233.5 426,235.2 428.2,239.2 430.5,240.7 432.6,241.6 435,240 437.4,242.7 441.2,240.8 445.6,239.6 447.2,234 448.6,231.4 450.4,234 452.6,229.7 454.8,229.2 457.5,231.4 460.2,236.6 462.3,242.6 465,243.6 468.3,243.8 473.7,243.8 477.5,242.2 481.3,244.2 483,243.4 485,237 487.2,239.9 489.7,242.6 492.1,239.9 495.9,241.5 498.1,237 499.1,228.3 500,216.6 501.1,205.6 502.2,211 503,214.5 504.6,218.4 505.8,219.3 507,223 508,227.2 510,232.2 511.5,235.7 512.9,242.4 514.5,243.2 521,243 523,241.1 524.5,229.4 526.2,220.2 527.8,229.4 529.6,236.8 531.2,227.8 532.9,220.4 534.5,229.3 536,236.7 537.5,241.1 539,238 540.5,227.3 542.2,219.6 543.2,224.2 544.3,230.3 545.5,222.6 546.8,217.6 548.2,220.9 549.9,225.8 551.6,231.7 553.5,234.7 555.5,237.1 558,238.3 560.1,236.5 561.5,225.9 562.8,220.6 564.5,222.2 566.9,224.7 568.6,222.8 570.4,219.3 571.8,217 573.4,221.4 575,224.9 576.5,224.5 578.3,222.1 579.5,226.7 580.3,232.6 581.6,238.8 583,242.2 584.9,244.2 587.6,242.3 593,243.2 597.3,244.2 599.5,243.2 603.8,244 606,242.4 608.4,240.6 610.5,241.3 613.5,242.3 616.8,244.2 621.7,244.5 623.3,237.2 624.4,234.2 626.5,235.4 628.7,241.3 630.5,243.3 633,244.2 635.7,241.4 639,243.2 641.7,241.1 644.4,235.9 647.1,231.7 649.3,225.9 651.4,230 654.1,236.7 656.3,237.2 657.6,230.3 658.2,223.2 658.6,214 659.4,173.8 660.2,138.1 660.5,126.3 660.8,114.1 661.3,116.5 663.1,133.8 664.4,157.6 665.6,176.8 666.9,205.1 667.4,216 667.9,230.9 668.3,216 668.9,201.3 669.3,186.8 669.7,167.1 670,151.9 670.2,139.8 672,134.7 672.3,144.4 672.8,164 673.3,183.7 673.8,208 674.2,217.9 675,227 676.2,234.7 677,237.3 678.4,238.4 681.4,235.5 683,240.3 684.6,243.2 687.9,243.7 690.5,243 693.3,241.9 695.5,240.6 697.4,239.3 699.2,241.1 702.8,241.3" fill="none" stroke="#66c2a5" stroke-width="2.08" stroke-linejoin="round"/>
<polygon points="137.2,240.5 145,240.4 151,240.6 153,241.1 156.3,241.1 156.8,232.2 157.1,215.5 157.7,171.3 158.3,156.7 158.7,153.6 159.4,155.2 160.6,156.7 161.6,160.2 163.1,161.9 164.4,160.7 165.6,159.2 167,157.3 168.1,156 168.9,170.5 169.6,180 170,187.4 170.4,196.4 171,211.6 171.6,221.5 172.2,231.4 173.3,235.4 175,237.4 177.4,236.2 178.6,237.4 179.5,230.4 179.8,215.1 180.3,198 181,171.1 182,162.9 183,161.4 183.9,160.7 184.3,162.9 184.6,168.1 185.2,185.9 185.8,210.8 186,227.9 186.6,237.2 187.6,242.4 190,240.8 192.5,237.5 195.7,233.7 197.5,235 199,236.3 200.5,231.7 202.2,227 203.5,230.1 205,235.8 206.5,240.8 208.2,243.8 210,240.8 212,236.7 213.5,234.2 215,237.7 216.3,239.1 217.7,238.6 220.4,240.4 225,240.6 229,240.4 234.5,239.1 236.6,232.7 238.6,218.2 239.8,219 241,221 243.7,211.3 245.3,200.7 246.5,186.2 247.6,182.7 248.5,187.6 249.1,200.7 250.2,227.3 251.3,236.3 254.5,239.5 258.3,238.6 260,236.3 261.5,234 263,236.7 265,239.5 266.8,236.7 268.2,234.6 269.5,237.5 270.7,242.4 273.4,244.2 284.3,244.3 285.4,232.7 287,213.5 288,210.6 288.8,207.2 289.6,211.4 290.6,222.3 291.6,226.3 293.4,216.4 294.4,222.3 295.3,230.2 296,239.1 299.3,243.7 305,244 307,243 311,244 323,244 326,242.8 328.5,242.2 331.8,243.7 336.7,244.2 339.4,240.8 341.5,234.5 343.7,228.2 345.9,229.1 348.6,225.5 350.5,223.7 351.8,227.3 353.4,232.7 355.5,234.9 357.8,236.8 359.5,234.9 360.5,217.5 361.6,207.6 363.2,211.2 364.5,215.2 366.5,220 368,215.2 369.6,206.4 371,197.9 372.2,199.2 373.4,201.6 374.5,208.8 376,221.6 377.5,229.4 379,234.3 381.5,236.7 384,238.2 387,238.2 390,237.2 392,234.3 394,231 395.6,226.1 396.5,215.1 396.9,207.8 397.2,197.7 397.6,160.2 398.7,92 399.7,83.6 400.5,79.7 401.2,83.6 402.1,126.2 402.2,133.8 402.8,165.2 403.4,197.7 403.8,210.6 404.6,224 406,236.1 407.4,239.5 408.4,231.4 409.5,220.3 410.8,222.1 412,224.1 414,224.3 416.6,222.6 418,223.4 419,224.7 420,230.8 421,232.8 422.6,233.4 424.6,232.9 426,234.8 428.2,238.9 430.5,240.4 432.6,241.5 435,239.7 437.4,242.6 441.2,240.6 445.6,239.4 447.2,233.6 448.6,230.9 450.4,233.6 452.6,229.1 454.8,228.6 457.5,230.9 460.2,236.3 462.3,242.5 465,243.5 468.3,243.8 473.7,243.8 477.5,242 481.3,244.2 483,243.3 485,236.6 487.2,239.7 489.7,242.5 492.1,239.7 495.9,241.4 498.1,236.6 499.1,227.3 500,214.8 501.1,203.1 502.2,208.8 503,212.6 504.6,216.7 505.8,217.7 507,221.6 508,226.1 510,231.4 511.5,235.1 512.9,242.3 514.5,243.1 521,243 523,240.9 524.5,228.3 526.2,218.4 527.8,228.3 529.6,236.2 531.2,226.9 532.9,219.2 534.5,228.5 536,236.3 537.5,240.9 539,237.7 540.5,226.5 542.2,218.4 543.2,223.2 544.3,229.7 545.5,221.9 546.8,216.8 548.2,220.2 549.9,225.2 551.6,231.3 553.5,234.3 555.5,236.8 558,238.1 560.1,236.2 561.5,225 562.8,219.4 564.5,221.1 566.9,223.7 568.6,222.2 570.4,218.7 571.8,216.4 573.4,220.9 575,224.5 576.5,224 578.3,221.6 579.5,226.3 580.3,232.3 581.6,238.6 583,242.1 584.9,244.1 587.6,242.3 593,243.2 597.3,244.1 599.5,243.2 603.8,244 606,242.4 608.4,240.5 610.5,241.2 613.5,242.3 616.8,244.1 621.7,244.5 623.3,237 624.4,233.9 626.5,235.1 628.7,241.2 630.5,243.3 633,244.1 635.7,241.3 639,243.2 641.7,241 644.4,235.5 647.1,231.1 649.3,225.1 651.4,229.4 654.1,236.4 656.3,236.9 657.6,230 658.2,222.3 658.6,212.5 659.4,171.1 660.2,136.6 660.5,122.2 660.8,108.8 661.3,113.6 663.1,132.8 664.4,156.7 665.6,176 666.9,203.4 667.4,215.1 667.9,230.4 668.3,215.1 668.9,200 669.3,184.9 669.7,165.2 670,149.5 670.2,137.4 672,133 672.3,142.8 672.8,162.5 673.3,182.2 673.8,206 674.2,217.2 675,226.8 676.2,234.6 677,237.3 678.4,238.3 681.4,235.4 683,240.3 684.6,243.2 687.9,243.7 690.5,242.9 693.3,241.7 695.5,240.3 697.4,238.9 699.2,240.9 702.8,241.1 702.8,241.3 699.2,241.1 697.4,239.3 695.5,240.6 693.3,241.9 690.5,243 687.9,243.7 684.6,243.2 683,240.3 681.4,235.5 678.4,238.4 677,237.3 676.2,234.7 675,227 674.2,217.9 673.8,208 673.3,183.7 672.8,164 672.3,144.4 672,134.7 670.2,139.8 670,151.9 669.7,167.1 669.3,186.8 668.9,201.3 668.3,216 667.9,230.9 667.4,216 666.9,205.1 665.6,176.8 664.4,157.6 663.1,133.8 661.3,116.5 660.8,114.1 660.5,126.3 660.2,138.1 659.4,173.8 658.6,214 658.2,223.2 657.6,230.3 656.3,237.2 654.1,236.7 651.4,230 649.3,225.9 647.1,231.7 644.4,235.9 641.7,241.1 639,243.2 635.7,241.4 633,244.2 630.5,243.3 628.7,241.3 626.5,235.4 624.4,234.2 623.3,237.2 621.7,244.5 616.8,244.2 613.5,242.3 610.5,241.3 608.4,240.6 606,242.4 603.8,244 599.5,243.2 597.3,244.2 593,243.2 587.6,242.3 584.9,244.2 583,242.2 581.6,238.8 580.3,232.6 579.5,226.7 578.3,222.1 576.5,224.5 575,224.9 573.4,221.4 571.8,217 570.4,219.3 568.6,222.8 566.9,224.7 564.5,222.2 562.8,220.6 561.5,225.9 560.1,236.5 558,238.3 555.5,237.1 553.5,234.7 551.6,231.7 549.9,225.8 548.2,220.9 546.8,217.6 545.5,222.6 544.3,230.3 543.2,224.2 542.2,219.6 540.5,227.3 539,238 537.5,241.1 536,236.7 534.5,229.3 532.9,220.4 531.2,227.8 529.6,236.8 527.8,229.4 526.2,220.2 524.5,229.4 523,241.1 521,243 514.5,243.2 512.9,242.4 511.5,235.7 510,232.2 508,227.2 507,223 505.8,219.3 504.6,218.4 503,214.5 502.2,211 501.1,205.6 500,216.6 499.1,228.3 498.1,237 495.9,241.5 492.1,239.9 489.7,242.6 487.2,239.9 485,237 483,243.4 481.3,244.2 477.5,242.2 473.7,243.8 468.3,243.8 465,243.6 462.3,242.6 460.2,236.6 457.5,231.4 454.8,229.2 452.6,229.7 450.4,234 448.6,231.4 447.2,234 445.6,239.6 441.2,240.8 437.4,242.7 435,240 432.6,241.6 430.5,240.7 428.2,239.2 426,235.2 424.6,233.5 422.6,234 421,233.4 420,232 419,226.5 418,225.3 416.6,224.6 414,226.1 412,225.9 410.8,224.1 409.5,222.5 408.4,232.6 407.4,239.9 406,236.9 404.6,224.3 403.8,211.3 403.4,199.3 402.8,167.1 402.2,135.5 402.1,129.2 401.2,86.6 400.5,84.6 399.7,86.6 398.7,93.3 397.6,165.2 397.2,199.3 396.9,208.7 396.5,215.5 395.6,226.9 394,231.6 392,234.7 390,237.5 387,238.5 384,238.5 381.5,237.1 379,234.7 377.5,230 376,222.7 374.5,210.4 373.4,203.5 372.2,201.2 371,200 369.6,208.1 368,216.5 366.5,221.1 364.5,216.5 363.2,212.7 361.6,209.3 360.5,218.7 359.5,235.3 357.8,237.1 355.5,235.3 353.4,233.1 351.8,227.9 350.5,224.5 348.6,226.2 345.9,229.7 343.7,228.8 341.5,234.9 339.4,240.9 336.7,244.2 331.8,243.8 328.5,242.3 326,242.8 323,244 311,244 307,243.1 305,244 299.3,243.8 296,239.1 295.3,230.3 294.4,222.4 293.4,216.5 291.6,226.3 290.6,222.4 289.6,213 288.8,210.8 288,212.6 287,214 285.4,232.7 284.3,244.3 273.4,244.2 270.7,242.5 269.5,237.8 268.2,235 266.8,237 265,239.7 263,237 261.5,234.4 260,236.6 258.3,238.8 254.5,239.7 251.3,236.7 250.2,227.3 249.1,200.8 248.5,188 247.6,185.6 246.5,187.4 245.3,200.8 243.7,211.4 241,221 239.8,219.8 238.6,219.4 236.6,232.7 234.5,239.3 229,240.5 225,240.8 220.4,240.5 217.7,238.8 216.3,239.4 215,238 213.5,234.6 212,237 210,240.9 208.2,243.8 206.5,240.9 205,236.2 203.5,230.6 202.2,227.7 200.5,232.2 199,236.7 197.5,235.4 195.7,234.1 192.5,237.8 190,240.9 187.6,242.5 186.6,237.5 186,228.4 185.8,211.8 185.2,186 184.6,168.3 184.3,164.7 183.9,163.6 183,164 182,164.7 181,171.3 180.3,199.4 179.8,216 179.5,230.9 178.6,237.7 177.4,236.5 175,237.7 173.3,235.7 172.2,232.4 171.6,223.1 171,213.7 170.4,201.8 170,194.3 169.6,187.7 168.9,177.8 168.1,160.3 167,161.4 165.6,162.9 164.4,163.6 163.1,163.7 161.6,162.9 160.6,158.6 159.4,157.9 158.7,157.1 158.3,158.6 157.7,171.4 157.1,215.6 156.8,232.2 156.3,241.2 153,241.2 151,240.8 145,240.6 137.2,240.7" fill="#55afad"/>
<polyline points="137.2,240.5 145,240.4 151,240.6 153,241.1 156.3,241.1 156.8,232.2 157.1,215.5 157.7,171.3 158.3,156.7 158.7,153.6 159.4,155.2 160.6,156.7 161.6,160.2 163.1,161.9 164.4,160.7 165.6,159.2 167,157.3 168.1,156 168.9,170.5 169.6,180 170,187.4 170.4,196.4 171,211.6 171.6,221.5 172.2,231.4 173.3,235.4 175,237.4 177.4,236.2 178.6,237.4 179.5,230.4 179.8,215.1 180.3,198 181,171.1 182,162.9 183,161.4 183.9,160.7 184.3,162.9 184.6,168.1 185.2,185.9 185.8,210.8 186,227.9 186.6,237.2 187.6,242.4 190,240.8 192.5,237.5 195.7,233.7 197.5,235 199,236.3 200.5,231.7 202.2,227 203.5,230.1 205,235.8 206.5,240.8 208.2,243.8 210,240.8 212,236.7 213.5,234.2 215,237.7 216.3,239.1 217.7,238.6 220.4,240.4 225,240.6 229,240.4 234.5,239.1 236.6,232.7 238.6,218.2 239.8,219 241,221 243.7,211.3 245.3,200.7 246.5,186.2 247.6,182.7 248.5,187.6 249.1,200.7 250.2,227.3 251.3,236.3 254.5,239.5 258.3,238.6 260,236.3 261.5,234 263,236.7 265,239.5 266.8,236.7 268.2,234.6 269.5,237.5 270.7,242.4 273.4,244.2 284.3,244.3 285.4,232.7 287,213.5 288,210.6 288.8,207.2 289.6,211.4 290.6,222.3 291.6,226.3 293.4,216.4 294.4,222.3 295.3,230.2 296,239.1 299.3,243.7 305,244 307,243 311,244 323,244 326,242.8 328.5,242.2 331.8,243.7 336.7,244.2 339.4,240.8 341.5,234.5 343.7,228.2 345.9,229.1 348.6,225.5 350.5,223.7 351.8,227.3 353.4,232.7 355.5,234.9 357.8,236.8 359.5,234.9 360.5,217.5 361.6,207.6 363.2,211.2 364.5,215.2 366.5,220 368,215.2 369.6,206.4 371,197.9 372.2,199.2 373.4,201.6 374.5,208.8 376,221.6 377.5,229.4 379,234.3 381.5,236.7 384,238.2 387,238.2 390,237.2 392,234.3 394,231 395.6,226.1 396.5,215.1 396.9,207.8 397.2,197.7 397.6,160.2 398.7,92 399.7,83.6 400.5,79.7 401.2,83.6 402.1,126.2 402.2,133.8 402.8,165.2 403.4,197.7 403.8,210.6 404.6,224 406,236.1 407.4,239.5 408.4,231.4 409.5,220.3 410.8,222.1 412,224.1 414,224.3 416.6,222.6 418,223.4 419,224.7 420,230.8 421,232.8 422.6,233.4 424.6,232.9 426,234.8 428.2,238.9 430.5,240.4 432.6,241.5 435,239.7 437.4,242.6 441.2,240.6 445.6,239.4 447.2,233.6 448.6,230.9 450.4,233.6 452.6,229.1 454.8,228.6 457.5,230.9 460.2,236.3 462.3,242.5 465,243.5 468.3,243.8 473.7,243.8 477.5,242 481.3,244.2 483,243.3 485,236.6 487.2,239.7 489.7,242.5 492.1,239.7 495.9,241.4 498.1,236.6 499.1,227.3 500,214.8 501.1,203.1 502.2,208.8 503,212.6 504.6,216.7 505.8,217.7 507,221.6 508,226.1 510,231.4 511.5,235.1 512.9,242.3 514.5,243.1 521,243 523,240.9 524.5,228.3 526.2,218.4 527.8,228.3 529.6,236.2 531.2,226.9 532.9,219.2 534.5,228.5 536,236.3 537.5,240.9 539,237.7 540.5,226.5 542.2,218.4 543.2,223.2 544.3,229.7 545.5,221.9 546.8,216.8 548.2,220.2 549.9,225.2 551.6,231.3 553.5,234.3 555.5,236.8 558,238.1 560.1,236.2 561.5,225 562.8,219.4 564.5,221.1 566.9,223.7 568.6,222.2 570.4,218.7 571.8,216.4 573.4,220.9 575,224.5 576.5,224 578.3,221.6 579.5,226.3 580.3,232.3 581.6,238.6 583,242.1 584.9,244.1 587.6,242.3 593,243.2 597.3,244.1 599.5,243.2 603.8,244 606,242.4 608.4,240.5 610.5,241.2 613.5,242.3 616.8,244.1 621.7,244.5 623.3,237 624.4,233.9 626.5,235.1 628.7,241.2 630.5,243.3 633,244.1 635.7,241.3 639,243.2 641.7,241 644.4,235.5 647.1,231.1 649.3,225.1 651.4,229.4 654.1,236.4 656.3,236.9 657.6,230 658.2,222.3 658.6,212.5 659.4,171.1 660.2,136.6 660.5,122.2 660.8,108.8 661.3,113.6 663.1,132.8 664.4,156.7 665.6,176 666.9,203.4 667.4,215.1 667.9,230.4 668.3,215.1 668.9,200 669.3,184.9 669.7,165.2 670,149.5 670.2,137.4 672,133 672.3,142.8 672.8,162.5 673.3,182.2 673.8,206 674.2,217.2 675,226.8 676.2,234.6 677,237.3 678.4,238.3 681.4,235.4 683,240.3 684.6,243.2 687.9,243.7 690.5,242.9 693.3,241.7 695.5,240.3 697.4,238.9 699.2,240.9 702.8,241.1" fill="none" stroke="#55afad" stroke-width="2.08" stroke-linejoin="round"/>
<polygon points="137.2,240.3 145,240.3 151,240.4 153,240.9 156.3,240.9 156.8,232.2 157.1,215.5 157.7,171.2 158.3,154.8 158.7,150.2 159.4,152.6 160.6,154.8 161.6,157.6 163.1,160.1 164.4,157.9 165.6,155.6 167,153.2 168.1,151.8 168.9,163.1 169.6,172.3 170,180.5 170.4,191.1 171,209.5 171.6,220 172.2,230.4 173.3,235 175,237.2 177.4,235.9 178.6,237.2 179.5,230 179.8,214.1 180.3,196.5 181,170.9 182,161.1 183,158.9 183.9,157.9 184.3,161.1 184.6,167.9 185.2,185.7 185.8,209.7 186,227.3 186.6,237 187.6,242.4 190,240.6 192.5,237.2 195.7,233.3 197.5,234.7 199,236 200.5,231.2 202.2,226.4 203.5,229.5 205,235.5 206.5,240.6 208.2,243.7 210,240.6 212,236.4 213.5,233.8 215,237.5 216.3,238.9 217.7,238.3 220.4,240.2 225,240.5 229,240.2 234.5,238.9 236.6,232.6 238.6,217.1 239.8,218.3 241,220.9 243.7,211.2 245.3,200.5 246.5,185.1 247.6,179.7 248.5,187.1 249.1,200.5 250.2,227.2 251.3,236 254.5,239.3 258.3,238.3 260,235.9 261.5,233.5 263,236.4 265,239.3 266.8,236.4 268.2,234.2 269.5,237.2 270.7,242.4 273.4,244.1 284.3,244.3 285.4,232.6 287,213 288,208.7 288.8,203.5 289.6,209.9 290.6,222.3 291.6,226.2 293.4,216.3 294.4,222.3 295.3,230.2 296,239.1 299.3,243.7 305,244 307,243 311,244 323,244 326,242.7 328.5,242.1 331.8,243.7 336.7,244.1 339.4,240.6 341.5,234.2 343.7,227.6 345.9,228.6 348.6,224.8 350.5,222.9 351.8,226.7 353.4,232.3 355.5,234.6 357.8,236.5 359.5,234.4 360.5,216.3 361.6,206 363.2,209.7 364.5,213.9 366.5,218.9 368,213.9 369.6,204.7 371,195.8 372.2,197.2 373.4,199.7 374.5,207.2 376,220.6 377.5,228.8 379,233.9 381.5,236.4 384,238 387,238 390,236.9 392,233.9 394,230.5 395.6,225.4 396.5,214.7 396.9,206.8 397.2,196.1 397.6,155.2 398.7,90.6 399.7,80.7 400.5,74.8 401.2,80.7 402.1,123.1 402.2,132 402.8,163.3 403.4,196.1 403.8,209.9 404.6,223.8 406,235.4 407.4,239 408.4,230.3 409.5,218.1 410.8,220 412,222.2 414,222.5 416.6,220.6 418,221.5 419,223 420,229.5 421,232.2 422.6,232.9 424.6,232.3 426,234.2 428.2,238.6 430.5,240.2 432.6,241.3 435,239.5 437.4,242.4 441.2,240.4 445.6,239.1 447.2,233.2 448.6,230.4 450.4,233.2 452.6,228.6 454.8,228 457.5,230.4 460.2,236 462.3,242.4 465,243.5 468.3,243.8 473.7,243.8 477.5,241.9 481.3,244.2 483,243.3 485,236.3 487.2,239.4 489.7,242.4 492.1,239.4 495.9,241.3 498.1,236.3 499.1,226.3 500,213.1 501.1,200.6 502.2,206.7 503,210.7 504.6,215 505.8,216.1 507,220.2 508,225 510,230.6 511.5,234.6 512.9,242.2 514.5,243.1 521,242.9 523,240.6 524.5,227.1 526.2,216.6 527.8,227.1 529.6,235.6 531.2,226.1 532.9,217.8 534.5,227.7 536,235.9 537.5,240.7 539,237.4 540.5,225.6 542.2,217.3 543.2,222.3 544.3,229 545.5,221.2 546.8,215.9 548.2,219.4 549.9,224.6 551.6,230.9 553.5,234 555.5,236.6 558,237.9 560.1,235.8 561.5,224.1 562.8,218.2 564.5,220 566.9,222.7 568.6,221.8 570.4,218.1 571.8,215.7 573.4,220.4 575,224 576.5,223.6 578.3,221.1 579.5,225.8 580.3,232 581.6,238.5 583,242 584.9,244.1 587.6,242.2 593,243.1 597.3,244.1 599.5,243.1 603.8,244 606,242.3 608.4,240.4 610.5,241.1 613.5,242.2 616.8,244.1 621.7,244.5 623.3,236.8 624.4,233.6 626.5,234.8 628.7,241.1 630.5,243.2 633,244.1 635.7,241.2 639,243.1 641.7,241 644.4,235.2 647.1,230.6 649.3,224.4 651.4,228.8 654.1,236.1 656.3,236.6 657.6,229.8 658.2,221.4 658.6,210.9 659.4,168.5 660.2,135.1 660.5,118.2 660.8,103.4 661.3,110.6 663.1,131.8 664.4,155.9 665.6,175.3 666.9,201.7 667.4,214.1 667.9,230 668.3,214.1 668.9,198.8 669.3,183 669.7,163.3 670,147 670.2,135.1 672,131.2 672.3,141.2 672.8,160.9 673.3,180.6 673.8,204 674.2,216.6 675,226.6 676.2,234.5 677,237.2 678.4,238.2 681.4,235.3 683,240.2 684.6,243.1 687.9,243.7 690.5,242.8 693.3,241.5 695.5,240.1 697.4,238.5 699.2,240.6 702.8,240.8 702.8,241.1 699.2,240.9 697.4,238.9 695.5,240.3 693.3,241.7 690.5,242.9 687.9,243.7 684.6,243.2 683,240.3 681.4,235.4 678.4,238.3 677,237.3 676.2,234.6 675,226.8 674.2,217.2 673.8,206 673.3,182.2 672.8,162.5 672.3,142.8 672,133 670.2,137.4 670,149.5 669.7,165.2 669.3,184.9 668.9,200 668.3,215.1 667.9,230.4 667.4,215.1 666.9,203.4 665.6,176 664.4,156.7 663.1,132.8 661.3,113.6 660.8,108.8 660.5,122.2 660.2,136.6 659.4,171.1 658.6,212.5 658.2,222.3 657.6,230 656.3,236.9 654.1,236.4 651.4,229.4 649.3,225.1 647.1,231.1 644.4,235.5 641.7,241 639,243.2 635.7,241.3 633,244.1 630.5,243.3 628.7,241.2 626.5,235.1 624.4,233.9 623.3,237 621.7,244.5 616.8,244.1 613.5,242.3 610.5,241.2 608.4,240.5 606,242.4 603.8,244 599.5,243.2 597.3,244.1 593,243.2 587.6,242.3 584.9,244.1 583,242.1 581.6,238.6 580.3,232.3 579.5,226.3 578.3,221.6 576.5,224 575,224.5 573.4,220.9 571.8,216.4 570.4,218.7 568.6,222.2 566.9,223.7 564.5,221.1 562.8,219.4 561.5,225 560.1,236.2 558,238.1 555.5,236.8 553.5,234.3 551.6,231.3 549.9,225.2 548.2,220.2 546.8,216.8 545.5,221.9 544.3,229.7 543.2,223.2 542.2,218.4 540.5,226.5 539,237.7 537.5,240.9 536,236.3 534.5,228.5 532.9,219.2 531.2,226.9 529.6,236.2 527.8,228.3 526.2,218.4 524.5,228.3 523,240.9 521,243 514.5,243.1 512.9,242.3 511.5,235.1 510,231.4 508,226.1 507,221.6 505.8,217.7 504.6,216.7 503,212.6 502.2,208.8 501.1,203.1 500,214.8 499.1,227.3 498.1,236.6 495.9,241.4 492.1,239.7 489.7,242.5 487.2,239.7 485,236.6 483,243.3 481.3,244.2 477.5,242 473.7,243.8 468.3,243.8 465,243.5 462.3,242.5 460.2,236.3 457.5,230.9 454.8,228.6 452.6,229.1 450.4,233.6 448.6,230.9 447.2,233.6 445.6,239.4 441.2,240.6 437.4,242.6 435,239.7 432.6,241.5 430.5,240.4 428.2,238.9 426,234.8 424.6,232.9 422.6,233.4 421,232.8 420,230.8 419,224.7 418,223.4 416.6,222.6 414,224.3 412,224.1 410.8,222.1 409.5,220.3 408.4,231.4 407.4,239.5 406,236.1 404.6,224 403.8,210.6 403.4,197.7 402.8,165.2 402.2,133.8 402.1,126.2 401.2,83.6 400.5,79.7 399.7,83.6 398.7,92 397.6,160.2 397.2,197.7 396.9,207.8 396.5,215.1 395.6,226.1 394,231 392,234.3 390,237.2 387,238.2 384,238.2 381.5,236.7 379,234.3 377.5,229.4 376,221.6 374.5,208.8 373.4,201.6 372.2,199.2 371,197.9 369.6,206.4 368,215.2 366.5,220 364.5,215.2 363.2,211.2 361.6,207.6 360.5,217.5 359.5,234.9 357.8,236.8 355.5,234.9 353.4,232.7 351.8,227.3 350.5,223.7 348.6,225.5 345.9,229.1 343.7,228.2 341.5,234.5 339.4,240.8 336.7,244.2 331.8,243.7 328.5,242.2 326,242.8 323,244 311,244 307,243 305,244 299.3,243.7 296,239.1 295.3,230.2 294.4,222.3 293.4,216.4 291.6,226.3 290.6,222.3 289.6,211.4 288.8,207.2 288,210.6 287,213.5 285.4,232.7 284.3,244.3 273.4,244.2 270.7,242.4 269.5,237.5 268.2,234.6 266.8,236.7 265,239.5 263,236.7 261.5,234 260,236.3 258.3,238.6 254.5,239.5 251.3,236.3 250.2,227.3 249.1,200.7 248.5,187.6 247.6,182.7 246.5,186.2 245.3,200.7 243.7,211.3 241,221 239.8,219 238.6,218.2 236.6,232.7 234.5,239.1 229,240.4 225,240.6 220.4,240.4 217.7,238.6 216.3,239.1 215,237.7 213.5,234.2 212,236.7 210,240.8 208.2,243.8 206.5,240.8 205,235.8 203.5,230.1 202.2,227 200.5,231.7 199,236.3 197.5,235 195.7,233.7 192.5,237.5 190,240.8 187.6,242.4 186.6,237.2 186,227.9 185.8,210.8 185.2,185.9 184.6,168.1 184.3,162.9 183.9,160.7 183,161.4 182,162.9 181,171.1 180.3,198 179.8,215.1 179.5,230.4 178.6,237.4 177.4,236.2 175,237.4 173.3,235.4 172.2,231.4 171.6,221.5 171,211.6 170.4,196.4 170,187.4 169.6,180 168.9,170.5 168.1,156 167,157.3 165.6,159.2 164.4,160.7 163.1,161.9 161.6,160.2 160.6,156.7 159.4,155.2 158.7,153.6 158.3,156.7 157.7,171.3 157.1,215.5 156.8,232.2 156.3,241.1 153,241.1 151,240.6 145,240.4 137.2,240.5" fill="#439bb5"/>
<polyline points="137.2,240.3 145,240.3 151,240.4 153,240.9 156.3,240.9 156.8,232.2 157.1,215.5 157.7,171.2 158.3,154.8 158.7,150.2 159.4,152.6 160.6,154.8 161.6,157.6 163.1,160.1 164.4,157.9 165.6,155.6 167,153.2 168.1,151.8 168.9,163.1 169.6,172.3 170,180.5 170.4,191.1 171,209.5 171.6,220 172.2,230.4 173.3,235 175,237.2 177.4,235.9 178.6,237.2 179.5,230 179.8,214.1 180.3,196.5 181,170.9 182,161.1 183,158.9 183.9,157.9 184.3,161.1 184.6,167.9 185.2,185.7 185.8,209.7 186,227.3 186.6,237 187.6,242.4 190,240.6 192.5,237.2 195.7,233.3 197.5,234.7 199,236 200.5,231.2 202.2,226.4 203.5,229.5 205,235.5 206.5,240.6 208.2,243.7 210,240.6 212,236.4 213.5,233.8 215,237.5 216.3,238.9 217.7,238.3 220.4,240.2 225,240.5 229,240.2 234.5,238.9 236.6,232.6 238.6,217.1 239.8,218.3 241,220.9 243.7,211.2 245.3,200.5 246.5,185.1 247.6,179.7 248.5,187.1 249.1,200.5 250.2,227.2 251.3,236 254.5,239.3 258.3,238.3 260,235.9 261.5,233.5 263,236.4 265,239.3 266.8,236.4 268.2,234.2 269.5,237.2 270.7,242.4 273.4,244.1 284.3,244.3 285.4,232.6 287,213 288,208.7 288.8,203.5 289.6,209.9 290.6,222.3 291.6,226.2 293.4,216.3 294.4,222.3 295.3,230.2 296,239.1 299.3,243.7 305,244 307,243 311,244 323,244 326,242.7 328.5,242.1 331.8,243.7 336.7,244.1 339.4,240.6 341.5,234.2 343.7,227.6 345.9,228.6 348.6,224.8 350.5,222.9 351.8,226.7 353.4,232.3 355.5,234.6 357.8,236.5 359.5,234.4 360.5,216.3 361.6,206 363.2,209.7 364.5,213.9 366.5,218.9 368,213.9 369.6,204.7 371,195.8 372.2,197.2 373.4,199.7 374.5,207.2 376,220.6 377.5,228.8 379,233.9 381.5,236.4 384,238 387,238 390,236.9 392,233.9 394,230.5 395.6,225.4 396.5,214.7 396.9,206.8 397.2,196.1 397.6,155.2 398.7,90.6 399.7,80.7 400.5,74.8 401.2,80.7 402.1,123.1 402.2,132 402.8,163.3 403.4,196.1 403.8,209.9 404.6,223.8 406,235.4 407.4,239 408.4,230.3 409.5,218.1 410.8,220 412,222.2 414,222.5 416.6,220.6 418,221.5 419,223 420,229.5 421,232.2 422.6,232.9 424.6,232.3 426,234.2 428.2,238.6 430.5,240.2 432.6,241.3 435,239.5 437.4,242.4 441.2,240.4 445.6,239.1 447.2,233.2 448.6,230.4 450.4,233.2 452.6,228.6 454.8,228 457.5,230.4 460.2,236 462.3,242.4 465,243.5 468.3,243.8 473.7,243.8 477.5,241.9 481.3,244.2 483,243.3 485,236.3 487.2,239.4 489.7,242.4 492.1,239.4 495.9,241.3 498.1,236.3 499.1,226.3 500,213.1 501.1,200.6 502.2,206.7 503,210.7 504.6,215 505.8,216.1 507,220.2 508,225 510,230.6 511.5,234.6 512.9,242.2 514.5,243.1 521,242.9 523,240.6 524.5,227.1 526.2,216.6 527.8,227.1 529.6,235.6 531.2,226.1 532.9,217.8 534.5,227.7 536,235.9 537.5,240.7 539,237.4 540.5,225.6 542.2,217.3 543.2,222.3 544.3,229 545.5,221.2 546.8,215.9 548.2,219.4 549.9,224.6 551.6,230.9 553.5,234 555.5,236.6 558,237.9 560.1,235.8 561.5,224.1 562.8,218.2 564.5,220 566.9,222.7 568.6,221.8 570.4,218.1 571.8,215.7 573.4,220.4 575,224 576.5,223.6 578.3,221.1 579.5,225.8 580.3,232 581.6,238.5 583,242 584.9,244.1 587.6,242.2 593,243.1 597.3,244.1 599.5,243.1 603.8,244 606,242.3 608.4,240.4 610.5,241.1 613.5,242.2 616.8,244.1 621.7,244.5 623.3,236.8 624.4,233.6 626.5,234.8 628.7,241.1 630.5,243.2 633,244.1 635.7,241.2 639,243.1 641.7,241 644.4,235.2 647.1,230.6 649.3,224.4 651.4,228.8 654.1,236.1 656.3,236.6 657.6,229.8 658.2,221.4 658.6,210.9 659.4,168.5 660.2,135.1 660.5,118.2 660.8,103.4 661.3,110.6 663.1,131.8 664.4,155.9 665.6,175.3 666.9,201.7 667.4,214.1 667.9,230 668.3,214.1 668.9,198.8 669.3,183 669.7,163.3 670,147 670.2,135.1 672,131.2 672.3,141.2 672.8,160.9 673.3,180.6 673.8,204 674.2,216.6 675,226.6 676.2,234.5 677,237.2 678.4,238.2 681.4,235.3 683,240.2 684.6,243.1 687.9,243.7 690.5,242.8 693.3,241.5 695.5,240.1 697.4,238.5 699.2,240.6 702.8,240.8" fill="none" stroke="#439bb5" stroke-width="2.08" stroke-linejoin="round"/>
<polygon points="137.2,240.1 145,240 151,240.1 153,240.7 156.3,240.7 156.8,232.1 157.1,215.3 157.7,170.8 158.3,145.5 158.7,133.5 159.4,139.7 160.6,145.5 161.6,151.4 163.1,155.9 164.4,151.1 165.6,147 167,143.6 168.1,141.9 168.9,152.1 169.6,160.8 170,170.1 170.4,183 171,206.3 171.6,217.6 172.2,229 173.3,234.5 175,236.8 177.4,235.4 178.6,236.8 179.5,229.3 179.8,212.8 180.3,194.4 181,170.6 182,158.4 183,155.1 183.9,153.5 184.3,158.4 184.6,167.6 185.2,185.5 185.8,208.2 186,226.6 186.6,236.7 187.6,242.2 190,240.4 192.5,236.8 195.7,232.7 197.5,234.1 199,235.6 200.5,230.5 202.2,225.3 203.5,228.7 205,235 206.5,240.4 208.2,243.7 210,240.4 212,235.9 213.5,233.2 215,237.1 216.3,238.6 217.7,238 220.4,240 225,240.3 229,240 234.5,238.5 236.6,232.6 238.6,215.3 239.8,217.2 241,220.8 243.7,211.1 245.3,200.4 246.5,183.4 247.6,175.4 248.5,186.4 249.1,200.4 250.2,227.1 251.3,235.6 254.5,239 258.3,238 260,235.5 261.5,232.9 263,235.9 265,239 266.8,235.9 268.2,233.7 269.5,236.8 270.7,242.2 273.4,244.1 284.3,244.3 285.4,232.6 287,212.3 288,205.8 288.8,198 289.6,207.6 290.6,222.2 291.6,226.1 293.4,216.2 294.4,222.2 295.3,230.1 296,239 299.3,243.7 305,243.9 307,242.9 311,243.9 323,243.9 326,242.7 328.5,242 331.8,243.7 336.7,244.1 339.4,240.4 341.5,233.6 343.7,226.7 345.9,227.7 348.6,223.7 350.5,221.8 351.8,225.7 353.4,231.6 355.5,234.1 357.8,236.1 359.5,233.8 360.5,214.4 361.6,203.5 363.2,207.5 364.5,211.9 366.5,217.3 368,211.9 369.6,202.1 371,192.7 372.2,194.1 373.4,196.8 374.5,204.8 376,219.1 377.5,227.8 379,233.2 381.5,235.9 384,237.6 387,237.6 390,236.5 392,233.2 394,229.7 395.6,224.2 396.5,213.8 396.9,204.5 397.2,192.4 397.6,143.5 398.7,87.4 399.7,73.8 400.5,63.4 401.2,73.8 402.1,109.1 402.2,128 402.8,158.9 403.4,192.4 403.8,208.3 404.6,223.2 406,234.2 407.4,238.3 408.4,228.5 409.5,214.9 410.8,217 412,219.5 414,219.8 416.6,217.7 418,218.7 419,220.3 420,227.7 421,231.3 422.6,232 424.6,231.4 426,233.5 428.2,238.2 430.5,239.9 432.6,241.1 435,239.1 437.4,242.3 441.2,240.1 445.6,238.7 447.2,232.6 448.6,229.6 450.4,232.6 452.6,227.7 454.8,227.2 457.5,229.6 460.2,235.5 462.3,242.3 465,243.4 468.3,243.7 473.7,243.7 477.5,241.7 481.3,244.1 483,243.2 485,235.7 487.2,239.1 489.7,242.3 492.1,239.1 495.9,241 498.1,235.7 499.1,224.7 500,210.4 501.1,196.9 502.2,203.5 503,207.8 504.6,212.5 505.8,213.7 507,218.1 508,223.3 510,229.4 511.5,233.7 512.9,242.1 514.5,243 521,242.8 523,240.3 524.5,225.4 526.2,213.8 527.8,225.4 529.6,234.7 531.2,224.7 532.9,215.9 534.5,226.5 536,235.3 537.5,240.5 539,236.9 540.5,224.4 542.2,215.5 543.2,220.9 544.3,228 545.5,220.1 546.8,214.6 548.2,218.3 549.9,223.7 551.6,230.2 553.5,233.6 555.5,236.2 558,237.6 560.1,235.2 561.5,222.7 562.8,216.4 564.5,218.3 566.9,221.2 568.6,221 570.4,217.2 571.8,214.8 573.4,219.6 575,223.3 576.5,222.9 578.3,220.3 579.5,225.2 580.3,231.6 581.6,238.3 583,242 584.9,244.1 587.6,242.2 593,243.1 597.3,244.1 599.5,243.1 603.8,243.9 606,242.2 608.4,240.3 610.5,241 613.5,242.2 616.8,244.1 621.7,244.6 623.3,236.4 624.4,233.1 626.5,234.4 628.7,240.9 630.5,243.2 633,244.1 635.7,241.1 639,243.1 641.7,240.8 644.4,234.6 647.1,229.7 649.3,223.2 651.4,227.8 654.1,235.6 656.3,236.1 657.6,229.2 658.2,219.2 658.6,207.3 659.4,162.3 660.2,131.7 660.5,108.8 660.8,90.9 661.3,103.8 663.1,129.5 664.4,153.9 665.6,173.5 666.9,197.8 667.4,212.8 667.9,229.3 668.3,212.8 668.9,195.8 669.3,178.7 669.7,158.9 670,141.4 670.2,129.7 672,127.1 672.3,137.5 672.8,157.3 673.3,177.1 673.8,199.3 674.2,215 675,226.3 676.2,234.3 677,237 678.4,238.1 681.4,235.1 683,240.1 684.6,243.1 687.9,243.7 690.5,242.6 693.3,241.2 695.5,239.6 697.4,237.9 699.2,240.2 702.8,240.5 702.8,240.8 699.2,240.6 697.4,238.5 695.5,240.1 693.3,241.5 690.5,242.8 687.9,243.7 684.6,243.1 683,240.2 681.4,235.3 678.4,238.2 677,237.2 676.2,234.5 675,226.6 674.2,216.6 673.8,204 673.3,180.6 672.8,160.9 672.3,141.2 672,131.2 670.2,135.1 670,147 669.7,163.3 669.3,183 668.9,198.8 668.3,214.1 667.9,230 667.4,214.1 666.9,201.7 665.6,175.3 664.4,155.9 663.1,131.8 661.3,110.6 660.8,103.4 660.5,118.2 660.2,135.1 659.4,168.5 658.6,210.9 658.2,221.4 657.6,229.8 656.3,236.6 654.1,236.1 651.4,228.8 649.3,224.4 647.1,230.6 644.4,235.2 641.7,241 639,243.1 635.7,241.2 633,244.1 630.5,243.2 628.7,241.1 626.5,234.8 624.4,233.6 623.3,236.8 621.7,244.5 616.8,244.1 613.5,242.2 610.5,241.1 608.4,240.4 606,242.3 603.8,244 599.5,243.1 597.3,244.1 593,243.1 587.6,242.2 584.9,244.1 583,242 581.6,238.5 580.3,232 579.5,225.8 578.3,221.1 576.5,223.6 575,224 573.4,220.4 571.8,215.7 570.4,218.1 568.6,221.8 566.9,222.7 564.5,220 562.8,218.2 561.5,224.1 560.1,235.8 558,237.9 555.5,236.6 553.5,234 551.6,230.9 549.9,224.6 548.2,219.4 546.8,215.9 545.5,221.2 544.3,229 543.2,222.3 542.2,217.3 540.5,225.6 539,237.4 537.5,240.7 536,235.9 534.5,227.7 532.9,217.8 531.2,226.1 529.6,235.6 527.8,227.1 526.2,216.6 524.5,227.1 523,240.6 521,242.9 514.5,243.1 512.9,242.2 511.5,234.6 510,230.6 508,225 507,220.2 505.8,216.1 504.6,215 503,210.7 502.2,206.7 501.1,200.6 500,213.1 499.1,226.3 498.1,236.3 495.9,241.3 492.1,239.4 489.7,242.4 487.2,239.4 485,236.3 483,243.3 481.3,244.2 477.5,241.9 473.7,243.8 468.3,243.8 465,243.5 462.3,242.4 460.2,236 457.5,230.4 454.8,228 452.6,228.6 450.4,233.2 448.6,230.4 447.2,233.2 445.6,239.1 441.2,240.4 437.4,242.4 435,239.5 432.6,241.3 430.5,240.2 428.2,238.6 426,234.2 424.6,232.3 422.6,232.9 421,232.2 420,229.5 419,223 418,221.5 416.6,220.6 414,222.5 412,222.2 410.8,220 409.5,218.1 408.4,230.3 407.4,239 406,235.4 404.6,223.8 403.8,209.9 403.4,196.1 402.8,163.3 402.2,132 402.1,123.1 401.2,80.7 400.5,74.8 399.7,80.7 398.7,90.6 397.6,155.2 397.2,196.1 396.9,206.8 396.5,214.7 395.6,225.4 394,230.5 392,233.9 390,236.9 387,238 384,238 381.5,236.4 379,233.9 377.5,228.8 376,220.6 374.5,207.2 373.4,199.7 372.2,197.2 371,195.8 369.6,204.7 368,213.9 366.5,218.9 364.5,213.9 363.2,209.7 361.6,206 360.5,216.3 359.5,234.4 357.8,236.5 355.5,234.6 353.4,232.3 351.8,226.7 350.5,222.9 348.6,224.8 345.9,228.6 343.7,227.6 341.5,234.2 339.4,240.6 336.7,244.1 331.8,243.7 328.5,242.1 326,242.7 323,244 311,244 307,243 305,244 299.3,243.7 296,239.1 295.3,230.2 294.4,222.3 293.4,216.3 291.6,226.2 290.6,222.3 289.6,209.9 288.8,203.5 288,208.7 287,213 285.4,232.6 284.3,244.3 273.4,244.1 270.7,242.4 269.5,237.2 268.2,234.2 266.8,236.4 265,239.3 263,236.4 261.5,233.5 260,235.9 258.3,238.3 254.5,239.3 251.3,236 250.2,227.2 249.1,200.5 248.5,187.1 247.6,179.7 246.5,185.1 245.3,200.5 243.7,211.2 241,220.9 239.8,218.3 238.6,217.1 236.6,232.6 234.5,238.9 229,240.2 225,240.5 220.4,240.2 217.7,238.3 216.3,238.9 215,237.5 213.5,233.8 212,236.4 210,240.6 208.2,243.7 206.5,240.6 205,235.5 203.5,229.5 202.2,226.4 200.5,231.2 199,236 197.5,234.7 195.7,233.3 192.5,237.2 190,240.6 187.6,242.4 186.6,237 186,227.3 185.8,209.7 185.2,185.7 184.6,167.9 184.3,161.1 183.9,157.9 183,158.9 182,161.1 181,170.9 180.3,196.5 179.8,214.1 179.5,230 178.6,237.2 177.4,235.9 175,237.2 173.3,235 172.2,230.4 171.6,220 171,209.5 170.4,191.1 170,180.5 169.6,172.3 168.9,163.1 168.1,151.8 167,153.2 165.6,155.6 164.4,157.9 163.1,160.1 161.6,157.6 160.6,154.8 159.4,152.6 158.7,150.2 158.3,154.8 157.7,171.2 157.1,215.5 156.8,232.2 156.3,240.9 153,240.9 151,240.4 145,240.3 137.2,240.3" fill="#3288bd"/>
<polyline points="137.2,240.1 145,240 151,240.1 153,240.7 156.3,240.7 156.8,232.1 157.1,215.3 157.7,170.8 158.3,145.5 158.7,133.5 159.4,139.7 160.6,145.5 161.6,151.4 163.1,155.9 164.4,151.1 165.6,147 167,143.6 168.1,141.9 168.9,152.1 169.6,160.8 170,170.1 170.4,183 171,206.3 171.6,217.6 172.2,229 173.3,234.5 175,236.8 177.4,235.4 178.6,236.8 179.5,229.3 179.8,212.8 180.3,194.4 181,170.6 182,158.4 183,155.1 183.9,153.5 184.3,158.4 184.6,167.6 185.2,185.5 185.8,208.2 186,226.6 186.6,236.7 187.6,242.2 190,240.4 192.5,236.8 195.7,232.7 197.5,234.1 199,235.6 200.5,230.5 202.2,225.3 203.5,228.7 205,235 206.5,240.4 208.2,243.7 210,240.4 212,235.9 213.5,233.2 215,237.1 216.3,238.6 217.7,238 220.4,240 225,240.3 229,240 234.5,238.5 236.6,232.6 238.6,215.3 239.8,217.2 241,220.8 243.7,211.1 245.3,200.4 246.5,183.4 247.6,175.4 248.5,186.4 249.1,200.4 250.2,227.1 251.3,235.6 254.5,239 258.3,238 260,235.5 261.5,232.9 263,235.9 265,239 266.8,235.9 268.2,233.7 269.5,236.8 270.7,242.2 273.4,244.1 284.3,244.3 285.4,232.6 287,212.3 288,205.8 288.8,198 289.6,207.6 290.6,222.2 291.6,226.1 293.4,216.2 294.4,222.2 295.3,230.1 296,239 299.3,243.7 305,243.9 307,242.9 311,243.9 323,243.9 326,242.7 328.5,242 331.8,243.7 336.7,244.1 339.4,240.4 341.5,233.6 343.7,226.7 345.9,227.7 348.6,223.7 350.5,221.8 351.8,225.7 353.4,231.6 355.5,234.1 357.8,236.1 359.5,233.8 360.5,214.4 361.6,203.5 363.2,207.5 364.5,211.9 366.5,217.3 368,211.9 369.6,202.1 371,192.7 372.2,194.1 373.4,196.8 374.5,204.8 376,219.1 377.5,227.8 379,233.2 381.5,235.9 384,237.6 387,237.6 390,236.5 392,233.2 394,229.7 395.6,224.2 396.5,213.8 396.9,204.5 397.2,192.4 397.6,143.5 398.7,87.4 399.7,73.8 400.5,63.4 401.2,73.8 402.1,109.1 402.2,128 402.8,158.9 403.4,192.4 403.8,208.3 404.6,223.2 406,234.2 407.4,238.3 408.4,228.5 409.5,214.9 410.8,217 412,219.5 414,219.8 416.6,217.7 418,218.7 419,220.3 420,227.7 421,231.3 422.6,232 424.6,231.4 426,233.5 428.2,238.2 430.5,239.9 432.6,241.1 435,239.1 437.4,242.3 441.2,240.1 445.6,238.7 447.2,232.6 448.6,229.6 450.4,232.6 452.6,227.7 454.8,227.2 457.5,229.6 460.2,235.5 462.3,242.3 465,243.4 468.3,243.7 473.7,243.7 477.5,241.7 481.3,244.1 483,243.2 485,235.7 487.2,239.1 489.7,242.3 492.1,239.1 495.9,241 498.1,235.7 499.1,224.7 500,210.4 501.1,196.9 502.2,203.5 503,207.8 504.6,212.5 505.8,213.7 507,218.1 508,223.3 510,229.4 511.5,233.7 512.9,242.1 514.5,243 521,242.8 523,240.3 524.5,225.4 526.2,213.8 527.8,225.4 529.6,234.7 531.2,224.7 532.9,215.9 534.5,226.5 536,235.3 537.5,240.5 539,236.9 540.5,224.4 542.2,215.5 543.2,220.9 544.3,228 545.5,220.1 546.8,214.6 548.2,218.3 549.9,223.7 551.6,230.2 553.5,233.6 555.5,236.2 558,237.6 560.1,235.2 561.5,222.7 562.8,216.4 564.5,218.3 566.9,221.2 568.6,221 570.4,217.2 571.8,214.8 573.4,219.6 575,223.3 576.5,222.9 578.3,220.3 579.5,225.2 580.3,231.6 581.6,238.3 583,242 584.9,244.1 587.6,242.2 593,243.1 597.3,244.1 599.5,243.1 603.8,243.9 606,242.2 608.4,240.3 610.5,241 613.5,242.2 616.8,244.1 621.7,244.6 623.3,236.4 624.4,233.1 626.5,234.4 628.7,240.9 630.5,243.2 633,244.1 635.7,241.1 639,243.1 641.7,240.8 644.4,234.6 647.1,229.7 649.3,223.2 651.4,227.8 654.1,235.6 656.3,236.1 657.6,229.2 658.2,219.2 658.6,207.3 659.4,162.3 660.2,131.7 660.5,108.8 660.8,90.9 661.3,103.8 663.1,129.5 664.4,153.9 665.6,173.5 666.9,197.8 667.4,212.8 667.9,229.3 668.3,212.8 668.9,195.8 669.3,178.7 669.7,158.9 670,141.4 670.2,129.7 672,127.1 672.3,137.5 672.8,157.3 673.3,177.1 673.8,199.3 674.2,215 675,226.3 676.2,234.3 677,237 678.4,238.1 681.4,235.1 683,240.1 684.6,243.1 687.9,243.7 690.5,242.6 693.3,241.2 695.5,239.6 697.4,237.9 699.2,240.2 702.8,240.5" fill="none" stroke="#3288bd" stroke-width="2.08" stroke-linejoin="round"/>
<polygon points="137.2,239.8 145,239.7 151,239.9 153,240.4 156.3,240.4 156.8,232.1 157.1,215.2 157.7,170.4 158.3,136.3 158.7,116.7 159.4,126.9 160.6,136.3 161.6,145.2 163.1,151.7 164.4,144.4 165.6,138.5 167,134.1 168.1,132.1 168.9,141 169.6,149.2 170,159.8 170.4,175 171,203.2 171.6,215.3 172.2,227.5 173.3,234 175,236.4 177.4,235 178.6,236.4 179.5,228.7 179.8,211.4 180.3,192.2 181,170.3 182,155.7 183,151.3 183.9,149.2 184.3,155.7 184.6,167.3 185.2,185.2 185.8,206.6 186,225.8 186.6,236.3 187.6,242.1 190,240.2 192.5,236.4 195.7,232 197.5,233.6 199,235.1 200.5,229.7 202.2,224.3 203.5,227.8 205,234.5 206.5,240.2 208.2,243.6 210,240.2 212,235.5 213.5,232.6 215,236.7 216.3,238.3 217.7,237.6 220.4,239.7 225,240 229,239.7 234.5,238.2 236.6,232.5 238.6,213.6 239.8,216.1 241,220.7 243.7,210.9 245.3,200.2 246.5,181.7 247.6,171 248.5,185.7 249.1,200.2 250.2,227.1 251.3,235.1 254.5,238.7 258.3,237.6 260,235 261.5,232.3 263,235.5 265,238.7 266.8,235.5 268.2,233.1 269.5,236.4 270.7,242.1 273.4,244.1 284.3,244.3 285.4,232.5 287,211.5 288,202.9 288.8,192.5 289.6,205.3 290.6,222.1 291.6,226.1 293.4,216.1 294.4,222.1 295.3,230.1 296,239 299.3,243.6 305,243.9 307,242.9 311,243.9 323,243.9 326,242.6 328.5,241.9 331.8,243.6 336.7,244.1 339.4,240.2 341.5,233.1 343.7,225.8 345.9,226.9 348.6,222.7 350.5,220.7 351.8,224.8 353.4,231 355.5,233.5 357.8,235.6 359.5,233.1 360.5,212.6 361.6,201 363.2,205.2 364.5,210 366.5,215.6 368,210 369.6,199.6 371,189.5 372.2,191.1 373.4,193.9 374.5,202.4 376,217.5 377.5,226.9 379,232.6 381.5,235.5 384,237.2 387,237.2 390,236 392,232.6 394,228.8 395.6,223.1 396.5,212.9 396.9,202.3 397.2,188.7 397.6,131.7 398.7,84.2 399.7,66.9 400.5,51.9 401.2,66.9 402.1,95 402.2,124 402.8,154.4 403.4,188.7 403.8,206.6 404.6,222.6 406,233.1 407.4,237.7 408.4,226.8 409.5,211.6 410.8,214 412,216.7 414,217.1 416.6,214.7 418,215.8 419,217.7 420,225.8 421,230.4 422.6,231.2 424.6,230.5 426,232.8 428.2,237.7 430.5,239.6 432.6,240.8 435,238.8 437.4,242.2 441.2,239.8 445.6,238.3 447.2,232 448.6,228.9 450.4,232 452.6,226.9 454.8,226.3 457.5,228.9 460.2,235.1 462.3,242.1 465,243.4 468.3,243.7 473.7,243.7 477.5,241.6 481.3,244.1 483,243.1 485,235.2 487.2,238.7 489.7,242.1 492.1,238.7 495.9,240.8 498.1,235.2 499.1,223.2 500,207.7 501.1,193.1 502.2,200.2 503,204.9 504.6,210 505.8,211.2 507,216.1 508,221.7 510,228.2 511.5,232.8 512.9,242 514.5,243 521,242.8 523,239.9 524.5,223.7 526.2,211.1 527.8,223.7 529.6,233.9 531.2,223.3 532.9,213.9 534.5,225.2 536,234.6 537.5,240.2 539,236.5 540.5,223.2 542.2,213.8 543.2,219.4 544.3,227 545.5,219.1 546.8,213.3 548.2,217.1 549.9,222.8 551.6,229.6 553.5,233.1 555.5,235.9 558,237.3 560.1,234.6 561.5,221.4 562.8,214.7 564.5,216.7 566.9,219.8 568.6,220.2 570.4,216.4 571.8,213.8 573.4,218.8 575,222.7 576.5,222.2 578.3,219.6 579.5,224.6 580.3,231.2 581.6,238.1 583,241.9 584.9,244.1 587.6,242.1 593,243 597.3,244.1 599.5,243 603.8,243.9 606,242.2 608.4,240.1 610.5,240.9 613.5,242.1 616.8,244.1 621.7,244.6 623.3,236.1 624.4,232.6 626.5,233.9 628.7,240.8 630.5,243.1 633,244.1 635.7,241 639,243 641.7,240.7 644.4,234.1 647.1,228.9 649.3,222 651.4,226.9 654.1,235.1 656.3,235.7 657.6,228.6 658.2,217.1 658.6,203.6 659.4,156.2 660.2,128.2 660.5,99.4 660.8,78.3 661.3,96.9 663.1,127.1 664.4,152 665.6,171.8 666.9,193.9 667.4,211.4 667.9,228.7 668.3,211.4 668.9,192.9 669.3,174.3 669.7,154.4 670,135.7 670.2,124.2 672,122.9 672.3,133.7 672.8,153.6 673.3,173.5 673.8,194.7 674.2,213.5 675,226 676.2,234.2 677,236.9 678.4,238 681.4,235 683,240.1 684.6,243 687.9,243.6 690.5,242.5 693.3,240.9 695.5,239.2 697.4,237.4 699.2,239.9 702.8,240.1 702.8,240.5 699.2,240.2 697.4,237.9 695.5,239.6 693.3,241.2 690.5,242.6 687.9,243.7 684.6,243.1 683,240.1 681.4,235.1 678.4,238.1 677,237 676.2,234.3 675,226.3 674.2,215 673.8,199.3 673.3,177.1 672.8,157.3 672.3,137.5 672,127.1 670.2,129.7 670,141.4 669.7,158.9 669.3,178.7 668.9,195.8 668.3,212.8 667.9,229.3 667.4,212.8 666.9,197.8 665.6,173.5 664.4,153.9 663.1,129.5 661.3,103.8 660.8,90.9 660.5,108.8 660.2,131.7 659.4,162.3 658.6,207.3 658.2,219.2 657.6,229.2 656.3,236.1 654.1,235.6 651.4,227.8 649.3,223.2 647.1,229.7 644.4,234.6 641.7,240.8 639,243.1 635.7,241.1 633,244.1 630.5,243.2 628.7,240.9 626.5,234.4 624.4,233.1 623.3,236.4 621.7,244.6 616.8,244.1 613.5,242.2 610.5,241 608.4,240.3 606,242.2 603.8,243.9 599.5,243.1 597.3,244.1 593,243.1 587.6,242.2 584.9,244.1 583,242 581.6,238.3 580.3,231.6 579.5,225.2 578.3,220.3 576.5,222.9 575,223.3 573.4,219.6 571.8,214.8 570.4,217.2 568.6,221 566.9,221.2 564.5,218.3 562.8,216.4 561.5,222.7 560.1,235.2 558,237.6 555.5,236.2 553.5,233.6 551.6,230.2 549.9,223.7 548.2,218.3 546.8,214.6 545.5,220.1 544.3,228 543.2,220.9 542.2,215.5 540.5,224.4 539,236.9 537.5,240.5 536,235.3 534.5,226.5 532.9,215.9 531.2,224.7 529.6,234.7 527.8,225.4 526.2,213.8 524.5,225.4 523,240.3 521,242.8 514.5,243 512.9,242.1 511.5,233.7 510,229.4 508,223.3 507,218.1 505.8,213.7 504.6,212.5 503,207.8 502.2,203.5 501.1,196.9 500,210.4 499.1,224.7 498.1,235.7 495.9,241 492.1,239.1 489.7,242.3 487.2,239.1 485,235.7 483,243.2 481.3,244.1 477.5,241.7 473.7,243.7 468.3,243.7 465,243.4 462.3,242.3 460.2,235.5 457.5,229.6 454.8,227.2 452.6,227.7 450.4,232.6 448.6,229.6 447.2,232.6 445.6,238.7 441.2,240.1 437.4,242.3 435,239.1 432.6,241.1 430.5,239.9 428.2,238.2 426,233.5 424.6,231.4 422.6,232 421,231.3 420,227.7 419,220.3 418,218.7 416.6,217.7 414,219.8 412,219.5 410.8,217 409.5,214.9 408.4,228.5 407.4,238.3 406,234.2 404.6,223.2 403.8,208.3 403.4,192.4 402.8,158.9 402.2,128 402.1,109.1 401.2,73.8 400.5,63.4 399.7,73.8 398.7,87.4 397.6,143.5 397.2,192.4 396.9,204.5 396.5,213.8 395.6,224.2 394,229.7 392,233.2 390,236.5 387,237.6 384,237.6 381.5,235.9 379,233.2 377.5,227.8 376,219.1 374.5,204.8 373.4,196.8 372.2,194.1 371,192.7 369.6,202.1 368,211.9 366.5,217.3 364.5,211.9 363.2,207.5 361.6,203.5 360.5,214.4 359.5,233.8 357.8,236.1 355.5,234.1 353.4,231.6 351.8,225.7 350.5,221.8 348.6,223.7 345.9,227.7 343.7,226.7 341.5,233.6 339.4,240.4 336.7,244.1 331.8,243.7 328.5,242 326,242.7 323,243.9 311,243.9 307,242.9 305,243.9 299.3,243.7 296,239 295.3,230.1 294.4,222.2 293.4,216.2 291.6,226.1 290.6,222.2 289.6,207.6 288.8,198 288,205.8 287,212.3 285.4,232.6 284.3,244.3 273.4,244.1 270.7,242.2 269.5,236.8 268.2,233.7 266.8,235.9 265,239 263,235.9 261.5,232.9 260,235.5 258.3,238 254.5,239 251.3,235.6 250.2,227.1 249.1,200.4 248.5,186.4 247.6,175.4 246.5,183.4 245.3,200.4 243.7,211.1 241,220.8 239.8,217.2 238.6,215.3 236.6,232.6 234.5,238.5 229,240 225,240.3 220.4,240 217.7,238 216.3,238.6 215,237.1 213.5,233.2 212,235.9 210,240.4 208.2,243.7 206.5,240.4 205,235 203.5,228.7 202.2,225.3 200.5,230.5 199,235.6 197.5,234.1 195.7,232.7 192.5,236.8 190,240.4 187.6,242.2 186.6,236.7 186,226.6 185.8,208.2 185.2,185.5 184.6,167.6 184.3,158.4 183.9,153.5 183,155.1 182,158.4 181,170.6 180.3,194.4 179.8,212.8 179.5,229.3 178.6,236.8 177.4,235.4 175,236.8 173.3,234.5 172.2,229 171.6,217.6 171,206.3 170.4,183 170,170.1 169.6,160.8 168.9,152.1 168.1,141.9 167,143.6 165.6,147 164.4,151.1 163.1,155.9 161.6,151.4 160.6,145.5 159.4,139.7 158.7,133.5 158.3,145.5 157.7,170.8 157.1,215.3 156.8,232.1 156.3,240.7 153,240.7 151,240.1 145,240 137.2,240.1" fill="#4175b4"/>
<polyline points="137.2,239.8 145,239.7 151,239.9 153,240.4 156.3,240.4 156.8,232.1 157.1,215.2 157.7,170.4 158.3,136.3 158.7,116.7 159.4,126.9 160.6,136.3 161.6,145.2 163.1,151.7 164.4,144.4 165.6,138.5 167,134.1 168.1,132.1 168.9,141 169.6,149.2 170,159.8 170.4,175 171,203.2 171.6,215.3 172.2,227.5 173.3,234 175,236.4 177.4,235 178.6,236.4 179.5,228.7 179.8,211.4 180.3,192.2 181,170.3 182,155.7 183,151.3 183.9,149.2 184.3,155.7 184.6,167.3 185.2,185.2 185.8,206.6 186,225.8 186.6,236.3 187.6,242.1 190,240.2 192.5,236.4 195.7,232 197.5,233.6 199,235.1 200.5,229.7 202.2,224.3 203.5,227.8 205,234.5 206.5,240.2 208.2,243.6 210,240.2 212,235.5 213.5,232.6 215,236.7 216.3,238.3 217.7,237.6 220.4,239.7 225,240 229,239.7 234.5,238.2 236.6,232.5 238.6,213.6 239.8,216.1 241,220.7 243.7,210.9 245.3,200.2 246.5,181.7 247.6,171 248.5,185.7 249.1,200.2 250.2,227.1 251.3,235.1 254.5,238.7 258.3,237.6 260,235 261.5,232.3 263,235.5 265,238.7 266.8,235.5 268.2,233.1 269.5,236.4 270.7,242.1 273.4,244.1 284.3,244.3 285.4,232.5 287,211.5 288,202.9 288.8,192.5 289.6,205.3 290.6,222.1 291.6,226.1 293.4,216.1 294.4,222.1 295.3,230.1 296,239 299.3,243.6 305,243.9 307,242.9 311,243.9 323,243.9 326,242.6 328.5,241.9 331.8,243.6 336.7,244.1 339.4,240.2 341.5,233.1 343.7,225.8 345.9,226.9 348.6,222.7 350.5,220.7 351.8,224.8 353.4,231 355.5,233.5 357.8,235.6 359.5,233.1 360.5,212.6 361.6,201 363.2,205.2 364.5,210 366.5,215.6 368,210 369.6,199.6 371,189.5 372.2,191.1 373.4,193.9 374.5,202.4 376,217.5 377.5,226.9 379,232.6 381.5,235.5 384,237.2 387,237.2 390,236 392,232.6 394,228.8 395.6,223.1 396.5,212.9 396.9,202.3 397.2,188.7 397.6,131.7 398.7,84.2 399.7,66.9 400.5,51.9 401.2,66.9 402.1,95 402.2,124 402.8,154.4 403.4,188.7 403.8,206.6 404.6,222.6 406,233.1 407.4,237.7 408.4,226.8 409.5,211.6 410.8,214 412,216.7 414,217.1 416.6,214.7 418,215.8 419,217.7 420,225.8 421,230.4 422.6,231.2 424.6,230.5 426,232.8 428.2,237.7 430.5,239.6 432.6,240.8 435,238.8 437.4,242.2 441.2,239.8 445.6,238.3 447.2,232 448.6,228.9 450.4,232 452.6,226.9 454.8,226.3 457.5,228.9 460.2,235.1 462.3,242.1 465,243.4 468.3,243.7 473.7,243.7 477.5,241.6 481.3,244.1 483,243.1 485,235.2 487.2,238.7 489.7,242.1 492.1,238.7 495.9,240.8 498.1,235.2 499.1,223.2 500,207.7 501.1,193.1 502.2,200.2 503,204.9 504.6,210 505.8,211.2 507,216.1 508,221.7 510,228.2 511.5,232.8 512.9,242 514.5,243 521,242.8 523,239.9 524.5,223.7 526.2,211.1 527.8,223.7 529.6,233.9 531.2,223.3 532.9,213.9 534.5,225.2 536,234.6 537.5,240.2 539,236.5 540.5,223.2 542.2,213.8 543.2,219.4 544.3,227 545.5,219.1 546.8,213.3 548.2,217.1 549.9,222.8 551.6,229.6 553.5,233.1 555.5,235.9 558,237.3 560.1,234.6 561.5,221.4 562.8,214.7 564.5,216.7 566.9,219.8 568.6,220.2 570.4,216.4 571.8,213.8 573.4,218.8 575,222.7 576.5,222.2 578.3,219.6 579.5,224.6 580.3,231.2 581.6,238.1 583,241.9 584.9,244.1 587.6,242.1 593,243 597.3,244.1 599.5,243 603.8,243.9 606,242.2 608.4,240.1 610.5,240.9 613.5,242.1 616.8,244.1 621.7,244.6 623.3,236.1 624.4,232.6 626.5,233.9 628.7,240.8 630.5,243.1 633,244.1 635.7,241 639,243 641.7,240.7 644.4,234.1 647.1,228.9 649.3,222 651.4,226.9 654.1,235.1 656.3,235.7 657.6,228.6 658.2,217.1 658.6,203.6 659.4,156.2 660.2,128.2 660.5,99.4 660.8,78.3 661.3,96.9 663.1,127.1 664.4,152 665.6,171.8 666.9,193.9 667.4,211.4 667.9,228.7 668.3,211.4 668.9,192.9 669.3,174.3 669.7,154.4 670,135.7 670.2,124.2 672,122.9 672.3,133.7 672.8,153.6 673.3,173.5 673.8,194.7 674.2,213.5 675,226 676.2,234.2 677,236.9 678.4,238 681.4,235 683,240.1 684.6,243 687.9,243.6 690.5,242.5 693.3,240.9 695.5,239.2 697.4,237.4 699.2,239.9 702.8,240.1" fill="none" stroke="#4175b4" stroke-width="2.08" stroke-linejoin="round"/>
<polygon points="137.2,239.5 145,239.4 151,239.6 153,240.2 156.3,240.2 156.8,232 157.1,215 157.7,170 158.3,127 158.7,100 159.4,114 160.6,127 161.6,139 163.1,147.5 164.4,137.7 165.6,130 167,124.5 168.1,122.2 168.9,130 169.6,137.7 170,149.4 170.4,167 171,200 171.6,213 172.2,226 173.3,233.5 175,236 177.4,234.5 178.6,236 179.5,228 179.8,210 180.3,190 181,170 182,153 183,147.5 183.9,144.9 184.3,153 184.6,167 185.2,185 185.8,205 186,225 186.6,236 187.6,242 190,240 192.5,236 195.7,231.4 197.5,233 199,234.6 200.5,229 202.2,223.3 203.5,227 205,234 206.5,240 208.2,243.6 210,240 212,235 213.5,232 215,236.3 216.3,238 217.7,237.3 220.4,239.5 225,239.8 229,239.5 234.5,237.9 236.6,232.5 238.6,211.9 239.8,215 241,220.6 243.7,210.8 245.3,200 246.5,180 247.6,166.6 248.5,185 249.1,200 250.2,227 251.3,234.6 254.5,238.4 258.3,237.3 260,234.5 261.5,231.7 263,235 265,238.4 266.8,235 268.2,232.5 269.5,236 270.7,242 273.4,244.1 284.3,244.3 285.4,232.5 287,210.8 288,200 288.8,187 289.6,203 290.6,222 291.6,226 293.4,216 294.4,222 295.3,230 296,239 299.3,243.6 305,243.9 307,242.8 311,243.9 323,243.9 326,242.5 328.5,241.8 331.8,243.6 336.7,244.1 339.4,240 341.5,232.5 343.7,224.9 345.9,226 348.6,221.6 350.5,219.5 351.8,223.8 353.4,230.3 355.5,233 357.8,235.2 359.5,232.5 360.5,210.8 361.6,198.5 363.2,203 364.5,208 366.5,214 368,208 369.6,197 371,186.4 372.2,188 373.4,191 374.5,200 376,216 377.5,226 379,232 381.5,235 384,236.8 387,236.8 390,235.6 392,232 394,228 395.6,222 396.5,212 396.9,200 397.2,185 397.6,120 398.7,81 399.7,60 400.5,40.5 401.2,60 402.1,81 402.2,120 402.8,150 403.4,185 403.8,205 404.6,222 406,232 407.4,237 408.4,225 409.5,208.4 410.8,211 412,214 414,214.4 416.6,211.8 418,213 419,215 420,224 421,229.5 422.6,230.3 424.6,229.6 426,232 428.2,237.3 430.5,239.3 432.6,240.6 435,238.4 437.4,242 441.2,239.5 445.6,237.9 447.2,231.4 448.6,228.1 450.4,231.4 452.6,226 454.8,225.4 457.5,228.1 460.2,234.6 462.3,242 465,243.3 468.3,243.6 473.7,243.6 477.5,241.4 481.3,244.1 483,243 485,234.6 487.2,238.4 489.7,242 492.1,238.4 495.9,240.6 498.1,234.6 499.1,221.6 500,205 501.1,189.4 502.2,197 503,202 504.6,207.5 505.8,208.8 507,214 508,220 510,227 511.5,232 512.9,241.9 514.5,242.9 521,242.7 523,239.5 524.5,222 526.2,208.3 527.8,222 529.6,233 531.2,222 532.9,212 534.5,224 536,234 537.5,240 539,236 540.5,222 542.2,212 543.2,218 544.3,226 545.5,218 546.8,212 548.2,216 549.9,221.9 551.6,229 553.5,232.6 555.5,235.5 558,237 560.1,234 561.5,220 562.8,212.9 564.5,215 566.9,218.3 568.6,219.5 570.4,215.5 571.8,212.9 573.4,218 575,222 576.5,221.5 578.3,218.8 579.5,224 580.3,230.8 581.6,237.9 583,241.8 584.9,244.1 587.6,242 593,243 597.3,244.1 599.5,243 603.8,243.9 606,242.1 608.4,240 610.5,240.8 613.5,242 616.8,244.1 621.7,244.7 623.3,235.7 624.4,232.1 626.5,233.5 628.7,240.6 630.5,243.1 633,244.1 635.7,240.9 639,243 641.7,240.6 644.4,233.5 647.1,228.1 649.3,220.8 651.4,226 654.1,234.6 656.3,235.2 657.6,228 658.2,215 658.6,200 659.4,150 660.2,124.8 660.5,90 660.8,65.8 661.3,90 663.1,124.8 664.4,150 665.6,170 666.9,190 667.4,210 667.9,228 668.3,210 668.9,190 669.3,170 669.7,150 670,130 670.2,118.8 672,118.8 672.3,130 672.8,150 673.3,170 673.8,190 674.2,212 675,225.7 676.2,234 677,236.8 678.4,237.9 681.4,234.8 683,240 684.6,243 687.9,243.6 690.5,242.3 693.3,240.6 695.5,238.8 697.4,236.8 699.2,239.5 702.8,239.8 702.8,240.1 699.2,239.9 697.4,237.4 695.5,239.2 693.3,240.9 690.5,242.5 687.9,243.6 684.6,243 683,240.1 681.4,235 678.4,238 677,236.9 676.2,234.2 675,226 674.2,213.5 673.8,194.7 673.3,173.5 672.8,153.6 672.3,133.7 672,122.9 670.2,124.2 670,135.7 669.7,154.4 669.3,174.3 668.9,192.9 668.3,211.4 667.9,228.7 667.4,211.4 666.9,193.9 665.6,171.8 664.4,152 663.1,127.1 661.3,96.9 660.8,78.3 660.5,99.4 660.2,128.2 659.4,156.2 658.6,203.6 658.2,217.1 657.6,228.6 656.3,235.7 654.1,235.1 651.4,226.9 649.3,222 647.1,228.9 644.4,234.1 641.7,240.7 639,243 635.7,241 633,244.1 630.5,243.1 628.7,240.8 626.5,233.9 624.4,232.6 623.3,236.1 621.7,244.6 616.8,244.1 613.5,242.1 610.5,240.9 608.4,240.1 606,242.2 603.8,243.9 599.5,243 597.3,244.1 593,243 587.6,242.1 584.9,244.1 583,241.9 581.6,238.1 580.3,231.2 579.5,224.6 578.3,219.6 576.5,222.2 575,222.7 573.4,218.8 571.8,213.8 570.4,216.4 568.6,220.2 566.9,219.8 564.5,216.7 562.8,214.7 561.5,221.4 560.1,234.6 558,237.3 555.5,235.9 553.5,233.1 551.6,229.6 549.9,222.8 548.2,217.1 546.8,213.3 545.5,219.1 544.3,227 543.2,219.4 542.2,213.8 540.5,223.2 539,236.5 537.5,240.2 536,234.6 534.5,225.2 532.9,213.9 531.2,223.3 529.6,233.9 527.8,223.7 526.2,211.1 524.5,223.7 523,239.9 521,242.8 514.5,243 512.9,242 511.5,232.8 510,228.2 508,221.7 507,216.1 505.8,211.2 504.6,210 503,204.9 502.2,200.2 501.1,193.1 500,207.7 499.1,223.2 498.1,235.2 495.9,240.8 492.1,238.7 489.7,242.1 487.2,238.7 485,235.2 483,243.1 481.3,244.1 477.5,241.6 473.7,243.7 468.3,243.7 465,243.4 462.3,242.1 460.2,235.1 457.5,228.9 454.8,226.3 452.6,226.9 450.4,232 448.6,228.9 447.2,232 445.6,238.3 441.2,239.8 437.4,242.2 435,238.8 432.6,240.8 430.5,239.6 428.2,237.7 426,232.8 424.6,230.5 422.6,231.2 421,230.4 420,225.8 419,217.7 418,215.8 416.6,214.7 414,217.1 412,216.7 410.8,214 409.5,211.6 408.4,226.8 407.4,237.7 406,233.1 404.6,222.6 403.8,206.6 403.4,188.7 402.8,154.4 402.2,124 402.1,95 401.2,66.9 400.5,51.9 399.7,66.9 398.7,84.2 397.6,131.7 397.2,188.7 396.9,202.3 396.5,212.9 395.6,223.1 394,228.8 392,232.6 390,236 387,237.2 384,237.2 381.5,235.5 379,232.6 377.5,226.9 376,217.5 374.5,202.4 373.4,193.9 372.2,191.1 371,189.5 369.6,199.6 368,210 366.5,215.6 364.5,210 363.2,205.2 361.6,201 360.5,212.6 359.5,233.1 357.8,235.6 355.5,233.5 353.4,231 351.8,224.8 350.5,220.7 348.6,222.7 345.9,226.9 343.7,225.8 341.5,233.1 339.4,240.2 336.7,244.1 331.8,243.6 328.5,241.9 326,242.6 323,243.9 311,243.9 307,242.9 305,243.9 299.3,243.6 296,239 295.3,230.1 294.4,222.1 293.4,216.1 291.6,226.1 290.6,222.1 289.6,205.3 288.8,192.5 288,202.9 287,211.5 285.4,232.5 284.3,244.3 273.4,244.1 270.7,242.1 269.5,236.4 268.2,233.1 266.8,235.5 265,238.7 263,235.5 261.5,232.3 260,235 258.3,237.6 254.5,238.7 251.3,235.1 250.2,227.1 249.1,200.2 248.5,185.7 247.6,171 246.5,181.7 245.3,200.2 243.7,210.9 241,220.7 239.8,216.1 238.6,213.6 236.6,232.5 234.5,238.2 229,239.7 225,240 220.4,239.7 217.7,237.6 216.3,238.3 215,236.7 213.5,232.6 212,235.5 210,240.2 208.2,243.6 206.5,240.2 205,234.5 203.5,227.8 202.2,224.3 200.5,229.7 199,235.1 197.5,233.6 195.7,232 192.5,236.4 190,240.2 187.6,242.1 186.6,236.3 186,225.8 185.8,206.6 185.2,185.2 184.6,167.3 184.3,155.7 183.9,149.2 183,151.3 182,155.7 181,170.3 180.3,192.2 179.8,211.4 179.5,228.7 178.6,236.4 177.4,235 175,236.4 173.3,234 172.2,227.5 171.6,215.3 171,203.2 170.4,175 170,159.8 169.6,149.2 168.9,141 168.1,132.1 167,134.1 165.6,138.5 164.4,144.4 163.1,151.7 161.6,145.2 160.6,136.3 159.4,126.9 158.7,116.7 158.3,136.3 157.7,170.4 157.1,215.2 156.8,232.1 156.3,240.4 153,240.4 151,239.9 145,239.7 137.2,239.8" fill="#4f62ab"/>
<polyline points="137.2,239.5 145,239.4 151,239.6 153,240.2 156.3,240.2 156.8,232 157.1,215 157.7,170 158.3,127 158.7,100 159.4,114 160.6,127 161.6,139 163.1,147.5 164.4,137.7 165.6,130 167,124.5 168.1,122.2 168.9,130 169.6,137.7 170,149.4 170.4,167 171,200 171.6,213 172.2,226 173.3,233.5 175,236 177.4,234.5 178.6,236 179.5,228 179.8,210 180.3,190 181,170 182,153 183,147.5 183.9,144.9 184.3,153 184.6,167 185.2,185 185.8,205 186,225 186.6,236 187.6,242 190,240 192.5,236 195.7,231.4 197.5,233 199,234.6 200.5,229 202.2,223.3 203.5,227 205,234 206.5,240 208.2,243.6 210,240 212,235 213.5,232 215,236.3 216.3,238 217.7,237.3 220.4,239.5 225,239.8 229,239.5 234.5,237.9 236.6,232.5 238.6,211.9 239.8,215 241,220.6 243.7,210.8 245.3,200 246.5,180 247.6,166.6 248.5,185 249.1,200 250.2,227 251.3,234.6 254.5,238.4 258.3,237.3 260,234.5 261.5,231.7 263,235 265,238.4 266.8,235 268.2,232.5 269.5,236 270.7,242 273.4,244.1 284.3,244.3 285.4,232.5 287,210.8 288,200 288.8,187 289.6,203 290.6,222 291.6,226 293.4,216 294.4,222 295.3,230 296,239 299.3,243.6 305,243.9 307,242.8 311,243.9 323,243.9 326,242.5 328.5,241.8 331.8,243.6 336.7,244.1 339.4,240 341.5,232.5 343.7,224.9 345.9,226 348.6,221.6 350.5,219.5 351.8,223.8 353.4,230.3 355.5,233 357.8,235.2 359.5,232.5 360.5,210.8 361.6,198.5 363.2,203 364.5,208 366.5,214 368,208 369.6,197 371,186.4 372.2,188 373.4,191 374.5,200 376,216 377.5,226 379,232 381.5,235 384,236.8 387,236.8 390,235.6 392,232 394,228 395.6,222 396.5,212 396.9,200 397.2,185 397.6,120 398.7,81 399.7,60 400.5,40.5 401.2,60 402.1,81 402.2,120 402.8,150 403.4,185 403.8,205 404.6,222 406,232 407.4,237 408.4,225 409.5,208.4 410.8,211 412,214 414,214.4 416.6,211.8 418,213 419,215 420,224 421,229.5 422.6,230.3 424.6,229.6 426,232 428.2,237.3 430.5,239.3 432.6,240.6 435,238.4 437.4,242 441.2,239.5 445.6,237.9 447.2,231.4 448.6,228.1 450.4,231.4 452.6,226 454.8,225.4 457.5,228.1 460.2,234.6 462.3,242 465,243.3 468.3,243.6 473.7,243.6 477.5,241.4 481.3,244.1 483,243 485,234.6 487.2,238.4 489.7,242 492.1,238.4 495.9,240.6 498.1,234.6 499.1,221.6 500,205 501.1,189.4 502.2,197 503,202 504.6,207.5 505.8,208.8 507,214 508,220 510,227 511.5,232 512.9,241.9 514.5,242.9 521,242.7 523,239.5 524.5,222 526.2,208.3 527.8,222 529.6,233 531.2,222 532.9,212 534.5,224 536,234 537.5,240 539,236 540.5,222 542.2,212 543.2,218 544.3,226 545.5,218 546.8,212 548.2,216 549.9,221.9 551.6,229 553.5,232.6 555.5,235.5 558,237 560.1,234 561.5,220 562.8,212.9 564.5,215 566.9,218.3 568.6,219.5 570.4,215.5 571.8,212.9 573.4,218 575,222 576.5,221.5 578.3,218.8 579.5,224 580.3,230.8 581.6,237.9 583,241.8 584.9,244.1 587.6,242 593,243 597.3,244.1 599.5,243 603.8,243.9 606,242.1 608.4,240 610.5,240.8 613.5,242 616.8,244.1 621.7,244.7 623.3,235.7 624.4,232.1 626.5,233.5 628.7,240.6 630.5,243.1 633,244.1 635.7,240.9 639,243 641.7,240.6 644.4,233.5 647.1,228.1 649.3,220.8 651.4,226 654.1,234.6 656.3,235.2 657.6,228 658.2,215 658.6,200 659.4,150 660.2,124.8 660.5,90 660.8,65.8 661.3,90 663.1,124.8 664.4,150 665.6,170 666.9,190 667.4,210 667.9,228 668.3,210 668.9,190 669.3,170 669.7,150 670,130 670.2,118.8 672,118.8 672.3,130 672.8,150 673.3,170 673.8,190 674.2,212 675,225.7 676.2,234 677,236.8 678.4,237.9 681.4,234.8 683,240 684.6,243 687.9,243.6 690.5,242.3 693.3,240.6 695.5,238.8 697.4,236.8 699.2,239.5 702.8,239.8" fill="none" stroke="#4f62ab" stroke-width="2.08" stroke-linejoin="round"/>
</g>
<rect x="110.5" y="30.5" width="620" height="224.9" fill="none" stroke="#000" stroke-width="1.1"/>
<line x1="105.6" y1="244.50" x2="110.5" y2="244.50" stroke="#000" stroke-width="1.1"/>
<text x="101" y="251.00" font-size="13.89" text-anchor="end">0</text>
<line x1="105.6" y1="191.50" x2="110.5" y2="191.50" stroke="#000" stroke-width="1.1"/>
<text x="98.6" y="197.20" font-size="13.89" text-anchor="end">500</text>
<line x1="105.6" y1="137.50" x2="110.5" y2="137.50" stroke="#000" stroke-width="1.1"/>
<text x="99.5" y="144.10" font-size="13.89" text-anchor="end">1000</text>
<line x1="105.6" y1="84.50" x2="110.5" y2="84.50" stroke="#000" stroke-width="1.1"/>
<text x="99.5" y="90.10" font-size="13.89" text-anchor="end">1500</text>
<line x1="105.6" y1="30.50" x2="110.5" y2="30.50" stroke="#000" stroke-width="1.1"/>
<text x="99.4" y="36.10" font-size="13.89" text-anchor="end">2000</text>
<line x1="156.40" y1="255.4" x2="156.40" y2="260.3" stroke="#000" stroke-width="1.1"/>
<text transform="translate(153.70,275.00) rotate(-30)" font-size="13.7" text-anchor="end">02-Aug-2024</text>
<line x1="211.20" y1="255.4" x2="211.20" y2="260.3" stroke="#000" stroke-width="1.1"/>
<text transform="translate(208.50,275.00) rotate(-30)" font-size="13.7" text-anchor="end">05-Aug-2024</text>
<line x1="266.00" y1="255.4" x2="266.00" y2="260.3" stroke="#000" stroke-width="1.1"/>
<text transform="translate(263.30,275.00) rotate(-30)" font-size="13.7" text-anchor="end">08-Aug-2024</text>
<line x1="320.80" y1="255.4" x2="320.80" y2="260.3" stroke="#000" stroke-width="1.1"/>
<text transform="translate(318.10,275.00) rotate(-30)" font-size="13.7" text-anchor="end">11-Aug-2024</text>
<line x1="375.60" y1="255.4" x2="375.60" y2="260.3" stroke="#000" stroke-width="1.1"/>
<text transform="translate(372.90,275.00) rotate(-30)" font-size="13.7" text-anchor="end">14-Aug-2024</text>
<line x1="430.40" y1="255.4" x2="430.40" y2="260.3" stroke="#000" stroke-width="1.1"/>
<text transform="translate(427.70,275.00) rotate(-30)" font-size="13.7" text-anchor="end">17-Aug-2024</text>
<line x1="485.20" y1="255.4" x2="485.20" y2="260.3" stroke="#000" stroke-width="1.1"/>
<text transform="translate(482.50,275.00) rotate(-30)" font-size="13.7" text-anchor="end">20-Aug-2024</text>
<line x1="540.00" y1="255.4" x2="540.00" y2="260.3" stroke="#000" stroke-width="1.1"/>
<text transform="translate(537.30,275.00) rotate(-30)" font-size="13.7" text-anchor="end">23-Aug-2024</text>
<line x1="594.80" y1="255.4" x2="594.80" y2="260.3" stroke="#000" stroke-width="1.1"/>
<text transform="translate(592.10,275.00) rotate(-30)" font-size="13.7" text-anchor="end">26-Aug-2024</text>
<line x1="649.60" y1="255.4" x2="649.60" y2="260.3" stroke="#000" stroke-width="1.1"/>
<text transform="translate(646.90,275.00) rotate(-30)" font-size="13.7" text-anchor="end">29-Aug-2024</text>
<line x1="704.40" y1="255.4" x2="704.40" y2="260.3" stroke="#000" stroke-width="1.1"/>
<text transform="translate(701.70,275.00) rotate(-30)" font-size="13.7" text-anchor="end">01-Sep-2024</text>
<text x="419.8" y="22.2" font-size="16.67" text-anchor="middle">Age contribution to DUST-405 concentrations</text>
<text transform="translate(24.2,143.4) rotate(-90)" font-size="19.5" text-anchor="middle">DUST-405 concentration</text>
<text transform="translate(50.5,144.2) rotate(-90)" font-size="19.5" text-anchor="middle">(ng m<tspan font-size="13.6" dy="-6.4" dx="0.3">−3</tspan><tspan dy="6.4" dx="0.9">)</tspan></text>
<rect x="110.50" y="344.5" width="19.87" height="46.7" fill="#a70b44"/>
<rect x="130.07" y="344.5" width="20.97" height="46.7" fill="#ba2048"/>
<rect x="150.73" y="344.5" width="20.97" height="46.7" fill="#cc344d"/>
<rect x="171.40" y="344.5" width="20.97" height="46.7" fill="#da464d"/>
<rect x="192.07" y="344.5" width="20.97" height="46.7" fill="#e45649"/>
<rect x="212.73" y="344.5" width="20.97" height="46.7" fill="#ef6545"/>
<rect x="233.40" y="344.5" width="20.97" height="46.7" fill="#f67848"/>
<rect x="254.07" y="344.5" width="20.97" height="46.7" fill="#f88e52"/>
<rect x="274.73" y="344.5" width="20.97" height="46.7" fill="#fca35c"/>
<rect x="295.40" y="344.5" width="20.97" height="46.7" fill="#fdb668"/>
<rect x="316.07" y="344.5" width="20.97" height="46.7" fill="#fec776"/>
<rect x="336.73" y="344.5" width="20.97" height="46.7" fill="#fed884"/>
<rect x="357.40" y="344.5" width="20.97" height="46.7" fill="#fee594"/>
<rect x="378.07" y="344.5" width="20.97" height="46.7" fill="#fef0a5"/>
<rect x="398.73" y="344.5" width="20.97" height="46.7" fill="#fffab6"/>
<rect x="419.40" y="344.5" width="20.97" height="46.7" fill="#fbfdb8"/>
<rect x="440.07" y="344.5" width="20.97" height="46.7" fill="#f2faac"/>
<rect x="460.73" y="344.5" width="20.97" height="46.7" fill="#eaf79e"/>
<rect x="481.40" y="344.5" width="20.97" height="46.7" fill="#dcf19a"/>
<rect x="502.07" y="344.5" width="20.97" height="46.7" fill="#c8e99e"/>
<rect x="522.73" y="344.5" width="20.97" height="46.7" fill="#b5e1a2"/>
<rect x="543.40" y="344.5" width="20.97" height="46.7" fill="#9fd8a4"/>
<rect x="564.07" y="344.5" width="20.97" height="46.7" fill="#88d0a4"/>
<rect x="584.73" y="344.5" width="20.97" height="46.7" fill="#72c6a5"/>
<rect x="605.40" y="344.5" width="20.97" height="46.7" fill="#5db8a9"/>
<rect x="626.07" y="344.5" width="20.97" height="46.7" fill="#4ca5b1"/>
<rect x="646.73" y="344.5" width="20.97" height="46.7" fill="#3b92b9"/>
<rect x="667.40" y="344.5" width="20.97" height="46.7" fill="#397fb9"/>
<rect x="688.07" y="344.5" width="20.97" height="46.7" fill="#486cb0"/>
<rect x="708.73" y="344.5" width="21.77" height="46.7" fill="#5759a7"/>
<rect x="110.5" y="344.5" width="620" height="46.7" fill="none" stroke="#000" stroke-width="1.1"/>
<line x1="110.50" y1="391.2" x2="110.50" y2="396.1" stroke="#000" stroke-width="1.1"/>
<text x="110.50" y="413.3" font-size="13.89" text-anchor="middle">0</text>
<line x1="192.50" y1="391.2" x2="192.50" y2="396.1" stroke="#000" stroke-width="1.1"/>
<text x="193.17" y="413.3" font-size="13.89" text-anchor="middle">4</text>
<line x1="275.50" y1="391.2" x2="275.50" y2="396.1" stroke="#000" stroke-width="1.1"/>
<text x="275.83" y="413.3" font-size="13.89" text-anchor="middle">8</text>
<line x1="358.50" y1="391.2" x2="358.50" y2="396.1" stroke="#000" stroke-width="1.1"/>
<text x="358.50" y="413.3" font-size="13.89" text-anchor="middle">12</text>
<line x1="440.50" y1="391.2" x2="440.50" y2="396.1" stroke="#000" stroke-width="1.1"/>
<text x="441.17" y="413.3" font-size="13.89" text-anchor="middle">16</text>
<line x1="523.50" y1="391.2" x2="523.50" y2="396.1" stroke="#000" stroke-width="1.1"/>
<text x="523.83" y="413.3" font-size="13.89" text-anchor="middle">20</text>
<line x1="606.50" y1="391.2" x2="606.50" y2="396.1" stroke="#000" stroke-width="1.1"/>
<text x="606.50" y="413.3" font-size="13.89" text-anchor="middle">24</text>
<line x1="688.50" y1="391.2" x2="688.50" y2="396.1" stroke="#000" stroke-width="1.1"/>
<text x="689.17" y="413.3" font-size="13.89" text-anchor="middle">28</text>
<text x="419.9" y="371.8" font-size="13.89" text-anchor="middle">Days</text>
</svg></body></html>
